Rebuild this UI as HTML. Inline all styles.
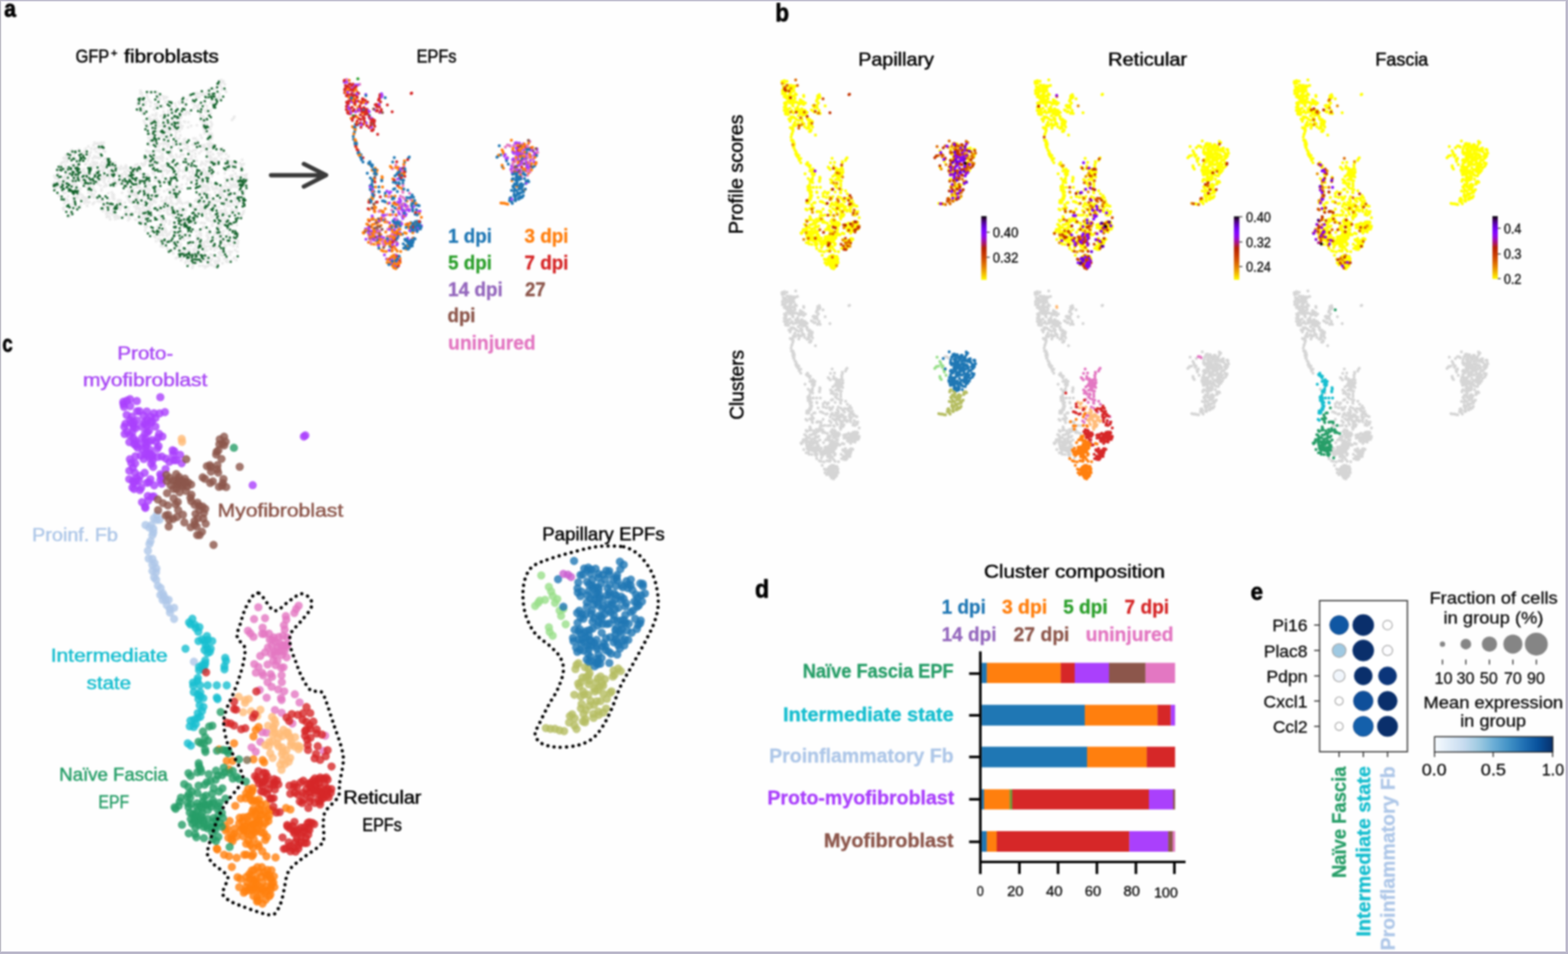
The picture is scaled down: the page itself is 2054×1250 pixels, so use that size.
<!DOCTYPE html>
<html lang="en"><head><meta charset="utf-8"><title>EPF single-cell figure</title>
<style>
html,body{margin:0;padding:0;background:#fff;}
body{width:2054px;height:1250px;overflow:hidden;}
svg{display:block;font-family:'Liberation Sans',sans-serif;}
</style></head><body>
<svg width="2054" height="1250" viewBox="0 0 2054 1250">
<defs><filter id="soft" color-interpolation-filters="sRGB" filterUnits="userSpaceOnUse" x="0" y="0" width="2054" height="1250"><feGaussianBlur stdDeviation="0.8"/></filter></defs>
<rect x="0" y="0" width="2054" height="1250" fill="#fefefe"/>
<g filter="url(#soft)">
<rect x="-10" y="-10" width="2074" height="1270" fill="#fefefe"/>
<text x="5.4" y="21.6" font-size="30.6" fill="#000" font-weight="700" textLength="15.42" lengthAdjust="spacingAndGlyphs" stroke="#000" stroke-width="0.90" stroke-linejoin="round">a</text>
<text fill="#000" stroke="#000" stroke-width="0.6" stroke-linejoin="round"><tspan x="99.0" y="82.2" font-size="24.6" textLength="44.12" lengthAdjust="spacingAndGlyphs">GFP</tspan><tspan x="145.2" y="74.0" font-size="15.5" textLength="8.59" lengthAdjust="spacingAndGlyphs">+</tspan> <tspan x="162.6" y="82.2" font-size="24.6" textLength="124.11" lengthAdjust="spacingAndGlyphs">fibroblasts</tspan></text>
<text x="545.8" y="81.9" font-size="24.2" fill="#000" textLength="52.20" lengthAdjust="spacingAndGlyphs" stroke="#000" stroke-width="0.60" stroke-linejoin="round">EPFs</text>
<path d="M128.3 238.2h0M190.8 262.3h0M105.5 261.3h0M264.7 250.1h0M296.2 281.4h0M275.8 212.9h0M311.1 323.2h0M180.3 259.2h0M144.9 228.8h0M219.3 248.4h0M244.7 336.0h0M241.9 141.4h0M291.5 345.0h0M303.0 244.6h0M216.3 172.4h0M275.8 204.3h0M267.4 321.7h0M77.6 256.1h0M322.9 228.4h0M86.2 252.3h0M172.9 255.1h0M165.0 216.9h0M202.3 263.5h0M222.1 242.1h0M198.8 209.5h0M322.2 232.4h0M174.8 247.3h0M230.4 218.4h0M244.0 189.6h0M251.2 287.5h0M243.1 344.7h0M131.8 215.9h0M221.3 181.3h0M73.1 244.6h0M276.6 160.6h0M115.1 210.5h0M248.9 125.9h0M284.4 211.4h0M154.2 265.2h0M297.8 214.6h0M204.8 148.5h0M277.4 313.0h0M277.5 263.1h0M274.0 168.9h0M261.3 312.5h0M239.7 231.8h0M220.2 172.9h0M302.7 276.2h0M308.0 327.7h0M301.7 246.5h0M239.7 233.3h0M226.4 186.7h0M191.0 298.7h0M206.1 307.5h0M307.5 304.7h0M230.7 319.1h0M136.4 233.9h0M176.8 220.1h0M88.6 227.5h0M158.0 264.3h0M219.7 191.7h0M98.4 241.1h0M253.6 196.6h0M229.2 209.6h0M163.6 226.0h0M250.2 206.8h0M247.9 217.1h0M130.2 236.1h0M296.5 337.9h0M273.2 166.6h0M187.6 131.3h0M279.1 268.2h0M298.5 301.3h0M240.9 286.4h0M213.7 126.2h0M286.5 130.8h0M287.1 271.1h0M285.1 341.9h0M217.7 302.9h0M200.0 281.7h0M151.0 243.3h0M227.4 291.4h0M264.1 271.2h0M201.5 222.9h0M234.5 327.9h0M262.0 332.8h0M201.5 212.5h0M118.2 248.7h0M247.1 342.2h0M143.5 279.2h0M219.2 167.9h0M191.6 197.2h0M191.7 252.1h0M281.3 241.5h0M192.1 283.1h0M290.4 201.7h0M258.2 343.9h0M188.5 158.3h0M242.9 343.5h0M291.0 328.5h0M257.0 121.8h0M218.0 271.6h0M180.3 223.4h0M121.0 248.6h0M208.6 130.3h0M138.0 269.0h0M268.4 292.4h0M143.4 271.7h0M237.4 304.7h0M317.9 270.9h0M206.5 128.8h0M195.4 189.4h0M254.1 272.4h0M214.4 146.2h0M235.2 260.2h0M237.7 131.3h0M152.9 283.0h0M222.5 241.0h0M235.6 216.3h0M263.7 238.0h0M259.8 191.2h0M135.7 197.4h0M294.6 110.7h0M198.2 162.8h0M267.5 189.9h0M207.9 296.0h0M270.1 284.7h0M279.7 290.2h0M221.1 137.2h0M204.2 244.4h0M276.4 326.4h0M192.8 252.7h0M267.9 268.1h0M194.9 233.0h0M186.7 149.1h0M197.1 264.1h0M182.4 243.8h0M86.4 236.9h0M294.1 276.4h0M253.6 287.9h0M310.1 318.8h0M193.1 127.7h0M196.3 277.6h0M206.8 207.2h0M236.1 177.4h0M187.7 292.3h0M301.6 282.8h0M204.7 251.5h0M103.6 216.8h0M110.7 202.6h0M172.8 278.7h0M90.7 220.5h0M109.2 258.1h0M230.8 187.6h0M90.6 273.3h0M319.9 250.4h0M237.4 328.7h0M306.4 338.8h0M288.7 129.1h0M244.2 335.8h0M258.3 312.3h0M191.9 168.4h0M224.7 280.5h0M167.3 223.7h0M264.7 272.0h0M287.0 263.2h0M296.2 321.6h0M258.0 184.8h0M93.5 244.5h0M236.1 161.1h0M234.9 248.7h0M213.4 206.6h0M270.7 253.5h0M272.6 235.9h0M283.3 256.3h0M234.2 293.4h0M224.0 213.2h0M221.7 307.0h0M120.0 237.0h0M187.6 284.9h0M210.8 286.8h0M176.8 264.7h0M224.7 154.4h0M256.3 322.2h0M310.0 236.1h0M302.6 341.2h0M192.9 296.5h0M91.1 283.5h0M143.1 231.9h0M265.8 277.9h0M187.3 233.6h0M208.0 191.4h0M277.5 175.5h0M205.1 236.1h0M271.8 348.7h0M209.1 123.8h0M276.2 206.2h0M178.5 259.4h0M242.9 331.8h0M277.8 162.8h0M272.9 229.2h0M283.7 240.2h0M301.0 330.2h0M188.5 269.0h0M309.3 306.8h0M223.9 205.3h0M201.8 143.4h0M202.8 204.6h0M289.0 310.2h0M310.0 255.6h0M74.0 245.9h0M210.0 223.8h0M139.3 280.2h0M241.2 194.3h0M317.6 263.5h0M113.5 197.4h0M86.8 233.7h0M260.7 312.9h0M231.4 307.7h0M136.1 222.6h0M136.2 238.7h0M235.5 136.1h0M281.5 322.2h0M206.1 197.1h0M94.0 199.0h0M130.4 190.0h0M315.1 223.2h0M270.9 244.5h0M187.6 236.7h0M181.9 235.7h0M245.6 233.4h0M266.7 123.5h0M207.6 212.1h0M104.3 252.5h0M150.7 228.6h0M159.9 252.7h0M311.3 319.0h0M98.3 227.2h0M257.8 186.6h0M235.1 171.7h0M319.3 215.0h0M191.2 235.0h0M204.5 212.2h0M289.9 197.5h0M122.2 239.4h0M297.6 209.5h0M293.3 280.7h0M198.4 201.3h0M163.6 265.5h0M295.3 248.4h0M206.0 287.3h0M283.0 312.8h0M305.2 212.1h0M244.8 130.7h0M281.8 252.1h0M137.8 198.7h0M200.1 209.8h0M230.7 267.6h0M87.9 212.2h0M191.7 207.2h0M300.3 309.9h0M218.7 324.6h0M118.9 199.5h0M89.2 262.9h0M203.2 245.8h0M207.2 172.3h0M204.4 151.4h0M100.8 235.0h0M228.4 190.1h0M267.4 331.1h0M290.7 287.5h0M75.9 226.7h0M284.2 114.5h0M135.0 276.3h0M123.7 212.3h0M214.0 162.4h0M225.7 144.6h0M222.6 259.5h0M272.1 318.3h0M194.4 247.1h0M154.8 286.0h0M218.9 127.3h0M204.4 316.1h0M191.2 237.0h0M218.7 309.3h0M265.4 240.4h0M297.8 237.5h0M243.8 286.7h0M157.9 221.6h0M214.6 163.5h0M94.7 240.7h0M149.8 284.1h0M111.2 200.2h0M117.4 203.7h0M217.0 127.2h0M80.4 222.5h0M118.8 228.3h0M190.9 210.2h0M114.8 245.1h0M199.8 150.7h0M273.2 286.3h0M250.3 290.6h0M125.0 216.1h0M265.7 142.0h0M261.2 228.1h0M246.1 208.6h0M276.7 165.4h0M208.6 248.8h0M110.5 262.7h0M288.1 284.8h0M211.8 289.4h0M259.7 223.1h0M259.5 138.0h0M208.5 269.8h0M224.2 140.9h0M101.8 258.7h0M271.7 199.3h0M226.1 166.9h0M139.8 277.5h0M201.8 183.3h0M276.2 198.7h0M277.0 213.1h0M240.9 183.0h0M124.8 214.9h0M275.7 187.7h0M126.2 205.6h0M216.1 238.6h0M222.5 173.7h0M215.1 167.4h0M265.6 252.7h0M239.5 286.8h0M202.7 208.3h0M274.1 227.0h0M218.5 258.4h0M180.9 132.0h0M98.0 226.9h0M191.7 162.9h0M293.7 330.0h0M145.8 220.1h0M100.8 258.9h0M261.1 234.8h0M267.5 229.1h0M242.5 230.2h0M83.9 271.8h0M187.9 252.8h0M133.3 190.8h0M236.4 288.9h0M316.7 221.1h0M112.8 227.4h0M214.0 186.4h0M258.0 290.8h0M161.3 284.3h0M224.7 263.1h0M256.7 126.4h0M266.8 221.5h0M165.2 227.8h0M169.5 264.1h0M253.4 332.4h0M275.7 281.1h0M269.5 328.4h0M98.0 251.0h0M290.1 330.2h0M180.0 136.9h0M122.5 237.7h0M212.8 201.2h0M198.9 175.7h0M285.5 337.2h0M263.3 308.2h0M305.5 241.7h0M96.5 208.5h0M240.2 127.1h0M156.4 266.2h0M221.5 163.7h0M98.5 246.2h0M149.0 238.0h0M142.2 223.6h0M270.0 211.2h0M267.2 222.6h0M208.7 221.7h0M195.9 214.7h0M189.8 281.7h0M207.7 313.1h0M287.5 322.8h0M263.9 214.7h0M260.9 302.1h0M295.3 239.3h0M75.9 229.7h0M250.7 288.9h0M228.4 294.6h0M116.3 236.2h0M219.8 132.6h0M241.4 134.7h0M256.9 303.2h0M301.6 211.3h0M168.1 232.2h0M266.7 297.3h0M309.2 285.3h0M221.7 202.8h0M317.2 209.4h0M314.1 265.1h0M186.0 267.7h0M223.7 256.9h0M195.7 232.8h0M85.1 223.2h0M182.0 280.7h0M100.8 242.6h0M316.8 215.6h0M214.2 173.6h0M238.8 306.5h0M181.1 224.2h0M229.8 248.5h0M201.9 187.2h0M82.9 240.4h0M161.2 236.3h0M218.2 160.6h0M262.8 158.1h0M280.5 247.2h0M105.0 208.9h0M307.3 313.7h0M310.1 277.4h0M275.2 124.2h0M261.0 200.7h0M265.0 274.5h0M287.4 110.8h0M135.5 193.6h0M178.5 270.3h0M296.3 288.0h0M309.3 276.8h0M159.4 229.0h0M262.1 307.0h0M227.0 158.0h0M236.0 223.3h0M117.1 244.8h0M297.8 249.0h0M294.3 324.5h0M237.0 153.5h0M264.4 245.9h0M282.4 190.5h0M239.6 196.1h0M212.9 210.6h0M234.5 231.3h0M297.9 292.7h0M257.5 308.9h0M237.0 154.2h0M254.7 232.9h0M236.0 290.9h0M238.1 247.2h0M229.3 248.4h0M147.4 257.3h0M98.8 233.5h0M276.8 220.1h0M263.8 197.7h0M203.2 141.0h0M290.8 294.1h0M265.1 121.1h0M214.1 223.9h0M298.4 258.6h0M96.2 238.2h0M291.1 249.8h0M282.3 247.2h0M230.3 181.9h0M273.7 151.0h0M271.8 205.4h0M197.0 139.0h0M128.0 263.7h0M228.9 308.8h0M111.1 259.2h0M271.0 323.0h0M290.3 312.7h0M211.4 322.3h0M131.4 217.1h0M217.0 288.1h0M298.2 343.3h0M275.6 326.0h0M275.2 203.7h0M127.4 206.4h0M261.1 122.6h0M280.5 307.8h0M316.1 219.4h0M252.0 351.1h0M231.4 316.9h0M281.4 281.5h0M106.9 238.9h0M230.5 139.4h0M133.1 274.9h0M318.0 256.0h0M313.4 233.7h0M263.2 273.4h0M117.2 231.5h0M218.2 217.8h0M238.9 330.9h0M274.3 306.3h0M230.4 338.3h0M180.9 242.8h0M324.1 235.5h0M273.0 177.1h0M296.4 120.3h0M319.4 255.0h0M134.1 217.9h0M285.5 280.6h0M94.3 196.4h0M195.9 280.5h0M144.2 287.3h0M219.1 173.3h0M272.4 118.7h0M221.2 147.7h0M77.2 221.5h0M202.2 255.6h0M271.4 139.1h0M112.3 194.8h0M243.3 189.5h0M237.2 340.9h0M273.8 259.6h0M229.9 178.6h0M233.8 264.9h0M219.8 224.6h0M262.9 151.9h0M252.9 348.5h0M280.3 247.6h0M84.2 259.9h0M264.5 124.2h0M150.6 213.3h0M210.6 204.9h0M299.7 308.8h0M211.3 258.7h0M202.3 227.6h0M281.1 327.8h0M213.8 163.9h0M110.8 259.0h0M283.8 245.4h0M264.0 119.2h0M289.2 201.6h0M270.1 212.1h0M290.9 279.6h0M217.6 222.6h0M214.4 177.5h0M321.8 229.7h0M243.1 186.2h0M182.2 132.7h0M104.9 232.7h0M161.6 236.5h0M87.2 205.7h0M289.9 245.3h0M204.2 136.8h0M223.7 316.2h0M229.3 277.8h0M164.7 228.5h0M137.7 267.2h0M266.6 161.0h0M151.8 228.3h0M133.6 188.2h0M262.4 253.3h0M182.7 219.8h0M226.7 273.9h0M217.1 164.7h0M265.6 234.2h0M312.4 265.6h0M119.3 194.7h0M194.2 208.1h0M239.3 309.9h0M170.0 253.1h0M137.3 215.4h0M200.7 227.6h0M202.6 201.3h0M122.7 228.2h0M220.7 178.1h0M295.4 330.7h0M272.1 261.7h0M322.2 241.1h0M243.1 265.8h0M291.1 317.4h0M291.5 315.6h0M245.9 236.0h0M229.9 170.4h0M115.9 252.3h0M187.5 276.9h0M259.5 254.0h0M288.2 194.9h0M204.8 249.2h0M147.2 258.8h0M284.1 297.3h0M269.2 336.2h0M199.2 220.0h0M98.7 265.7h0M300.8 290.4h0M101.0 198.0h0M252.3 293.9h0M220.6 169.9h0M159.8 231.1h0M231.6 266.8h0M230.7 202.6h0M185.5 139.5h0M221.2 314.1h0M233.7 303.5h0M312.5 234.6h0M264.4 320.3h0M255.8 229.0h0M207.5 129.4h0M119.9 255.0h0M288.9 265.1h0M258.0 335.6h0M296.0 201.8h0M261.1 306.1h0M115.8 248.6h0M210.3 188.6h0M240.5 202.7h0M263.0 238.6h0M196.0 256.8h0M267.6 169.1h0M219.1 238.0h0M271.0 308.9h0M282.7 342.2h0M115.4 265.4h0M234.1 277.7h0M105.7 233.3h0M252.1 332.8h0M151.2 279.7h0M282.7 305.3h0M275.1 278.5h0M292.4 307.7h0M226.8 320.0h0M208.7 127.5h0M154.1 219.7h0M294.8 274.1h0M273.2 219.4h0M206.7 233.7h0M84.9 261.2h0M92.6 198.0h0M200.9 262.4h0M79.5 215.8h0M135.6 275.1h0M230.6 168.4h0M205.4 259.4h0M111.5 228.8h0M222.3 223.7h0M199.2 219.7h0M117.9 215.5h0M268.6 350.5h0M198.4 210.0h0M305.0 244.3h0M288.2 307.0h0M208.3 300.0h0M145.5 230.1h0M209.9 313.6h0M111.8 259.1h0M185.0 249.0h0M265.3 291.9h0M222.1 250.2h0M214.8 287.9h0M252.3 217.4h0M114.2 269.7h0M96.4 235.5h0M184.2 276.6h0M189.7 228.1h0M205.6 191.4h0M264.2 336.9h0M244.9 286.1h0M255.9 201.4h0M237.9 189.2h0M271.3 328.2h0M247.1 298.6h0M103.0 255.0h0M288.6 249.0h0M274.8 346.5h0M300.7 264.9h0M134.2 271.3h0M232.4 165.6h0M111.2 226.8h0M252.3 269.0h0M233.9 327.8h0M264.5 212.3h0M261.4 268.9h0M164.9 282.4h0M262.7 177.2h0M222.7 214.0h0M267.2 318.7h0M304.5 292.2h0M177.6 277.8h0M148.9 242.3h0M214.7 301.8h0M189.2 206.8h0M211.5 217.1h0M257.7 127.3h0M223.1 261.6h0M311.1 308.6h0M206.8 158.2h0M168.4 283.4h0M262.1 149.2h0M302.2 255.7h0M298.9 235.2h0M194.1 165.5h0M310.3 236.4h0M238.0 272.8h0M276.8 267.0h0M105.5 247.2h0M185.2 284.7h0M181.0 145.0h0M198.0 134.1h0M255.0 342.4h0M94.5 267.9h0M195.9 283.4h0M269.3 133.7h0M280.6 210.2h0M275.9 276.6h0M163.9 272.1h0M261.3 348.4h0M293.7 324.6h0M181.3 254.1h0M238.9 202.9h0M274.3 193.6h0M149.8 273.0h0M248.3 311.4h0M313.3 244.1h0M290.8 254.9h0M189.3 280.0h0M200.0 226.0h0M164.0 280.1h0M266.2 157.9h0M194.8 231.0h0M270.6 269.9h0M220.0 266.3h0M252.5 130.4h0M252.0 134.7h0M253.5 181.5h0M181.8 261.8h0M297.9 237.9h0M196.1 211.0h0M256.0 205.6h0M287.6 320.5h0M262.5 143.8h0M95.5 199.7h0M267.5 324.4h0M307.6 301.9h0M270.5 170.7h0M270.4 271.6h0M135.9 186.9h0M272.2 288.6h0M266.0 166.8h0M202.2 188.6h0M299.6 306.2h0M113.6 264.0h0M164.6 276.8h0M206.0 120.9h0M215.1 266.2h0M291.1 280.5h0M137.5 213.3h0M255.1 137.6h0M186.5 232.1h0M214.7 275.9h0M137.0 220.4h0M186.7 126.2h0M272.1 343.7h0M212.7 204.3h0M121.8 267.4h0M212.9 308.1h0M175.6 229.9h0M301.7 230.4h0M254.0 339.2h0M308.2 253.0h0M206.2 186.3h0M303.0 242.9h0M131.9 234.0h0M134.7 191.8h0M310.3 294.9h0M129.9 256.4h0M226.6 282.9h0M82.7 243.6h0M99.9 208.3h0M268.7 159.3h0M293.7 320.6h0M212.8 138.1h0M86.5 220.1h0M225.5 248.7h0M280.1 127.5h0M256.1 181.5h0M230.0 275.3h0M150.5 219.6h0M224.3 162.8h0M97.1 203.2h0M252.7 272.3h0M121.6 267.0h0M285.1 278.7h0M218.0 260.0h0M160.0 269.7h0M151.0 287.1h0M264.1 190.4h0M261.8 229.0h0M288.1 312.0h0M281.8 324.1h0M195.7 265.6h0M122.9 258.8h0M112.7 244.6h0M286.6 310.1h0M290.1 208.1h0M208.0 238.5h0M270.3 249.2h0M109.9 235.2h0M220.7 186.8h0M300.4 301.3h0M259.4 229.7h0M232.7 185.5h0M215.1 250.4h0M188.7 280.4h0M239.3 130.9h0M168.3 282.9h0M178.5 237.4h0M116.7 202.1h0M234.2 133.8h0M180.0 244.5h0M226.7 158.4h0M216.6 186.7h0M192.0 296.4h0M253.6 279.2h0M170.7 238.9h0M190.1 302.0h0M268.0 174.6h0M201.1 179.5h0M307.1 301.9h0M245.5 218.4h0M226.4 205.2h0M239.1 337.9h0M235.3 158.9h0M139.6 231.8h0M190.4 137.4h0M288.3 276.8h0M225.8 169.6h0M239.2 312.8h0M161.7 220.8h0M284.5 276.8h0M256.6 196.4h0M297.0 264.3h0M221.0 190.0h0M274.4 183.8h0M226.7 169.5h0M268.6 170.9h0M291.0 326.9h0M313.1 258.2h0M287.8 330.6h0M211.7 178.0h0M170.2 280.8h0M225.1 311.6h0M236.3 321.6h0M223.9 201.3h0M205.0 155.9h0M132.7 231.9h0M153.0 221.9h0M157.4 241.1h0M270.4 338.3h0M162.1 220.1h0M267.2 160.5h0M187.6 215.5h0M127.0 188.3h0M198.8 157.9h0M204.7 124.7h0M71.0 230.4h0M281.6 324.2h0M270.6 122.2h0M238.2 242.1h0M189.8 207.3h0M191.1 133.8h0M123.7 204.6h0M236.0 315.1h0M178.0 222.8h0M303.4 329.8h0M180.3 135.3h0M261.4 126.9h0M123.5 265.1h0M200.9 157.3h0M263.2 272.4h0M269.0 276.2h0M303.3 265.4h0M248.7 267.4h0M278.8 323.4h0M300.2 329.4h0M71.4 239.0h0M182.0 279.2h0M192.7 238.3h0M263.8 264.7h0M291.3 304.1h0M284.4 264.1h0M290.0 108.2h0M285.8 200.6h0M272.4 248.1h0M159.2 233.5h0M295.0 264.8h0M235.5 287.0h0M293.5 302.7h0M139.5 243.3h0M302.0 257.7h0M219.0 208.5h0M236.8 274.4h0M217.2 155.9h0M125.9 258.8h0M268.3 171.3h0M230.8 172.4h0M142.7 261.7h0M177.2 216.3h0M75.2 234.1h0M264.7 325.6h0M267.9 292.7h0M200.2 255.9h0M155.5 284.1h0M217.5 318.2h0M292.8 248.8h0M276.0 289.6h0M268.1 191.6h0M292.6 256.7h0M213.6 268.8h0M206.0 297.5h0M157.6 263.6h0M200.0 298.5h0M250.9 231.9h0M196.4 274.7h0M270.8 256.8h0M292.7 315.1h0M132.8 187.4h0M256.8 318.1h0M274.7 122.7h0M189.4 204.0h0M268.2 326.2h0M204.6 150.3h0M232.8 226.2h0M231.9 156.3h0M311.8 315.7h0M270.6 280.2h0M242.3 182.2h0M202.8 236.7h0M281.3 342.2h0M298.0 270.0h0M214.0 193.4h0M214.7 129.7h0M204.8 136.5h0M146.6 241.0h0M175.7 229.4h0M212.4 290.9h0M208.9 307.2h0M290.2 276.0h0M305.7 237.5h0M146.9 276.0h0M263.1 292.2h0M111.6 228.8h0M252.5 224.1h0M157.2 221.3h0M276.9 221.2h0M271.9 188.5h0M80.5 220.0h0M301.5 235.6h0M279.4 313.8h0M274.9 175.7h0M198.3 121.2h0M212.9 232.1h0M109.3 223.2h0M276.0 148.5h0M87.1 245.6h0M269.6 280.6h0M172.3 281.4h0M207.9 254.3h0M268.3 328.5h0M217.8 261.9h0M90.9 228.9h0M255.5 236.1h0M193.1 209.8h0M84.1 266.6h0M149.7 261.0h0M189.8 230.1h0M197.5 163.6h0M254.4 329.3h0M267.3 154.3h0M90.2 207.5h0M175.7 224.4h0M181.6 252.2h0M257.3 122.1h0M290.9 256.1h0M287.3 105.6h0M263.6 235.6h0M132.9 249.9h0M318.8 251.4h0M275.0 199.4h0M219.8 190.0h0M194.5 180.4h0M149.0 258.1h0M142.0 253.2h0M136.6 235.4h0M85.8 224.1h0M176.7 265.2h0M203.9 206.2h0M273.7 166.7h0M267.0 320.4h0M90.4 267.1h0M189.9 295.9h0M105.1 268.3h0M196.4 190.9h0M295.4 208.5h0M223.0 159.9h0M271.9 267.3h0M276.0 143.9h0M279.8 125.9h0M278.4 334.3h0M278.3 189.0h0M243.9 308.0h0M312.7 231.7h0M286.7 331.4h0M268.0 193.9h0M185.4 285.4h0M190.2 284.3h0M203.1 136.5h0M148.7 261.2h0M81.9 243.3h0M294.2 285.8h0M251.2 203.9h0M214.6 295.0h0M279.4 283.5h0M94.2 216.4h0M164.5 217.7h0M224.4 198.3h0M294.7 314.5h0M122.2 215.3h0M305.5 223.6h0M119.8 253.0h0M288.2 284.4h0M100.4 271.9h0M190.7 163.1h0M275.6 305.4h0M292.3 127.7h0M213.6 150.4h0M236.5 282.2h0M118.6 248.1h0M181.2 272.4h0M190.7 275.1h0M107.3 200.5h0M279.3 267.6h0M195.1 131.4h0M276.6 207.5h0M77.0 228.5h0M145.4 270.1h0M309.7 340.8h0M255.8 335.8h0M214.8 288.3h0M181.6 268.3h0M288.1 279.5h0M274.8 255.6h0M134.8 263.6h0M122.1 236.8h0M322.7 235.1h0M109.9 234.0h0M260.0 142.4h0M189.4 149.3h0M291.3 194.5h0M273.7 248.6h0M129.9 200.9h0M149.7 271.2h0M240.7 188.3h0M87.7 225.3h0M255.5 326.2h0M250.6 288.1h0M148.5 220.3h0M266.4 277.1h0M244.4 333.2h0M230.2 181.0h0M281.6 304.9h0M222.6 304.9h0M292.8 198.9h0M81.7 213.0h0M92.7 236.7h0M196.1 202.4h0M241.4 328.3h0M158.5 218.0h0M121.9 236.4h0M277.4 128.3h0M196.8 175.4h0M232.9 256.0h0M309.6 284.7h0M245.4 328.3h0M292.6 291.7h0M292.7 106.4h0M142.8 226.5h0M157.1 262.5h0M283.3 115.1h0M137.1 228.1h0M246.3 166.8h0M271.5 162.3h0M216.7 188.6h0M184.8 247.6h0M190.8 207.0h0M310.7 244.9h0M298.8 245.9h0M237.6 149.8h0M122.6 219.8h0M301.6 270.0h0M179.2 245.4h0M72.3 233.2h0M265.0 319.2h0M251.7 236.9h0M209.1 165.1h0M83.0 248.0h0M219.3 274.6h0M169.7 286.8h0M245.9 338.4h0M317.6 238.4h0M271.6 127.9h0M258.0 164.1h0M294.5 227.0h0M287.4 341.7h0M145.2 213.0h0M211.5 318.1h0M152.0 241.1h0M138.4 213.1h0M79.4 237.6h0M227.4 250.3h0M116.9 229.2h0M88.1 241.4h0M107.9 255.3h0M95.7 263.9h0M257.6 210.5h0M282.2 303.6h0M292.8 263.6h0M274.6 174.9h0M311.0 266.2h0M284.1 113.6h0M268.6 250.6h0M243.5 332.0h0M219.2 185.4h0M217.7 168.3h0M154.0 227.1h0M216.8 264.2h0M263.4 315.4h0M85.7 216.6h0M258.7 328.4h0M157.0 272.4h0M262.6 312.6h0M311.1 329.9h0M118.3 258.3h0M233.0 213.7h0M287.8 122.9h0M304.5 302.8h0M184.1 122.5h0M289.5 298.2h0M293.7 339.3h0M240.1 224.7h0M276.0 135.0h0M279.2 202.1h0M302.7 282.0h0M125.8 225.2h0M158.9 268.1h0M252.7 227.5h0M112.9 260.8h0M281.9 216.4h0M79.1 239.5h0M217.3 290.5h0M150.5 236.6h0M125.2 206.3h0M250.5 302.6h0M293.7 258.8h0M189.3 215.9h0M235.4 323.7h0M170.7 253.9h0M271.8 236.0h0M207.4 137.8h0M244.6 284.7h0M145.4 268.0h0M152.6 238.9h0M318.6 277.8h0M253.4 334.2h0M254.5 274.1h0M319.5 276.6h0M98.3 219.7h0M169.6 246.8h0M107.3 259.3h0M156.2 271.1h0M83.9 275.2h0M195.7 187.7h0M207.4 205.9h0M189.4 247.0h0M185.2 280.3h0M97.4 215.4h0M304.4 229.9h0M138.5 220.4h0M277.8 228.9h0M103.6 223.8h0M139.9 284.4h0M188.0 256.8h0M237.7 202.5h0M197.5 278.0h0M248.0 198.1h0M279.3 247.5h0M82.4 272.9h0M211.8 209.1h0M180.0 215.3h0M220.6 144.9h0M103.6 255.2h0M226.3 245.0h0M92.8 207.1h0M292.7 250.5h0M271.5 205.2h0M248.0 270.0h0M248.1 327.0h0M213.0 156.3h0M226.9 332.0h0M210.4 151.9h0M236.9 319.6h0M283.4 263.2h0M148.6 217.8h0M302.2 280.7h0M209.6 236.5h0M255.9 263.7h0M275.9 227.2h0M104.1 215.0h0M149.9 275.7h0M260.1 311.2h0M169.6 286.1h0M246.7 160.1h0M287.6 107.1h0M197.4 242.5h0M188.9 146.6h0M86.5 228.9h0M128.6 187.8h0M225.2 244.4h0M145.2 217.1h0M309.7 312.4h0M173.7 282.6h0M215.9 299.5h0M288.0 304.2h0M274.7 322.3h0M95.2 209.3h0M308.9 284.4h0M216.5 133.9h0M220.6 225.0h0M141.4 259.5h0M254.6 287.4h0M217.8 216.7h0M177.3 287.6h0M82.4 243.1h0M246.9 299.0h0M227.4 153.3h0M244.4 240.9h0M289.2 108.2h0M275.7 342.0h0M136.3 244.3h0M133.8 217.2h0M306.2 321.6h0M192.7 247.5h0M117.8 243.5h0M263.3 147.3h0M203.9 274.8h0M83.2 233.9h0M205.1 222.6h0M227.3 188.6h0M250.3 164.8h0M202.7 171.8h0M204.9 192.1h0M319.8 229.7h0M214.0 308.6h0M231.6 205.4h0M197.8 303.5h0M87.8 243.2h0M176.0 255.9h0M168.3 250.8h0M143.3 233.7h0M271.6 171.2h0M254.1 292.7h0M308.3 288.0h0M233.0 261.9h0M115.7 191.8h0M99.0 229.5h0M302.5 263.3h0M273.7 274.3h0M318.6 264.2h0M149.2 259.6h0M203.9 265.0h0M226.5 228.7h0M124.5 228.5h0M189.6 238.7h0M182.4 142.2h0M130.8 264.3h0M276.9 240.0h0M276.5 277.0h0M179.3 225.2h0M197.1 273.8h0M131.1 222.1h0M287.0 297.9h0M271.7 335.5h0M273.1 190.4h0M266.5 223.2h0M214.1 140.6h0M259.0 184.4h0M178.7 233.5h0M265.3 348.1h0M293.4 269.3h0M142.5 237.8h0M229.7 189.5h0M121.6 207.4h0M307.0 337.4h0M182.4 277.6h0M305.7 322.4h0M209.0 308.2h0M291.0 317.6h0M198.5 120.2h0M193.1 229.0h0M270.6 212.1h0M84.3 211.9h0M145.0 226.0h0M210.2 275.2h0M225.0 302.1h0M80.2 257.6h0M244.8 195.0h0M135.1 220.1h0M250.0 317.9h0M226.4 258.4h0M271.6 304.8h0M207.2 158.4h0M229.3 135.8h0M118.7 240.2h0M208.1 213.2h0M281.4 349.5h0M211.7 263.5h0M177.2 253.9h0M199.6 161.7h0M262.4 227.9h0M156.5 284.4h0M231.2 226.8h0M103.5 195.6h0M206.5 166.5h0M301.3 333.9h0M294.2 277.1h0M101.9 258.7h0M217.2 302.7h0M277.8 210.8h0M295.1 214.3h0M211.3 301.5h0M103.7 216.8h0M305.0 212.5h0M120.8 218.5h0M274.9 191.7h0M181.4 261.8h0M110.0 221.4h0M117.0 201.7h0M277.6 339.6h0M187.4 272.3h0M310.6 269.5h0M268.9 349.0h0M226.2 222.2h0M202.0 207.8h0M233.9 323.5h0M231.1 267.1h0M192.6 198.7h0M126.0 198.8h0M281.4 192.6h0M78.9 242.9h0M200.0 259.3h0M266.1 163.5h0M311.1 305.9h0M295.2 274.9h0M290.4 252.6h0M298.5 263.6h0M297.0 279.0h0M268.5 145.2h0M231.5 275.6h0M224.1 201.3h0M308.8 287.0h0M222.1 249.0h0M214.0 182.1h0M183.6 273.4h0M246.3 311.7h0M69.2 241.9h0M247.8 125.0h0M183.4 131.1h0M193.5 258.6h0M256.9 332.7h0M196.6 158.5h0M269.3 216.1h0M111.7 215.3h0M202.5 169.1h0M149.3 255.4h0M307.3 259.6h0M125.6 230.4h0M280.7 207.9h0M201.8 214.4h0M160.1 228.4h0M219.5 180.0h0M125.9 194.1h0M114.9 260.0h0M210.3 287.0h0M233.7 258.3h0M126.0 206.0h0M306.3 268.4h0M198.5 180.2h0M208.1 295.9h0M196.5 249.1h0M210.6 322.4h0M139.8 228.6h0M142.3 273.4h0M203.6 252.5h0M227.7 275.2h0M299.1 263.6h0M182.3 235.0h0M87.4 260.9h0M264.8 299.5h0M242.1 159.8h0M211.6 314.1h0M282.5 268.6h0M199.1 267.5h0M309.9 255.2h0M235.2 288.8h0M240.3 135.4h0M285.3 300.9h0M128.3 240.8h0M163.3 225.2h0M270.9 339.5h0M264.3 180.6h0M209.6 196.8h0M213.6 206.5h0M239.2 292.7h0M175.7 225.6h0M243.0 150.1h0M146.0 212.4h0M195.6 198.6h0M277.3 284.5h0M147.0 255.7h0M279.4 291.7h0M267.4 170.1h0M265.8 162.7h0M229.4 299.1h0M98.9 238.1h0M255.2 281.4h0M275.9 218.1h0M291.4 244.7h0M202.2 205.7h0M229.3 250.6h0M227.3 191.2h0M278.7 322.4h0M87.8 204.7h0M289.0 112.6h0M83.2 206.9h0M148.3 213.9h0M271.2 231.1h0M274.1 221.3h0M224.0 195.0h0M312.4 266.1h0M287.8 251.4h0M295.5 119.0h0M276.0 159.3h0M251.8 198.5h0M235.5 205.5h0M197.0 268.3h0M258.5 128.9h0M203.4 151.2h0M204.1 251.7h0M281.9 123.7h0M285.1 324.9h0M281.8 262.9h0M173.4 219.6h0M318.5 279.7h0M82.2 250.6h0M262.8 216.3h0M270.5 144.5h0M291.7 334.6h0M144.3 242.0h0M140.4 212.1h0M168.4 276.1h0M189.9 161.9h0M138.7 241.6h0M76.9 233.8h0M230.6 174.6h0M196.2 263.5h0M233.1 337.2h0M163.4 238.6h0M267.4 318.1h0M221.4 235.4h0M122.5 190.5h0M97.1 258.8h0M180.7 236.1h0M290.4 117.5h0M303.9 215.7h0M310.2 231.4h0M220.2 280.9h0M109.1 206.6h0M316.2 217.6h0M128.7 223.1h0M260.8 316.1h0M98.4 218.0h0M186.3 146.9h0M226.1 212.5h0M172.5 233.7h0M270.3 162.8h0M192.3 254.1h0M133.0 247.9h0M241.3 159.1h0M166.6 243.8h0M303.8 263.3h0M110.9 198.0h0M308.7 215.0h0M203.9 311.3h0M213.6 219.8h0M255.1 234.2h0M89.9 247.3h0M108.4 229.6h0M113.1 233.2h0M157.4 274.3h0M224.0 203.9h0M256.8 261.8h0M199.3 160.2h0M287.1 126.4h0M133.6 212.4h0M221.7 280.6h0M76.6 237.4h0M301.4 320.7h0M252.7 294.3h0M312.7 250.6h0M237.2 265.7h0M122.0 218.9h0M249.0 289.5h0M230.6 240.7h0M195.7 153.3h0M253.3 326.7h0M289.2 307.2h0M269.4 226.1h0M275.2 199.3h0M190.4 276.6h0M185.6 289.5h0M245.0 188.2h0M171.6 227.5h0M201.8 250.9h0M121.2 212.1h0M267.6 266.0h0M243.0 289.4h0M300.4 216.8h0M275.3 116.2h0M300.6 250.5h0M202.9 158.9h0M171.8 228.7h0M185.5 214.4h0M231.3 279.9h0M201.6 189.8h0M263.0 156.6h0M319.5 277.1h0M199.7 170.5h0M202.1 209.2h0M217.4 316.9h0M267.5 266.4h0M297.0 265.4h0M283.5 271.2h0M120.6 254.4h0M260.8 275.3h0M218.8 306.6h0M297.9 253.0h0M194.1 155.9h0M258.6 284.5h0M323.3 243.4h0M183.8 250.8h0M147.0 240.9h0M145.7 226.2h0M180.3 241.0h0M233.9 264.7h0M241.1 314.0h0M132.6 235.4h0M206.0 177.0h0M106.8 236.8h0M249.5 231.2h0M283.3 302.7h0M258.2 279.2h0M201.4 284.7h0M131.7 264.0h0M234.4 194.5h0M268.6 159.8h0M265.8 214.3h0M219.0 226.9h0M246.5 192.2h0M262.0 313.0h0M209.6 129.9h0M290.6 115.8h0M134.1 224.0h0M214.3 167.0h0M265.4 341.4h0M135.7 230.7h0M253.6 141.7h0M202.6 245.0h0M284.9 247.6h0M297.4 282.1h0M195.4 241.6h0M193.0 247.4h0M213.5 162.7h0M287.3 253.9h0M298.5 256.9h0M89.9 202.6h0M228.9 317.0h0M239.1 149.4h0M323.7 235.3h0M88.2 205.2h0M150.5 283.5h0M105.3 271.8h0M201.6 243.1h0M212.9 306.4h0M120.4 255.9h0M258.7 122.7h0M238.2 187.2h0M236.1 262.9h0M249.9 336.9h0M123.4 195.5h0M175.5 234.0h0M230.1 162.1h0M123.8 186.8h0M140.7 283.4h0M248.2 215.1h0M78.2 245.6h0M314.4 213.9h0M209.9 239.9h0M84.2 207.7h0M308.6 241.6h0M155.4 237.9h0M157.1 265.1h0M174.8 262.0h0M262.9 339.0h0M201.6 264.0h0M123.2 227.7h0M188.1 238.5h0M190.0 287.9h0M117.2 204.5h0M197.1 134.2h0M234.2 244.7h0M141.0 278.8h0M273.1 311.2h0M306.2 315.9h0M241.0 332.2h0M93.5 215.5h0M104.3 255.1h0M115.7 207.7h0M271.6 235.8h0M193.6 155.5h0M85.8 264.7h0M274.3 236.8h0M246.4 265.0h0M299.3 255.7h0M154.8 262.5h0M189.0 134.6h0M253.2 339.1h0M181.4 245.1h0M176.0 270.8h0M108.6 222.5h0M234.9 292.1h0M216.8 301.4h0M238.2 277.2h0M161.7 241.0h0M278.6 211.1h0M251.6 332.2h0M240.3 208.5h0M244.3 341.8h0M295.4 243.5h0M285.9 304.9h0M183.8 223.7h0M100.8 256.7h0M271.3 287.1h0M303.4 274.3h0M262.9 147.9h0M222.7 270.3h0M167.3 230.2h0M190.3 213.5h0M281.8 282.5h0M277.1 182.1h0M146.4 251.8h0M298.9 269.5h0M222.0 271.8h0M191.5 283.2h0M287.2 255.7h0M183.8 290.1h0M196.7 156.7h0M248.3 225.5h0M209.3 315.4h0M263.3 300.3h0M264.7 192.3h0M274.5 206.6h0M123.0 254.9h0M277.7 294.8h0M275.6 346.1h0M269.3 340.9h0M165.5 220.7h0M87.7 241.9h0M220.6 187.7h0M273.6 304.3h0M143.4 283.7h0M271.3 143.5h0M222.7 289.7h0M284.2 128.5h0M268.2 245.6h0M257.3 340.5h0M216.2 216.1h0M168.9 224.0h0M299.6 319.1h0M152.4 241.8h0M138.7 270.8h0M268.6 196.0h0M95.8 279.1h0M262.5 265.9h0M277.6 244.6h0M257.5 271.4h0M178.1 287.9h0M241.6 210.6h0M78.6 257.2h0M319.0 222.6h0M277.6 230.7h0M282.1 344.7h0M238.5 303.4h0M187.6 216.6h0M289.8 329.2h0M101.3 257.3h0M239.4 331.5h0M265.0 157.2h0M127.1 213.1h0M135.3 191.1h0M286.9 304.9h0M294.5 260.1h0M109.3 240.8h0M203.9 215.5h0M264.1 277.0h0M220.9 146.3h0M229.7 241.6h0M276.9 188.7h0M268.0 297.9h0M147.4 253.0h0M278.4 317.9h0M296.3 342.5h0M287.7 339.2h0M247.3 147.1h0M230.4 249.6h0M278.5 269.9h0M107.4 204.9h0M237.9 168.4h0M202.4 155.7h0M299.0 221.9h0M238.1 304.0h0M265.8 276.8h0M277.0 192.4h0M205.5 172.3h0M286.8 204.1h0M168.4 271.8h0M222.9 201.2h0M254.1 242.4h0M241.1 210.4h0M283.3 208.0h0M292.8 108.0h0M271.5 197.6h0M100.0 252.4h0M191.4 145.9h0M105.7 200.9h0M270.2 243.6h0M243.8 147.9h0M310.4 237.6h0M268.6 254.8h0M189.1 264.1h0M281.5 335.1h0M147.1 214.6h0M246.7 201.4h0M306.8 253.4h0M233.8 220.5h0M180.9 268.2h0M168.6 237.0h0M116.2 238.0h0M270.7 227.9h0M132.6 259.8h0M260.8 269.1h0M147.2 280.6h0M124.0 187.9h0M101.7 247.2h0M251.4 208.7h0M215.5 263.2h0M249.5 208.1h0M304.6 214.4h0M172.2 238.4h0M320.9 261.6h0M278.4 296.2h0M121.9 244.9h0M257.0 190.4h0M267.9 273.3h0M315.7 281.3h0M263.6 234.4h0M210.2 178.1h0M155.8 272.2h0M186.4 126.9h0M88.8 283.9h0M126.8 223.8h0M259.0 261.3h0M83.9 253.3h0M275.9 333.4h0M217.9 234.1h0M231.7 318.7h0M283.5 324.4h0M308.0 260.8h0M310.6 273.8h0M238.6 289.2h0M190.7 280.6h0M225.2 255.0h0M237.8 303.9h0M265.1 342.9h0M164.6 243.3h0M263.1 191.9h0M209.2 172.2h0M213.1 228.9h0M207.1 300.2h0M316.7 223.1h0M271.4 203.0h0M203.3 166.3h0M301.1 240.1h0M193.9 166.9h0M110.7 266.1h0M245.9 321.8h0M253.4 344.8h0M202.2 184.9h0M223.5 232.3h0M259.0 186.3h0M110.0 225.4h0M245.0 216.2h0M195.0 186.3h0M224.8 243.6h0M84.2 231.4h0M274.4 167.3h0M154.7 265.1h0M224.6 328.4h0M136.8 208.4h0M210.0 124.2h0M99.7 270.6h0M251.2 220.0h0M294.5 286.9h0M278.3 334.3h0M98.4 222.6h0M87.8 208.4h0M105.8 225.7h0M273.0 240.8h0M258.0 314.2h0M81.3 250.1h0M250.2 338.1h0M254.5 187.2h0M187.2 258.7h0M151.9 218.5h0M89.3 257.0h0M125.3 251.1h0M248.0 149.0h0M234.5 181.5h0M206.9 307.0h0M226.3 229.0h0M131.1 194.2h0M198.9 211.8h0M194.9 271.9h0M306.6 275.9h0M276.8 133.4h0M207.9 192.0h0M208.8 139.1h0M222.5 173.3h0M95.9 243.1h0M261.8 257.8h0M202.3 255.1h0M208.0 300.4h0M205.7 276.1h0M284.7 306.8h0M278.1 178.8h0M303.4 232.1h0M204.7 188.8h0M230.1 146.2h0M131.6 243.2h0M273.3 211.9h0M178.7 259.7h0M226.5 267.1h0M204.9 186.1h0M112.0 234.4h0M253.3 300.8h0M115.9 265.3h0M268.4 158.1h0M196.1 183.7h0M287.6 315.6h0M137.0 233.4h0M271.4 127.9h0M198.4 215.7h0M127.4 187.6h0M295.1 289.7h0M208.2 270.2h0M272.8 312.0h0M266.6 242.9h0M304.7 317.4h0M97.6 204.1h0M273.9 300.2h0M237.6 266.6h0M216.8 195.9h0M229.0 326.2h0M246.4 235.7h0M245.1 307.7h0M297.5 340.3h0M242.0 221.3h0M321.1 235.6h0M245.3 306.5h0M282.2 214.2h0M178.7 273.9h0M76.3 222.9h0M308.2 244.6h0M211.7 302.8h0M106.3 208.9h0M149.7 275.7h0M171.8 265.5h0M143.6 209.2h0M174.5 252.3h0M208.3 282.2h0M239.4 297.4h0M187.6 142.9h0M280.5 117.0h0M149.5 218.6h0M228.5 285.2h0M148.4 260.1h0M165.9 231.3h0M288.3 110.9h0M183.6 227.4h0M288.7 303.9h0M182.4 273.7h0M215.9 149.6h0M272.5 151.1h0M82.4 261.7h0M94.1 251.4h0M188.5 230.4h0M254.4 189.7h0M129.2 207.0h0M277.6 347.3h0M289.9 105.0h0M251.5 316.8h0M300.2 297.5h0M306.5 252.9h0M272.0 268.8h0M175.1 228.2h0M268.8 165.2h0M277.7 260.3h0M232.0 163.7h0M268.9 316.6h0M258.2 285.1h0M264.6 224.6h0M214.0 188.9h0M261.6 136.7h0M180.7 234.6h0M222.7 179.2h0M87.8 227.2h0M268.3 243.2h0M198.4 289.6h0M239.0 165.1h0M72.2 247.5h0M247.6 197.2h0M279.0 115.9h0M266.4 133.0h0M228.0 326.4h0M283.2 346.1h0M267.1 322.5h0M288.3 293.8h0M304.6 294.8h0M207.8 160.7h0M194.5 252.5h0M137.1 219.0h0M265.2 244.1h0M157.9 262.9h0M97.8 251.0h0M279.6 335.2h0M206.1 162.1h0M266.5 242.7h0M111.2 261.3h0M299.4 204.9h0M130.2 195.4h0M223.2 274.8h0M286.7 295.4h0M211.1 164.9h0M308.2 263.2h0M320.9 241.4h0M131.2 229.9h0M196.5 279.2h0M213.7 323.1h0M219.1 278.2h0M201.9 309.4h0M223.6 265.5h0M197.0 156.2h0M131.4 206.9h0M212.0 320.3h0M141.3 266.5h0M99.5 230.0h0M92.4 280.0h0M192.5 243.5h0M234.1 230.2h0M88.5 210.2h0M296.2 266.6h0M220.4 327.1h0M235.5 163.7h0M240.8 310.4h0M231.4 169.5h0M241.4 280.3h0M285.4 345.6h0M270.0 328.2h0M176.6 263.4h0M209.7 277.1h0M272.9 245.7h0M229.8 254.7h0M249.3 338.6h0M188.0 232.5h0M222.0 293.3h0M268.3 137.4h0M117.0 264.8h0M316.5 282.4h0M236.5 165.2h0M136.7 268.3h0M95.2 259.1h0M268.3 322.6h0M170.2 263.0h0M179.5 256.5h0M275.3 169.4h0M316.2 229.1h0M172.4 233.8h0M193.8 272.7h0M101.7 215.8h0M82.8 232.4h0M244.8 146.5h0M271.8 265.8h0M213.2 217.3h0M320.8 229.8h0M183.0 290.5h0M231.2 234.1h0M132.3 186.8h0M91.1 236.3h0M282.9 242.0h0M235.1 273.0h0M234.5 154.9h0M194.7 120.3h0M248.0 345.8h0M308.3 227.3h0M149.4 236.7h0M233.9 162.2h0M310.8 265.9h0M127.2 214.3h0M168.0 288.3h0M216.6 304.2h0M315.6 258.2h0M168.1 261.0h0M112.6 214.6h0M227.7 279.3h0M248.5 235.1h0M86.3 203.0h0M240.6 141.6h0M139.4 207.4h0M285.4 227.0h0M227.0 273.6h0M204.3 197.1h0M269.8 225.5h0M205.2 248.1h0M80.6 213.8h0M283.6 215.6h0M242.6 274.3h0M269.7 147.1h0M282.0 336.0h0M116.1 227.6h0M148.2 213.8h0M273.7 117.8h0M247.8 335.4h0M271.8 315.1h0M254.7 188.9h0M275.5 210.6h0M243.5 275.7h0M288.6 334.0h0M192.2 124.2h0M196.4 270.7h0M263.0 305.3h0M308.7 219.5h0M178.3 251.7h0M242.7 274.5h0M249.9 290.1h0M217.7 127.9h0M249.9 321.7h0M257.7 126.5h0M252.2 189.3h0M179.0 260.4h0M280.1 134.9h0M246.4 292.3h0M266.1 152.0h0M234.5 223.7h0M165.7 218.6h0M207.5 274.6h0M162.8 281.3h0M240.7 289.4h0M201.1 261.9h0M219.6 166.7h0M210.0 207.4h0M209.2 198.7h0M124.9 239.7h0M224.6 140.4h0M205.2 138.1h0M251.7 337.1h0M258.0 140.0h0M219.6 192.2h0M183.4 134.6h0M166.4 257.3h0M141.1 266.8h0M295.0 233.8h0M292.8 315.3h0M209.2 302.5h0M123.7 249.1h0M191.3 147.6h0M239.1 266.8h0M241.7 136.5h0M149.0 235.1h0M80.8 260.8h0M238.0 295.6h0M246.5 284.8h0M313.2 243.0h0M305.8 155.0h0M307.0 153.0h0M304.0 157.0h0M184.0 119.0h0M186.0 122.0h0" stroke="#eaeaea" stroke-width="3.80" stroke-linecap="round" fill="none"/>
<path d="M230.3 297.1h0M228.6 291.7h0M228.0 297.6h0M94.9 198.5h0M256.4 274.5h0M294.7 294.8h0M306.5 311.1h0M308.7 312.0h0M76.8 218.5h0M256.5 336.2h0M254.9 339.8h0M272.7 233.5h0M270.3 233.0h0M263.1 155.6h0M74.8 222.6h0M237.0 282.1h0M233.5 281.1h0M238.1 282.2h0M97.7 250.5h0M235.7 335.8h0M321.3 262.3h0M261.9 191.6h0M195.3 233.3h0M193.4 234.6h0M228.1 308.2h0M322.5 243.3h0M293.1 266.8h0M290.5 266.6h0M249.1 267.9h0M249.4 269.8h0M318.5 261.7h0M280.2 140.7h0M281.1 140.3h0M271.2 259.1h0M267.2 263.8h0M270.8 257.7h0M172.1 229.1h0M217.4 321.5h0M102.1 222.6h0M100.8 221.9h0M281.2 190.9h0M275.4 178.6h0M318.7 266.3h0M174.3 234.1h0M173.1 232.9h0M283.5 195.7h0M281.0 192.3h0M200.6 174.9h0M202.9 177.0h0M270.5 298.1h0M279.4 260.2h0M70.9 242.0h0M73.4 241.7h0M181.6 129.9h0M188.6 128.7h0M179.8 223.3h0M85.9 225.6h0M224.5 192.8h0M317.8 253.6h0M317.1 250.8h0M116.8 233.3h0M118.7 235.4h0M113.3 230.6h0M296.8 336.2h0M130.0 256.5h0M130.9 257.5h0M127.6 258.9h0M276.2 316.6h0M278.3 314.8h0M257.4 228.3h0M101.6 219.6h0M209.4 239.2h0M208.2 237.6h0M310.5 309.7h0M274.3 223.9h0M277.4 227.0h0M218.0 179.1h0M224.4 143.4h0M279.8 322.0h0M280.9 321.2h0M220.2 160.7h0M214.1 160.7h0M103.2 236.3h0M198.1 297.5h0M231.2 244.8h0M124.0 231.6h0M121.5 234.3h0M124.6 229.7h0M252.3 335.1h0M251.4 337.3h0M254.6 285.4h0M202.9 212.2h0M205.8 213.3h0M160.0 285.3h0M163.3 243.6h0M127.8 219.4h0M248.2 288.5h0M248.0 291.3h0M247.3 290.9h0M272.3 343.6h0M225.6 271.9h0M258.1 245.2h0M246.8 201.9h0M269.1 126.8h0M309.5 271.3h0M88.9 201.9h0M89.2 202.1h0M242.6 295.2h0M203.4 130.4h0M241.6 143.4h0M174.7 265.0h0M175.6 264.5h0M211.9 316.0h0M270.8 205.2h0M228.6 304.1h0M229.4 304.5h0M228.3 309.0h0M228.8 151.8h0M190.4 243.9h0M211.0 272.5h0M210.2 272.4h0M214.9 270.8h0M205.6 306.8h0M207.8 303.9h0M90.2 249.9h0M90.4 247.5h0M304.9 304.2h0M301.3 300.9h0M273.8 123.6h0M273.2 127.3h0M278.6 123.1h0M80.3 223.2h0M79.0 222.6h0M225.5 155.0h0M264.4 337.2h0M220.4 184.5h0M215.1 183.0h0M265.5 139.1h0M248.0 297.9h0M184.5 292.9h0M186.9 129.9h0M187.5 130.2h0M224.5 315.2h0M221.3 316.7h0M226.0 312.6h0M127.1 226.6h0M129.2 224.8h0M128.4 227.0h0M262.9 146.5h0M263.6 143.2h0M259.4 145.6h0M184.2 144.4h0M183.9 142.0h0M179.3 143.4h0M203.1 172.0h0M201.0 172.7h0M319.2 235.0h0M322.3 236.2h0M92.9 221.7h0M96.1 225.6h0M185.3 262.7h0M116.9 258.0h0M228.6 152.8h0M269.6 167.9h0M268.7 165.9h0M270.9 172.0h0M278.7 213.4h0M276.9 212.5h0M143.3 214.7h0M284.6 279.5h0M194.0 277.0h0M259.8 245.1h0M229.8 166.9h0M233.5 167.0h0M260.3 280.0h0M258.5 283.6h0M264.7 280.9h0M244.1 223.0h0M244.2 219.5h0M244.5 221.7h0M222.0 167.6h0M222.5 168.8h0M261.6 254.8h0M257.3 251.9h0M99.0 229.2h0M301.2 311.3h0M271.6 236.4h0M271.9 237.9h0M204.6 256.9h0M205.9 256.4h0M203.8 256.9h0M174.3 229.1h0M210.7 294.7h0M208.8 298.7h0M156.3 230.6h0M111.2 240.1h0M113.1 239.7h0M249.8 124.3h0M240.8 325.2h0M242.0 325.7h0M227.5 182.4h0M230.4 185.1h0M224.3 177.0h0M267.9 166.3h0M281.2 214.7h0M194.1 256.4h0M274.2 151.3h0M213.1 171.8h0M212.4 171.1h0M210.7 139.2h0M206.2 141.5h0M238.6 310.6h0M278.6 311.0h0M259.3 187.2h0M256.0 188.2h0M242.2 293.7h0M246.2 299.7h0M201.4 190.0h0M193.6 188.7h0M222.8 218.6h0M225.2 219.7h0M226.9 222.0h0M238.1 145.4h0M80.1 218.9h0M237.2 197.2h0M104.9 225.8h0M102.9 227.0h0M109.1 204.2h0M113.8 198.7h0M106.3 202.1h0M181.3 252.9h0M183.3 250.6h0M95.1 225.1h0M95.4 226.3h0M250.7 239.1h0M210.1 243.7h0M227.7 309.5h0M211.9 283.3h0M188.6 250.4h0M189.0 255.1h0M189.3 253.4h0M177.6 236.4h0M104.3 210.8h0M105.9 207.2h0M180.1 221.2h0M183.5 221.1h0M182.2 219.0h0M229.4 162.1h0M233.0 160.9h0M230.1 161.1h0M317.9 270.4h0M320.3 269.5h0M231.2 189.0h0M246.6 286.0h0M247.2 286.4h0M200.9 198.2h0M201.3 203.3h0M187.9 228.2h0M188.7 228.0h0M188.2 232.1h0M318.0 253.3h0M190.6 293.0h0M190.6 293.5h0M308.9 212.4h0M231.8 168.4h0M269.7 269.8h0M271.2 270.3h0M268.8 272.4h0M180.3 265.0h0M178.3 261.9h0M106.5 263.5h0M321.2 237.9h0M286.5 212.3h0M286.3 214.6h0M235.8 150.7h0M233.4 154.1h0M235.5 149.1h0M250.3 144.6h0M245.2 186.3h0M247.2 183.9h0M288.6 289.6h0M229.7 232.0h0M227.2 233.4h0M230.5 228.5h0M284.9 109.7h0M286.6 107.2h0M261.2 340.2h0M232.4 276.9h0M193.8 305.8h0M313.0 237.9h0M314.0 236.8h0M314.3 241.9h0M174.2 224.5h0M176.3 221.4h0M273.6 180.4h0M275.2 179.9h0M272.2 181.9h0M194.0 175.4h0M319.4 263.5h0M200.9 245.7h0M203.4 244.7h0M202.4 248.0h0M91.8 227.5h0M307.1 253.5h0M105.3 206.1h0M103.9 203.2h0M105.3 209.3h0M147.5 214.7h0M147.3 215.9h0M150.8 216.8h0M316.4 258.5h0M313.6 262.9h0M262.4 300.6h0M197.0 211.3h0M318.2 238.6h0M142.3 209.5h0M140.7 216.6h0M141.2 208.4h0M305.4 218.3h0M300.1 218.4h0M308.2 218.9h0M102.0 250.3h0M99.8 251.1h0M108.1 231.5h0M113.7 231.2h0M109.5 230.6h0M212.7 299.6h0M178.4 241.3h0M175.8 241.6h0M192.4 120.5h0M93.7 210.1h0M108.8 210.7h0M223.7 328.1h0M221.2 329.8h0M286.1 292.3h0M93.7 277.7h0M94.8 280.6h0M135.7 193.6h0M284.5 285.6h0M285.3 283.2h0M297.8 296.8h0M296.1 295.3h0M268.4 271.6h0M273.1 268.1h0M219.6 137.1h0M285.6 348.0h0M269.5 127.5h0M268.3 132.5h0M300.8 292.7h0M299.1 295.0h0M297.0 290.7h0M141.7 274.8h0M141.2 271.8h0M311.4 335.8h0M228.5 164.9h0M225.2 162.9h0M228.3 160.6h0M202.9 251.2h0M255.9 282.2h0M255.2 281.9h0M252.7 285.5h0M191.9 165.0h0M172.8 251.0h0M93.8 244.4h0M90.7 242.0h0M240.5 212.3h0M316.4 237.9h0M318.1 237.6h0M224.4 134.1h0M221.9 133.6h0M87.4 245.7h0M87.1 240.3h0M214.2 286.1h0M213.4 283.0h0M81.6 248.8h0M81.2 245.2h0M80.1 245.2h0M125.7 238.2h0M123.0 240.6h0M122.8 237.0h0M145.0 242.7h0M318.0 243.3h0M319.1 240.7h0M197.7 261.1h0M194.5 259.7h0M244.5 295.4h0M245.3 297.8h0M241.5 294.5h0M190.4 169.3h0M194.5 175.2h0M102.8 215.5h0M101.2 220.3h0M80.6 261.1h0M261.8 243.9h0M320.1 267.3h0M203.9 160.6h0M246.1 246.8h0M249.2 246.6h0M195.8 236.8h0M98.8 199.6h0M222.6 252.2h0M255.7 344.4h0M252.8 344.0h0M243.8 136.9h0M264.4 259.1h0M199.9 167.4h0M89.2 222.1h0M92.6 221.5h0M90.1 219.0h0M203.9 164.3h0M236.0 188.8h0M298.4 315.0h0M258.1 192.7h0M231.8 152.9h0M232.1 154.1h0M254.1 288.6h0M255.8 292.1h0M272.3 166.5h0M271.2 165.6h0M144.1 212.1h0M142.6 212.1h0M143.5 216.6h0M163.4 234.5h0M164.4 237.5h0M289.1 318.0h0M273.2 337.9h0M160.8 236.9h0M159.6 240.6h0M115.7 240.4h0M118.9 239.9h0M260.0 264.4h0M261.7 262.7h0M102.4 234.9h0M316.5 241.7h0M318.4 238.1h0M83.0 237.7h0M79.6 231.5h0M171.6 281.1h0M173.1 280.9h0M165.3 280.8h0M171.7 230.6h0M169.8 230.2h0M171.7 226.1h0M142.0 213.9h0M139.9 219.0h0M243.7 212.4h0M243.0 208.6h0M245.6 287.4h0M142.8 208.4h0M141.8 209.1h0M294.9 333.4h0M283.0 136.2h0M205.4 188.0h0M200.5 221.3h0M201.5 220.2h0M122.2 236.6h0M198.2 161.8h0M284.7 350.0h0M227.7 225.4h0M228.8 224.3h0M307.3 317.9h0M313.4 258.5h0M312.1 260.5h0M311.2 259.0h0M284.5 114.3h0M115.7 220.2h0M118.6 220.0h0M200.3 160.7h0M252.2 300.5h0M280.8 126.4h0M221.9 240.9h0M222.6 241.4h0M221.3 238.7h0M194.0 233.5h0M171.2 219.9h0M173.9 222.7h0M127.9 232.7h0M222.0 199.0h0M219.1 199.3h0M294.0 116.1h0M270.7 195.2h0M106.9 207.3h0M288.4 259.1h0M285.5 256.2h0M287.3 304.3h0M284.8 304.8h0M300.0 217.9h0M293.2 197.3h0M289.9 195.6h0M309.0 286.6h0M311.9 285.6h0M285.6 109.5h0M239.0 133.9h0M102.0 232.6h0M102.4 228.9h0M97.0 233.1h0M307.8 282.1h0M304.8 278.4h0M300.5 283.3h0M151.7 220.8h0M151.4 223.3h0M200.2 302.6h0M201.9 304.3h0M200.1 298.5h0M193.5 289.8h0M196.9 289.3h0M191.6 286.9h0M133.0 273.0h0M134.2 273.1h0M191.1 268.8h0M191.0 265.1h0M191.3 268.8h0M136.7 227.2h0M135.8 267.6h0M202.4 179.9h0M103.6 221.5h0M101.0 223.7h0M192.5 266.6h0M247.7 330.9h0M281.3 334.6h0M213.0 173.7h0M211.1 172.4h0M215.1 173.7h0M167.6 238.3h0M164.9 237.0h0M284.4 256.3h0M98.6 198.6h0M235.4 332.8h0M234.7 333.0h0M236.0 334.6h0M322.9 246.5h0M112.9 240.0h0M196.7 204.0h0M187.6 137.2h0M235.3 251.3h0M117.0 227.2h0M288.6 242.8h0M263.2 134.6h0M245.4 336.7h0M148.2 241.2h0M150.5 240.0h0M255.9 333.1h0M252.2 333.8h0M151.1 270.9h0M153.3 268.6h0M194.0 286.3h0M284.3 133.7h0M284.2 132.4h0M283.0 130.3h0M316.7 223.0h0M316.6 221.2h0M239.9 274.7h0M281.7 289.8h0M281.1 288.8h0M86.9 277.6h0M193.4 255.9h0M219.7 269.4h0M216.4 267.2h0M191.8 146.3h0M189.0 148.8h0M288.9 309.6h0M248.9 298.4h0M248.1 301.1h0M246.7 302.8h0M164.3 271.5h0M165.0 271.3h0M215.1 238.8h0M311.4 259.9h0M198.6 184.1h0M200.1 184.0h0M91.3 271.4h0M96.0 272.6h0M231.2 257.2h0M230.3 255.8h0M194.7 280.5h0M194.3 278.0h0M215.7 313.9h0M215.2 314.8h0M113.5 202.3h0M279.9 191.8h0M283.6 195.6h0M219.7 157.7h0M249.2 317.4h0M199.7 216.2h0M312.2 237.3h0M317.1 237.0h0M315.7 237.3h0M226.6 221.1h0M229.8 216.2h0M262.1 317.1h0M263.1 314.8h0M90.7 207.2h0M97.1 208.1h0M282.8 280.8h0M309.0 290.7h0M309.9 288.7h0M306.3 291.6h0M216.9 234.2h0M284.9 120.1h0M148.1 224.3h0M277.0 274.4h0M278.6 275.6h0M279.3 272.7h0M288.8 319.1h0M287.6 322.3h0M289.1 316.4h0M277.3 129.3h0M276.3 126.7h0M278.1 129.8h0M280.0 139.2h0M265.4 326.4h0M75.4 241.9h0M82.0 241.9h0M74.8 240.3h0M174.4 241.6h0M259.7 231.7h0M256.5 230.0h0M96.3 216.8h0M233.2 304.3h0M235.1 308.7h0M235.9 302.8h0M96.0 252.1h0M98.9 249.7h0M101.3 253.2h0M233.7 289.0h0M235.4 290.2h0M230.0 297.9h0M257.6 335.5h0M263.0 334.3h0M259.4 332.2h0M307.3 211.7h0M172.8 249.9h0M93.0 220.3h0M206.2 275.1h0M202.5 273.2h0M203.7 272.9h0M245.7 333.1h0M247.9 332.6h0M264.9 282.6h0M214.0 195.9h0M95.4 237.0h0M94.4 229.8h0M89.0 232.8h0M234.4 292.8h0M252.8 317.6h0M82.8 221.3h0M280.6 122.7h0M146.3 223.2h0M251.5 213.9h0M254.3 217.0h0M254.0 211.0h0M302.8 293.3h0M252.0 340.6h0M251.2 341.7h0M196.7 309.3h0M90.3 242.7h0M88.5 240.5h0M80.8 257.5h0M83.6 261.4h0M298.7 315.6h0M300.4 315.2h0M281.7 137.3h0M279.6 137.7h0M280.9 139.0h0M259.9 330.0h0M304.0 234.6h0M72.6 242.9h0M71.8 241.9h0M74.0 241.5h0M271.0 155.9h0M271.3 156.4h0M234.4 285.8h0M245.7 348.5h0M193.7 171.4h0M203.6 191.8h0M233.2 254.0h0M230.2 253.7h0M230.8 258.4h0M147.6 267.6h0M145.8 266.9h0M143.8 267.0h0M246.6 318.4h0M228.1 253.3h0M227.8 248.8h0M171.4 237.8h0M172.8 240.1h0M281.2 319.7h0M298.2 211.6h0M295.5 214.1h0M298.2 213.8h0M140.5 259.3h0M138.2 257.2h0M151.0 278.1h0M149.9 277.9h0M98.9 220.2h0M101.9 224.5h0M98.1 263.8h0M98.5 266.1h0M220.7 199.9h0M129.6 192.4h0M203.1 120.5h0M198.1 120.8h0M245.2 288.0h0M241.1 287.6h0M250.4 290.2h0M279.4 225.1h0M277.6 222.6h0M263.4 228.6h0M261.1 223.6h0M230.3 146.1h0M232.7 143.2h0M98.8 268.1h0M248.5 308.5h0M181.9 135.6h0M183.3 129.1h0M182.6 131.9h0M228.5 317.9h0M190.0 206.5h0M189.9 204.4h0M109.6 206.3h0M307.9 306.4h0M257.2 230.0h0M257.8 236.3h0M260.5 232.6h0M186.2 237.2h0M183.2 239.8h0M189.4 240.2h0M178.8 233.4h0M177.1 234.4h0M263.5 334.4h0M219.5 317.0h0M213.1 319.1h0M310.9 307.1h0M310.1 305.7h0M292.4 126.5h0M183.3 237.2h0M220.9 215.6h0M220.1 217.0h0M219.2 214.1h0M109.4 210.5h0M111.2 207.5h0M296.5 309.9h0M260.6 323.2h0M260.2 324.5h0M239.1 129.9h0M240.1 128.7h0M203.2 285.3h0M274.2 264.8h0M241.2 335.6h0M243.5 333.8h0M242.3 292.0h0M241.1 294.1h0M319.6 260.2h0M319.3 261.2h0M75.2 229.7h0M229.7 320.2h0M231.2 322.0h0M286.7 288.4h0M191.5 235.8h0M191.8 232.7h0M189.2 237.4h0M222.0 138.7h0M224.6 135.0h0M231.0 144.5h0M246.8 215.1h0M250.6 217.2h0M266.2 338.9h0M263.0 342.4h0M265.6 335.0h0M70.5 243.9h0M77.6 232.0h0M171.4 244.9h0M99.2 237.0h0M96.5 233.1h0M242.2 297.0h0M314.0 242.2h0M96.4 225.5h0M99.3 228.3h0M232.2 214.3h0M274.7 219.9h0M281.9 141.0h0M205.2 303.4h0M206.1 302.4h0M207.5 133.5h0M281.5 269.4h0M270.9 255.3h0M267.8 253.8h0M302.8 263.7h0M283.6 275.9h0M292.2 280.9h0M291.7 281.9h0M242.4 296.7h0M241.6 295.7h0M133.8 192.0h0M133.5 192.8h0M133.0 192.5h0M152.8 273.5h0M151.3 273.8h0M149.8 273.3h0M264.4 119.5h0M146.8 228.8h0M149.4 228.0h0M140.8 229.5h0M215.8 165.1h0M215.4 165.4h0M95.1 228.4h0M226.2 212.1h0M227.7 209.8h0M75.2 252.7h0M267.4 164.6h0M188.0 279.4h0M190.8 278.8h0M297.4 219.1h0M293.6 220.4h0M295.3 221.9h0M103.5 215.2h0M200.6 208.2h0M200.6 207.9h0M253.0 131.7h0M256.8 130.7h0M255.0 132.9h0M258.9 340.0h0M257.1 340.0h0M202.4 158.8h0M198.9 256.1h0M194.0 255.3h0M91.8 250.0h0M92.5 248.7h0M156.5 235.2h0M216.1 152.4h0M215.8 151.1h0M214.9 154.0h0M192.2 155.7h0M279.8 215.7h0M315.4 246.7h0M314.3 248.1h0M195.2 278.9h0M197.5 278.9h0M197.7 282.0h0M285.9 300.9h0M245.3 337.9h0M166.9 240.7h0M169.8 235.5h0M168.8 237.8h0M275.0 303.7h0M119.5 248.9h0M117.6 247.4h0M89.1 282.7h0M315.4 232.6h0M314.9 235.9h0M148.3 230.8h0M149.4 229.7h0M172.4 228.7h0M96.0 207.9h0M100.6 211.3h0M259.3 312.7h0M268.7 334.7h0M133.4 203.8h0M182.1 284.2h0M89.4 270.4h0M87.9 270.1h0M89.5 268.8h0M272.7 145.6h0M248.5 283.8h0M298.6 288.9h0M203.4 287.6h0M205.3 287.5h0M180.8 266.0h0M132.4 202.3h0M132.9 203.6h0M103.9 197.8h0M111.6 236.8h0M109.9 235.6h0M315.8 244.1h0M292.5 313.3h0M284.4 299.1h0M235.8 312.5h0M232.8 317.2h0M250.4 303.5h0M267.3 157.7h0M129.8 234.7h0M128.8 230.7h0M134.3 260.7h0M203.4 168.1h0M117.0 246.6h0M116.1 248.0h0M162.0 246.6h0M164.8 243.9h0M315.8 285.8h0M312.8 279.8h0M258.4 222.6h0M258.1 225.4h0M257.0 218.0h0M228.8 325.2h0M235.0 328.4h0M278.9 126.3h0M265.5 235.1h0M265.7 237.1h0M109.7 243.5h0M131.0 229.4h0M130.9 229.4h0M231.0 285.1h0M153.1 271.8h0M157.2 267.4h0M282.5 239.7h0M282.3 240.6h0M284.4 241.0h0M196.4 216.9h0M294.2 250.3h0M97.2 260.2h0M235.3 298.9h0M264.0 226.5h0M289.5 325.0h0M204.5 182.4h0M204.5 184.8h0M208.1 181.7h0M116.7 224.4h0M116.5 221.4h0M117.9 224.4h0M289.6 131.3h0M96.1 250.6h0M98.1 251.8h0M83.6 247.4h0M82.3 243.0h0M87.9 244.6h0M92.0 203.2h0M103.8 271.6h0M101.2 274.3h0M242.7 307.9h0M148.7 243.1h0M239.3 142.5h0M302.2 343.0h0M237.9 332.7h0M240.3 332.9h0M297.7 236.2h0M182.6 292.1h0M201.9 181.9h0M293.0 330.0h0M292.8 327.5h0M292.8 325.2h0M207.3 224.3h0M210.6 224.5h0M277.5 115.9h0M226.5 278.3h0M298.2 298.4h0M302.3 253.6h0M301.5 254.2h0M299.8 255.1h0M304.9 302.6h0M308.2 303.2h0M257.1 241.5h0M257.9 240.2h0M256.6 246.4h0M230.6 233.9h0M232.0 236.5h0M228.0 232.4h0M262.1 321.0h0M261.2 321.5h0M262.8 323.1h0M276.2 153.6h0M209.7 123.3h0M205.6 126.5h0M141.6 210.7h0M299.3 249.3h0M296.5 261.5h0M169.7 257.4h0M253.9 122.8h0M252.1 123.3h0M246.8 299.4h0M94.0 250.5h0M100.2 245.7h0M253.6 278.7h0M255.6 274.5h0M252.0 279.3h0M140.5 266.1h0M198.3 205.5h0M198.2 209.8h0M273.9 118.8h0M225.3 147.9h0M220.2 151.1h0M191.0 205.8h0M224.1 235.9h0M224.1 233.4h0M223.0 238.6h0M71.1 249.3h0M249.1 334.3h0M247.2 337.4h0M203.3 223.2h0M205.9 222.0h0M237.2 294.5h0M237.1 288.7h0M279.4 194.0h0M203.8 232.6h0M228.7 279.0h0M226.2 275.0h0M227.7 276.9h0M96.5 254.1h0M95.3 252.8h0M94.1 250.4h0M118.9 222.2h0" stroke="#17662f" stroke-width="3.20" stroke-linecap="round" fill="none"/>
<path d="M355 229.6H424M398 214.8L427.2 229.6L398 244.4" stroke="#3a3a3a" stroke-width="5.6" fill="none" stroke-linecap="round" stroke-linejoin="round"/>
<path d="M491.5 137.2h0M518.9 345.1h0M498.2 258.0h0M496.5 138.7h0M483.6 289.4h0M463.3 125.1h0M493.0 136.7h0M493.1 145.4h0M465.1 134.4h0M453.7 143.5h0M478.2 150.0h0M480.1 145.9h0M521.0 243.3h0M458.6 110.1h0M456.0 145.6h0M475.3 153.0h0M690.9 193.2h0M695.4 193.7h0M476.7 148.4h0M454.1 114.6h0M451.5 121.4h0M513.7 146.5h0M468.3 121.3h0M461.2 140.4h0M464.1 116.1h0M472.1 150.4h0M481.1 144.8h0M461.9 126.5h0M496.2 130.0h0M466.7 125.0h0M497.5 126.4h0M693.5 223.2h0M457.5 114.7h0M480.8 143.3h0" stroke="#d62728" stroke-width="4.00" stroke-linecap="round" fill="none"/>
<path d="M546.5 290.1h0M681.4 241.5h0M523.3 222.5h0M510.8 328.1h0M486.1 216.7h0M532.7 259.0h0M687.1 233.9h0M677.8 230.7h0M520.9 289.6h0M520.0 350.2h0M670.1 264.6h0M674.6 259.0h0M675.6 257.0h0M490.7 232.6h0M674.3 247.8h0M682.0 259.4h0M545.6 296.6h0M528.9 325.3h0M522.8 300.6h0M504.6 128.1h0M512.9 301.1h0M528.0 230.0h0M658.1 218.6h0M488.1 244.9h0M515.3 238.7h0M501.1 263.2h0M700.4 217.2h0M543.1 291.6h0M548.8 293.2h0M465.7 162.8h0M535.7 259.3h0M549.0 269.6h0M524.5 229.9h0M473.5 209.2h0M517.4 230.5h0M673.8 222.2h0M540.7 318.2h0M516.3 350.6h0M527.8 239.9h0M688.8 240.5h0M485.1 265.3h0M541.7 300.0h0M685.5 256.2h0M517.0 311.8h0M500.0 235.5h0M544.0 290.5h0M465.0 185.7h0M686.8 228.3h0M544.1 296.5h0M461.5 123.8h0M530.2 268.1h0M524.8 234.9h0M543.0 296.1h0M468.5 163.5h0M546.9 297.0h0M681.8 257.7h0M526.4 221.1h0M489.7 251.1h0" stroke="#1f77b4" stroke-width="4.00" stroke-linecap="round" fill="none"/>
<path d="M658.8 198.8h0M522.0 222.5h0M511.8 298.9h0M518.4 267.9h0M507.2 344.0h0M476.3 305.5h0M454.1 122.0h0M515.5 345.3h0M461.5 131.3h0M499.7 285.4h0M513.5 345.4h0M690.3 200.6h0M482.4 294.7h0M494.4 320.5h0M483.7 274.5h0M465.4 137.6h0M682.4 200.5h0M504.1 286.9h0M482.7 317.6h0M494.8 295.4h0M489.8 299.8h0M672.9 227.4h0M511.5 295.8h0M497.0 319.3h0M487.5 294.2h0M461.7 166.1h0M490.6 270.4h0M513.6 296.7h0M490.0 319.9h0M504.7 273.4h0M463.5 167.3h0M526.2 246.9h0M540.8 305.1h0M532.1 326.4h0M659.5 220.5h0M514.6 344.1h0M682.0 214.0h0M475.2 148.4h0M658.4 266.2h0M514.0 305.7h0M494.1 223.1h0M514.0 328.0h0M498.8 307.6h0M673.1 211.6h0M512.7 308.8h0M518.3 219.5h0M459.9 154.9h0M677.9 190.1h0M681.7 232.9h0M511.5 318.0h0M513.8 324.6h0M496.5 305.5h0" stroke="#ff7f0e" stroke-width="4.00" stroke-linecap="round" fill="none"/>
<path d="M485.4 311.9h0M486.7 306.8h0M506.9 250.5h0M703.4 196.1h0M540.2 271.5h0M519.3 282.8h0M483.9 154.4h0M520.5 343.6h0M490.1 303.5h0M540.5 312.6h0M687.8 209.0h0M527.1 283.8h0M502.6 311.5h0M520.1 288.0h0M689.9 202.8h0M509.7 316.1h0M490.5 143.4h0M534.0 311.9h0M455.5 137.9h0M679.7 211.8h0M475.0 144.3h0M673.1 190.7h0M660.7 204.4h0M692.7 212.9h0M456.5 140.4h0M482.4 145.2h0M523.5 269.1h0" stroke="#aa40fc" stroke-width="4.00" stroke-linecap="round" fill="none"/>
<path d="M701.4 205.6h0M667.0 190.5h0M536.8 275.1h0M516.1 302.2h0M521.6 274.7h0M511.0 341.6h0M511.7 312.1h0M522.4 347.7h0M704.4 199.7h0M687.2 195.5h0M521.4 311.5h0M676.1 204.1h0M514.1 221.0h0M520.4 338.1h0M688.7 204.4h0M528.0 278.6h0M690.9 229.7h0M537.2 314.8h0M674.5 212.2h0M694.1 185.6h0M702.6 200.6h0M662.1 192.8h0" stroke="#e377c2" stroke-width="4.00" stroke-linecap="round" fill="none"/>
<path d="M483.6 303.2h0M488.7 287.3h0M499.3 276.6h0M500.5 300.5h0" stroke="#8c564b" stroke-width="4.00" stroke-linecap="round" fill="none"/>
<path d="M664.7 206.2h0M514.1 281.2h0M676.6 225.4h0M488.7 273.3h0M684.8 209.8h0M491.5 292.4h0M516.7 324.0h0M527.5 251.1h0M687.2 200.8h0M690.8 190.7h0M519.0 287.8h0M676.4 188.3h0M519.9 274.3h0M469.5 145.8h0M534.3 270.3h0M702.0 214.4h0" stroke="#e377c2" stroke-width="4.00" stroke-linecap="round" fill="none"/>
<path d="M491.0 299.0h0M497.0 304.3h0M488.2 304.2h0M692.2 184.1h0M486.0 308.3h0" stroke="#8c564b" stroke-width="4.00" stroke-linecap="round" fill="none"/>
<path d="M677.5 217.6h0M485.9 160.6h0M461.4 121.2h0M456.9 118.5h0M497.0 140.3h0M455.1 112.8h0M457.6 110.2h0M463.3 145.1h0M476.3 155.9h0M457.8 126.2h0M456.8 132.3h0M464.9 132.8h0M485.5 156.2h0M479.3 144.3h0M678.8 193.0h0M490.7 158.1h0M459.0 141.9h0M460.6 112.3h0M459.3 132.0h0M468.9 144.1h0M454.1 133.7h0M488.0 171.0h0M464.0 143.6h0M533.9 293.4h0M462.5 114.4h0M464.7 124.4h0M455.5 144.4h0M497.3 147.3h0M499.5 143.5h0M457.9 128.1h0M489.7 162.9h0M530.3 231.1h0M456.0 115.7h0M475.5 134.2h0M481.3 149.4h0M486.8 171.0h0M493.5 139.9h0M519.2 317.6h0M464.8 152.2h0" stroke="#d62728" stroke-width="4.00" stroke-linecap="round" fill="none"/>
<path d="M489.0 305.2h0M468.9 141.1h0M483.6 214.9h0M681.7 196.9h0M457.4 105.2h0M524.3 344.0h0M681.8 229.7h0M486.4 319.5h0M515.5 340.1h0M483.2 307.4h0M514.5 234.4h0M504.9 315.3h0M505.9 329.6h0M501.9 276.9h0M521.5 295.9h0M495.7 291.2h0M515.9 349.1h0M533.0 263.6h0M657.7 216.4h0M497.4 276.3h0M534.1 297.6h0M500.4 231.4h0M519.5 306.8h0M467.2 160.9h0M513.4 328.9h0M532.1 305.8h0M511.0 281.5h0M684.0 190.5h0M672.0 194.3h0M548.4 300.1h0M692.4 187.8h0M681.8 190.1h0M493.5 304.5h0M517.7 303.3h0M524.9 329.4h0M539.2 267.4h0M677.8 225.6h0M681.1 227.0h0M493.3 226.9h0M482.5 288.0h0M508.2 266.4h0M548.2 290.6h0M516.5 305.3h0M687.4 248.6h0M659.5 201.0h0M507.4 309.9h0M489.2 307.5h0M671.6 197.2h0" stroke="#ff7f0e" stroke-width="4.00" stroke-linecap="round" fill="none"/>
<path d="M515.1 307.3h0M692.0 218.3h0M460.8 133.6h0M484.7 308.2h0M698.5 208.2h0M520.8 309.7h0M680.8 225.8h0M487.4 251.6h0M522.9 341.8h0M552.0 295.8h0M517.8 347.7h0M525.7 273.6h0M500.6 125.1h0M458.4 144.4h0M472.0 144.5h0M524.4 262.0h0M676.2 193.9h0M672.0 218.3h0M536.0 276.3h0M497.8 312.5h0M522.6 339.8h0M664.7 207.4h0M523.8 265.4h0M479.8 161.0h0M694.8 210.2h0M478.9 300.0h0M464.2 112.9h0M489.8 311.3h0M456.9 124.9h0M467.6 132.6h0M486.9 155.1h0M498.8 147.0h0M465.9 146.6h0" stroke="#aa40fc" stroke-width="4.00" stroke-linecap="round" fill="none"/>
<path d="M534.2 249.3h0M534.0 317.6h0M531.5 262.4h0M546.5 302.1h0M518.4 238.7h0M532.0 298.1h0M487.3 218.5h0M524.4 228.4h0M540.6 293.1h0M546.5 295.4h0M528.3 319.6h0M515.5 247.9h0M514.4 212.3h0M513.9 260.7h0M521.7 309.1h0M672.1 234.0h0M487.0 260.9h0M689.8 207.5h0M466.8 189.3h0M539.9 255.6h0M524.7 223.4h0M538.8 322.4h0M540.8 314.8h0M462.8 178.7h0M500.0 237.0h0M487.1 249.4h0M530.1 212.6h0M472.0 205.5h0M667.9 260.0h0M531.2 269.4h0M685.1 225.5h0M463.2 182.6h0M676.8 236.5h0M682.7 234.2h0M669.0 259.1h0M674.4 227.8h0M517.4 272.6h0M531.3 322.0h0M518.4 294.3h0M464.4 166.2h0M687.9 229.3h0M534.9 207.4h0M680.5 243.5h0M462.7 130.7h0M464.1 174.0h0M676.8 249.5h0M465.0 188.7h0M550.2 296.9h0M484.8 243.5h0M487.9 216.2h0M532.1 323.8h0M685.0 241.9h0M674.8 249.4h0M541.3 315.9h0M496.7 251.6h0" stroke="#1f77b4" stroke-width="4.00" stroke-linecap="round" fill="none"/>
<path d="M461.7 127.9h0" stroke="#2ca02c" stroke-width="4.00" stroke-linecap="round" fill="none"/>
<path d="M522.7 229.3h0M452.5 105.0h0M469.0 197.0h0M516.6 265.4h0M473.3 142.8h0M477.4 145.1h0M490.7 234.1h0M487.7 158.9h0M458.9 148.9h0M500.1 287.7h0M456.1 148.4h0M469.8 122.6h0M497.7 124.0h0M700.9 201.7h0M490.0 160.2h0M477.9 143.8h0M475.5 206.8h0M451.0 106.7h0M683.4 219.0h0M456.1 126.3h0M481.9 147.1h0M482.2 273.4h0M469.6 132.5h0M490.6 276.4h0M462.3 110.3h0M521.6 306.0h0M512.6 323.3h0M519.3 336.6h0M454.6 115.9h0M689.1 223.7h0M683.1 211.0h0M489.9 237.1h0M535.9 323.5h0M523.8 341.7h0M476.6 141.1h0M462.3 145.4h0" stroke="#d62728" stroke-width="4.00" stroke-linecap="round" fill="none"/>
<path d="M482.1 302.7h0M494.5 301.4h0M681.7 191.8h0M487.0 162.8h0M502.5 324.3h0M495.4 314.1h0M484.3 312.7h0M489.6 267.5h0M492.6 265.0h0M682.0 210.7h0" stroke="#8c564b" stroke-width="4.00" stroke-linecap="round" fill="none"/>
<path d="M531.9 270.4h0M521.0 234.6h0M523.2 260.4h0M510.4 292.1h0M686.5 208.1h0M516.1 290.1h0M520.7 319.4h0M670.2 217.6h0M510.1 252.1h0M678.9 217.0h0M670.9 226.3h0M494.5 311.9h0M548.2 277.1h0M679.5 205.0h0M661.8 202.5h0M527.8 225.2h0M681.9 198.0h0M467.7 123.2h0M689.6 239.7h0M677.2 195.2h0M677.8 202.3h0M518.2 334.2h0M487.6 284.4h0M479.2 135.8h0M509.7 328.1h0M673.2 219.6h0M519.4 291.8h0M506.4 339.2h0M535.6 315.7h0M516.6 287.0h0M678.7 195.8h0M516.8 293.1h0M462.6 120.5h0M479.4 313.4h0M684.4 206.1h0M472.6 161.0h0M677.2 198.5h0M695.3 204.6h0M693.1 215.0h0" stroke="#aa40fc" stroke-width="4.00" stroke-linecap="round" fill="none"/>
<path d="M691.0 213.1h0M471.6 133.4h0M656.2 265.9h0M694.8 206.1h0M512.6 219.4h0M488.4 285.9h0M516.8 336.8h0M513.0 257.6h0M678.2 209.8h0M524.1 338.7h0M539.8 262.7h0M508.6 315.1h0M483.5 262.2h0M521.7 219.5h0M660.7 266.2h0M486.9 297.8h0M518.8 308.6h0M673.6 198.8h0M509.1 319.0h0M511.4 218.0h0M476.9 162.1h0M494.1 317.2h0M520.4 328.9h0M492.4 288.5h0M491.8 229.0h0M508.8 311.7h0M491.5 220.6h0M507.2 290.9h0M486.5 304.4h0M523.9 300.3h0M522.2 300.5h0M541.3 312.1h0M498.7 314.4h0M534.6 321.8h0M517.5 256.9h0M455.9 118.1h0M677.1 244.3h0" stroke="#ff7f0e" stroke-width="4.00" stroke-linecap="round" fill="none"/>
<path d="M680.1 247.9h0M522.1 293.4h0M689.5 199.7h0M540.7 276.6h0M537.8 302.7h0M513.7 315.9h0M481.1 226.9h0M692.6 237.9h0M485.5 215.0h0M538.3 291.7h0M673.6 254.0h0M526.7 268.6h0M681.5 247.1h0M502.5 287.9h0M677.5 238.9h0M527.5 236.2h0M671.1 266.4h0M691.4 236.6h0M516.0 259.9h0M538.9 314.6h0M519.9 312.5h0M504.7 264.6h0M547.4 298.2h0M524.2 291.0h0M528.1 228.1h0M684.4 224.2h0M490.3 227.5h0M526.9 307.1h0M536.0 325.1h0M504.7 256.5h0M482.8 213.9h0M486.9 242.6h0M539.6 319.8h0M538.3 301.2h0M675.8 240.7h0M679.9 235.5h0M537.2 319.1h0M523.8 232.6h0M670.0 249.5h0M539.7 298.2h0M543.8 280.7h0M468.9 200.4h0M689.1 237.6h0M531.9 315.2h0M551.7 297.6h0M526.3 228.0h0M550.1 291.2h0M530.6 314.3h0M685.8 251.5h0" stroke="#1f77b4" stroke-width="4.00" stroke-linecap="round" fill="none"/>
<path d="M690.2 222.2h0M532.6 272.9h0M509.1 258.1h0M485.8 318.1h0M521.9 272.6h0M518.0 317.2h0M525.5 291.6h0M461.3 115.5h0M683.3 231.4h0M528.3 269.8h0M494.5 302.8h0M691.5 206.8h0M527.8 258.4h0M502.2 286.1h0M513.2 275.3h0M694.3 225.2h0M694.7 222.3h0M693.3 217.1h0M503.5 318.5h0M693.6 196.7h0M505.8 289.9h0M692.6 202.9h0M501.4 315.3h0M683.7 225.8h0M509.2 309.7h0" stroke="#e377c2" stroke-width="4.00" stroke-linecap="round" fill="none"/>
<path d="M468.8 103.3h0" stroke="#2ca02c" stroke-width="4.00" stroke-linecap="round" fill="none"/>
<path d="M541.6 293.9h0M514.1 348.4h0M678.3 188.0h0M487.1 258.5h0M495.5 315.9h0M683.8 202.7h0M681.1 199.5h0M511.2 309.4h0M499.8 313.8h0M657.7 196.5h0M517.8 338.9h0M467.4 128.5h0M478.3 302.0h0M457.0 127.0h0M677.1 220.4h0M490.4 293.7h0M670.6 236.8h0M541.5 264.4h0M692.2 226.8h0M683.1 194.8h0M487.4 223.1h0M486.8 287.6h0M696.3 222.6h0M496.0 311.0h0M463.4 119.7h0M466.1 184.8h0M455.7 117.1h0M470.0 202.9h0M513.7 295.4h0M491.7 315.1h0M678.9 213.5h0M490.8 224.9h0M452.7 120.2h0M469.2 142.1h0M513.7 301.9h0M463.5 175.4h0M522.6 343.8h0M687.0 190.2h0M523.0 245.6h0M675.0 223.7h0M507.8 339.9h0M516.0 334.2h0M463.7 129.1h0M498.9 289.0h0M466.8 192.9h0M515.1 308.7h0M520.1 303.2h0M505.6 256.8h0" stroke="#ff7f0e" stroke-width="4.00" stroke-linecap="round" fill="none"/>
<path d="M544.5 278.6h0M461.6 125.4h0M499.1 126.3h0M468.0 127.3h0M455.9 123.6h0M451.4 117.8h0M471.8 141.5h0M463.3 132.8h0M467.0 163.6h0M515.7 315.4h0M481.5 133.8h0M453.8 125.4h0M494.7 175.9h0M480.5 164.8h0M464.8 115.3h0M465.0 131.7h0M491.1 238.5h0M454.7 135.5h0M497.1 129.4h0M517.9 296.9h0M474.8 129.4h0M465.8 191.8h0M520.9 335.6h0M510.7 338.9h0M489.4 157.0h0M689.1 192.8h0M539.3 122.1h0M467.8 158.8h0M477.5 158.7h0M489.1 169.4h0M673.8 209.7h0M483.6 167.2h0M477.9 142.5h0M473.3 135.1h0" stroke="#d62728" stroke-width="4.00" stroke-linecap="round" fill="none"/>
<path d="M691.4 225.0h0M675.5 210.0h0M683.8 214.7h0M529.3 217.5h0M699.2 203.7h0M672.7 217.2h0M487.5 313.4h0M513.6 306.9h0M669.6 223.2h0M524.6 257.0h0M454.1 104.2h0M517.3 343.9h0M675.8 221.4h0M520.7 298.1h0M518.6 216.5h0M532.3 274.2h0M690.9 223.5h0M471.1 110.6h0M668.4 191.6h0M689.3 210.5h0M497.6 302.5h0" stroke="#e377c2" stroke-width="4.00" stroke-linecap="round" fill="none"/>
<path d="M688.2 247.8h0M512.7 314.4h0M476.4 144.4h0M535.1 316.6h0M530.7 224.7h0M682.7 252.6h0M677.4 254.9h0M544.4 293.8h0M503.0 263.6h0M491.6 226.4h0M683.6 243.8h0M512.0 345.6h0M519.0 297.3h0M493.4 314.5h0M535.2 320.1h0M682.5 245.5h0M534.6 326.6h0M485.2 261.7h0M679.4 260.9h0M543.7 313.1h0M496.3 250.9h0M681.4 234.6h0M679.8 246.7h0M538.8 316.4h0M489.1 222.3h0M522.5 239.3h0M675.5 261.5h0M516.5 206.5h0M514.8 289.5h0M550.7 299.9h0M523.1 240.7h0M683.6 207.2h0M550.2 295.6h0M518.7 314.1h0M470.6 200.9h0M470.0 199.7h0M677.0 240.1h0M655.8 202.9h0M679.7 254.5h0M697.9 219.0h0M545.4 274.8h0M465.0 171.1h0M544.8 268.6h0M483.9 151.2h0M671.1 234.8h0" stroke="#1f77b4" stroke-width="4.00" stroke-linecap="round" fill="none"/>
<path d="M468.5 111.3h0M672.5 208.1h0M530.2 276.7h0M703.3 195.0h0M459.5 147.8h0M496.6 136.7h0M486.8 302.8h0M534.0 274.9h0M671.7 199.3h0M679.7 202.8h0M536.6 302.0h0M669.4 221.6h0M528.2 281.7h0M515.5 316.8h0M496.7 289.2h0M699.7 212.2h0M486.5 166.8h0M686.2 197.1h0M680.9 222.5h0M688.0 205.5h0M685.6 188.5h0M499.8 122.7h0M673.0 201.0h0M465.8 111.2h0M674.9 187.5h0M461.2 116.5h0M700.4 204.1h0M451.2 108.0h0M511.8 251.5h0M681.3 215.4h0M690.0 219.9h0M685.8 214.8h0M523.8 304.5h0M680.4 187.6h0M682.2 201.9h0M697.4 195.8h0M485.5 165.9h0M523.4 280.5h0" stroke="#aa40fc" stroke-width="4.00" stroke-linecap="round" fill="none"/>
<path d="M494.0 298.1h0M695.7 218.0h0M490.3 313.0h0M491.8 310.4h0M500.9 147.5h0M487.2 311.8h0M484.3 297.0h0M698.3 198.1h0M673.3 224.1h0M681.4 204.2h0M477.8 304.1h0" stroke="#8c564b" stroke-width="4.00" stroke-linecap="round" fill="none"/>
<path d="M674.1 190.5h0M692.8 201.2h0M496.4 277.0h0M521.8 338.1h0M509.9 314.1h0M528.7 266.7h0M511.3 313.3h0M543.9 302.6h0M671.6 214.1h0M485.9 314.8h0M507.9 300.5h0M491.9 306.1h0M486.5 309.6h0M690.6 191.9h0M538.0 261.8h0M530.2 260.7h0M514.4 312.9h0" stroke="#e377c2" stroke-width="4.00" stroke-linecap="round" fill="none"/>
<path d="M461.6 157.7h0M452.5 112.0h0M462.3 117.4h0M472.9 166.8h0M451.9 116.3h0M516.5 235.8h0M528.4 220.5h0M534.0 209.3h0M498.6 133.6h0M475.7 129.8h0M471.5 161.4h0M450.9 105.6h0M528.9 225.0h0M485.5 164.2h0M475.1 163.1h0M519.7 211.9h0M467.7 195.9h0M489.8 255.4h0M475.0 131.5h0M471.4 138.6h0M455.3 147.6h0M477.1 146.2h0M679.0 197.1h0M456.6 135.8h0M461.4 157.1h0M538.6 122.6h0M472.6 156.5h0M499.2 145.5h0M525.7 232.8h0M490.9 165.4h0M465.7 152.0h0" stroke="#d62728" stroke-width="4.00" stroke-linecap="round" fill="none"/>
<path d="M489.1 257.6h0M517.2 247.2h0M524.5 296.1h0M684.2 258.2h0M538.2 258.6h0M684.1 245.0h0M681.3 231.8h0M524.1 292.6h0M676.1 232.2h0M473.4 207.4h0M547.3 300.5h0M652.5 204.4h0M490.3 223.1h0M507.2 312.7h0M541.7 258.5h0M541.7 266.2h0M533.9 294.7h0M530.4 221.3h0M509.3 315.5h0M674.2 262.6h0M520.6 339.2h0M702.9 203.7h0M460.2 128.6h0M536.1 205.7h0M513.0 297.8h0M673.3 243.2h0M514.1 270.0h0M466.9 187.4h0M542.6 312.4h0M677.1 227.1h0M685.2 227.5h0M550.0 298.8h0M675.2 236.0h0M518.6 292.8h0M465.4 167.9h0M541.9 295.0h0M545.8 291.0h0M484.4 212.1h0M524.1 293.8h0M520.5 250.9h0M684.2 249.1h0M510.6 322.7h0M667.5 263.1h0M472.9 202.8h0M675.8 218.2h0M677.9 252.4h0M654.0 190.9h0M540.5 274.1h0M672.5 245.4h0M519.7 228.6h0M671.9 244.0h0M539.8 295.7h0M671.5 228.4h0M475.5 212.2h0M522.9 335.7h0M529.0 247.8h0M528.0 275.3h0M496.3 244.9h0M533.6 316.6h0" stroke="#1f77b4" stroke-width="4.00" stroke-linecap="round" fill="none"/>
<path d="M489.6 302.1h0M525.2 307.3h0M515.9 351.1h0M687.0 188.7h0M505.3 304.1h0M510.5 297.9h0M513.1 318.5h0M544.0 292.8h0M516.8 345.2h0M465.4 169.7h0M529.5 283.5h0M694.0 202.2h0M488.4 250.3h0M681.6 205.5h0M490.8 277.6h0M518.6 281.6h0M517.5 306.0h0M488.3 260.3h0M700.5 206.3h0M516.3 322.9h0M685.5 221.8h0M525.6 226.3h0M514.7 301.4h0M504.7 317.8h0M696.3 195.3h0M490.1 273.5h0M482.0 299.5h0M522.4 345.2h0M515.3 266.7h0M537.1 292.5h0M523.2 306.2h0M535.7 298.5h0M697.5 192.9h0M702.3 213.0h0M471.5 202.9h0M457.1 144.6h0M520.4 268.1h0M515.0 341.4h0M500.8 276.9h0M523.3 272.5h0M701.1 215.2h0M680.4 196.6h0M530.0 305.1h0M511.6 321.3h0M519.4 219.6h0M552.0 284.7h0M544.8 266.5h0M669.9 183.8h0M504.0 321.4h0M518.4 326.4h0M496.5 325.5h0M515.6 342.5h0M515.6 311.1h0" stroke="#ff7f0e" stroke-width="4.00" stroke-linecap="round" fill="none"/>
<path d="M526.3 293.5h0M510.0 253.5h0M516.8 301.0h0M487.5 283.1h0M546.9 299.4h0M503.3 320.4h0M531.2 282.4h0M662.9 208.1h0M514.3 320.4h0M507.8 316.1h0M455.2 120.8h0M523.9 266.1h0M521.2 264.7h0M530.9 267.9h0M671.4 209.3h0M683.3 212.0h0M513.2 338.4h0M700.0 200.3h0M526.0 271.0h0M473.2 163.5h0M499.9 127.0h0M692.7 219.6h0M680.1 200.5h0M670.3 261.0h0M510.1 266.0h0M690.5 216.6h0M484.9 245.0h0M695.0 214.2h0M488.2 248.3h0M519.8 320.9h0M482.7 298.3h0" stroke="#aa40fc" stroke-width="4.00" stroke-linecap="round" fill="none"/>
<path d="M679.7 223.9h0M687.0 214.5h0M678.3 223.2h0M487.4 272.6h0M493.3 291.8h0" stroke="#8c564b" stroke-width="4.00" stroke-linecap="round" fill="none"/>
<path d="M462.8 151.8h0" stroke="#2ca02c" stroke-width="4.00" stroke-linecap="round" fill="none"/>
<path d="M524.5 268.2h0M536.5 253.3h0M507.1 281.2h0M697.4 209.0h0M514.2 340.5h0M664.7 190.1h0M672.1 222.5h0M527.9 243.3h0M500.6 316.2h0M501.9 319.8h0M526.7 224.2h0M527.8 252.1h0M483.7 310.6h0M694.2 212.8h0M491.7 313.9h0" stroke="#e377c2" stroke-width="4.00" stroke-linecap="round" fill="none"/>
<path d="M483.5 152.7h0M487.8 156.6h0M460.0 123.4h0M459.9 117.8h0M477.3 154.8h0M470.1 155.4h0M494.1 264.7h0M483.2 265.0h0M466.5 113.6h0M496.0 131.4h0M494.4 144.6h0M479.9 147.0h0M464.4 136.0h0M514.4 317.0h0M462.9 154.1h0M453.8 139.4h0M549.5 290.2h0M541.4 297.5h0M516.9 313.4h0M478.5 131.6h0M521.7 348.6h0M530.0 225.8h0M493.4 137.6h0M464.1 131.1h0M478.8 146.6h0M473.9 146.6h0M507.4 137.5h0" stroke="#d62728" stroke-width="4.00" stroke-linecap="round" fill="none"/>
<path d="M479.2 123.8h0M689.3 212.7h0M469.9 143.1h0M512.6 344.2h0M550.2 276.7h0M676.8 187.0h0M686.0 200.6h0M483.8 146.2h0M495.9 321.4h0M494.7 310.1h0M454.2 107.7h0M457.3 143.1h0M501.1 282.0h0M528.4 277.3h0M541.8 270.6h0M492.5 303.0h0M526.4 274.9h0M696.1 197.1h0M489.9 314.5h0M503.6 334.1h0M483.4 300.1h0M482.5 304.7h0M512.5 340.1h0M522.3 278.2h0M499.3 310.0h0M517.5 308.9h0M524.1 221.3h0M690.0 217.6h0M527.7 286.3h0M532.0 280.5h0M524.8 263.6h0M488.3 310.6h0M677.4 222.4h0M503.9 282.0h0M513.9 313.3h0M510.2 345.9h0M535.7 274.5h0M510.3 300.4h0M676.4 200.6h0M678.6 208.2h0" stroke="#aa40fc" stroke-width="4.00" stroke-linecap="round" fill="none"/>
<path d="M504.1 290.7h0M505.9 319.2h0M520.6 345.9h0M696.5 214.6h0M465.0 182.7h0M662.9 267.0h0M535.3 294.8h0M499.8 328.1h0M529.0 215.3h0M499.0 295.5h0M462.7 131.8h0M475.8 304.8h0M510.8 344.0h0M489.0 309.4h0M502.2 328.9h0M491.9 244.9h0M489.1 234.9h0M501.9 278.2h0M665.1 267.4h0M516.6 310.7h0M466.5 117.7h0M514.4 335.5h0M529.2 227.9h0M510.8 316.5h0M500.8 232.9h0M687.5 221.2h0M685.0 192.8h0M653.2 203.2h0M513.3 335.9h0M467.7 153.6h0M490.3 235.3h0M531.6 294.2h0M515.2 312.5h0M686.7 204.9h0M518.5 352.1h0M676.1 206.4h0M485.2 310.2h0M480.5 293.4h0M519.5 346.8h0M476.6 134.2h0M512.1 337.6h0M529.8 210.8h0M501.1 244.9h0M687.2 199.2h0M491.2 303.6h0M549.2 279.7h0M492.1 272.0h0" stroke="#ff7f0e" stroke-width="4.00" stroke-linecap="round" fill="none"/>
<path d="M491.9 222.4h0M529.8 325.0h0M547.4 269.1h0M514.0 342.2h0M487.7 237.5h0M545.7 301.1h0M533.2 325.2h0M676.8 229.4h0M677.1 242.5h0M543.2 262.7h0M529.7 279.3h0M523.0 225.6h0M680.8 252.7h0M518.6 341.8h0M682.8 240.5h0M542.0 292.7h0M663.6 210.8h0M677.1 233.2h0M546.5 281.5h0M516.0 291.2h0M530.5 313.5h0M485.2 233.2h0M509.4 346.7h0M528.7 236.0h0M546.5 303.4h0M651.0 205.9h0M521.2 226.2h0M488.0 254.7h0M504.7 252.9h0M479.4 125.2h0M515.2 277.5h0M539.2 269.7h0M496.3 325.1h0M665.8 214.9h0M537.1 322.1h0M520.1 290.8h0M518.8 240.0h0M543.8 297.7h0M514.8 259.1h0M492.9 228.5h0M549.1 296.4h0M487.1 241.2h0M673.2 256.2h0M537.9 297.7h0M679.2 258.9h0M533.1 313.9h0M486.1 263.9h0M693.0 195.7h0M674.0 241.0h0M680.7 233.6h0M546.0 292.8h0M485.1 248.2h0M487.7 235.9h0M675.3 263.0h0M678.3 232.9h0M673.2 250.3h0M537.4 317.3h0M539.7 266.7h0M541.5 301.9h0M540.0 322.3h0M690.2 196.0h0" stroke="#1f77b4" stroke-width="4.00" stroke-linecap="round" fill="none"/>
<path d="M489.4 142.7h0M497.1 308.6h0M675.0 219.1h0M497.4 297.1h0M702.1 194.8h0M495.9 286.8h0" stroke="#8c564b" stroke-width="4.00" stroke-linecap="round" fill="none"/>
<text x="587.0" y="317.7" font-size="25.2" fill="#1f77b4" font-weight="700" textLength="57.43" lengthAdjust="spacingAndGlyphs" stroke="#1f77b4" stroke-width="0.40" stroke-linejoin="round">1 dpi</text>
<text x="687.0" y="317.7" font-size="25.2" fill="#ff7f0e" font-weight="700" textLength="57.73" lengthAdjust="spacingAndGlyphs" stroke="#ff7f0e" stroke-width="0.40" stroke-linejoin="round">3 dpi</text>
<text x="587.0" y="353.0" font-size="25.2" fill="#2ca02c" font-weight="700" textLength="57.43" lengthAdjust="spacingAndGlyphs" stroke="#2ca02c" stroke-width="0.40" stroke-linejoin="round">5 dpi</text>
<text x="687.0" y="353.0" font-size="25.2" fill="#d62728" font-weight="700" textLength="57.73" lengthAdjust="spacingAndGlyphs" stroke="#d62728" stroke-width="0.40" stroke-linejoin="round">7 dpi</text>
<text x="587.0" y="388.4" font-size="25.2" fill="#9467bd" font-weight="700" textLength="71.59" lengthAdjust="spacingAndGlyphs" stroke="#9467bd" stroke-width="0.40" stroke-linejoin="round">14 dpi</text>
<text x="687.8" y="388.4" font-size="25.2" fill="#8c564b" font-weight="700" textLength="27.00" lengthAdjust="spacingAndGlyphs" stroke="#8c564b" stroke-width="0.40" stroke-linejoin="round">27</text>
<text x="586.3" y="422.4" font-size="25.2" fill="#8c564b" font-weight="700" textLength="36.49" lengthAdjust="spacingAndGlyphs" stroke="#8c564b" stroke-width="0.40" stroke-linejoin="round">dpi</text>
<text x="587.0" y="457.5" font-size="25.2" fill="#e377c2" font-weight="700" textLength="114.71" lengthAdjust="spacingAndGlyphs" stroke="#e377c2" stroke-width="0.40" stroke-linejoin="round">uninjured</text>
<text x="1015.8" y="28.0" font-size="33.0" fill="#000" font-weight="700" textLength="17.83" lengthAdjust="spacingAndGlyphs" stroke="#000" stroke-width="0.90" stroke-linejoin="round">b</text>
<text x="1124.2" y="86.3" font-size="24.6" fill="#000" textLength="99.30" lengthAdjust="spacingAndGlyphs" stroke="#000" stroke-width="0.60" stroke-linejoin="round">Papillary</text>
<text x="1451.6" y="86.3" font-size="24.6" fill="#000" textLength="103.42" lengthAdjust="spacingAndGlyphs" stroke="#000" stroke-width="0.60" stroke-linejoin="round">Reticular</text>
<text x="1801.7" y="86.3" font-size="24.6" fill="#000" textLength="69.25" lengthAdjust="spacingAndGlyphs" stroke="#000" stroke-width="0.60" stroke-linejoin="round">Fascia</text>
<text x="0" y="0" font-size="26.0" fill="#000" textLength="156.81" lengthAdjust="spacingAndGlyphs" stroke="#000" stroke-width="0.60" stroke-linejoin="round" transform="translate(973.2 306.8) rotate(-90)">Profile scores</text>
<text x="0" y="0" font-size="26.0" fill="#000" textLength="91.50" lengthAdjust="spacingAndGlyphs" stroke="#000" stroke-width="0.60" stroke-linejoin="round" transform="translate(973.5 550.0) rotate(-90)">Clusters</text>
<path d="M1122.6 296.9h0M1040.4 188.5h0M1101.8 270.4h0M1040.0 115.0h0M1048.6 164.3h0M1097.3 304.9h0M1035.8 118.8h0M1038.5 186.7h0M1086.4 301.6h0M1083.2 316.4h0M1065.4 306.6h0M1087.6 348.6h0M1051.7 151.2h0M1114.3 315.2h0M1120.4 299.8h0M1115.5 293.2h0M1065.3 310.8h0M1027.3 126.8h0M1104.7 282.9h0M1063.2 164.1h0M1041.2 124.6h0M1034.3 135.0h0M1089.6 302.7h0M1248.5 224.6h0M1029.0 145.7h0M1058.3 244.2h0M1084.7 309.8h0M1052.8 145.6h0M1086.1 220.3h0M1096.6 241.5h0M1032.8 133.3h0M1040.3 190.3h0M1084.0 298.4h0M1070.6 309.0h0M1036.7 183.7h0M1057.4 155.6h0M1057.0 154.0h0M1081.3 316.5h0M1083.6 252.8h0M1110.6 293.0h0M1076.8 320.7h0M1105.4 315.5h0M1231.6 219.5h0M1026.2 121.6h0M1109.1 316.1h0M1050.1 142.4h0M1275.5 215.3h0M1089.1 342.7h0M1042.7 143.4h0M1089.0 248.6h0M1070.2 289.7h0M1072.1 135.0h0M1063.4 237.9h0M1249.3 222.3h0M1098.2 224.3h0M1063.8 223.9h0M1276.1 201.6h0M1110.7 319.5h0M1087.4 313.7h0M1106.6 314.3h0M1075.4 278.8h0M1027.6 105.7h0M1247.6 191.6h0M1041.1 133.9h0M1062.7 307.9h0M1089.2 315.7h0M1064.7 304.0h0M1087.6 270.6h0M1074.9 315.7h0M1099.8 228.9h0M1037.7 114.4h0M1060.4 156.3h0M1092.3 309.0h0M1050.8 156.0h0M1117.5 291.0h0M1066.4 229.3h0M1076.0 324.6h0M1049.3 305.2h0M1062.6 223.1h0M1039.2 153.2h0M1257.1 208.2h0M1087.9 317.4h0M1083.2 328.4h0M1094.1 346.1h0M1091.2 303.8h0M1027.2 144.8h0M1117.2 313.5h0M1072.8 277.2h0M1091.3 347.9h0M1098.7 307.8h0M1109.6 206.7h0M1084.5 341.8h0M1250.6 245.1h0M1036.8 126.5h0M1080.7 313.1h0M1055.4 148.4h0M1067.6 265.4h0M1086.2 314.7h0M1104.4 268.5h0M1065.0 292.9h0M1087.9 313.3h0M1116.7 263.3h0M1099.9 222.0h0M1062.9 144.0h0M1254.8 232.6h0M1069.8 245.6h0M1040.7 162.1h0M1110.3 275.7h0M1060.9 252.3h0M1073.3 328.4h0M1087.3 324.9h0M1094.7 265.3h0M1106.5 264.3h0M1089.4 349.3h0M1096.7 306.7h0M1276.8 196.0h0M1059.0 167.0h0M1082.9 346.9h0M1033.7 130.0h0M1051.3 304.5h0M1095.9 345.4h0M1079.1 257.5h0M1098.3 235.7h0M1123.0 290.7h0M1060.0 310.0h0M1108.4 208.3h0M1085.3 252.2h0M1029.5 117.1h0M1038.6 135.8h0M1110.0 254.0h0M1059.4 315.2h0M1088.7 312.9h0M1048.5 145.5h0M1070.8 148.6h0M1082.6 258.8h0M1092.1 293.3h0M1237.1 211.7h0M1087.2 302.4h0M1060.8 219.4h0M1042.4 142.4h0M1095.7 301.0h0M1090.4 313.8h0M1061.0 283.7h0M1093.0 307.2h0M1250.5 240.9h0M1061.8 311.0h0M1051.4 143.8h0M1045.0 203.8h0M1065.2 315.5h0M1039.6 185.9h0M1255.2 192.9h0M1060.6 250.1h0M1080.7 344.3h0M1027.6 123.4h0M1095.8 278.8h0M1092.4 345.3h0M1061.4 217.1h0M1113.3 296.2h0M1123.6 291.7h0M1069.5 132.8h0M1229.7 266.5h0M1054.0 166.0h0M1089.5 291.7h0M1037.0 168.5h0M1031.3 127.6h0M1030.9 106.6h0M1054.6 227.7h0M1068.0 303.2h0M1062.6 170.5h0M1097.0 269.7h0M1049.0 135.6h0M1271.0 193.9h0M1064.2 234.9h0M1082.6 319.4h0M1060.0 304.9h0M1050.9 146.3h0M1032.4 150.2h0M1115.1 294.4h0M1042.4 201.4h0M1101.4 244.1h0M1117.9 294.3h0M1074.3 233.7h0M1254.0 244.3h0M1274.0 207.2h0M1060.6 259.2h0M1028.2 136.9h0M1070.9 276.9h0M1030.4 126.2h0M1035.1 158.9h0M1030.8 144.4h0M1085.2 312.5h0M1061.5 172.2h0M1066.9 139.0h0M1063.6 303.9h0M1065.9 289.1h0M1088.8 239.4h0M1109.4 323.8h0M1060.9 224.0h0M1107.8 270.9h0M1035.8 111.7h0M1063.3 300.2h0M1038.9 170.9h0M1102.7 228.8h0M1085.3 299.4h0M1048.7 149.6h0M1027.7 109.2h0M1109.2 275.1h0M1069.7 131.4h0M1076.0 288.4h0M1052.4 300.5h0M1107.5 210.3h0M1038.9 169.1h0M1102.5 248.5h0M1068.0 301.9h0M1103.2 279.9h0M1055.0 135.1h0M1270.9 196.8h0M1093.9 329.2h0M1105.6 306.3h0M1084.9 218.9h0M1275.6 195.8h0M1101.0 237.0h0M1074.1 126.5h0M1064.6 239.3h0M1096.8 223.3h0M1026.0 113.4h0M1096.2 230.2h0M1110.1 302.4h0M1070.2 252.3h0M1104.2 225.6h0M1107.1 316.9h0M1113.2 298.7h0M1058.6 266.0h0M1104.0 313.9h0M1030.4 119.9h0M1063.9 294.2h0M1056.7 307.8h0M1054.0 293.9h0M1031.9 145.7h0M1043.5 200.7h0M1103.5 305.6h0M1070.5 319.6h0M1081.4 300.9h0M1064.2 233.4h0M1097.7 291.5h0M1079.3 290.4h0M1090.3 301.5h0M1108.6 317.0h0M1087.6 221.9h0M1043.5 203.9h0M1058.2 308.6h0M1064.3 225.7h0M1073.0 144.8h0M1036.8 146.4h0M1090.1 287.5h0M1073.3 124.1h0M1070.9 297.6h0M1079.4 319.5h0M1103.7 268.8h0M1057.8 313.1h0M1094.0 343.8h0M1258.5 242.6h0M1257.3 215.6h0M1026.0 106.5h0M1250.9 255.6h0M1042.4 145.4h0M1089.0 345.5h0M1116.1 312.8h0M1115.2 300.4h0M1061.8 261.0h0M1065.3 229.9h0M1100.4 307.6h0M1036.9 121.2h0M1062.6 258.2h0M1103.3 325.3h0M1087.0 345.7h0M1101.9 277.9h0M1082.3 312.1h0M1091.5 317.6h0M1073.9 232.2h0M1120.0 282.1h0M1055.9 146.4h0M1038.5 133.0h0M1066.9 314.9h0M1065.4 223.3h0M1068.9 314.5h0M1084.8 313.6h0M1105.5 281.1h0M1099.8 294.0h0M1072.3 308.0h0M1061.7 304.7h0M1049.0 207.7h0M1093.9 268.7h0M1104.7 270.0h0M1063.5 320.3h0M1112.7 270.3h0M1055.6 303.2h0M1052.3 147.9h0M1112.3 322.7h0M1089.0 317.1h0M1108.8 295.3h0M1064.4 166.6h0M1065.2 314.3h0M1045.6 151.7h0M1056.2 298.7h0M1063.2 251.8h0M1042.0 112.7h0M1122.3 293.7h0M1034.7 118.0h0M1077.0 318.9h0M1266.2 213.9h0M1093.2 229.5h0M1035.1 126.8h0M1060.3 172.2h0M1076.5 264.3h0M1071.0 127.8h0M1090.9 231.3h0M1088.0 235.2h0M1124.2 300.3h0M1098.0 268.9h0M1033.5 124.7h0M1103.3 211.8h0M1028.8 148.9h0M1089.1 311.5h0M1125.5 285.3h0M1069.8 251.6h0M1091.9 294.8h0M1070.5 304.7h0M1060.3 303.2h0M1090.0 236.6h0M1024.4 107.1h0M1107.7 250.0h0M1061.3 157.9h0M1054.6 146.1h0M1106.1 273.5h0M1069.2 291.7h0M1063.3 311.7h0M1254.9 235.4h0M1039.3 192.9h0M1086.1 344.4h0M1075.4 320.1h0M1087.1 297.1h0M1101.9 221.4h0M1085.6 337.8h0M1096.1 344.0h0M1114.3 305.6h0M1067.5 298.6h0M1076.1 311.9h0M1092.3 240.8h0M1067.6 317.5h0M1062.2 287.8h0M1109.5 325.4h0M1113.3 263.4h0M1029.5 146.8h0M1120.9 298.6h0M1105.8 274.8h0M1093.9 338.4h0M1119.5 293.3h0M1091.0 257.6h0M1027.6 135.1h0M1120.9 269.7h0M1088.1 344.3h0M1064.1 277.0h0M1103.7 261.4h0M1123.7 277.3h0M1043.4 144.4h0M1092.1 342.0h0M1080.6 281.8h0M1037.6 117.5h0M1073.5 236.3h0M1111.7 259.3h0M1253.6 248.6h0M1099.5 271.6h0M1093.5 350.4h0M1078.2 274.0h0M1083.7 346.1h0M1120.4 297.5h0M1087.2 316.3h0M1074.1 316.5h0M1080.9 138.8h0M1037.0 176.5h0M1072.7 146.7h0M1061.1 285.0h0M1030.0 141.7h0M1114.9 297.9h0M1246.0 209.1h0M1111.8 292.2h0M1245.6 234.8h0M1045.0 162.6h0M1058.6 248.9h0M1096.1 340.0h0M1087.5 328.3h0M1024.5 108.2h0M1090.5 312.1h0M1031.4 129.5h0M1025.0 122.8h0M1052.0 133.0h0M1057.2 275.1h0M1114.2 277.2h0M1055.5 300.0h0M1103.0 284.1h0M1037.5 144.9h0M1034.7 141.7h0M1088.7 278.1h0M1099.2 274.1h0M1030.5 128.4h0M1056.7 265.6h0M1030.1 137.1h0M1034.1 113.8h0M1061.9 286.4h0M1057.3 147.4h0M1086.7 275.9h0M1059.0 215.9h0M1045.3 142.8h0M1246.5 202.0h0M1249.9 201.6h0M1087.6 281.8h0M1097.3 266.0h0M1059.6 264.5h0M1094.5 244.1h0M1096.4 342.0h0M1038.5 183.7h0M1070.1 138.0h0M1094.2 319.7h0M1264.4 224.3h0M1105.6 324.1h0M1038.3 116.7h0M1065.6 272.6h0M1262.6 193.8h0M1050.2 149.6h0M1042.0 164.7h0M1060.9 273.2h0M1049.8 157.1h0M1069.4 321.7h0M1114.0 313.0h0M1249.0 262.2h0M1257.5 191.6h0M1046.1 162.2h0M1086.1 323.7h0M1114.8 316.3h0M1073.5 237.8h0M1099.2 233.6h0M1109.5 276.8h0M1061.2 238.3h0M1047.4 147.9h0M1110.7 315.2h0M1061.0 313.8h0M1095.3 338.4h0M1084.1 323.0h0M1056.9 300.6h0M1102.4 225.9h0M1051.0 159.9h0M1067.0 141.2h0M1101.3 252.8h0M1257.7 258.9h0M1058.7 310.6h0M1040.2 126.4h0M1087.1 307.3h0M1101.2 286.9h0M1116.6 292.1h0M1040.9 129.9h0M1069.4 287.3h0M1071.1 303.0h0M1094.4 335.9h0M1035.2 129.3h0M1086.7 338.6h0M1242.9 222.4h0M1083.4 314.5h0M1231.2 197.5h0M1102.2 236.8h0M1101.5 279.2h0M1100.2 269.3h0M1097.3 341.9h0M1253.9 188.6h0M1041.2 154.8h0M1040.0 119.1h0M1044.1 201.9h0M1046.1 157.7h0M1095.5 223.4h0M1065.1 227.2h0M1268.8 205.5h0M1071.7 258.7h0M1087.9 213.2h0M1249.1 257.7h0M1087.5 342.4h0M1035.0 132.7h0M1039.2 164.0h0M1056.0 288.5h0M1049.2 131.2h0M1123.7 296.0h0M1101.5 230.8h0M1070.0 140.1h0M1061.2 236.7h0M1094.4 290.1h0M1051.8 302.5h0M1090.1 266.0h0M1088.2 301.8h0M1079.4 329.9h0M1254.9 242.3h0M1054.3 144.6h0M1070.6 130.8h0M1029.6 149.7h0M1078.2 257.2h0M1115.4 295.5h0M1095.0 296.4h0M1082.1 315.4h0M1054.8 150.6h0M1082.8 315.9h0M1097.4 300.8h0M1038.3 153.5h0M1036.1 122.0h0M1065.0 138.5h0M1111.3 303.1h0M1107.4 293.9h0M1099.0 292.1h0M1030.3 133.7h0M1250.1 226.3h0M1102.4 325.6h0M1095.2 348.8h0M1096.3 301.0h0M1045.5 145.8h0M1037.9 167.4h0M1061.0 294.6h0M1268.9 194.7h0M1066.8 292.3h0M1077.6 287.5h0M1084.3 344.2h0M1079.9 339.4h0M1035.2 167.3h0M1049.0 213.2h0M1097.4 266.7h0M1062.2 273.9h0M1041.3 160.0h0M1072.6 127.7h0M1118.3 269.2h0M1063.8 228.3h0M1096.5 246.3h0M1113.7 272.1h0M1101.3 259.0h0M1245.4 244.7h0M1040.5 164.8h0M1098.0 230.7h0M1053.3 162.2h0M1103.5 226.7h0M1119.3 291.5h0M1109.2 299.0h0M1057.9 213.1h0M1095.2 220.3h0M1088.3 290.0h0M1101.7 282.3h0M1063.4 314.9h0M1112.3 316.8h0M1086.8 336.1h0M1065.0 221.5h0M1058.7 262.3h0M1063.1 268.2h0M1121.7 277.7h0M1059.4 161.8h0M1090.0 305.8h0M1069.0 316.3h0M1072.8 310.4h0M1101.5 275.9h0M1060.2 307.2h0M1088.5 341.6h0M1043.3 124.0h0M1097.6 294.3h0M1064.0 144.7h0M1256.0 246.2h0M1036.4 155.4h0M1064.5 299.5h0M1093.6 291.3h0M1041.2 196.9h0M1085.5 345.8h0M1027.3 140.7h0M1061.9 251.0h0M1060.5 164.0h0M1236.4 267.6h0M1072.2 314.7h0M1036.3 179.8h0M1268.3 211.1h0M1084.2 339.2h0M1083.5 254.2h0M1068.3 295.8h0M1048.5 132.8h0M1029.4 119.6h0M1061.5 255.4h0M1094.3 310.1h0M1029.6 127.7h0M1093.2 212.8h0M1092.5 297.7h0M1024.9 119.2h0M1118.3 267.2h0M1080.4 251.2h0M1031.0 116.1h0M1045.5 206.5h0M1063.1 302.6h0M1050.1 135.6h0M1069.8 325.4h0M1098.0 296.5h0M1247.3 210.7h0M1078.2 253.6h0M1045.1 134.8h0M1084.3 316.9h0M1120.0 295.9h0M1068.2 310.5h0M1028.7 122.2h0M1038.9 138.9h0M1052.9 126.6h0M1091.3 339.2h0M1109.2 260.0h0M1098.4 329.7h0M1244.6 235.6h0M1264.4 194.2h0M1089.5 334.4h0M1061.2 160.1h0M1098.1 257.7h0M1064.1 271.0h0M1071.3 312.9h0M1059.9 319.8h0M1039.4 147.9h0M1057.2 311.0h0M1037.6 175.1h0M1062.9 158.2h0M1073.2 285.9h0M1056.3 214.9h0M1088.6 307.7h0M1059.0 157.4h0M1052.7 137.1h0M1064.2 159.3h0M1058.4 245.8h0M1080.9 310.3h0M1101.3 226.0h0M1037.9 137.3h0M1066.1 265.7h0M1095.6 293.9h0M1037.2 130.4h0M1091.9 268.5h0M1107.6 298.1h0M1080.7 291.4h0M1060.4 243.4h0M1077.6 291.2h0M1074.6 245.6h0M1048.3 130.7h0M1092.8 283.3h0M1102.8 218.4h0M1101.6 228.9h0M1059.5 308.7h0M1090.9 273.2h0M1062.6 235.7h0M1115.0 302.3h0M1075.7 329.2h0M1094.0 251.6h0M1089.8 323.3h0M1058.7 234.1h0M1092.9 292.3h0M1103.6 213.5h0M1030.6 145.9h0M1063.8 313.4h0M1029.4 125.0h0M1042.5 198.0h0M1092.9 220.5h0M1075.4 277.5h0M1097.9 229.2h0M1097.6 339.0h0M1067.9 320.8h0M1245.5 195.3h0M1063.3 256.1h0M1276.4 204.6h0M1061.7 249.0h0M1092.2 314.5h0M1052.7 125.1h0M1091.9 326.7h0M1066.0 303.5h0M1038.4 134.1h0M1066.6 146.7h0M1040.3 193.9h0M1086.5 258.3h0M1077.5 321.8h0M1033.0 149.1h0M1034.8 116.9h0M1041.5 128.7h0M1117.3 298.2h0M1046.8 136.4h0M1057.1 215.8h0M1097.6 293.1h0M1060.7 312.1h0M1094.1 339.4h0M1095.4 273.2h0M1091.0 309.3h0M1083.8 300.8h0M1050.6 147.5h0M1068.2 177.0h0M1074.3 277.5h0M1085.0 296.2h0M1047.0 210.1h0M1117.6 297.0h0M1053.4 148.3h0M1249.3 241.4h0M1114.8 312.5h0M1102.2 267.3h0M1055.7 274.0h0M1049.8 306.0h0M1078.2 318.2h0M1086.0 340.3h0M1060.0 168.0h0M1074.4 148.7h0M1056.2 318.0h0M1069.5 311.4h0M1060.6 242.0h0M1095.1 275.3h0M1093.6 288.5h0M1059.0 165.4h0M1091.7 334.5h0M1122.5 270.2h0M1117.4 303.0h0M1044.9 139.9h0M1077.1 334.4h0M1269.8 196.3h0M1269.8 223.4h0M1262.3 241.3h0M1095.1 306.4h0M1121.9 300.6h0M1034.9 158.3h0M1087.9 335.8h0M1074.6 263.9h0M1105.0 263.0h0M1100.6 284.4h0M1059.6 217.5h0M1057.8 297.5h0M1087.2 295.8h0M1034.9 122.6h0M1107.5 275.5h0M1108.1 322.1h0M1069.9 277.6h0M1038.2 125.8h0M1072.4 289.5h0M1084.3 328.4h0M1090.8 344.1h0M1046.9 208.4h0M1082.7 310.1h0M1035.0 125.2h0M1046.4 203.8h0M1090.3 293.6h0M1065.4 245.6h0M1246.8 225.0h0M1062.5 305.6h0M1043.6 156.6h0M1114.0 274.7h0M1073.3 314.2h0M1049.9 145.7h0M1090.2 324.3h0M1057.1 168.3h0M1101.0 251.8h0M1089.8 350.8h0M1051.4 145.1h0M1097.3 233.4h0M1046.8 144.1h0M1060.4 298.2h0M1092.1 217.4h0M1057.1 303.7h0M1060.3 288.1h0M1087.7 340.8h0M1060.5 261.6h0M1063.8 236.1h0M1115.0 265.1h0M1092.8 336.9h0M1033.4 156.1h0M1090.3 345.4h0M1093.3 321.2h0M1092.7 317.9h0M1093.4 274.8h0M1101.3 240.7h0M1089.6 290.6h0M1086.2 309.2h0M1092.0 352.3h0M1095.2 309.5h0M1029.0 139.2h0M1070.0 306.0h0M1032.5 143.2h0M1086.5 298.3h0M1096.4 336.0h0M1081.3 340.2h0M1070.5 141.6h0M1093.4 312.9h0M1097.6 222.2h0M1105.4 271.0h0M1073.6 288.2h0M1090.1 311.0h0M1097.8 344.2h0M1036.2 132.0h0M1099.9 275.5h0M1071.2 125.4h0M1062.5 309.8h0M1072.5 295.9h0M1088.6 309.1h0M1043.1 133.8h0M1037.6 132.5h0M1036.2 133.2h0M1119.1 297.0h0M1073.4 128.3h0M1087.8 320.8h0M1094.7 227.1h0M1094.9 311.9h0M1083.9 292.6h0M1041.8 122.7h0M1111.4 298.1h0M1061.6 245.6h0M1246.7 256.9h0M1025.4 117.8h0M1090.0 207.4h0M1077.4 282.5h0M1103.9 222.1h0M1089.5 260.5h0M1094.5 235.4h0M1066.8 227.7h0M1115.3 271.2h0M1113.1 320.2h0M1081.7 267.1h0M1067.0 304.9h0M1036.8 134.2h0M1074.6 282.5h0M1100.2 225.0h0M1088.8 267.4h0M1036.3 153.1h0M1070.0 325.8h0M1093.0 347.0h0M1059.3 318.4h0M1039.3 112.6h0M1032.1 111.6h0M1078.2 265.2h0M1089.4 351.3h0M1078.4 315.7h0M1089.0 340.3h0M1038.5 172.2h0" stroke="#ffff00" stroke-width="4.00" stroke-linecap="round" fill="none"/>
<path d="M1092.1 282.2h0M1248.3 250.2h0M1093.6 303.7h0M1242.5 259.8h0M1267.7 213.7h0M1274.4 202.7h0M1268.2 223.2h0M1264.9 237.4h0M1254.2 234.5h0M1238.2 208.3h0M1263.0 200.7h0M1246.6 191.7h0M1087.5 306.2h0M1273.5 201.3h0M1247.3 223.0h0M1239.3 215.8h0M1096.9 281.1h0M1255.2 197.9h0M1233.0 221.4h0M1266.6 215.9h0M1263.8 201.5h0M1091.9 239.5h0M1273.9 205.1h0M1092.5 288.3h0M1275.8 213.9h0M1103.8 231.9h0M1052.9 313.8h0M1245.1 198.2h0M1248.8 263.7h0M1273.2 213.1h0M1244.4 227.2h0M1056.0 305.1h0M1117.3 281.3h0M1095.9 347.9h0M1103.7 277.2h0M1246.8 244.0h0M1259.0 256.9h0M1096.0 240.1h0M1270.9 209.9h0M1248.4 188.5h0M1096.7 261.1h0M1251.4 253.2h0M1250.7 196.3h0M1105.5 298.6h0M1036.0 115.8h0M1253.2 255.2h0M1261.5 206.4h0M1249.7 195.0h0M1226.0 205.3h0M1122.7 280.3h0M1251.0 239.6h0M1035.8 146.7h0M1251.3 231.6h0M1253.2 224.8h0M1038.5 189.7h0M1249.3 219.1h0M1106.7 325.5h0M1117.5 293.3h0M1108.7 320.5h0M1125.5 296.3h0M1268.3 207.0h0M1248.5 219.9h0M1250.6 243.2h0M1086.9 329.2h0M1055.9 295.2h0M1075.7 286.7h0M1243.6 265.2h0M1104.1 314.6h0M1115.2 266.9h0M1250.3 237.3h0M1066.5 138.0h0M1113.5 322.7h0M1099.1 227.2h0M1252.3 194.0h0M1247.1 254.7h0M1064.3 278.2h0M1260.5 191.2h0M1024.7 109.5h0M1098.3 264.3h0M1087.4 261.4h0M1050.4 163.3h0" stroke="#e99400" stroke-width="4.00" stroke-linecap="round" fill="none"/>
<path d="M1074.0 300.9h0M1262.6 238.4h0M1106.2 259.7h0M1048.8 154.2h0M1090.3 337.0h0M1053.6 147.1h0M1247.7 263.2h0M1252.7 259.6h0M1267.6 186.7h0M1267.0 224.1h0M1255.0 247.9h0M1261.4 230.1h0M1277.9 200.7h0M1244.6 267.0h0M1259.5 201.6h0M1250.3 250.2h0M1028.6 114.2h0M1238.2 191.2h0M1255.9 201.5h0M1234.2 205.3h0M1063.6 274.1h0M1260.9 249.4h0M1254.6 227.8h0M1260.5 215.4h0M1096.5 226.5h0M1116.5 296.5h0M1265.7 185.2h0M1072.3 148.2h0M1112.4 315.0h0M1269.2 218.9h0M1241.9 192.7h0M1274.9 206.5h0M1267.5 203.2h0M1259.3 252.2h0M1272.7 204.7h0M1058.9 312.3h0M1031.1 111.7h0M1249.6 207.4h0M1112.7 268.0h0M1238.6 268.0h0M1099.7 247.6h0M1256.6 195.8h0M1088.3 259.8h0M1118.9 275.3h0M1260.6 234.7h0M1267.1 197.7h0M1247.1 199.8h0M1235.3 203.5h0M1243.4 184.8h0M1097.9 262.6h0M1258.7 228.4h0M1229.3 203.8h0M1115.2 259.2h0M1046.4 168.0h0M1259.1 189.5h0M1057.1 289.9h0M1110.9 317.6h0M1256.3 241.3h0M1227.5 191.9h0M1063.5 161.4h0M1085.0 318.3h0M1042.3 104.8h0M1091.0 306.4h0M1096.8 273.1h0M1251.0 218.5h0M1044.6 112.1h0M1259.7 198.1h0M1263.4 203.8h0M1266.8 218.0h0M1107.5 318.0h0M1266.3 202.2h0" stroke="#dd6c00" stroke-width="4.00" stroke-linecap="round" fill="none"/>
<path d="M1120.0 302.5h0M1265.0 207.8h0M1273.9 218.1h0M1068.0 312.3h0M1244.1 237.6h0M1084.5 282.1h0M1027.6 116.0h0M1256.2 235.0h0M1253.6 201.5h0M1120.0 303.9h0M1251.8 224.1h0M1251.8 189.0h0M1234.2 266.9h0M1118.0 279.1h0M1114.2 318.5h0M1271.8 199.1h0M1257.3 203.6h0M1263.7 223.1h0M1245.2 200.3h0M1264.9 225.9h0M1255.3 191.2h0M1111.8 301.7h0M1104.8 322.3h0M1121.7 291.1h0M1246.0 246.1h0M1252.4 214.4h0M1102.5 216.2h0M1250.3 188.1h0M1254.3 226.7h0M1246.7 220.5h0M1107.5 312.3h0M1265.5 219.2h0M1255.2 233.7h0M1110.6 322.4h0M1246.6 212.5h0M1276.9 197.2h0M1257.6 245.8h0M1254.4 223.4h0M1250.6 234.1h0M1067.9 145.9h0M1241.4 260.6h0M1123.7 297.3h0M1043.0 147.1h0M1105.1 294.7h0M1246.2 218.1h0M1111.5 262.5h0M1255.1 206.5h0M1266.2 220.5h0M1271.4 219.9h0M1078.1 129.5h0M1268.5 215.1h0M1033.4 119.2h0M1046.7 164.7h0M1249.6 205.1h0M1241.0 263.7h0M1243.8 261.7h0M1119.2 301.6h0M1123.5 299.2h0M1101.8 320.0h0M1263.5 220.7h0M1255.4 199.0h0M1086.6 318.9h0M1251.8 233.8h0" stroke="#d04c00" stroke-width="4.00" stroke-linecap="round" fill="none"/>
<path d="M1235.6 193.8h0M1226.7 204.2h0M1091.8 220.4h0M1262.8 211.4h0M1113.4 256.2h0M1261.7 248.6h0M1252.2 196.8h0M1260.7 196.5h0M1057.4 152.4h0M1272.0 209.1h0M1091.4 297.4h0M1257.1 244.6h0M1029.2 118.5h0M1264.3 191.7h0M1244.9 210.2h0M1253.9 197.7h0M1245.1 215.1h0M1243.7 218.5h0M1108.1 326.9h0M1256.6 211.9h0M1247.8 248.6h0M1238.2 207.2h0M1250.9 223.3h0M1253.2 203.7h0M1255.7 202.9h0M1243.1 224.0h0M1231.2 217.3h0M1259.0 222.6h0M1274.6 216.1h0M1247.9 228.7h0M1248.7 236.8h0M1260.3 229.2h0M1113.2 267.3h0M1259.3 215.7h0M1035.4 127.9h0M1256.8 213.0h0M1224.5 206.8h0M1243.5 250.2h0M1057.0 262.8h0M1094.2 298.6h0M1125.2 298.1h0M1260.7 201.8h0M1253.3 247.4h0M1105.6 326.7h0M1120.8 301.0h0M1078.8 304.5h0M1266.5 196.7h0M1255.5 260.1h0M1261.0 222.0h0M1260.5 189.7h0M1028.1 117.4h0M1112.1 124.0h0M1112.8 123.5h0M1087.2 147.8h0M1254.6 200.5h0M1255.5 214.9h0M1233.0 202.0h0M1256.8 232.2h0M1256.2 253.3h0M1252.5 198.1h0M1252.9 261.5h0" stroke="#c33300" stroke-width="4.00" stroke-linecap="round" fill="none"/>
<path d="M1120.0 290.6h0M1114.1 293.6h0M1083.6 266.6h0M1090.7 247.9h0M1085.1 321.6h0M1249.0 211.0h0M1251.4 191.1h0M1107.4 295.2h0" stroke="#b42000" stroke-width="4.00" stroke-linecap="round" fill="none"/>
<path d="M1267.8 226.1h0M1247.5 241.8h0M1251.7 210.7h0M1255.3 230.5h0M1256.9 219.9h0M1258.5 193.8h0M1270.0 215.5h0M1254.8 216.3h0M1263.5 218.5h0M1260.2 205.9h0M1255.3 258.4h0M1266.1 203.9h0M1265.9 188.8h0M1260.0 209.0h0M1245.0 229.3h0M1246.4 228.3h0M1245.6 223.3h0M1262.8 213.6h0M1067.6 224.0h0M1231.9 266.9h0M1265.7 227.7h0M1260.7 200.2h0M1254.9 205.2h0M1263.7 197.0h0M1253.0 205.9h0" stroke="#9309dd" stroke-width="4.00" stroke-linecap="round" fill="none"/>
<path d="M1262.2 205.3h0M1250.6 221.3h0M1245.5 219.2h0M1264.0 217.5h0M1255.5 211.6h0M1250.3 230.2h0M1257.9 207.1h0M1264.4 230.5h0M1248.1 259.6h0M1246.7 251.0h0M1249.6 233.0h0M1236.4 209.1h0M1232.3 199.7h0M1254.3 253.4h0M1250.6 227.9h0M1249.9 189.3h0M1261.3 209.9h0M1257.2 226.6h0M1258.3 210.7h0M1257.7 249.8h0M1258.6 226.4h0M1252.4 217.9h0M1251.3 203.3h0M1240.5 191.5h0M1263.1 240.4h0" stroke="#8004ff" stroke-width="4.00" stroke-linecap="round" fill="none"/>
<path d="M1248.0 213.1h0M1257.9 225.1h0M1250.7 199.5h0M1252.1 209.1h0M1262.6 224.5h0M1251.3 226.4h0M1269.6 198.1h0M1266.1 238.7h0M1263.3 208.5h0M1253.2 212.8h0M1264.1 192.9h0M1253.4 236.3h0" stroke="#6801dd" stroke-width="4.00" stroke-linecap="round" fill="none"/>
<path d="M1264.5 214.1h0" stroke="#000000" stroke-width="4.00" stroke-linecap="round" fill="none"/>
<path d="M1585.4 188.6h0M1580.8 222.3h0M1443.2 259.3h0M1360.3 148.9h0M1575.6 237.6h0M1428.3 223.3h0M1586.7 233.7h0M1395.3 236.1h0M1582.1 245.1h0M1402.0 304.7h0M1364.9 119.2h0M1423.6 293.3h0M1390.5 215.9h0M1388.8 147.4h0M1455.7 300.3h0M1372.7 154.8h0M1440.2 320.5h0M1604.2 204.7h0M1596.0 214.1h0M1433.0 230.8h0M1440.3 295.3h0M1443.9 315.0h0M1595.8 191.7h0M1380.8 305.2h0M1423.2 334.5h0M1597.7 220.5h0M1388.5 262.8h0M1578.6 254.7h0M1578.0 202.0h0M1428.8 266.0h0M1404.8 124.1h0M1401.5 140.1h0M1599.7 223.2h0M1445.7 277.2h0M1405.9 148.7h0M1400.9 321.7h0M1595.3 201.5h0M1418.3 336.1h0M1560.8 203.8h0M1437.0 298.6h0M1375.0 200.7h0M1440.9 323.8h0M1375.1 156.6h0M1364.5 149.1h0M1399.7 177.0h0M1434.8 211.8h0M1588.6 244.6h0M1600.0 215.1h0M1393.3 311.0h0M1370.8 192.9h0M1396.2 304.0h0M1447.6 312.8h0M1399.1 317.5h0M1370.4 170.9h0M1429.8 235.7h0M1402.0 141.6h0M1429.8 264.3h0M1369.1 175.1h0M1597.0 219.2h0M1590.0 193.8h0M1367.7 133.2h0M1582.8 226.4h0M1366.6 126.8h0M1433.7 267.3h0M1605.5 207.2h0M1592.4 249.4h0M1423.6 217.4h0M1583.9 214.4h0M1396.7 315.5h0M1369.8 116.7h0M1401.0 311.4h0M1587.7 253.3h0M1609.4 200.7h0M1362.5 116.1h0M1584.7 255.2h0M1418.7 147.8h0M1424.7 212.8h0M1418.9 261.4h0M1388.7 275.1h0M1430.6 227.2h0M1394.6 268.2h0M1595.2 197.0h0M1435.9 268.5h0M1586.1 227.8h0M1378.3 136.4h0M1382.4 146.3h0M1425.9 290.1h0M1412.8 316.5h0M1403.8 148.2h0M1418.7 302.4h0M1370.4 138.9h0M1576.7 200.3h0M1402.0 319.6h0M1586.6 206.5h0M1363.6 111.6h0M1589.2 258.9h0M1453.2 277.7h0M1385.5 293.9h0M1389.8 244.2h0M1394.4 158.2h0M1428.3 273.1h0M1361.1 149.7h0M1581.8 237.3h0M1589.4 225.1h0M1592.2 196.5h0M1605.4 218.1h0M1589.0 191.6h0M1591.8 229.2h0M1581.4 189.3h0M1409.9 315.7h0M1567.1 193.8h0M1376.5 203.8h0M1392.0 261.6h0M1378.9 147.9h0M1599.8 211.1h0M1582.5 218.5h0M1360.9 119.6h0M1375.6 201.9h0M1438.9 293.9h0M1421.9 313.8h0M1409.1 291.2h0M1422.7 303.8h0M1405.4 232.2h0M1390.2 234.1h0M1594.5 200.7h0M1409.7 257.2h0M1378.5 210.1h0M1365.8 135.0h0M1431.7 225.0h0M1380.5 213.2h0M1594.3 211.4h0M1393.7 273.9h0M1582.4 255.6h0M1428.2 306.7h0M1598.3 218.0h0M1419.1 281.8h0M1381.6 135.6h0M1389.3 313.1h0M1588.1 211.9h0M1599.3 226.1h0M1455.2 297.3h0M1579.2 263.2h0M1387.5 288.5h0M1405.6 126.5h0M1595.9 194.2h0M1394.0 305.6h0M1437.1 324.1h0M1556.0 206.8h0M1394.8 256.1h0M1392.6 285.0h0M1419.1 221.9h0M1369.4 167.4h0M1370.0 186.7h0M1577.9 228.3h0M1387.4 146.4h0M1369.0 144.9h0M1421.6 266.0h0M1607.6 201.6h0M1575.3 261.7h0M1419.7 301.8h0M1407.2 286.7h0M1581.4 201.6h0M1356.2 109.5h0M1581.2 195.0h0M1590.5 256.9h0M1395.1 303.9h0M1394.1 258.2h0M1397.1 272.6h0M1563.8 199.7h0M1599.1 186.7h0M1405.6 316.5h0M1419.1 270.6h0M1600.3 205.5h0M1567.9 209.1h0M1426.9 273.2h0M1420.3 267.4h0M1385.1 147.1h0M1366.2 118.0h0M1582.4 223.3h0M1419.6 344.3h0M1426.7 309.5h0M1451.5 303.9h0M1408.0 264.3h0M1594.8 208.5h0M1583.3 189.0h0M1395.8 278.2h0M1579.5 213.1h0M1423.4 268.5h0M1451.5 282.1h0M1414.1 319.4h0M1393.0 172.2h0M1392.5 313.8h0M1419.5 235.2h0M1601.3 223.4h0M1360.9 125.0h0M1588.1 195.8h0M1369.1 117.5h0M1363.9 150.2h0M1370.4 169.1h0M1451.0 293.3h0M1407.5 324.6h0M1587.8 241.3h0M1405.8 277.5h0M1598.6 197.7h0M1444.3 123.5h0M1584.5 205.9h0M1586.7 192.9h0M1370.0 172.2h0M1444.8 296.2h0M1446.6 294.4h0M1402.1 130.8h0M1412.9 300.9h0M1576.9 244.7h0M1391.5 168.0h0M1390.8 318.4h0M1388.9 155.6h0M1362.9 129.5h0M1356.5 122.8h0M1416.8 299.4h0M1581.8 230.2h0M1356.4 119.2h0M1455.1 291.7h0M1369.8 153.5h0M1454.5 290.7h0M1399.8 295.8h0M1391.1 264.5h0M1407.5 288.4h0M1606.4 206.5h0M1590.8 252.2h0M1584.7 224.8h0M1451.9 297.5h0M1430.7 233.6h0M1366.4 158.3h0M1439.6 326.9h0M1389.7 308.6h0M1362.6 111.7h0M1359.1 123.4h0M1585.1 201.5h0M1393.1 245.6h0M1402.1 309.0h0M1425.1 288.5h0M1401.3 325.4h0M1451.9 299.8h0M1357.5 106.5h0M1438.9 295.2h0M1582.1 227.9h0M1394.9 314.9h0M1439.1 298.1h0M1578.2 251.0h0M1392.8 157.9h0M1387.5 305.1h0M1392.1 242.0h0M1576.6 198.2h0M1388.6 215.8h0M1402.7 125.4h0M1377.0 206.5h0M1435.2 268.8h0M1384.4 313.8h0M1393.2 304.7h0M1586.8 191.2h0M1404.5 144.8h0M1585.8 226.7h0M1581.1 233.0h0M1432.5 237.0h0M1421.0 291.7h0M1405.8 233.7h0M1601.5 215.5h0M1428.9 266.7h0M1420.0 341.6h0M1401.5 325.8h0M1398.4 314.9h0M1385.8 144.6h0M1564.5 202.0h0M1427.9 336.0h0M1380.2 149.6h0M1578.2 220.5h0M1388.4 300.6h0M1388.9 152.4h0M1421.8 293.6h0M1355.9 107.1h0M1448.2 263.3h0M1375.0 203.9h0M1401.7 252.3h0M1432.1 284.4h0M1392.7 236.7h0M1384.2 137.1h0M1581.1 207.4h0M1380.5 135.6h0M1421.8 301.5h0M1577.1 223.3h0M1584.7 212.8h0M1361.1 127.7h0M1366.4 122.6h0M1371.8 193.9h0M1391.4 319.8h0M1401.6 138.0h0M1395.9 166.6h0M1580.5 211.0h0M1574.4 222.4h0M1602.4 196.8h0M1416.5 296.2h0M1391.8 303.2h0M1420.5 345.5h0M1587.2 202.9h0M1368.5 176.5h0M1448.9 303.0h0M1415.0 254.2h0M1414.1 258.8h0M1422.4 273.2h0M1395.3 313.4h0M1360.7 118.5h0M1384.3 145.6h0M1368.4 121.2h0M1367.7 132.0h0M1369.4 137.3h0M1383.9 300.5h0M1569.7 191.2h0M1435.7 225.6h0M1419.0 328.3h0M1439.3 270.9h0M1578.6 199.8h0M1422.5 257.6h0M1594.1 238.4h0M1376.1 112.1h0M1388.2 265.6h0M1410.3 304.5h0M1589.2 249.8h0M1580.2 236.8h0M1394.1 235.7h0M1401.0 132.8h0M1357.7 121.6h0M1412.2 313.1h0M1585.8 253.4h0M1370.7 164.0h0M1368.2 183.7h0M1581.1 205.1h0M1578.3 244.0h0M1434.8 325.3h0M1390.4 312.3h0M1361.8 133.7h0M1356.0 108.2h0M1367.8 153.1h0M1446.3 316.3h0M1429.1 339.0h0M1572.0 191.5h0M1607.9 204.6h0M1395.0 161.4h0M1581.6 226.3h0M1369.2 114.4h0M1371.1 185.9h0M1425.4 268.7h0M1442.2 319.5h0M1396.5 138.5h0M1398.3 292.3h0M1360.2 122.2h0M1377.9 168.0h0M1429.7 224.3h0M1588.4 219.9h0M1374.5 147.1h0M1401.7 289.7h0M1416.4 218.9h0M1373.9 201.4h0M1366.2 141.7h0M1386.1 146.1h0M1454.1 296.9h0M1585.7 234.5h0M1365.0 124.7h0M1565.7 266.9h0M1428.0 226.5h0M1377.9 203.8h0M1373.5 164.7h0M1590.6 189.5h0M1445.2 272.1h0M1365.2 130.0h0M1359.2 109.2h0M1435.2 277.2h0M1586.3 232.6h0M1602.9 219.9h0M1450.6 297.0h0M1367.6 122.0h0M1366.6 158.9h0M1388.6 303.7h0M1583.8 194.0h0M1439.2 250.0h0M1395.3 223.9h0M1387.8 214.9h0M1597.7 213.9h0M1361.6 137.1h0M1359.1 135.1h0M1392.7 160.1h0M1402.3 148.6h0M1380.3 154.2h0M1566.8 203.5h0M1396.8 229.9h0M1562.7 197.5h0M1392.5 283.7h0M1369.1 132.5h0M1436.6 294.7h0M1592.0 189.7h0M1446.7 266.9h0M1423.4 294.8h0M1597.2 185.2h0M1396.5 292.9h0M1394.1 170.5h0M1416.0 282.1h0M1390.5 165.4h0M1445.5 313.0h0M1362.8 127.6h0M1373.8 104.8h0M1392.0 164.0h0M1593.0 206.4h0M1429.5 268.9h0M1588.3 213.0h0M1579.4 228.7h0M1378.3 144.1h0M1421.1 290.6h0M1582.2 196.3h0M1387.1 303.2h0M1392.3 219.4h0M1589.8 210.7h0M1376.4 139.9h0M1395.7 159.3h0M1584.2 259.6h0M1431.3 228.9h0M1422.9 297.4h0M1433.1 228.9h0M1588.8 215.6h0M1404.3 310.4h0M1380.1 164.3h0M1370.7 153.2h0M1587.7 235.0h0M1436.3 322.3h0M1364.0 143.2h0M1372.6 133.9h0M1425.1 303.7h0M1369.9 134.1h0M1380.0 132.8h0M1370.0 133.0h0M1382.3 156.0h0M1607.1 195.8h0M1604.7 213.1h0M1381.4 145.7h0M1585.9 223.4h0M1391.5 304.9h0M1444.8 263.4h0M1414.2 310.1h0M1435.1 213.5h0M1593.8 241.3h0M1579.6 259.6h0M1412.1 281.8h0M1414.4 346.9h0M1580.0 224.6h0M1362.4 106.6h0M1382.8 304.5h0M1394.7 164.1h0M1577.1 234.8h0M1399.1 224.0h0M1388.7 311.0h0M1595.0 218.5h0M1579.9 188.5h0M1358.8 140.7h0M1359.6 117.4h0M1394.1 223.1h0M1370.1 135.8h0M1400.4 314.5h0M1372.8 160.0h0M1435.3 231.9h0M1418.2 275.9h0M1383.3 302.5h0M1382.5 159.9h0M1453.4 300.6h0M1592.2 200.2h0M1423.3 220.4h0M1454.0 270.2h0M1371.7 126.4h0M1595.0 220.7h0M1608.4 197.2h0M1409.1 287.5h0M1592.2 201.8h0M1578.8 210.7h0M1583.7 196.8h0M1395.7 234.9h0M1402.6 303.0h0M1599.0 203.2h0M1449.8 269.2h0M1382.9 145.1h0M1572.5 263.7h0M1455.2 277.3h0M1426.0 244.1h0M1364.3 133.3h0M1586.4 205.2h0M1588.3 232.2h0M1390.9 161.8h0M1380.5 207.7h0M1372.7 196.9h0M1582.1 221.3h0M1434.3 218.4h0M1578.2 256.9h0M1579.1 191.6h0M1602.5 193.9h0M1369.7 125.8h0M1577.5 209.1h0M1396.9 245.6h0M1390.1 248.9h0M1415.6 323.0h0M1372.0 164.8h0M1435.6 314.6h0M1397.9 229.3h0M1449.4 294.3h0M1402.5 127.8h0M1443.6 124.0h0M1398.0 138.0h0M1360.1 114.2h0M1406.9 277.5h0M1600.7 218.9h0M1433.9 325.6h0M1585.5 244.3h0M1432.8 226.0h0M1589.4 207.1h0M1578.8 223.0h0M1426.6 275.3h0M1592.5 222.0h0M1391.8 172.2h0M1398.5 304.9h0M1583.3 233.8h0M1400.9 287.3h0M1582.8 203.3h0M1403.9 289.5h0M1359.1 105.7h0M1569.7 208.3h0M1597.6 203.9h0M1392.1 259.2h0M1370.9 147.9h0M1421.6 287.5h0M1563.1 219.5h0M1584.0 198.1h0M1378.4 208.4h0M1410.6 257.5h0M1570.8 215.8h0M1404.8 328.4h0M1592.9 230.1h0M1597.6 238.7h0M1586.9 199.0h0M1439.6 322.1h0M1427.2 301.0h0M1384.9 148.3h0M1596.4 237.4h0M1580.8 219.1h0M1392.2 312.1h0M1381.9 163.3h0M1575.2 218.5h0M1390.5 167.0h0M1421.5 305.8h0M1365.6 113.8h0M1417.9 301.6h0M1398.5 141.2h0M1404.3 277.2h0M1362.0 128.4h0M1562.7 217.3h0M1592.0 191.2h0M1587.0 260.1h0M1589.1 245.8h0M1357.5 113.4h0M1444.9 256.2h0M1398.3 227.7h0M1361.9 126.2h0M1580.8 241.4h0M1419.4 335.8h0M1435.0 226.7h0M1596.5 207.8h0M1568.6 211.7h0M1366.3 116.9h0M1390.1 266.0h0M1595.6 192.9h0M1389.4 213.1h0M1364.9 156.1h0M1377.1 151.7h0M1594.6 240.4h0M1599.8 207.0h0M1454.2 280.3h0M1591.5 209.0h0M1394.4 144.0h0M1428.8 304.9h0M1394.9 237.9h0M1429.1 294.3h0M1587.5 246.2h0M1431.9 307.6h0M1404.9 128.3h0M1393.2 249.0h0M1401.2 131.4h0M1408.6 334.4h0M1395.8 225.7h0M1437.0 281.1h0M1362.3 144.4h0M1400.5 316.3h0M1413.2 267.1h0M1405.1 288.2h0M1372.2 162.1h0M1428.9 300.8h0M1605.0 201.3h0M1395.3 228.3h0M1582.9 191.1h0M1425.6 346.1h0M1372.7 124.6h0M1409.7 265.2h0M1398.4 139.0h0M1393.4 251.0h0M1590.0 242.6h0M1385.5 166.0h0M1374.6 133.8h0M1592.0 215.4h0M1423.8 240.8h0M1585.4 197.7h0M1424.3 283.3h0M1390.5 157.4h0M1587.4 201.5h0M1586.8 258.4h0M1598.1 215.9h0M1578.1 212.5h0M1405.0 237.8h0M1376.8 142.8h0M1446.8 271.2h0M1383.8 147.9h0M1397.6 265.7h0M1595.2 223.1h0M1373.3 122.7h0M1576.6 215.1h0M1598.0 196.7h0M1443.3 301.7h0M1414.3 315.9h0M1590.5 222.6h0M1370.0 183.7h0M1386.3 150.6h0M1377.6 162.2h0M1404.2 146.7h0M1402.8 312.9h0M1373.9 142.4h0M1601.1 198.1h0M1373.5 112.7h0M1367.9 155.4h0M1421.0 260.5h0M1396.7 314.3h0M1449.0 291.0h0M1599.2 213.7h0M1356.9 117.8h0M1366.7 129.3h0M1374.2 143.4h0M1577.5 246.1h0M1411.9 251.2h0M1393.3 261.0h0M1396.9 223.3h0M1405.5 300.9h0M1429.1 222.2h0M1368.3 134.2h0M1373.9 145.4h0M1456.7 298.1h0M1606.1 216.1h0M1427.0 223.4h0M1371.8 190.3h0M1558.2 204.2h0M1595.9 224.3h0M1366.7 167.3h0M1432.8 240.7h0M1412.2 291.4h0M1590.2 228.4h0M1439.0 210.3h0M1439.0 318.0h0M1452.4 298.6h0M1367.5 115.8h0M1443.8 316.8h0M1426.0 235.4h0M1418.8 324.9h0M1603.5 209.1h0M1593.7 205.3h0M1381.7 149.6h0M1586.7 197.9h0M1405.0 236.3h0M1588.6 208.2h0M1446.7 259.2h0M1386.1 227.7h0M1559.0 191.9h0M1436.9 315.5h0M1367.3 146.7h0M1368.7 130.4h0M1425.1 291.3h0M1387.2 274.0h0M1392.4 252.3h0M1574.9 184.8h0M1372.4 129.9h0M1434.0 216.2h0M1374.8 124.0h0M1602.4 209.9h0M1396.6 227.2h0M1575.9 227.2h0M1584.9 236.3h0M1404.7 285.9h0M1403.2 258.7h0M1564.5 221.4h0M1588.8 203.6h0M1387.4 295.2h0M1581.8 250.2h0M1581.8 188.1h0M1391.9 156.3h0M1384.8 162.2h0M1418.0 298.3h0M1444.2 268.0h0M1577.0 219.2h0M1445.7 318.5h0M1368.3 126.5h0M1423.6 282.2h0M1382.1 147.5h0M1594.3 213.6h0M1398.1 146.7h0M1396.1 239.3h0M1582.1 234.1h0M1399.7 310.5h0M1580.6 257.7h0M1403.7 314.7h0M1578.3 225.0h0M1373.0 128.7h0M1584.8 247.4h0M1402.4 297.6h0M1376.6 134.8h0M1577.7 218.1h0M1418.7 295.8h0M1394.7 251.8h0M1403.6 135.0h0M1361.5 141.7h0M1441.1 206.7h0M1397.5 303.5h0M1399.5 301.9h0M1392.4 224.0h0M1430.2 307.8h0M1419.4 313.3h0M1380.0 145.5h0M1440.7 299.0h0M1594.1 193.8h0M1378.2 164.7h0M1432.8 259.0h0M1450.4 275.3h0M1420.5 248.6h0M1371.5 115.0h0M1586.8 230.5h0M1392.7 238.3h0M1583.9 217.9h0M1576.1 235.6h0M1382.9 143.8h0M1432.8 252.8h0M1393.4 286.4h0M1590.1 226.4h0M1401.4 277.6h0M1451.5 302.5h0M1579.8 250.2h0M1406.1 245.6h0M1367.3 111.7h0M1448.8 281.3h0M1591.7 205.9h0M1586.1 200.5h0M1584.4 261.5h0M1575.0 250.2h0M1452.4 269.7h0M1388.6 168.3h0M1440.1 317.0h0M1575.1 265.2h0M1377.6 157.7h0M1404.1 127.7h0M1442.9 298.1h0M1394.2 307.9h0M1409.7 274.0h0M1366.5 132.7h0M1416.6 321.6h0M1446.9 295.5h0M1383.2 151.2h0M1587.0 214.9h0M1600.4 194.7h0M1395.0 320.3h0M1419.3 320.8h0M1399.0 298.6h0M1565.7 205.3h0M1442.2 315.2h0M1416.0 341.8h0M1451.5 295.9h0M1394.8 300.2h0M1582.8 231.6h0M1591.2 198.1h0M1433.4 277.9h0M1380.7 131.2h0M1580.0 219.9h0M1583.3 224.1h0M1360.5 145.7h0M1574.6 224.0h0M1592.8 209.9h0M1362.1 145.9h0M1595.9 230.5h0M1420.1 307.7h0M1427.6 344.0h0M1395.6 271.0h0M1573.4 192.7h0M1432.9 244.1h0M1391.5 310.0h0M1584.7 203.7h0M1359.7 136.9h0M1590.8 215.7h0M1580.5 262.2h0M1445.8 315.2h0M1374.0 198.0h0M1361.0 117.1h0M1577.0 195.3h0M1406.1 263.9h0M1391.9 298.2h0M1383.5 133.0h0M1438.2 325.5h0M1409.6 129.5h0M1433.0 279.2h0M1567.9 267.6h0M1392.1 250.1h0M1439.0 275.5h0M1449.8 267.2h0M1605.4 205.1h0M1429.6 257.7h0M1391.9 243.4h0M1580.3 263.7h0M1406.9 320.1h0M1371.5 119.1h0M1597.2 227.7h0M1446.5 302.3h0M1366.5 125.2h0M1586.5 247.9h0M1395.4 294.2h0M1583.2 210.7h0M1596.4 225.9h0M1448.7 313.5h0M1595.5 217.5h0M1386.5 135.1h0M1452.3 301.0h0M1368.3 146.4h0M1386.9 148.4h0M1586.4 235.4h0M1387.7 298.7h0M1393.0 255.4h0M1366.9 127.9h0M1423.4 239.5h0M1583.6 209.1h0M1415.5 298.4h0M1440.7 275.1h0M1445.5 274.7h0M1439.0 312.3h0M1557.5 205.3h0M1601.3 196.3h0M1431.3 294.0h0M1359.1 116.0h0M1429.4 229.2h0M1399.4 145.9h0M1387.0 300.0h0M1578.1 191.7h0M1395.7 233.4h0M1368.5 168.5h0M1576.1 267.0h0M1428.8 233.4h0M1424.7 229.5h0M1455.0 299.2h0M1420.6 342.7h0M1381.3 157.1h0M1376.5 162.6h0M1591.0 201.6h0M1592.1 234.7h0M1361.0 146.8h0M1363.4 145.7h0M1603.3 199.1h0M1586.4 242.3h0M1367.3 118.8h0M1608.3 196.0h0M1388.6 289.9h0M1389.9 245.8h0M1579.3 248.6h0M1457.0 296.3h0M1396.5 221.5h0M1433.9 225.9h0M1421.5 236.6h0M1417.6 323.7h0M1594.9 203.8h0M1389.3 297.5h0M1418.0 258.3h0M1569.7 207.2h0M1576.5 229.3h0M1597.8 202.2h0M1427.1 293.9h0M1438.6 316.9h0M1399.5 312.3h0M1390.2 310.6h0M1587.0 211.6h0M1399.1 265.4h0M1374.9 144.4h0M1586.3 216.3h0M1437.1 326.7h0M1427.3 278.8h0M1598.5 224.1h0M1448.1 292.1h0M1358.8 126.8h0M1388.5 154.0h0M1400.7 291.7h0M1395.5 144.7h0M1433.3 270.4h0M1582.2 199.5h0M1371.9 188.5h0M1441.5 254.0h0M1422.0 312.1h0M1444.6 320.2h0M1449.0 293.3h0M1396.0 299.5h0M1416.3 313.6h0M1381.6 142.4h0M1431.7 269.3h0M1377.0 145.8h0M1370.8 112.6h0M1605.9 202.7h0M1432.5 251.8h0M1390.2 262.3h0M1421.5 207.4h0M1423.4 326.7h0M1414.7 328.4h0M1415.4 292.6h0M1396.9 306.6h0M1392.4 273.2h0M1421.3 323.3h0M1392.5 294.6h0M1358.7 144.8h0M1379.8 130.7h0M1421.6 311.0h0M1370.0 189.7h0M1361.9 119.9h0M1391.8 288.1h0" stroke="#ffff00" stroke-width="4.00" stroke-linecap="round" fill="none"/>
<path d="M1419.8 290.0h0M1412.8 340.2h0M1429.5 296.5h0M1410.9 319.5h0M1391.1 217.5h0M1392.9 217.1h0M1415.8 328.4h0M1395.1 274.1h0M1410.9 329.9h0M1421.8 345.4h0M1442.1 322.4h0M1561.2 266.5h0M1412.4 138.8h0M1416.7 312.5h0M1422.5 306.4h0M1401.3 251.6h0M1416.2 309.8h0M1426.2 227.1h0M1420.2 278.1h0M1422.4 231.3h0M1438.0 264.3h0M1444.7 267.3h0M1441.6 302.4h0M1582.0 240.9h0M1420.1 309.1h0M1437.6 273.5h0M1453.8 293.7h0M1421.1 302.7h0M1387.7 318.0h0M1435.0 305.6h0M1391.0 308.7h0M1425.5 251.6h0M1422.5 309.3h0" stroke="#e99400" stroke-width="4.00" stroke-linecap="round" fill="none"/>
<path d="M1435.4 222.1h0M1446.5 265.1h0M1574.0 259.8h0M1427.6 340.0h0M1427.8 301.0h0M1426.2 265.3h0M1394.6 302.6h0M1576.4 210.2h0M1425.6 339.4h0M1417.0 345.8h0M1582.1 243.2h0M1419.8 259.8h0M1435.2 261.4h0M1418.7 316.3h0M1420.3 239.4h0M1431.0 271.6h0M1384.4 126.6h0M1418.4 329.2h0M1422.3 344.1h0M1429.5 230.7h0M1428.5 269.7h0M1401.5 306.0h0M1425.7 319.7h0M1594.1 224.5h0M1424.4 220.5h0M1397.4 289.1h0M1433.7 236.8h0M1444.2 270.3h0M1415.1 266.6h0M1570.1 268.0h0M1429.2 291.5h0M1425.7 298.6h0M1427.4 347.9h0M1431.4 222.0h0M1420.7 315.7h0M1421.7 324.3h0M1393.7 287.8h0M1434.7 279.9h0M1388.2 307.8h0M1446.7 300.4h0M1419.1 348.6h0M1421.0 334.4h0M1424.9 274.8h0M1445.8 305.6h0" stroke="#dd6c00" stroke-width="4.00" stroke-linecap="round" fill="none"/>
<path d="M1421.3 350.8h0M1433.3 320.0h0M1381.3 306.0h0M1433.0 275.9h0M1429.3 344.2h0M1434.2 228.8h0M1428.1 241.5h0M1420.5 340.3h0M1451.5 290.6h0M1563.4 266.9h0M1404.8 314.2h0M1409.7 318.2h0M1427.7 230.2h0M1441.0 325.4h0M1439.9 208.3h0M1438.1 314.3h0M1440.7 260.0h0M1427.5 240.1h0M1417.6 344.4h0M1428.4 281.1h0M1420.9 351.3h0M1423.5 352.3h0M1395.6 277.0h0M1367.8 179.8h0M1442.4 317.6h0M1457.0 285.3h0M1417.7 314.7h0M1437.7 259.7h0M1585.1 248.6h0M1417.1 337.8h0M1402.4 276.9h0M1423.7 314.5h0M1391.7 307.2h0M1436.5 263.0h0M1572.9 260.6h0M1406.9 278.8h0M1426.4 311.9h0M1430.5 292.1h0M1450.8 291.5h0M1593.2 248.6h0M1426.6 306.4h0M1597.4 188.8h0M1415.3 300.8h0M1401.3 245.6h0M1414.9 314.5h0M1412.4 310.3h0M1407.2 329.2h0M1448.8 298.2h0M1410.8 290.4h0M1422.8 339.2h0M1430.7 274.1h0" stroke="#d04c00" stroke-width="4.00" stroke-linecap="round" fill="none"/>
<path d="M1427.9 342.0h0M1443.0 262.5h0M1425.4 329.2h0M1418.5 345.7h0M1413.6 315.4h0M1582.5 239.6h0M1423.0 317.6h0M1413.8 312.1h0M1394.8 311.7h0M1579.0 241.8h0M1420.5 317.1h0M1419.4 317.4h0M1431.2 247.6h0M1423.6 342.0h0M1420.2 312.9h0M1396.8 310.8h0M1424.3 336.9h0M1607.0 215.3h0M1588.7 226.6h0M1450.7 301.6h0M1407.6 311.9h0M1445.6 293.6h0M1426.5 296.4h0M1446.3 312.5h0M1399.5 303.2h0M1409.0 321.8h0M1447.0 293.2h0M1420.6 311.5h0M1399.4 320.8h0M1607.3 213.9h0M1425.4 338.4h0M1582.9 253.2h0M1411.4 339.4h0M1444.7 298.7h0M1418.1 318.9h0M1394.0 309.8h0M1417.6 220.3h0M1424.0 297.7h0M1441.8 275.7h0M1420.9 349.3h0M1360.5 139.2h0M1425.9 335.9h0" stroke="#c33300" stroke-width="4.00" stroke-linecap="round" fill="none"/>
<path d="M1428.2 261.1h0M1449.1 297.0h0M1404.0 295.9h0M1433.4 221.4h0M1409.7 253.6h0M1434.0 248.5h0" stroke="#b42000" stroke-width="4.00" stroke-linecap="round" fill="none"/>
<path d="M1414.7 316.4h0" stroke="#a51280" stroke-width="4.00" stroke-linecap="round" fill="none"/>
<path d="M1427.4 345.4h0M1441.0 276.8h0M1417.7 309.2h0M1437.1 306.3h0M1429.4 262.6h0M1426.7 348.8h0M1424.8 321.2h0M1384.2 125.1h0M1408.5 318.9h0M1416.8 252.2h0M1416.5 318.3h0M1425.8 310.1h0M1446.4 297.9h0M1429.1 293.1h0M1390.9 315.2h0M1418.6 307.3h0M1428.8 341.9h0M1424.2 317.9h0M1418.9 313.7h0M1418.6 297.1h0M1428.0 246.3h0M1433.2 282.3h0M1426.7 220.3h0M1445.0 322.7h0M1424.5 347.0h0" stroke="#9309dd" stroke-width="4.00" stroke-linecap="round" fill="none"/>
<path d="M1408.3 320.7h0M1419.0 342.4h0M1436.2 270.0h0M1423.8 309.0h0M1442.8 303.1h0M1422.2 247.9h0M1424.9 312.9h0M1437.3 274.8h0M1426.8 338.4h0M1449.5 279.1h0M1442.1 293.0h0M1424.0 288.3h0M1436.9 271.0h0M1406.1 282.5h0M1412.2 344.3h0M1419.4 213.2h0M1423.9 345.3h0M1403.8 308.0h0M1455.2 296.0h0M1434.5 284.1h0M1425.0 350.4h0M1419.0 306.2h0M1415.8 316.9h0M1421.8 337.0h0M1417.5 340.3h0M1415.7 339.2h0M1440.6 316.1h0M1435.5 313.9h0M1436.2 282.9h0M1422.8 347.9h0M1431.4 275.5h0M1425.5 343.8h0M1432.7 286.9h0M1406.4 315.7h0M1408.9 282.5h0M1424.5 307.2h0" stroke="#8004ff" stroke-width="4.00" stroke-linecap="round" fill="none"/>
<path d="M1424.4 292.3h0M1415.1 252.8h0M1429.9 329.7h0M1415.2 346.1h0M1418.2 338.6h0M1419.2 340.8h0" stroke="#6801dd" stroke-width="4.00" stroke-linecap="round" fill="none"/>
<path d="M1443.8 322.7h0M1453.2 291.1h0M1443.3 292.2h0M1415.8 344.2h0" stroke="#4a0080" stroke-width="4.00" stroke-linecap="round" fill="none"/>
<path d="M1448.0 296.5h0" stroke="#000000" stroke-width="4.00" stroke-linecap="round" fill="none"/>
<path d="M1761.1 311.0h0M1759.6 307.7h0M1755.8 313.6h0M1765.2 298.6h0M1759.3 259.8h0M1787.5 296.5h0M1923.4 217.9h0M1737.8 292.3h0M1705.1 113.8h0M1735.7 304.0h0M1897.0 205.3h0M1929.7 228.4h0M1759.0 235.2h0M1921.9 223.3h0M1776.6 306.3h0M1767.1 344.0h0M1945.6 216.1h0M1769.0 230.7h0M1918.5 241.8h0M1695.9 119.2h0M1719.8 154.2h0M1710.3 192.9h0M1920.3 241.4h0M1701.4 126.2h0M1923.5 198.1h0M1728.9 213.1h0M1714.0 147.1h0M1919.5 219.9h0M1702.3 127.6h0M1717.9 208.4h0M1939.9 194.7h0M1918.3 210.7h0M1938.7 213.7h0M1709.5 183.7h0M1761.9 231.3h0M1769.1 257.7h0M1778.6 298.1h0M1709.3 153.5h0M1702.9 145.7h0M1931.7 201.8h0M1772.5 279.2h0M1772.2 286.9h0M1761.0 305.8h0M1720.0 135.6h0M1722.0 159.9h0M1919.1 259.6h0M1754.6 266.6h0M1782.3 303.1h0M1768.9 229.2h0M1791.0 282.1h0M1748.6 287.5h0M1716.1 134.8h0M1765.7 227.1h0M1928.5 191.6h0M1927.8 213.0h0M1773.7 228.8h0M1751.7 313.1h0M1705.7 118.0h0M1708.0 176.5h0M1758.1 297.1h0M1769.0 268.9h0M1757.7 338.6h0M1735.2 234.9h0M1701.0 141.7h0M1937.5 196.7h0M1920.6 205.1h0M1761.1 287.5h0M1779.7 320.5h0M1785.9 297.9h0M1729.2 308.6h0M1762.9 294.8h0M1767.2 230.2h0M1749.8 304.5h0M1699.2 136.9h0M1926.3 258.4h0M1757.9 329.2h0M1742.7 258.7h0M1763.4 345.3h0M1735.2 159.3h0M1769.4 329.7h0M1772.3 252.8h0M1937.3 202.2h0M1753.6 319.4h0M1767.0 240.1h0M1757.0 340.3h0M1908.1 211.7h0M1775.8 322.3h0M1768.7 291.5h0M1720.9 145.7h0M1769.2 224.3h0M1931.6 234.7h0M1738.0 141.2h0M1748.1 334.4h0M1930.0 256.9h0M1932.7 248.6h0M1758.3 324.9h0M1716.5 145.8h0M1771.2 269.3h0M1934.3 208.5h0M1774.7 261.4h0M1712.5 128.7h0M1923.9 261.5h0M1931.7 196.5h0M1935.4 224.3h0M1698.7 109.2h0M1700.5 146.8h0M1760.8 350.8h0M1781.9 317.6h0M1768.6 294.3h0M1917.7 256.9h0M1711.0 119.1h0M1738.0 304.9h0M1935.4 230.5h0M1765.1 339.4h0M1919.7 236.8h0M1778.5 312.3h0M1769.3 235.7h0M1781.6 322.4h0M1942.8 199.1h0M1768.4 300.8h0M1715.9 139.9h0M1778.5 318.0h0M1734.2 251.8h0M1768.3 266.0h0M1747.5 264.3h0M1932.4 230.1h0M1769.7 307.8h0M1740.4 287.3h0M1759.6 309.1h0M1928.9 225.1h0M1940.8 196.3h0M1706.8 111.7h0M1761.4 313.8h0M1721.1 135.6h0M1764.6 288.5h0M1753.3 312.1h0M1760.8 323.3h0M1709.9 138.9h0M1776.5 281.1h0M1765.7 265.3h0M1926.2 192.9h0M1763.2 314.5h0M1922.4 191.1h0M1701.9 106.6h0M1767.7 261.1h0M1721.6 147.5h0M1781.3 275.7h0M1758.6 281.8h0M1725.8 150.6h0M1933.8 211.4h0M1750.4 329.9h0M1698.6 105.7h0M1745.6 263.9h0M1916.2 200.3h0M1768.6 293.1h0M1730.0 167.0h0M1764.2 212.8h0M1705.3 135.0h0M1765.9 311.9h0M1764.9 329.2h0M1925.8 232.6h0M1744.9 232.2h0M1796.2 298.1h0M1782.8 292.2h0M1777.1 273.5h0M1774.5 226.7h0M1771.6 284.4h0M1711.7 162.1h0M1767.5 226.5h0M1705.9 122.6h0M1764.9 338.4h0M1744.3 124.1h0M1911.5 191.5h0M1923.1 209.1h0M1786.2 300.4h0M1784.3 263.4h0M1785.1 293.6h0M1928.1 244.6h0M1784.3 296.2h0M1788.4 303.0h0M1939.2 223.2h0M1914.7 218.5h0M1737.6 146.7h0M1709.2 125.8h0M1918.8 248.6h0M1700.4 119.6h0M1785.3 305.6h0M1714.6 156.6h0M1701.4 119.9h0M1767.8 223.3h0M1928.1 208.2h0M1745.4 148.7h0M1789.9 275.3h0M1778.4 293.9h0M1728.4 152.4h0M1919.8 263.7h0M1922.0 218.5h0M1783.3 316.8h0M1929.3 210.7h0M1737.9 314.9h0M1726.0 135.1h0M1719.5 145.5h0M1778.5 275.5h0M1704.7 130.0h0M1921.3 188.1h0M1772.3 226.0h0M1755.3 316.9h0M1717.4 168.0h0M1727.7 265.6h0M1755.5 282.1h0M1776.6 326.7h0M1766.2 309.5h0M1934.4 203.8h0M1760.0 340.3h0M1747.1 311.9h0M1768.4 266.7h0M1791.0 303.9h0M1716.0 203.8h0M1772.4 244.1h0M1701.6 145.9h0M1758.2 295.8h0M1760.5 260.5h0M1704.5 124.7h0M1922.8 224.1h0M1786.2 266.9h0M1931.7 200.2h0M1741.9 297.6h0M1764.4 312.9h0M1734.3 300.2h0M1757.2 309.2h0M1791.9 269.7h0M1930.5 201.6h0M1760.6 302.7h0M1752.7 267.1h0M1708.2 130.4h0M1765.2 319.7h0M1745.6 282.5h0M1711.5 164.8h0M1774.7 277.2h0M1743.3 308.0h0M1725.3 144.6h0M1698.6 135.1h0M1930.3 252.2h0M1917.6 191.7h0M1780.5 325.4h0M1770.8 228.9h0M1760.0 345.5h0M1720.0 213.2h0M1739.0 301.9h0M1707.0 115.8h0M1937.8 218.0h0M1728.8 313.1h0M1783.1 124.0h0M1930.1 189.5h0M1791.4 297.5h0M1719.3 130.7h0M1751.4 251.2h0M1758.9 213.2h0M1929.5 242.6h0M1732.4 217.1h0M1736.0 292.9h0M1770.9 275.5h0M1792.7 291.1h0M1733.9 158.2h0M1763.1 342.0h0M1756.1 321.6h0M1922.3 203.3h0M1728.1 303.7h0M1713.0 164.7h0M1695.5 108.2h0M1790.5 293.3h0M1754.2 316.4h0M1724.3 162.2h0M1698.3 126.8h0M1741.0 306.0h0M1931.9 249.4h0M1703.1 111.6h0M1712.1 133.9h0M1745.3 277.5h0M1754.4 314.5h0M1787.7 263.3h0M1769.0 296.5h0M1922.0 239.6h0M1759.3 290.0h0M1925.6 200.5h0M1935.4 194.2h0M1929.6 226.4h0M1920.6 233.0h0M1698.6 116.0h0M1765.4 335.9h0M1743.1 135.0h0M1731.5 164.0h0M1755.9 218.9h0M1739.0 312.3h0M1743.8 310.4h0M1728.1 168.3h0M1920.0 262.2h0M1711.0 115.0h0M1778.8 270.9h0M1770.1 227.2h0M1926.2 233.7h0M1903.3 199.7h0M1749.1 129.5h0M1924.2 224.8h0M1713.0 112.7h0M1740.8 325.4h0M1786.2 259.2h0M1917.8 244.0h0M1939.8 205.5h0M1753.6 258.8h0M1699.8 148.9h0M1947.4 204.6h0M1755.3 328.4h0M1778.4 295.2h0M1924.9 188.6h0M1734.1 268.2h0M1758.5 306.2h0M1723.7 137.1h0M1759.8 239.4h0M1773.2 267.3h0M1719.5 132.8h0M1712.2 154.8h0M1732.9 286.4h0M1705.8 116.9h0M1767.1 340.0h0M1915.9 210.2h0M1763.9 292.3h0M1735.0 144.7h0M1939.3 207.0h0M1927.2 235.0h0M1773.4 225.9h0M1781.6 293.0h0M1935.5 214.1h0M1757.1 220.3h0M1756.3 299.4h0M1758.1 307.3h0M1921.6 234.1h0M1759.8 267.4h0M1775.4 268.5h0M1941.9 209.9h0M1755.5 341.8h0M1924.6 248.6h0M1766.1 275.3h0M1720.2 131.2h0M1916.6 234.8h0M1728.0 154.0h0M1924.2 255.2h0M1717.4 203.8h0M1919.0 213.1h0M1923.2 196.8h0M1772.0 251.8h0M1928.7 249.8h0M1709.5 189.7h0M1723.3 147.9h0M1759.1 344.3h0M1780.2 260.0h0M1926.5 260.1h0M1758.9 313.3h0M1767.7 306.7h0M1940.8 223.4h0M1709.5 186.7h0M1934.8 201.5h0M1739.2 177.0h0M1767.4 336.0h0M1895.5 206.8h0M1772.5 275.9h0M1771.4 307.6h0M1764.2 229.5h0M1709.9 169.1h0M1784.1 320.2h0M1710.4 147.9h0M1761.1 266.0h0M1729.7 262.3h0M1921.7 196.3h0M1768.6 222.2h0M1750.1 257.5h0M1780.5 276.8h0M1790.1 297.0h0M1764.4 274.8h0M1922.8 189.0h0M1710.2 164.0h0M1944.5 201.3h0M1768.0 269.7h0M1763.3 240.8h0M1713.3 104.8h0M1782.7 259.3h0M1780.2 275.1h0M1717.7 164.7h0M1756.0 318.3h0M1706.2 167.3h0M1759.7 278.1h0M1788.3 281.3h0M1785.0 313.0h0M1793.5 270.2h0M1932.3 209.9h0M1793.6 296.9h0M1730.0 157.4h0M1700.6 127.7h0M1918.7 263.2h0M1920.9 201.6h0M1734.6 274.1h0M1787.1 312.8h0M1731.0 304.9h0M1912.4 260.6h0M1782.8 301.7h0M1753.7 310.1h0M1922.4 253.2h0M1707.3 179.8h0M1732.2 160.1h0M1917.4 228.3h0M1735.5 299.5h0M1772.6 228.9h0M1711.4 188.5h0M1723.7 125.1h0M1761.7 247.9h0M1927.6 195.8h0M1784.5 322.7h0M1904.0 202.0h0M1723.9 126.6h0M1944.9 205.1h0M1938.5 203.2h0M1907.4 267.6h0M1796.5 285.3h0M1763.3 309.0h0M1701.8 144.4h0M1907.4 209.1h0M1746.7 329.2h0M1735.1 277.0h0M1723.0 133.0h0M1942.4 219.9h0M1699.1 117.4h0M1743.5 295.9h0M1764.3 321.2h0M1761.3 345.4h0M1932.0 222.0h0M1906.6 193.8h0M1936.7 185.2h0M1791.0 290.6h0M1938.0 224.1h0M1764.5 350.4h0M1706.8 146.7h0M1784.7 272.1h0M1926.9 201.5h0M1794.7 296.0h0M1740.0 316.3h0M1924.0 205.9h0M1776.5 298.6h0M1925.3 226.7h0M1706.1 158.9h0M1927.6 211.9h0M1706.2 129.3h0M1902.6 219.5h0M1794.0 290.7h0M1921.6 245.1h0M1713.4 145.4h0M1789.3 269.2h0M1713.4 201.4h0M1914.1 224.0h0M1698.2 144.8h0M1933.8 213.6h0M1923.4 214.4h0M1924.2 212.8h0M1774.0 284.1h0M1734.5 320.3h0M1707.7 183.7h0M1933.6 238.4h0M1758.4 261.4h0M1715.6 112.1h0M1767.6 241.5h0M1765.5 244.1h0M1733.2 287.8h0M1926.0 247.9h0M1696.0 122.8h0M1928.3 215.6h0M1705.7 141.7h0M1754.2 328.4h0M1921.1 226.3h0M1913.9 222.4h0M1708.5 144.9h0M1938.8 226.1h0M1732.0 313.8h0M1777.6 314.3h0M1731.3 172.2h0M1760.1 311.5h0M1785.0 274.7h0M1926.1 206.5h0M1706.0 125.2h0M1730.0 165.4h0M1709.5 133.0h0M1712.3 160.0h0M1727.9 300.6h0M1714.3 124.0h0M1775.1 314.6h0M1711.9 129.9h0M1759.7 312.9h0M1704.0 149.1h0M1736.2 314.3h0M1757.8 336.1h0M1741.8 148.6h0M1793.7 280.3h0M1788.6 297.0h0M1757.2 314.7h0M1781.7 315.2h0M1722.7 151.2h0M1699.6 114.2h0M1726.9 146.4h0M1780.4 323.8h0M1785.2 277.2h0M1790.3 291.5h0M1785.2 318.5h0M1933.3 241.3h0M1762.0 306.4h0M1723.8 145.6h0M1926.2 197.9h0M1789.0 279.1h0M1731.4 156.3h0M1930.3 215.7h0M1922.7 210.7h0M1909.2 207.2h0M1934.1 240.4h0M1707.4 155.4h0M1930.7 198.1h0M1762.3 339.2h0M1747.0 288.4h0M1700.0 145.7h0M1707.8 126.5h0M1764.6 303.7h0M1916.1 198.2h0M1766.2 348.8h0M1704.4 119.2h0M1757.1 344.4h0M1703.5 143.2h0M1902.2 197.5h0M1936.5 219.2h0M1716.5 206.5h0M1698.3 140.7h0M1701.1 137.1h0M1736.0 138.5h0M1763.1 217.4h0M1761.5 312.1h0M1914.4 184.8h0M1921.3 250.2h0M1744.2 285.9h0M1902.2 217.3h0M1925.8 216.3h0M1768.3 233.4h0M1935.0 217.5h0M1765.3 310.1h0M1784.2 298.7h0M1741.1 138.0h0M1913.5 259.8h0M1718.4 147.9h0M1915.6 267.0h0M1766.8 278.8h0M1925.2 234.5h0M1931.5 215.4h0M1737.5 138.0h0M1791.0 302.5h0M1898.5 191.9h0M1718.0 210.1h0M1751.9 310.3h0M1939.5 215.1h0M1712.2 124.6h0M1943.7 204.7h0M1774.9 222.1h0M1749.2 253.6h0M1918.6 191.6h0M1760.0 248.6h0M1758.5 328.3h0M1931.3 229.2h0M1706.4 127.9h0M1738.5 298.6h0M1734.8 223.9h0M1897.7 204.2h0M1948.9 200.7h0M1752.3 316.5h0M1736.4 245.6h0M1946.6 195.8h0M1791.9 298.6h0M1756.2 312.5h0M1776.8 274.8h0M1915.1 237.6h0M1788.9 294.3h0M1924.3 247.4h0M1779.1 326.9h0M1717.1 157.7h0M1760.5 291.7h0M1741.0 325.8h0M1761.9 273.2h0M1758.2 302.4h0M1758.2 147.8h0M1936.0 207.8h0M1739.2 310.5h0M1774.7 268.8h0M1716.0 162.6h0M1731.6 242.0h0M1917.0 209.1h0M1944.9 218.1h0M1764.9 268.7h0M1924.2 203.7h0M1757.7 275.9h0M1922.3 226.4h0M1945.9 206.5h0M1712.2 196.9h0M1755.0 298.4h0M1938.6 186.7h0M1709.6 135.8h0M1928.2 226.6h0M1770.2 233.6h0M1774.3 325.3h0M1774.8 231.9h0M1914.8 261.7h0M1713.4 142.4h0M1753.1 315.4h0M1772.9 221.4h0M1766.5 223.4h0M1768.3 341.9h0M1909.2 208.3h0M1695.4 107.1h0M1767.3 301.0h0M1781.7 319.5h0M1742.0 127.8h0M1920.0 211.0h0M1734.2 164.1h0M1945.0 207.2h0M1755.7 309.8h0M1931.5 191.2h0M1708.6 175.1h0M1754.8 300.8h0M1917.0 246.1h0M1739.0 303.2h0M1738.9 320.8h0M1707.8 134.2h0M1927.9 219.9h0M1935.1 192.9h0M1945.4 202.7h0M1734.4 314.9h0M1734.8 228.3h0M1779.1 322.1h0M1711.3 190.3h0M1937.2 213.9h0M1744.6 288.2h0M1925.3 253.4h0M1783.8 123.5h0M1766.6 293.9h0M1920.6 207.4h0M1715.1 201.9h0M1767.4 342.0h0M1918.9 228.7h0M1701.5 128.4h0M1791.4 299.8h0M1757.5 258.3h0M1904.0 221.4h0M1699.7 122.2h0M1749.2 274.0h0M1738.6 317.5h0M1784.4 256.2h0M1758.9 317.4h0M1749.4 315.7h0M1772.8 270.4h0M1764.0 307.2h0M1750.3 290.4h0M1714.5 200.7h0M1929.5 193.8h0M1786.0 302.3h0M1747.0 324.6h0M1721.9 146.3h0M1700.6 149.7h0M1910.3 215.8h0M1919.5 224.6h0M1697.2 121.6h0M1920.9 189.3h0M1758.0 345.7h0M1921.5 240.9h0M1785.8 312.5h0M1748.5 321.8h0M1741.2 252.3h0M1734.3 311.7h0M1920.1 257.7h0M1930.0 222.6h0M1728.3 147.4h0M1738.9 145.9h0M1763.1 282.2h0M1741.2 289.7h0M1928.7 258.9h0M1722.4 143.8h0M1946.5 215.3h0M1931.2 205.9h0M1788.2 313.5h0M1922.3 231.6h0M1736.3 229.9h0M1918.3 223.0h0M1762.0 257.6h0M1708.6 132.5h0M1760.0 317.1h0M1917.8 225.0h0M1776.0 263.0h0M1917.7 220.5h0M1740.2 291.7h0M1762.0 309.3h0M1744.4 128.3h0M1947.8 196.0h0M1786.1 294.4h0M1757.4 301.6h0M1762.5 317.6h0M1780.2 299.0h0M1917.7 251.0h0M1700.5 117.1h0M1909.6 268.0h0M1927.2 253.3h0M1770.7 247.6h0M1928.3 203.6h0M1704.4 156.1h0M1763.5 297.7h0M1762.8 220.4h0M1739.3 295.8h0M1926.5 214.9h0M1743.6 127.7h0M1793.3 293.7h0M1762.9 239.5h0M1695.7 109.5h0M1916.5 195.3h0M1731.0 310.0h0M1915.6 235.6h0M1758.9 335.8h0M1707.9 121.2h0M1766.4 273.2h0M1722.4 145.1h0M1936.9 188.8h0M1761.0 236.6h0M1921.9 255.6h0M1914.5 250.2h0M1909.2 191.2h0M1782.5 262.5h0M1786.4 295.5h0M1937.6 215.9h0M1935.3 191.7h0M1795.2 300.3h0M1708.9 137.3h0M1926.7 202.9h0M1775.7 282.9h0M1772.3 240.7h0M1921.3 237.3h0M1728.4 155.6h0M1713.7 143.4h0M1744.0 144.8h0M1783.7 268.0h0M1711.2 126.4h0M1919.4 188.5h0M1783.4 315.0h0M1714.5 203.9h0M1934.7 223.1h0M1719.6 164.3h0M1757.5 298.3h0M1721.8 156.0h0M1925.9 242.3h0M1935.9 225.9h0M1768.6 339.0h0M1788.5 293.3h0M1938.1 197.7h0M1729.7 234.1h0M1777.5 264.3h0M1734.8 236.1h0M1754.6 252.8h0M1741.6 309.0h0M1761.3 293.6h0M1925.9 235.4h0M1927.0 246.2h0M1777.2 259.7h0M1785.3 315.2h0M1759.5 341.6h0M1760.2 315.7h0M1743.3 148.2h0M1724.4 148.3h0M1737.4 229.3h0M1765.4 290.1h0M1921.6 221.3h0M1774.6 213.5h0M1760.4 349.3h0M1768.3 304.9h0M1778.7 250.0h0M1775.0 313.9h0M1732.5 172.2h0M1758.2 316.3h0M1921.3 230.2h0M1716.3 142.8h0M1927.3 241.3h0M1926.4 199.0h0M1779.8 295.3h0M1748.0 318.9h0M1702.1 111.7h0M1707.2 132.0h0M1750.4 319.5h0M1760.6 290.6h0M1921.6 227.9h0M1933.6 193.8h0M1763.8 283.3h0M1721.2 149.6h0M1749.2 318.2h0M1759.2 301.8h0M1918.1 254.7h0M1700.2 118.5h0M1933.6 224.5h0M1786.5 293.2h0M1751.7 291.4h0M1778.5 210.3h0M1701.3 133.7h0M1766.2 220.3h0M1937.1 203.9h0M1905.2 266.9h0M1709.3 116.7h0M1767.9 281.1h0M1706.1 126.8h0M1696.4 117.8h0M1917.6 212.5h0M1709.5 172.2h0M1770.9 222.0h0M1758.8 320.8h0M1921.7 199.5h0M1779.4 208.3h0M1761.2 324.3h0M1764.6 291.3h0M1706.8 118.8h0M1765.1 346.1h0M1714.4 144.4h0M1928.9 207.1h0M1758.6 270.6h0M1766.7 301.0h0M1916.1 215.1h0M1725.0 166.0h0M1784.2 267.3h0M1714.1 133.8h0M1763.0 352.3h0M1923.7 259.6h0M1745.1 316.5h0M1780.1 316.1h0M1771.2 225.0h0M1916.6 223.3h0M1916.0 229.3h0M1944.2 213.1h0M1706.0 132.7h0M1923.3 194.0h0M1710.2 153.2h0M1700.0 139.2h0M1912.9 192.7h0M1761.3 301.5h0M1794.5 299.2h0M1758.5 342.4h0M1934.5 220.7h0M1925.6 227.8h0M1746.4 277.5h0M1796.5 296.3h0M1776.4 271.0h0M1933.2 205.3h0M1776.6 324.1h0M1710.3 112.6h0M1772.7 282.3h0M1697.0 106.5h0M1779.6 317.0h0M1712.8 122.7h0M1792.9 300.6h0M1765.0 251.6h0M1774.5 305.6h0M1792.7 277.7h0M1927.8 232.2h0M1940.2 218.9h0M1762.9 268.5h0M1743.4 289.5h0M1942.0 193.9h0M1730.4 161.8h0M1925.9 205.2h0M1934.5 218.5h0M1937.2 220.5h0M1769.3 264.3h0M1708.6 117.5h0M1916.5 219.2h0M1772.8 320.0h0M1924.6 201.5h0M1737.1 265.7h0M1735.6 239.3h0M1770.0 292.1h0M1919.3 250.2h0M1918.1 199.8h0M1775.2 225.6h0M1751.7 344.3h0M1734.8 313.4h0M1920.7 195.0h0M1717.1 162.2h0M1943.0 209.1h0M1707.1 122.0h0M1940.6 198.1h0M1707.2 133.2h0M1766.3 338.4h0M1794.6 291.7h0M1742.2 125.4h0M1740.5 311.4h0M1924.4 236.3h0M1906.3 203.5h0M1922.8 233.8h0M1925.4 223.4h0M1794.7 297.3h0M1912.0 263.7h0M1737.9 139.0h0M1756.3 252.2h0M1762.3 347.9h0M1777.7 325.5h0M1763.9 220.5h0M1755.1 323.0h0M1700.4 125.0h0M1931.0 209.0h0M1926.3 230.5h0M1764.0 347.0h0M1783.7 270.3h0M1934.0 200.7h0M1916.4 244.7h0M1757.1 323.7h0M1731.0 168.0h0M1710.6 185.9h0M1765.5 235.4h0M1703.4 150.2h0M1905.2 205.3h0M1731.8 219.4h0M1711.3 193.9h0M1774.2 279.9h0M1946.8 213.9h0M1727.7 307.8h0M1936.7 227.7h0M1732.3 157.9h0M1707.3 153.1h0M1766.9 347.9h0M1772.0 237.0h0M1719.7 149.6h0M1742.3 312.9h0M1932.5 206.4h0M1705.9 158.3h0M1726.5 300.0h0M1702.4 129.5h0M1731.7 312.1h0M1757.6 318.9h0M1773.5 248.5h0M1749.2 257.2h0M1745.1 126.5h0M1708.7 114.4h0M1947.1 201.6h0M1734.5 161.4h0M1735.4 166.6h0M1716.6 151.7h0M1750.9 339.4h0M1758.4 313.7h0M1921.6 243.2h0M1763.7 317.9h0M1787.6 292.1h0M1754.7 346.1h0M1766.1 306.4h0M1791.8 301.0h0M1776.4 315.5h0M1778.1 316.9h0M1703.8 133.3h0M1733.2 273.9h0M1772.5 230.8h0M1740.5 132.8h0M1790.2 301.6h0M1924.9 197.7h0M1733.6 170.5h0M1941.0 215.5h0M1947.9 197.2h0M1756.0 296.2h0M1773.2 236.8h0M1708.0 168.5h0M1902.9 266.9h0M1767.5 246.3h0M1931.5 189.7h0M1786.0 265.1h0M1773.4 325.6h0M1926.5 211.6h0M1720.0 207.7h0M1900.7 266.5h0M1741.0 140.1h0M1746.4 320.1h0M1738.6 265.4h0M1763.1 293.3h0M1941.9 196.8h0M1737.0 303.5h0M1773.5 216.2h0M1900.3 203.8h0M1753.9 346.9h0M1917.2 218.1h0M1742.1 303.0h0M1707.8 146.4h0M1731.3 303.2h0M1925.0 244.3h0M1698.6 123.4h0M1914.6 265.2h0M1744.3 328.4h0M1794.7 277.3h0M1748.4 282.5h0M1709.9 170.9h0M1736.2 315.5h0M1920.3 219.1h0M1751.6 281.8h0M1697.0 113.4h0M1915.4 227.2h0M1753.8 315.9h0M1702.0 116.1h0M1770.2 274.1h0M1709.4 134.1h0M1928.6 245.8h0M1760.1 342.7h0M1935.9 237.4h0M1760.5 334.4h0M1713.5 198.0h0M1766.0 296.4h0M1735.1 271.0h0M1736.4 306.6h0M1917.5 202.0h0M1747.8 320.7h0M1773.8 218.4h0M1776.1 294.7h0M1780.6 206.7h0M1934.7 197.0h0M1770.5 271.6h0M1937.1 238.7h0M1939.3 211.1h0M1744.3 314.2h0M1758.6 221.9h0M1708.9 167.4h0M1762.9 326.7h0M1763.8 336.9h0M1926.3 191.2h0M1920.3 222.3h0M1717.8 136.4h0M1733.7 307.9h0M1788.5 291.0h0M1768.9 262.6h0" stroke="#ffff00" stroke-width="4.00" stroke-linecap="round" fill="none"/>
<path d="M1731.4 243.4h0M1723.4 300.5h0M1766.9 345.4h0M1729.9 312.3h0M1728.2 311.0h0M1730.6 217.5h0M1725.6 227.7h0M1758.7 340.8h0M1756.6 337.8h0M1751.9 138.8h0M1732.0 294.6h0M1730.6 264.5h0M1775.7 270.0h0M1734.4 237.9h0M1732.8 311.0h0M1720.3 305.2h0M1740.7 131.4h0M1726.4 148.4h0M1732.7 249.0h0M1728.0 262.8h0M1721.4 163.3h0M1741.5 141.6h0M1727.0 305.1h0M1774.3 211.8h0M1749.2 265.2h0M1733.6 258.2h0M1722.3 304.5h0M1762.7 334.5h0M1791.0 295.9h0M1738.6 224.0h0" stroke="#e99400" stroke-width="4.00" stroke-linecap="round" fill="none"/>
<path d="M1755.2 339.2h0M1767.8 273.1h0M1772.3 259.0h0M1754.9 292.6h0M1728.2 275.1h0M1724.6 147.1h0M1732.2 238.3h0M1731.6 250.1h0M1720.8 157.1h0M1736.1 227.2h0M1732.6 245.6h0M1748.6 291.2h0M1788.3 298.2h0M1785.8 316.3h0M1781.1 302.4h0M1761.0 207.4h0M1789.3 267.2h0M1736.4 223.3h0M1732.5 255.4h0M1729.4 245.8h0M1741.6 130.8h0M1772.9 277.9h0M1739.9 314.5h0M1732.2 236.7h0M1740.8 245.6h0M1740.4 321.7h0M1745.0 300.9h0" stroke="#dd6c00" stroke-width="4.00" stroke-linecap="round" fill="none"/>
<path d="M1746.7 286.7h0M1770.8 294.0h0M1743.8 277.2h0M1745.9 315.7h0M1752.4 300.9h0M1726.7 274.0h0M1731.6 259.2h0M1782.4 298.1h0M1728.1 215.8h0M1733.5 309.8h0M1726.6 303.2h0M1726.9 295.2h0M1732.0 283.7h0M1728.1 289.9h0M1762.2 303.8h0M1760.4 351.3h0M1736.9 289.1h0M1717.8 144.1h0M1736.0 221.5h0M1727.3 214.9h0M1743.7 146.7h0M1744.5 237.8h0M1725.6 146.1h0M1761.8 344.1h0M1786.3 271.2h0M1741.5 304.7h0M1740.9 277.6h0M1732.9 251.0h0M1745.3 233.7h0M1756.5 345.8h0M1730.4 315.2h0M1731.3 288.1h0M1755.3 344.2h0" stroke="#d04c00" stroke-width="4.00" stroke-linecap="round" fill="none"/>
<path d="M1781.0 254.0h0M1732.1 285.0h0M1763.5 288.3h0M1736.6 272.6h0M1735.2 233.4h0M1768.8 344.2h0M1730.3 318.4h0M1731.2 307.2h0M1740.8 251.6h0M1727.2 298.7h0M1735.3 278.2h0M1761.3 337.0h0M1737.8 227.7h0M1741.9 276.9h0M1783.3 322.7h0M1721.1 142.4h0M1752.3 340.2h0M1734.1 302.6h0M1729.7 310.6h0M1754.5 254.2h0M1734.3 256.1h0M1733.5 305.6h0M1733.9 144.0h0M1746.4 278.8h0M1728.8 297.5h0" stroke="#c33300" stroke-width="4.00" stroke-linecap="round" fill="none"/>
<path d="M1762.4 297.4h0" stroke="#b42000" stroke-width="4.00" stroke-linecap="round" fill="none"/>
<path d="M1727.2 318.0h0" stroke="#a51280" stroke-width="4.00" stroke-linecap="round" fill="none"/>
<path d="M1722.8 302.5h0M1729.6 248.9h0M1765.0 343.8h0M1725.0 293.9h0M1731.9 273.2h0M1736.3 310.8h0M1734.9 294.2h0M1730.0 215.9h0M1735.3 225.7h0M1729.6 266.0h0M1741.5 319.6h0M1732.7 304.7h0M1743.2 314.7h0M1732.8 261.0h0M1731.4 298.2h0M1730.5 308.7h0M1723.9 313.8h0" stroke="#9309dd" stroke-width="4.00" stroke-linecap="round" fill="none"/>
<path d="M1733.6 223.1h0M1720.8 306.0h0M1731.5 261.6h0M1734.6 303.9h0M1745.6 245.6h0M1731.9 252.3h0M1758.6 348.6h0M1733.6 235.7h0M1731.9 224.0h0" stroke="#8004ff" stroke-width="4.00" stroke-linecap="round" fill="none"/>
<path d="M1744.5 236.3h0M1729.3 244.2h0" stroke="#6801dd" stroke-width="4.00" stroke-linecap="round" fill="none"/>
<path d="M1727.0 288.5h0" stroke="#4a0080" stroke-width="4.00" stroke-linecap="round" fill="none"/>
<path d="M1730.9 319.8h0" stroke="#000000" stroke-width="4.00" stroke-linecap="round" fill="none"/>
<path d="M1027.3 417.0h0M1025.0 399.2h0M1029.4 401.4h0M1024.7 386.0h0M1035.1 435.1h0M1034.7 394.4h0M1026.2 398.1h0M1028.2 413.2h0M1034.3 411.3h0M1035.4 404.3h0M1036.1 398.4h0M1036.9 397.6h0M1039.2 429.5h0M1035.8 422.9h0M1046.8 412.7h0M1032.5 419.5h0M1040.9 406.2h0M1034.7 418.0h0M1027.3 403.1h0M1030.4 402.6h0M1031.3 404.0h0M1028.1 393.8h0M1037.9 413.6h0M1038.9 415.2h0M1024.5 384.7h0M1027.6 399.8h0M1035.0 401.5h0M1042.0 389.2h0M1033.5 401.1h0M1033.4 395.6h0M1027.6 382.2h0M1039.3 389.1h0M1034.1 390.2h0M1039.4 424.2h0M1029.6 426.0h0M1030.3 410.0h0M1029.5 393.5h0M1029.0 415.6h0M1049.2 407.5h0M1037.7 390.8h0M1033.0 425.4h0M1035.1 403.2h0M1043.3 400.4h0M1043.1 410.2h0M1036.3 429.3h0M1029.2 394.9h0M1030.1 413.5h0M1035.8 388.2h0M1033.7 406.4h0M1038.4 410.4h0M1037.5 421.2h0M1032.8 409.7h0M1030.4 396.3h0M1038.6 412.1h0M1038.5 409.4h0M1036.8 410.5h0M1031.4 405.9h0M1036.2 409.5h0M1028.7 398.6h0M1030.9 383.1h0M1031.1 388.1h0M1028.6 390.7h0M1040.0 395.6h0M1036.0 392.2h0M1026.0 389.9h0M1040.0 391.5h0M1036.2 408.4h0M1035.0 409.0h0M1044.9 416.2h0M1027.7 385.6h0M1037.6 408.8h0M1036.8 402.9h0M1041.1 410.3h0M1043.4 420.7h0M1034.9 399.0h0M1027.2 421.1h0M1042.4 421.6h0M1049.0 411.9h0M1042.4 418.7h0M1024.9 395.7h0M1029.0 422.0h0M1038.2 402.2h0M1030.6 422.2h0M1030.0 418.0h0M1037.2 406.8h0M1031.0 392.6h0M1048.5 409.2h0M1041.2 401.0h0M1036.8 422.7h0M1031.9 421.9h0M1040.2 402.8h0M1027.6 392.5h0M1038.3 393.1h0M1025.4 394.2h0M1029.4 396.0h0M1035.2 405.7h0M1041.5 405.1h0M1043.0 423.4h0M1032.1 388.0h0M1042.7 419.7h0M1034.8 393.3h0M1037.6 394.0h0M1035.8 395.2h0M1027.6 411.4h0M1028.8 425.2h0M1032.4 426.4h0M1029.5 423.1h0M1029.6 404.1h0M1045.1 411.1h0M1030.8 420.7h0M1030.5 404.8h0M1041.8 399.1h0M1052.0 409.3h0M1050.1 411.9h0M1048.3 407.1h0M1052.7 413.4h0M1034.9 434.6h0M1036.4 431.6h0M1033.4 432.3h0M1038.3 429.7h0M1042.3 381.3h0M1112.1 400.4h0M1112.8 399.9h0M1087.2 424.1h0M1044.6 388.5h0M1073.3 400.5h0M1062.9 420.3h0M1072.1 411.3h0M1070.5 418.0h0M1072.7 423.0h0M1071.2 401.7h0M1069.5 409.1h0M1072.6 404.0h0M1069.7 407.8h0M1067.9 422.2h0M1074.4 425.0h0M1064.0 421.0h0M1070.0 416.4h0M1071.0 404.2h0M1066.5 414.3h0M1065.0 414.8h0M1070.8 424.9h0M1074.1 402.9h0M1073.4 404.7h0M1066.6 423.0h0M1072.3 424.5h0M1070.1 414.3h0M1070.6 407.2h0M1066.9 415.3h0M1067.0 417.5h0M1073.0 421.1h0M1043.6 432.8h0M1055.4 424.7h0M1050.6 423.8h0M1052.8 421.9h0M1061.3 434.1h0M1050.9 422.6h0M1060.0 444.1h0M1046.4 444.2h0M1046.1 433.9h0M1049.9 422.0h0M1064.2 435.5h0M1057.0 430.2h0M1054.3 420.9h0M1045.0 438.8h0M1055.9 422.7h0M1052.3 424.1h0M1045.5 422.1h0M1050.1 418.7h0M1050.2 425.9h0M1051.4 420.0h0M1057.4 431.8h0M1045.3 419.1h0M1053.3 438.4h0M1060.4 432.5h0M1053.6 423.4h0M1060.5 440.2h0M1046.1 438.4h0M1053.4 424.6h0M1063.2 440.3h0M1047.4 424.1h0M1048.5 421.8h0M1057.3 423.7h0M1059.0 441.6h0M1051.4 421.4h0M1062.6 446.7h0M1057.1 444.5h0M1046.8 420.4h0M1046.7 440.9h0M1063.5 437.6h0M1048.6 440.5h0M1054.8 426.9h0M1059.0 433.6h0M1059.0 443.2h0M1048.8 430.4h0M1054.0 442.1h0M1057.4 428.7h0M1061.2 436.3h0M1045.6 427.9h0M1054.6 422.4h0M1051.0 436.2h0M1064.4 442.8h0M1051.7 427.5h0M1041.2 431.0h0M1059.4 438.0h0M1050.8 432.2h0M1050.4 439.5h0M1049.8 433.4h0M1061.5 448.3h0M1041.3 436.2h0M1062.9 434.4h0M1048.7 425.9h0M1060.3 448.3h0M1055.0 411.4h0M1080.9 415.1h0M1068.2 453.1h0M1052.7 401.5h0M1052.9 403.0h0M1078.1 405.9h0M1040.4 464.5h0M1044.1 477.9h0M1038.5 448.4h0M1042.4 477.4h0M1040.3 470.0h0M1040.3 466.4h0M1047.0 486.0h0M1037.0 452.7h0M1037.9 443.5h0M1036.3 455.9h0M1037.6 451.3h0M1038.9 447.0h0M1042.5 474.0h0M1039.6 461.9h0M1046.4 479.8h0M1043.5 479.9h0M1040.7 438.3h0M1038.9 445.3h0M1043.5 476.7h0M1037.0 444.7h0M1045.5 482.4h0M1041.2 472.9h0M1040.5 441.0h0M1045.0 479.8h0M1036.7 459.8h0M1039.3 468.9h0M1046.9 484.3h0M1038.5 462.8h0M1039.2 440.2h0M1038.5 459.8h0M1038.5 465.8h0M1035.2 443.5h0M1049.0 483.7h0M1049.0 489.1h0M1042.0 440.9h0M1058.7 509.9h0M1063.8 504.1h0M1064.2 510.7h0M1065.1 503.1h0M1056.7 541.3h0M1063.3 531.8h0M1065.3 505.7h0M1058.3 520.0h0M1060.9 528.1h0M1060.6 517.8h0M1066.4 505.1h0M1062.6 499.0h0M1058.4 521.5h0M1061.5 531.1h0M1063.8 499.8h0M1061.2 512.5h0M1061.4 493.0h0M1057.1 491.7h0M1058.7 538.0h0M1064.2 509.2h0M1063.8 511.9h0M1062.6 511.5h0M1059.6 540.2h0M1060.4 519.1h0M1060.8 495.3h0M1063.4 513.7h0M1057.0 538.5h0M1061.2 514.1h0M1065.4 499.1h0M1057.9 489.0h0M1061.7 524.7h0M1058.6 541.6h0M1061.8 536.7h0M1056.3 490.8h0M1064.3 501.6h0M1065.0 497.4h0M1060.6 534.9h0M1059.6 493.4h0M1061.9 526.8h0M1058.6 524.7h0M1063.2 527.6h0M1059.0 491.8h0M1062.6 533.9h0M1060.5 537.2h0M1060.6 525.8h0M1054.6 503.6h0M1073.9 508.0h0M1074.3 509.5h0M1073.5 512.1h0M1073.5 513.6h0M1070.2 528.0h0M1055.7 549.6h0M1057.2 550.7h0M1065.4 521.4h0M1069.8 521.4h0M1074.6 521.4h0M1061.6 521.4h0M1060.9 499.8h0M1067.6 499.8h0M1066.8 503.6h0M1069.8 527.3h0M1064.6 515.1h0M1075.4 553.0h0M1064.1 546.6h0M1069.9 553.2h0M1074.3 553.1h0M1064.3 553.8h0M1060.9 548.8h0M1063.6 549.7h0M1063.1 543.8h0M1072.8 552.8h0M1067.6 541.0h0M1075.4 554.3h0M1066.1 541.3h0M1062.2 549.5h0M1065.6 548.2h0M1064.1 552.6h0M1063.3 587.0h0M1068.2 585.9h0M1063.5 595.6h0M1049.8 581.4h0M1056.0 580.6h0M1070.9 573.0h0M1056.2 593.3h0M1072.3 583.4h0M1055.6 578.6h0M1060.7 587.5h0M1059.5 584.1h0M1066.9 590.3h0M1061.7 580.1h0M1065.4 582.0h0M1059.4 590.6h0M1069.4 562.8h0M1069.5 586.8h0M1060.0 585.4h0M1064.7 579.4h0M1058.2 584.0h0M1068.0 578.6h0M1063.8 588.7h0M1059.9 595.2h0M1065.9 564.6h0M1079.3 565.9h0M1072.4 565.0h0M1068.0 587.7h0M1057.1 565.4h0M1072.2 590.1h0M1061.8 586.4h0M1067.0 580.3h0M1060.3 563.7h0M1063.1 578.0h0M1060.4 573.7h0M1058.7 586.0h0M1066.0 578.9h0M1065.3 586.2h0M1065.0 568.4h0M1077.6 563.0h0M1073.6 563.7h0M1055.9 570.7h0M1056.2 574.2h0M1060.3 578.6h0M1057.2 586.4h0M1070.5 595.0h0M1060.0 580.3h0M1057.1 579.1h0M1069.2 567.2h0M1052.4 575.9h0M1056.9 576.0h0M1061.0 589.2h0M1070.2 565.2h0M1063.6 579.3h0M1063.9 569.7h0M1063.4 590.3h0M1077.6 566.7h0M1057.8 588.5h0M1071.3 588.3h0M1073.2 561.4h0M1070.0 581.4h0M1069.0 591.7h0M1074.0 576.4h0M1062.7 583.3h0M1068.0 577.3h0M1067.5 574.0h0M1063.3 575.7h0M1057.8 572.9h0M1061.0 570.1h0M1054.0 569.4h0M1052.9 589.1h0M1068.3 571.3h0M1071.1 578.4h0M1058.9 587.7h0M1067.6 592.9h0M1064.5 574.9h0M1076.0 564.0h0M1062.2 563.4h0M1056.7 583.2h0M1065.2 590.8h0M1059.3 593.8h0M1066.8 567.8h0M1061.9 561.9h0M1062.5 581.1h0M1065.2 589.6h0M1068.9 589.9h0M1070.6 584.4h0M1072.5 571.4h0M1061.0 559.2h0M1067.9 596.1h0M1080.7 566.9h0M1056.0 564.1h0M1060.2 582.7h0M1062.5 585.2h0M1055.5 575.5h0M1051.8 577.9h0M1070.5 580.2h0M1061.1 560.5h0M1051.3 579.9h0M1071.7 534.4h0M1080.6 557.4h0M1083.9 568.1h0M1072.8 585.8h0M1069.4 597.1h0M1076.0 599.9h0M1049.3 580.6h0M1098.0 506.6h0M1097.9 505.0h0M1098.2 500.2h0M1107.7 525.7h0M1094.5 511.2h0M1102.7 504.6h0M1094.5 519.9h0M1099.8 504.7h0M1095.2 496.2h0M1101.3 501.9h0M1099.7 523.4h0M1096.5 522.1h0M1092.9 496.4h0M1102.5 524.2h0M1101.0 512.8h0M1092.3 516.5h0M1101.3 516.4h0M1090.9 507.1h0M1097.6 498.0h0M1091.9 515.3h0M1094.0 527.3h0M1104.2 501.4h0M1094.7 502.9h0M1096.8 499.2h0M1097.3 509.2h0M1099.1 503.0h0M1103.9 498.0h0M1101.4 519.8h0M1101.6 504.7h0M1101.3 528.5h0M1103.8 507.7h0M1099.2 509.5h0M1091.8 496.3h0M1101.0 527.5h0M1099.9 497.9h0M1090.0 512.4h0M1090.7 523.6h0M1101.9 497.3h0M1096.2 506.0h0M1098.3 511.5h0M1096.6 517.2h0M1101.5 506.6h0M1102.2 512.6h0M1096.0 515.9h0M1095.5 499.2h0M1100.2 500.9h0M1096.5 502.3h0M1088.8 515.2h0M1088.0 511.0h0M1093.2 505.3h0M1103.5 502.5h0M1102.4 501.7h0M1090.0 483.4h0M1087.9 489.2h0M1093.2 488.7h0M1092.1 493.3h0M1084.9 494.8h0M1086.1 496.1h0M1087.6 497.8h0M1109.6 482.6h0M1108.4 484.3h0M1107.5 486.2h0M1103.3 487.7h0M1103.6 489.5h0M1102.5 492.1h0M1102.8 494.3h0M1093.9 544.4h0M1090.9 548.8h0M1088.7 553.6h0M1122.5 545.9h0M1121.7 553.3h0M1106.5 539.9h0M1101.3 534.7h0M1105.4 546.6h0M1109.5 552.4h0M1109.2 550.7h0M1096.9 556.6h0M1104.7 558.5h0M1101.7 557.8h0M1093.4 550.4h0M1095.8 554.4h0M1097.9 538.3h0M1100.6 559.9h0M1104.7 545.6h0M1099.9 551.1h0M1098.0 544.5h0M1095.4 548.8h0M1095.1 550.9h0M1101.2 562.4h0M1103.7 552.8h0M1097.4 542.3h0M1106.1 549.1h0M1103.7 544.4h0M1101.8 546.0h0M1100.2 544.9h0M1094.7 541.0h0M1099.5 547.2h0M1102.2 543.0h0M1105.8 550.3h0M1110.3 551.3h0M1098.3 539.9h0M1103.0 559.6h0M1096.8 548.7h0M1103.2 555.5h0M1096.7 536.8h0M1107.8 546.5h0M1101.5 551.4h0M1101.9 553.5h0M1105.5 556.6h0M1080.4 526.9h0M1083.5 529.9h0M1086.5 534.0h0M1089.5 536.2h0M1078.2 529.3h0M1078.2 532.9h0M1089.0 524.3h0M1088.3 535.5h0M1074.6 539.5h0M1078.2 540.9h0M1081.7 542.7h0M1076.5 539.9h0M1097.6 568.5h0M1092.9 567.8h0M1097.6 569.8h0M1094.4 565.6h0M1088.3 565.5h0M1097.7 567.0h0M1095.6 569.4h0M1098.0 572.0h0M1089.5 567.2h0M1089.6 566.1h0M1097.4 576.2h0M1099.0 567.6h0M1097.3 580.4h0M1090.3 569.1h0M1095.0 571.9h0M1093.6 566.8h0M1092.5 563.8h0M1093.6 564.0h0M1091.4 572.9h0M1099.8 569.5h0M1090.1 563.0h0M1096.3 576.5h0M1094.2 574.1h0M1092.1 568.8h0M1091.9 570.3h0M1117.3 556.9h0M1111.7 535.0h0M1118.3 544.8h0M1115.3 546.9h0M1114.0 550.3h0M1115.2 542.5h0M1113.7 547.7h0M1122.7 555.8h0M1106.2 535.3h0M1105.0 538.7h0M1114.2 552.8h0M1115.2 534.9h0M1111.5 538.2h0M1118.0 554.7h0M1113.3 539.0h0M1113.2 543.0h0M1118.9 550.9h0M1120.9 545.3h0M1112.7 545.9h0M1109.2 535.7h0M1115.0 540.7h0M1103.7 537.0h0M1123.7 552.9h0M1116.7 539.0h0M1105.1 570.2h0M1113.2 574.2h0M1110.1 577.8h0M1120.0 577.9h0M1123.7 571.5h0M1115.2 575.9h0M1110.6 568.5h0M1120.9 574.1h0M1125.5 571.8h0M1109.2 574.4h0M1116.6 567.6h0M1111.3 578.6h0M1119.3 567.0h0M1125.2 573.5h0M1111.8 577.1h0M1123.5 574.7h0M1120.4 573.0h0M1114.1 569.1h0M1105.5 574.1h0M1113.3 571.6h0M1116.5 572.0h0M1122.6 572.4h0M1123.7 572.8h0M1114.9 573.4h0M1117.3 573.7h0M1115.4 571.0h0M1120.0 579.3h0M1115.0 577.8h0M1119.5 568.8h0M1107.4 569.4h0M1120.0 566.1h0M1107.4 570.6h0M1120.4 575.3h0M1121.7 566.6h0M1111.8 567.7h0M1119.2 577.0h0M1123.6 567.2h0M1120.8 576.4h0M1111.4 573.6h0M1120.0 571.4h0M1121.9 576.0h0M1115.5 568.7h0M1117.4 578.5h0M1117.6 572.4h0M1108.8 570.8h0M1117.9 569.8h0M1119.1 572.5h0M1107.6 573.6h0M1122.3 569.1h0M1124.2 575.8h0M1108.1 597.4h0M1112.3 592.2h0M1110.6 597.7h0M1103.3 600.7h0M1113.1 595.5h0M1109.4 599.1h0M1107.5 587.7h0M1112.4 590.4h0M1114.3 590.6h0M1110.9 593.0h0M1113.5 598.0h0M1114.8 591.6h0M1116.1 588.2h0M1114.0 588.3h0M1107.1 592.3h0M1105.4 590.9h0M1117.2 588.8h0M1107.5 593.3h0M1104.1 590.0h0M1108.6 592.3h0M1105.6 602.0h0M1109.5 600.7h0M1114.2 593.9h0M1108.1 602.2h0M1110.7 590.5h0M1106.6 589.7h0M1112.3 598.0h0M1110.7 594.8h0M1108.7 595.8h0M1106.7 600.8h0M1104.8 597.6h0M1114.3 581.0h0M1098.7 583.2h0M1078.2 549.6h0M1070.9 552.5h0M1074.6 558.1h0M1077.4 558.1h0M1075.7 562.2h0M1087.6 557.4h0M1092.1 557.7h0M1092.8 558.8h0M1090.1 541.6h0M1087.6 546.2h0M1103.5 581.0h0M1086.1 599.0h0M1093.3 596.5h0M1092.2 589.9h0M1073.3 589.6h0M1074.1 591.9h0M1095.1 581.8h0M1087.8 596.1h0M1086.2 584.7h0M1090.0 581.2h0M1088.2 577.3h0M1077.5 597.1h0M1087.2 571.3h0M1088.6 583.1h0M1082.3 587.4h0M1091.5 592.9h0M1081.4 576.4h0M1087.9 592.7h0M1092.7 593.3h0M1085.2 587.9h0M1087.2 591.7h0M1095.2 584.9h0M1087.4 589.0h0M1086.4 577.0h0M1093.0 582.6h0M1086.6 594.2h0M1085.0 571.7h0M1087.1 572.6h0M1089.8 598.6h0M1090.3 576.9h0M1082.7 585.5h0M1084.8 589.0h0M1092.3 584.4h0M1084.7 585.2h0M1083.2 591.8h0M1078.4 591.1h0M1085.3 574.9h0M1094.3 585.5h0M1088.7 588.3h0M1090.2 599.7h0M1076.8 596.1h0M1086.5 573.7h0M1086.2 590.1h0M1080.9 585.7h0M1089.6 578.1h0M1074.9 591.1h0M1084.0 573.9h0M1087.5 581.6h0M1083.8 576.3h0M1089.1 586.9h0M1083.4 589.8h0M1084.1 598.4h0M1078.8 579.9h0M1093.6 579.1h0M1094.2 595.1h0M1094.9 587.3h0M1087.1 582.7h0M1076.1 587.3h0M1087.3 600.3h0M1084.3 592.3h0M1090.4 589.2h0M1089.0 592.5h0M1079.4 594.9h0M1091.2 579.2h0M1090.1 586.4h0M1075.4 595.5h0M1085.1 597.0h0M1082.6 594.7h0M1082.1 590.8h0M1081.3 591.8h0M1093.4 588.3h0M1091.0 584.7h0M1085.0 593.7h0M1080.7 588.5h0M1091.0 581.9h0M1087.2 577.8h0M1089.2 591.1h0M1096.7 582.1h0M1077.0 594.2h0M1073.3 603.7h0M1075.7 604.5h0M1079.4 605.2h0M1083.2 603.7h0M1086.9 604.5h0M1077.1 609.7h0M1093.9 604.5h0M1098.4 605.0h0M1069.8 600.8h0M1089.0 615.5h0M1086.1 619.6h0M1088.1 619.6h0M1088.5 616.8h0M1092.1 617.3h0M1084.5 617.1h0M1086.0 615.5h0M1097.8 619.4h0M1087.5 603.6h0M1087.7 616.0h0M1096.1 619.2h0M1091.3 623.0h0M1094.1 614.6h0M1094.0 619.1h0M1083.7 621.3h0M1093.0 622.2h0M1090.3 620.6h0M1093.9 613.6h0M1089.1 617.9h0M1095.2 623.9h0M1092.4 620.6h0M1082.9 622.1h0M1085.6 613.1h0M1084.3 603.7h0M1090.8 619.4h0M1094.4 611.1h0M1087.0 620.9h0M1095.9 623.1h0M1080.7 619.5h0M1085.5 621.0h0M1087.5 617.6h0M1097.6 614.2h0M1081.3 615.4h0M1089.0 620.7h0M1086.7 613.8h0M1084.3 619.4h0M1095.3 613.6h0M1087.9 611.0h0M1089.4 624.5h0M1091.7 609.7h0M1094.1 621.3h0M1091.3 614.4h0M1084.2 614.4h0M1097.3 617.2h0M1090.3 612.3h0M1086.8 611.4h0M1092.8 612.1h0M1096.4 611.2h0M1096.1 615.3h0M1095.9 620.6h0M1092.0 627.5h0M1089.8 626.0h0M1093.5 625.6h0M1087.6 623.8h0M1024.4 383.5h0M1026.0 383.0h0M1091.9 602.0h0M1096.4 617.2h0M1123.0 566.2h0M1120.0 557.6h0M1097.3 541.6h0M1079.1 533.2h0M1089.4 626.5h0M1104.4 544.1h0M1112.7 543.6h0M1079.9 614.6h0M1090.5 587.5h0M1085.3 528.0h0M1101.5 554.7h0M1102.4 600.9h0M1101.8 595.3h0M1118.3 542.8h0M1083.6 542.2h0M1099.2 549.7h0M1087.9 588.6h0M1104.0 589.2h0M1114.8 587.9h0M1070.0 601.1h0M1095.7 576.4h0M1092.5 573.2h0M1097.0 545.3h0M1088.8 543.0h0M1088.6 584.5h0M1113.4 531.9h0M1091.9 544.2h0M1109.1 591.5h0M1089.5 609.7h0M1117.5 568.8h0M1110.0 529.7h0M1086.7 551.5h0M1098.1 533.3h0M1107.5 551.1h0M1087.4 537.0h0M1105.6 599.4h0M1082.6 534.4h0M1091.0 533.2h0M1125.5 560.8h0M1083.6 528.5h0M1082.8 591.2h0M1078.2 593.5h0M1115.1 569.9h0M1105.6 581.7h0M1100.4 583.0h0M1117.5 566.5h0M1084.5 557.7h0M1238.2 467.2h0M1240.5 467.6h0M1241.9 468.7h0" stroke="#d5d5d5" stroke-width="4.00" stroke-linecap="round" fill="none"/>
<path d="M1259.3 527.9h0M1262.6 514.1h0M1254.9 518.0h0M1251.0 515.4h0M1249.1 533.4h0M1261.7 524.3h0M1252.7 535.2h0M1248.7 512.6h0M1246.7 532.6h0M1264.9 513.2h0M1243.5 525.9h0M1244.6 542.6h0M1244.6 511.4h0M1253.3 523.1h0M1256.3 517.0h0M1248.3 525.9h0M1250.9 531.3h0M1254.0 520.0h0M1245.4 520.5h0M1256.2 529.0h0M1247.1 530.4h0M1250.3 525.9h0M1241.0 539.4h0M1258.5 518.4h0M1256.0 522.0h0M1248.1 535.3h0M1257.1 520.3h0M1255.3 534.1h0M1253.2 530.9h0M1248.8 539.3h0M1241.4 536.3h0M1262.3 517.1h0M1250.5 516.6h0M1246.7 526.7h0M1250.6 520.8h0M1255.5 535.7h0M1266.1 514.4h0M1244.1 513.4h0M1243.8 537.4h0M1242.5 535.5h0M1249.0 537.8h0M1259.0 532.6h0M1247.5 517.5h0M1252.9 537.2h0M1249.3 517.2h0M1250.6 519.0h0M1247.7 538.9h0M1257.7 525.5h0M1250.3 513.1h0M1257.7 534.6h0M1247.8 524.3h0M1243.6 540.9h0M1263.1 516.2h0M1260.9 525.1h0M1246.0 521.8h0M1251.4 528.9h0M1257.6 521.5h0M1254.3 529.1h0M1255.0 523.6h0M1246.8 519.8h0M1253.6 524.3h0M1245.6 510.6h0M1229.7 542.1h0M1231.9 542.5h0M1234.2 542.5h0M1236.4 543.3h0M1238.6 543.6h0" stroke="#b5bd61" stroke-width="4.00" stroke-linecap="round" fill="none"/>
<path d="M1227.5 467.9h0M1231.2 473.5h0M1233.0 478.0h0M1226.7 480.2h0M1224.5 482.8h0M1234.2 481.3h0M1238.2 484.3h0M1237.1 487.6h0M1239.3 491.7h0M1231.2 493.2h0M1233.0 497.3h0M1229.3 479.8h0M1232.3 475.7h0M1235.3 479.4h0M1226.0 481.3h0M1236.4 485.0h0M1231.6 495.4h0" stroke="#98df8a" stroke-width="4.00" stroke-linecap="round" fill="none"/>
<path d="M1276.8 472.0h0M1276.1 477.6h0M1243.4 460.9h0M1265.7 461.3h0M1274.6 492.0h0M1256.2 510.8h0M1275.8 489.8h0M1263.5 496.6h0M1256.9 495.8h0M1268.8 481.5h0M1253.2 479.7h0M1253.2 500.6h0M1264.3 467.7h0M1259.7 474.1h0M1246.8 500.8h0M1275.5 491.2h0M1245.1 474.2h0M1266.3 478.2h0M1250.9 499.1h0M1244.9 486.2h0M1249.3 495.0h0M1255.2 509.6h0M1273.9 481.1h0M1259.1 465.6h0M1246.7 496.4h0M1270.9 485.8h0M1246.2 494.0h0M1250.6 503.8h0M1255.5 487.5h0M1259.0 498.5h0M1254.2 510.3h0M1263.7 498.9h0M1270.9 472.8h0M1249.6 508.8h0M1261.4 506.0h0M1267.0 499.9h0M1258.7 504.2h0M1262.2 481.3h0M1266.2 496.4h0M1251.3 479.2h0M1270.0 491.4h0M1266.1 479.9h0M1254.9 511.2h0M1254.8 492.2h0M1249.0 486.9h0M1266.5 472.7h0M1261.5 482.4h0M1251.3 507.4h0M1253.4 512.1h0M1267.6 462.7h0M1251.4 467.2h0M1247.3 498.9h0M1254.8 508.5h0M1246.6 467.7h0M1245.2 476.3h0M1247.3 486.6h0M1256.8 488.9h0M1268.5 491.0h0M1269.8 472.3h0M1250.3 464.1h0M1255.9 477.5h0M1258.3 486.7h0M1264.1 469.0h0M1266.6 491.8h0M1253.6 477.5h0M1260.6 510.5h0M1247.1 475.8h0M1267.1 473.7h0M1257.1 484.1h0M1253.9 464.7h0M1268.3 487.1h0M1254.6 476.5h0M1261.0 497.9h0M1271.4 495.8h0M1253.9 473.7h0M1249.6 481.0h0M1257.5 467.6h0M1248.5 495.8h0M1271.8 475.1h0M1272.0 485.0h0M1242.9 498.3h0M1246.5 478.0h0M1267.5 479.2h0M1273.9 494.0h0M1269.6 474.1h0M1249.3 498.2h0M1267.7 489.6h0M1262.6 469.8h0M1259.5 477.6h0M1260.5 491.3h0M1251.7 486.7h0M1252.1 485.1h0M1267.8 501.9h0M1250.6 509.9h0M1255.4 475.0h0M1268.9 470.7h0M1269.8 499.3h0M1250.1 502.1h0M1266.8 493.9h0M1249.9 477.5h0M1255.2 473.9h0M1274.0 483.2h0M1263.5 494.4h0M1273.5 477.2h0M1274.9 482.5h0M1260.7 476.2h0M1263.7 473.1h0M1252.4 493.8h0M1248.5 500.5h0M1273.2 489.0h0M1252.3 470.0h0M1275.6 471.9h0M1263.0 476.7h0M1260.5 465.8h0M1253.0 481.9h0M1250.3 506.1h0M1263.4 479.8h0M1264.9 501.8h0M1253.2 488.7h0M1262.8 489.6h0M1255.3 506.3h0M1274.4 478.7h0M1264.5 490.0h0M1245.5 495.1h0M1254.9 481.1h0M1252.2 472.8h0M1256.6 471.8h0M1260.0 485.0h0M1251.0 494.4h0M1255.1 482.4h0M1246.6 488.5h0M1254.3 502.5h0M1249.6 483.3h0M1262.6 500.4h0M1265.9 464.9h0M1247.9 504.5h0M1251.8 509.6h0M1264.4 506.4h0M1258.5 469.8h0M1251.8 499.9h0M1250.6 497.2h0M1249.7 471.0h0M1254.4 499.2h0M1256.6 487.8h0M1271.0 469.9h0M1254.6 503.6h0M1257.2 502.5h0M1255.5 490.8h0M1264.0 493.4h0M1260.7 477.7h0M1248.4 464.6h0M1260.5 467.2h0M1264.4 500.2h0M1248.0 489.0h0M1260.3 505.0h0M1265.0 483.7h0M1260.7 472.5h0M1243.7 494.4h0M1245.0 505.1h0M1259.3 491.6h0M1250.7 475.5h0M1245.5 471.3h0M1257.3 491.5h0M1276.4 480.6h0M1257.9 483.0h0M1243.1 499.9h0M1266.2 489.8h0M1268.2 499.0h0M1265.5 495.1h0M1263.8 477.5h0M1255.7 478.8h0M1245.6 499.2h0M1261.3 485.9h0M1255.2 468.9h0M1260.2 481.8h0M1277.9 476.7h0M1272.7 480.6h0M1251.8 465.1h0M1257.9 500.9h0M1263.3 484.4h0M1246.0 485.0h0M1246.4 504.1h0M1250.7 472.3h0M1268.3 483.0h0M1252.4 490.3h0M1252.5 474.1h0M1244.4 503.0h0M1249.9 465.3h0M1256.8 508.0h0M1276.9 473.2h0M1264.4 470.2h0M1265.7 503.5h0M1258.6 502.2h0M1245.1 491.0h0M1257.3 479.6h0M1269.2 494.7h0M1262.8 487.3h0M1251.3 502.3h0M1247.6 467.6h0M1255.3 467.2h0M1235.6 469.8h0M1238.2 483.2h0" stroke="#1f77b4" stroke-width="4.00" stroke-linecap="round" fill="none"/>
<path d="M1358.8 417.0h0M1356.5 399.2h0M1360.9 401.4h0M1356.2 386.0h0M1366.6 435.1h0M1366.2 394.4h0M1357.7 398.1h0M1359.7 413.2h0M1365.8 411.3h0M1366.9 404.3h0M1367.6 398.4h0M1368.4 397.6h0M1370.7 429.5h0M1367.3 422.9h0M1378.3 412.7h0M1364.0 419.5h0M1372.4 406.2h0M1366.2 418.0h0M1358.8 403.1h0M1361.9 402.6h0M1362.8 404.0h0M1359.6 393.8h0M1369.4 413.6h0M1370.4 415.2h0M1356.0 384.7h0M1359.1 399.8h0M1366.5 401.5h0M1373.5 389.2h0M1365.0 401.1h0M1364.9 395.6h0M1359.1 382.2h0M1370.8 389.1h0M1365.6 390.2h0M1370.9 424.2h0M1361.1 426.0h0M1361.8 410.0h0M1361.0 393.5h0M1360.5 415.6h0M1380.7 407.5h0M1369.2 390.8h0M1364.5 425.4h0M1366.6 403.2h0M1374.8 400.4h0M1374.6 410.2h0M1367.8 429.3h0M1360.7 394.9h0M1361.6 413.5h0M1367.3 388.2h0M1365.2 406.4h0M1369.9 410.4h0M1369.0 421.2h0M1364.3 409.7h0M1361.9 396.3h0M1370.1 412.1h0M1370.0 409.4h0M1368.3 410.5h0M1362.9 405.9h0M1367.7 409.5h0M1360.2 398.6h0M1362.4 383.1h0M1362.6 388.1h0M1360.1 390.7h0M1371.5 395.6h0M1367.5 392.2h0M1357.5 389.9h0M1371.5 391.5h0M1367.7 408.4h0M1366.5 409.0h0M1376.4 416.2h0M1359.2 385.6h0M1369.1 408.8h0M1368.3 402.9h0M1372.6 410.3h0M1374.9 420.7h0M1366.4 399.0h0M1358.7 421.1h0M1373.9 421.6h0M1380.5 411.9h0M1373.9 418.7h0M1356.4 395.7h0M1360.5 422.0h0M1369.7 402.2h0M1362.1 422.2h0M1361.5 418.0h0M1368.7 406.8h0M1362.5 392.6h0M1380.0 409.2h0M1372.7 401.0h0M1368.3 422.7h0M1363.4 421.9h0M1371.7 402.8h0M1359.1 392.5h0M1369.8 393.1h0M1356.9 394.2h0M1360.9 396.0h0M1366.7 405.7h0M1373.0 405.1h0M1374.5 423.4h0M1363.6 388.0h0M1374.2 419.7h0M1366.3 393.3h0M1369.1 394.0h0M1367.3 395.2h0M1359.1 411.4h0M1360.3 425.2h0M1363.9 426.4h0M1361.0 423.1h0M1361.1 404.1h0M1376.6 411.1h0M1362.3 420.7h0M1362.0 404.8h0M1373.3 399.1h0M1383.5 409.3h0M1381.6 411.9h0M1379.8 407.1h0M1384.2 413.4h0M1366.4 434.6h0M1367.9 431.6h0M1364.9 432.3h0M1369.8 429.7h0M1373.8 381.3h0M1443.6 400.4h0M1444.3 399.9h0M1418.7 424.1h0M1376.1 388.5h0M1404.8 400.5h0M1394.4 420.3h0M1403.6 411.3h0M1402.0 418.0h0M1404.2 423.0h0M1402.7 401.7h0M1401.0 409.1h0M1404.1 404.0h0M1401.2 407.8h0M1399.4 422.2h0M1405.9 425.0h0M1395.5 421.0h0M1401.5 416.4h0M1402.5 404.2h0M1398.0 414.3h0M1396.5 414.8h0M1402.3 424.9h0M1405.6 402.9h0M1404.9 404.7h0M1398.1 423.0h0M1403.8 424.5h0M1401.6 414.3h0M1402.1 407.2h0M1398.4 415.3h0M1398.5 417.5h0M1404.5 421.1h0M1375.1 432.8h0M1386.9 424.7h0M1382.1 423.8h0M1384.3 421.9h0M1392.8 434.1h0M1382.4 422.6h0M1391.5 444.1h0M1377.9 444.2h0M1377.6 433.9h0M1381.4 422.0h0M1395.7 435.5h0M1388.5 430.2h0M1385.8 420.9h0M1376.5 438.8h0M1387.4 422.7h0M1383.8 424.1h0M1377.0 422.1h0M1381.6 418.7h0M1381.7 425.9h0M1382.9 420.0h0M1388.9 431.8h0M1376.8 419.1h0M1384.8 438.4h0M1391.9 432.5h0M1385.1 423.4h0M1392.0 440.2h0M1377.6 438.4h0M1384.9 424.6h0M1394.7 440.3h0M1378.9 424.1h0M1380.0 421.8h0M1388.8 423.7h0M1390.5 441.6h0M1382.9 421.4h0M1394.1 446.7h0M1388.6 444.5h0M1378.3 420.4h0M1378.2 440.9h0M1395.0 437.6h0M1380.1 440.5h0M1386.3 426.9h0M1390.5 433.6h0M1390.5 443.2h0M1380.3 430.4h0M1385.5 442.1h0M1388.9 428.7h0M1392.7 436.3h0M1377.1 427.9h0M1386.1 422.4h0M1382.5 436.2h0M1395.9 442.8h0M1383.2 427.5h0M1372.7 431.0h0M1390.9 438.0h0M1382.3 432.2h0M1381.9 439.5h0M1381.3 433.4h0M1393.0 448.3h0M1372.8 436.2h0M1394.4 434.4h0M1380.2 425.9h0M1391.8 448.3h0M1386.5 411.4h0M1412.4 415.1h0M1399.7 453.1h0M1409.6 405.9h0M1371.9 464.5h0M1375.6 477.9h0M1370.0 448.4h0M1373.9 477.4h0M1371.8 470.0h0M1371.8 466.4h0M1378.5 486.0h0M1368.5 452.7h0M1369.4 443.5h0M1367.8 455.9h0M1369.1 451.3h0M1370.4 447.0h0M1374.0 474.0h0M1371.1 461.9h0M1377.9 479.8h0M1375.0 479.9h0M1372.2 438.3h0M1370.4 445.3h0M1375.0 476.7h0M1368.5 444.7h0M1377.0 482.4h0M1372.7 472.9h0M1372.0 441.0h0M1376.5 479.8h0M1368.2 459.8h0M1370.8 468.9h0M1378.4 484.3h0M1370.0 462.8h0M1370.7 440.2h0M1370.0 459.8h0M1370.0 465.8h0M1366.7 443.5h0M1380.5 483.7h0M1380.5 489.1h0M1373.5 440.9h0M1390.2 509.9h0M1395.3 504.1h0M1395.7 510.7h0M1396.6 503.1h0M1388.2 541.3h0M1394.8 531.8h0M1396.8 505.7h0M1389.8 520.0h0M1392.4 528.1h0M1392.1 517.8h0M1397.9 505.1h0M1394.1 499.0h0M1389.9 521.5h0M1393.0 531.1h0M1395.3 499.8h0M1392.7 512.5h0M1392.9 493.0h0M1388.6 491.7h0M1390.2 538.0h0M1395.7 509.2h0M1395.3 511.9h0M1394.1 511.5h0M1391.1 540.2h0M1391.9 519.1h0M1392.3 495.3h0M1394.9 513.7h0M1388.5 538.5h0M1392.7 514.1h0M1396.9 499.1h0M1389.4 489.0h0M1393.2 524.7h0M1390.1 541.6h0M1393.3 536.7h0M1387.8 490.8h0M1395.8 501.6h0M1396.5 497.4h0M1392.1 534.9h0M1391.1 493.4h0M1393.4 526.8h0M1390.1 524.7h0M1394.7 527.6h0M1390.5 491.8h0M1394.1 533.9h0M1392.0 537.2h0M1392.1 525.8h0M1386.1 503.6h0M1405.4 508.0h0M1405.8 509.5h0M1405.0 512.1h0M1405.0 513.6h0M1401.7 528.0h0M1387.2 549.6h0M1388.7 550.7h0M1396.9 521.4h0M1401.3 521.4h0M1406.1 521.4h0M1393.1 521.4h0M1392.4 499.8h0M1399.1 499.8h0M1398.3 503.6h0M1401.3 527.3h0M1406.9 553.0h0M1395.6 546.6h0M1401.4 553.2h0M1405.8 553.1h0M1395.8 553.8h0M1392.4 548.8h0M1395.1 549.7h0M1394.6 543.8h0M1404.3 552.8h0M1399.1 541.0h0M1406.9 554.3h0M1397.6 541.3h0M1393.7 549.5h0M1397.1 548.2h0M1395.6 552.6h0M1394.8 587.0h0M1399.7 585.9h0M1395.0 595.6h0M1381.3 581.4h0M1387.5 580.6h0M1402.4 573.0h0M1387.7 593.3h0M1403.8 583.4h0M1387.1 578.6h0M1392.2 587.5h0M1391.0 584.1h0M1398.4 590.3h0M1393.2 580.1h0M1396.9 582.0h0M1390.9 590.6h0M1400.9 562.8h0M1401.0 586.8h0M1391.5 585.4h0M1396.2 579.4h0M1389.7 584.0h0M1399.5 578.6h0M1395.3 588.7h0M1391.4 595.2h0M1397.4 564.6h0M1410.8 565.9h0M1403.9 565.0h0M1399.5 587.7h0M1388.6 565.4h0M1403.7 590.1h0M1393.3 586.4h0M1398.5 580.3h0M1391.8 563.7h0M1394.6 578.0h0M1391.9 573.7h0M1390.2 586.0h0M1397.5 578.9h0M1396.8 586.2h0M1396.5 568.4h0M1409.1 563.0h0M1405.1 563.7h0M1387.4 570.7h0M1387.7 574.2h0M1391.8 578.6h0M1388.7 586.4h0M1402.0 595.0h0M1391.5 580.3h0M1388.6 579.1h0M1400.7 567.2h0M1383.9 575.9h0M1388.4 576.0h0M1392.5 589.2h0M1401.7 565.2h0M1395.1 579.3h0M1395.4 569.7h0M1394.9 590.3h0M1409.1 566.7h0M1389.3 588.5h0M1402.8 588.3h0M1404.7 561.4h0M1401.5 581.4h0M1400.5 591.7h0M1405.5 576.4h0M1394.2 583.3h0M1399.5 577.3h0M1399.0 574.0h0M1394.8 575.7h0M1389.3 572.9h0M1392.5 570.1h0M1385.5 569.4h0M1384.4 589.1h0M1399.8 571.3h0M1402.6 578.4h0M1390.4 587.7h0M1399.1 592.9h0M1396.0 574.9h0M1407.5 564.0h0M1393.7 563.4h0M1388.2 583.2h0M1396.7 590.8h0M1390.8 593.8h0M1398.3 567.8h0M1393.4 561.9h0M1394.0 581.1h0M1396.7 589.6h0M1400.4 589.9h0M1402.1 584.4h0M1404.0 571.4h0M1392.5 559.2h0M1399.4 596.1h0M1412.2 566.9h0M1387.5 564.1h0M1391.7 582.7h0M1394.0 585.2h0M1387.0 575.5h0M1383.3 577.9h0M1402.0 580.2h0M1392.6 560.5h0M1382.8 579.9h0M1403.2 534.4h0M1412.1 557.4h0M1415.4 568.1h0M1404.3 585.8h0M1400.9 597.1h0M1407.5 599.9h0M1380.8 580.6h0M1355.9 383.5h0M1357.5 383.0h0M1608.3 472.0h0M1607.6 477.6h0M1574.9 460.9h0M1597.2 461.3h0M1416.0 557.7h0M1606.1 492.0h0M1587.7 510.8h0M1607.3 489.8h0M1595.0 496.6h0M1588.4 495.8h0M1600.3 481.5h0M1584.7 479.7h0M1584.7 500.6h0M1595.8 467.7h0M1591.2 474.1h0M1578.3 500.8h0M1607.0 491.2h0M1576.6 474.2h0M1597.8 478.2h0M1582.4 499.1h0M1576.4 486.2h0M1580.8 495.0h0M1586.7 509.6h0M1605.4 481.1h0M1590.6 465.6h0M1578.2 496.4h0M1602.4 485.8h0M1577.7 494.0h0M1582.1 503.8h0M1587.0 487.5h0M1590.5 498.5h0M1585.7 510.3h0M1595.2 498.9h0M1602.4 472.8h0M1581.1 508.8h0M1592.9 506.0h0M1598.5 499.9h0M1590.2 504.2h0M1593.7 481.3h0M1597.7 496.4h0M1582.8 479.2h0M1601.5 491.4h0M1597.6 479.9h0M1586.4 511.2h0M1586.3 492.2h0M1580.5 486.9h0M1598.0 472.7h0M1593.0 482.4h0M1582.8 507.4h0M1584.9 512.1h0M1599.1 462.7h0M1582.9 467.2h0M1578.8 498.9h0M1586.3 508.5h0M1578.1 467.7h0M1576.7 476.3h0M1578.8 486.6h0M1588.3 488.9h0M1600.0 491.0h0M1601.3 472.3h0M1581.8 464.1h0M1587.4 477.5h0M1589.8 486.7h0M1595.6 469.0h0M1598.1 491.8h0M1585.1 477.5h0M1592.1 510.5h0M1578.6 475.8h0M1598.6 473.7h0M1588.6 484.1h0M1585.4 464.7h0M1599.8 487.1h0M1586.1 476.5h0M1592.5 497.9h0M1602.9 495.8h0M1585.4 473.7h0M1581.1 481.0h0M1589.0 467.6h0M1580.0 495.8h0M1603.3 475.1h0M1603.5 485.0h0M1574.4 498.3h0M1578.0 478.0h0M1599.0 479.2h0M1605.4 494.0h0M1601.1 474.1h0M1580.8 498.2h0M1599.2 489.6h0M1594.1 469.8h0M1591.0 477.6h0M1592.0 491.3h0M1583.2 486.7h0M1583.6 485.1h0M1599.3 501.9h0M1582.1 509.9h0M1586.9 475.0h0M1600.4 470.7h0M1601.3 499.3h0M1581.6 502.1h0M1598.3 493.9h0M1581.4 477.5h0M1586.7 473.9h0M1605.5 483.2h0M1595.0 494.4h0M1605.0 477.2h0M1606.4 482.5h0M1592.2 476.2h0M1595.2 473.1h0M1583.9 493.8h0M1580.0 500.5h0M1604.7 489.0h0M1583.8 470.0h0M1607.1 471.9h0M1594.5 476.7h0M1592.0 465.8h0M1584.5 481.9h0M1581.8 506.1h0M1594.9 479.8h0M1596.4 501.8h0M1584.7 488.7h0M1594.3 489.6h0M1586.8 506.3h0M1605.9 478.7h0M1596.0 490.0h0M1577.0 495.1h0M1586.4 481.1h0M1583.7 472.8h0M1588.1 471.8h0M1591.5 485.0h0M1582.5 494.4h0M1586.6 482.4h0M1578.1 488.5h0M1585.8 502.5h0M1581.1 483.3h0M1594.1 500.4h0M1597.4 464.9h0M1579.4 504.5h0M1583.3 509.6h0M1595.9 506.4h0M1590.0 469.8h0M1583.3 499.9h0M1582.1 497.2h0M1581.2 471.0h0M1585.9 499.2h0M1588.1 487.8h0M1602.5 469.9h0M1586.1 503.6h0M1588.7 502.5h0M1587.0 490.8h0M1595.5 493.4h0M1592.2 477.7h0M1579.9 464.6h0M1592.0 467.2h0M1595.9 500.2h0M1579.5 489.0h0M1591.8 505.0h0M1596.5 483.7h0M1592.2 472.5h0M1575.2 494.4h0M1576.5 505.1h0M1590.8 491.6h0M1582.2 475.5h0M1577.0 471.3h0M1588.8 491.5h0M1607.9 480.6h0M1589.4 483.0h0M1574.6 499.9h0M1597.7 489.8h0M1599.7 499.0h0M1597.0 495.1h0M1595.3 477.5h0M1587.2 478.8h0M1577.1 499.2h0M1592.8 485.9h0M1586.7 468.9h0M1591.7 481.8h0M1609.4 476.7h0M1604.2 480.6h0M1583.3 465.1h0M1589.4 500.9h0M1594.8 484.4h0M1577.5 485.0h0M1577.9 504.1h0M1582.2 472.3h0M1599.8 483.0h0M1583.9 490.3h0M1584.0 474.1h0M1575.9 503.0h0M1581.4 465.3h0M1588.3 508.0h0M1608.4 473.2h0M1595.9 470.2h0M1597.2 503.5h0M1590.1 502.2h0M1576.6 491.0h0M1588.8 479.6h0M1600.7 494.7h0M1594.3 487.3h0M1582.8 502.3h0M1579.1 467.6h0M1586.8 467.2h0M1567.1 469.8h0M1569.7 483.2h0M1559.0 467.9h0M1562.7 473.5h0M1564.5 478.0h0M1558.2 480.2h0M1556.0 482.8h0M1565.7 481.3h0M1569.7 484.3h0M1568.6 487.6h0M1570.8 491.7h0M1562.7 493.2h0M1564.5 497.3h0M1560.8 479.8h0M1563.8 475.7h0M1566.8 479.4h0M1557.5 481.3h0M1567.9 485.0h0M1563.1 495.4h0M1590.8 527.9h0M1594.1 514.1h0M1586.4 518.0h0M1582.5 515.4h0M1580.6 533.4h0M1593.2 524.3h0M1584.2 535.2h0M1580.2 512.6h0M1578.2 532.6h0M1596.4 513.2h0M1575.0 525.9h0M1576.1 542.6h0M1576.1 511.4h0M1584.8 523.1h0M1587.8 517.0h0M1579.8 525.9h0M1582.4 531.3h0M1585.5 520.0h0M1576.9 520.5h0M1587.7 529.0h0M1578.6 530.4h0M1581.8 525.9h0M1572.5 539.4h0M1590.0 518.4h0M1587.5 522.0h0M1579.6 535.3h0M1588.6 520.3h0M1586.8 534.1h0M1584.7 530.9h0M1580.3 539.3h0M1572.9 536.3h0M1593.8 517.1h0M1582.0 516.6h0M1578.2 526.7h0M1582.1 520.8h0M1587.0 535.7h0M1597.6 514.4h0M1575.6 513.4h0M1575.3 537.4h0M1574.0 535.5h0M1580.5 537.8h0M1590.5 532.6h0M1579.0 517.5h0M1584.4 537.2h0M1580.8 517.2h0M1582.1 519.0h0M1579.2 538.9h0M1589.2 525.5h0M1581.8 513.1h0M1589.2 534.6h0M1579.3 524.3h0M1575.1 540.9h0M1594.6 516.2h0M1592.4 525.1h0M1577.5 521.8h0M1582.9 528.9h0M1589.1 521.5h0M1585.8 529.1h0M1586.5 523.6h0M1578.3 519.8h0M1585.1 524.3h0M1577.1 510.6h0M1561.2 542.1h0M1563.4 542.5h0M1565.7 542.5h0M1567.9 543.3h0M1570.1 543.6h0" stroke="#d5d5d5" stroke-width="4.00" stroke-linecap="round" fill="none"/>
<path d="M1429.5 506.6h0M1429.4 505.0h0M1429.7 500.2h0M1439.2 525.7h0M1426.0 511.2h0M1434.2 504.6h0M1426.0 519.9h0M1431.3 504.7h0M1426.7 496.2h0M1432.8 501.9h0M1431.2 523.4h0M1428.0 522.1h0M1424.4 496.4h0M1434.0 524.2h0M1432.5 512.8h0M1423.8 516.5h0M1432.8 516.4h0M1422.4 507.1h0M1429.1 498.0h0M1423.4 515.3h0M1425.5 527.3h0M1435.7 501.4h0M1426.2 502.9h0M1428.3 499.2h0M1428.8 509.2h0M1430.6 503.0h0M1435.4 498.0h0M1432.9 519.8h0M1433.1 504.7h0M1432.8 528.5h0M1435.3 507.7h0M1430.7 509.5h0M1423.3 496.3h0M1432.5 527.5h0M1431.4 497.9h0M1421.5 512.4h0M1422.2 523.6h0M1433.4 497.3h0M1427.7 506.0h0M1429.8 511.5h0M1428.1 517.2h0M1433.0 506.6h0M1433.7 512.6h0M1427.5 515.9h0M1427.0 499.2h0M1431.7 500.9h0M1428.0 502.3h0M1420.3 515.2h0M1419.5 511.0h0M1424.7 505.3h0M1435.0 502.5h0M1433.9 501.7h0M1421.5 483.4h0M1419.4 489.2h0M1424.7 488.7h0M1423.6 493.3h0M1416.4 494.8h0M1417.6 496.1h0M1419.1 497.8h0M1441.1 482.6h0M1439.9 484.3h0M1439.0 486.2h0M1434.8 487.7h0M1435.1 489.5h0M1434.0 492.1h0M1434.3 494.3h0M1425.4 544.4h0M1422.4 548.8h0M1420.2 553.6h0M1454.0 545.9h0M1453.2 553.3h0M1438.0 539.9h0M1432.8 534.7h0M1423.4 544.2h0M1441.5 529.7h0M1418.2 551.5h0M1429.6 533.3h0" stroke="#e377c2" stroke-width="4.00" stroke-linecap="round" fill="none"/>
<path d="M1384.2 401.5h0M1384.4 403.0h0M1436.9 546.6h0M1441.0 552.4h0M1440.7 550.7h0M1428.4 556.6h0M1436.2 558.5h0M1433.2 557.8h0M1424.9 550.4h0M1427.3 554.4h0M1429.4 538.3h0M1432.1 559.9h0M1436.2 545.6h0M1431.4 551.1h0M1429.5 544.5h0M1426.9 548.8h0M1426.6 550.9h0M1432.7 562.4h0M1435.2 552.8h0M1428.9 542.3h0M1437.6 549.1h0M1435.2 544.4h0M1433.3 546.0h0M1431.7 544.9h0M1426.2 541.0h0M1431.0 547.2h0M1433.7 543.0h0M1437.3 550.3h0M1441.8 551.3h0M1429.8 539.9h0M1434.5 559.6h0M1428.3 548.7h0M1434.7 555.5h0M1428.2 536.8h0M1439.3 546.5h0M1433.0 551.4h0M1433.4 553.5h0M1437.0 556.6h0M1411.9 526.9h0M1415.0 529.9h0M1418.0 534.0h0M1421.0 536.2h0M1428.8 541.6h0M1435.9 544.1h0M1416.8 528.0h0M1433.0 554.7h0M1430.7 549.7h0M1428.5 545.3h0M1439.0 551.1h0M1414.1 534.4h0M1422.5 533.2h0M1415.1 528.5h0" stroke="#ffbb78" stroke-width="4.00" stroke-linecap="round" fill="none"/>
<path d="M1396.1 515.1h0M1409.7 529.3h0M1409.7 532.9h0M1420.5 524.3h0M1419.8 535.5h0M1406.1 539.5h0M1409.7 540.9h0M1413.2 542.7h0M1408.0 539.9h0M1429.1 568.5h0M1424.4 567.8h0M1429.1 569.8h0M1425.9 565.6h0M1419.8 565.5h0M1429.2 567.0h0M1427.1 569.4h0M1429.5 572.0h0M1421.0 567.2h0M1421.1 566.1h0M1428.9 576.2h0M1430.5 567.6h0M1428.8 580.4h0M1421.8 569.1h0M1426.5 571.9h0M1425.1 566.8h0M1424.0 563.8h0M1425.1 564.0h0M1422.9 572.9h0M1431.3 569.5h0M1421.6 563.0h0M1427.8 576.5h0M1425.7 574.1h0M1423.6 568.8h0M1423.4 570.3h0M1448.8 556.9h0M1443.2 535.0h0M1449.8 544.8h0M1446.8 546.9h0M1445.5 550.3h0M1446.7 542.5h0M1445.2 547.7h0M1454.2 555.8h0M1437.7 535.3h0M1436.5 538.7h0M1445.7 552.8h0M1446.7 534.9h0M1443.0 538.2h0M1449.5 554.7h0M1444.8 539.0h0M1444.7 543.0h0M1450.4 550.9h0M1452.4 545.3h0M1444.2 545.9h0M1440.7 535.7h0M1446.5 540.7h0M1435.2 537.0h0M1455.2 552.9h0M1448.2 539.0h0M1436.6 570.2h0M1444.7 574.2h0M1441.6 577.8h0M1451.5 577.9h0M1455.2 571.5h0M1446.7 575.9h0M1442.1 568.5h0M1452.4 574.1h0M1457.0 571.8h0M1440.7 574.4h0M1448.1 567.6h0M1442.8 578.6h0M1450.8 567.0h0M1456.7 573.5h0M1443.3 577.1h0M1455.0 574.7h0M1451.9 573.0h0M1445.6 569.1h0M1437.0 574.1h0M1444.8 571.6h0M1448.0 572.0h0M1454.1 572.4h0M1455.2 572.8h0M1446.4 573.4h0M1448.8 573.7h0M1446.9 571.0h0M1451.5 579.3h0M1446.5 577.8h0M1451.0 568.8h0M1438.9 569.4h0M1451.5 566.1h0M1438.9 570.6h0M1451.9 575.3h0M1453.2 566.6h0M1443.3 567.7h0M1450.7 577.0h0M1455.1 567.2h0M1452.3 576.4h0M1442.9 573.6h0M1451.5 571.4h0M1453.4 576.0h0M1447.0 568.7h0M1448.9 578.5h0M1449.1 572.4h0M1440.3 570.8h0M1449.4 569.8h0M1450.6 572.5h0M1439.1 573.6h0M1453.8 569.1h0M1455.7 575.8h0M1439.6 597.4h0M1443.8 592.2h0M1442.1 597.7h0M1434.8 600.7h0M1444.6 595.5h0M1440.9 599.1h0M1439.0 587.7h0M1443.9 590.4h0M1445.8 590.6h0M1442.4 593.0h0M1445.0 598.0h0M1446.3 591.6h0M1447.6 588.2h0M1445.5 588.3h0M1438.6 592.3h0M1436.9 590.9h0M1448.7 588.8h0M1439.0 593.3h0M1435.6 590.0h0M1440.1 592.3h0M1437.1 602.0h0M1441.0 600.7h0M1445.7 593.9h0M1439.6 602.2h0M1442.2 590.5h0M1438.1 589.7h0M1443.8 598.0h0M1442.2 594.8h0M1440.2 595.8h0M1438.2 600.8h0M1436.3 597.6h0M1445.8 581.0h0M1430.2 583.2h0M1454.5 566.2h0M1451.5 557.6h0M1410.6 533.2h0M1444.2 543.6h0M1433.9 600.9h0M1433.3 595.3h0M1449.8 542.8h0M1415.1 542.2h0M1435.5 589.2h0M1446.3 587.9h0M1427.2 576.4h0M1424.0 573.2h0M1444.9 531.9h0M1440.6 591.5h0M1449.0 568.8h0M1418.9 537.0h0M1437.1 599.4h0M1457.0 560.8h0M1446.6 569.9h0M1431.9 583.0h0M1449.0 566.5h0" stroke="#d62728" stroke-width="4.00" stroke-linecap="round" fill="none"/>
<path d="M1409.7 549.6h0M1402.4 552.5h0M1406.1 558.1h0M1408.9 558.1h0M1407.2 562.2h0M1419.1 557.4h0M1423.6 557.7h0M1424.3 558.8h0M1421.6 541.6h0M1419.1 546.2h0M1435.0 581.0h0M1417.6 599.0h0M1424.8 596.5h0M1423.7 589.9h0M1404.8 589.6h0M1405.6 591.9h0M1426.6 581.8h0M1419.3 596.1h0M1417.7 584.7h0M1421.5 581.2h0M1419.7 577.3h0M1409.0 597.1h0M1418.7 571.3h0M1420.1 583.1h0M1413.8 587.4h0M1423.0 592.9h0M1412.9 576.4h0M1419.4 592.7h0M1424.2 593.3h0M1416.7 587.9h0M1418.7 591.7h0M1426.7 584.9h0M1418.9 589.0h0M1417.9 577.0h0M1424.5 582.6h0M1418.1 594.2h0M1416.5 571.7h0M1418.6 572.6h0M1421.3 598.6h0M1421.8 576.9h0M1414.2 585.5h0M1416.3 589.0h0M1423.8 584.4h0M1416.2 585.2h0M1414.7 591.8h0M1409.9 591.1h0M1416.8 574.9h0M1425.8 585.5h0M1420.2 588.3h0M1421.7 599.7h0M1408.3 596.1h0M1418.0 573.7h0M1417.7 590.1h0M1412.4 585.7h0M1421.1 578.1h0M1406.4 591.1h0M1415.5 573.9h0M1419.0 581.6h0M1415.3 576.3h0M1420.6 586.9h0M1414.9 589.8h0M1415.6 598.4h0M1410.3 579.9h0M1425.1 579.1h0M1425.7 595.1h0M1426.4 587.3h0M1418.6 582.7h0M1407.6 587.3h0M1418.8 600.3h0M1415.8 592.3h0M1421.9 589.2h0M1420.5 592.5h0M1410.9 594.9h0M1422.7 579.2h0M1421.6 586.4h0M1406.9 595.5h0M1416.6 597.0h0M1414.1 594.7h0M1413.6 590.8h0M1412.8 591.8h0M1424.9 588.3h0M1422.5 584.7h0M1416.5 593.7h0M1412.2 588.5h0M1422.5 581.9h0M1418.7 577.8h0M1420.7 591.1h0M1428.2 582.1h0M1408.5 594.2h0M1404.8 603.7h0M1407.2 604.5h0M1410.9 605.2h0M1414.7 603.7h0M1418.4 604.5h0M1408.6 609.7h0M1425.4 604.5h0M1429.9 605.0h0M1401.3 600.8h0M1420.5 615.5h0M1417.6 619.6h0M1419.6 619.6h0M1420.0 616.8h0M1423.6 617.3h0M1416.0 617.1h0M1417.5 615.5h0M1429.3 619.4h0M1419.0 603.6h0M1419.2 616.0h0M1427.6 619.2h0M1422.8 623.0h0M1425.6 614.6h0M1425.5 619.1h0M1415.2 621.3h0M1424.5 622.2h0M1421.8 620.6h0M1425.4 613.6h0M1420.6 617.9h0M1426.7 623.9h0M1423.9 620.6h0M1414.4 622.1h0M1417.1 613.1h0M1415.8 603.7h0M1422.3 619.4h0M1425.9 611.1h0M1418.5 620.9h0M1427.4 623.1h0M1412.2 619.5h0M1417.0 621.0h0M1419.0 617.6h0M1429.1 614.2h0M1412.8 615.4h0M1420.5 620.7h0M1418.2 613.8h0M1415.8 619.4h0M1426.8 613.6h0M1419.4 611.0h0M1420.9 624.5h0M1423.2 609.7h0M1425.6 621.3h0M1422.8 614.4h0M1415.7 614.4h0M1428.8 617.2h0M1421.8 612.3h0M1418.3 611.4h0M1424.3 612.1h0M1427.9 611.2h0M1427.6 615.3h0M1427.4 620.6h0M1423.5 627.5h0M1421.3 626.0h0M1425.0 625.6h0M1419.1 623.8h0M1423.4 602.0h0M1427.9 617.2h0M1420.9 626.5h0M1411.4 614.6h0M1422.0 587.5h0M1419.4 588.6h0M1401.5 601.1h0M1420.3 543.0h0M1420.1 584.5h0M1421.0 609.7h0M1414.3 591.2h0M1409.7 593.5h0M1437.1 581.7h0" stroke="#ff7f0e" stroke-width="4.00" stroke-linecap="round" fill="none"/>
<path d="M1569.7 467.2h0M1572.0 467.6h0M1573.4 468.7h0" stroke="#e377c2" stroke-width="4.00" stroke-linecap="round" fill="none"/>
<path d="M1698.3 417.0h0M1696.0 399.2h0M1700.4 401.4h0M1695.7 386.0h0M1706.1 435.1h0M1705.7 394.4h0M1697.2 398.1h0M1699.2 413.2h0M1705.3 411.3h0M1706.4 404.3h0M1707.1 398.4h0M1707.9 397.6h0M1710.2 429.5h0M1706.8 422.9h0M1717.8 412.7h0M1703.5 419.5h0M1711.9 406.2h0M1705.7 418.0h0M1698.3 403.1h0M1701.4 402.6h0M1702.3 404.0h0M1699.1 393.8h0M1708.9 413.6h0M1709.9 415.2h0M1695.5 384.7h0M1698.6 399.8h0M1706.0 401.5h0M1713.0 389.2h0M1704.5 401.1h0M1704.4 395.6h0M1698.6 382.2h0M1710.3 389.1h0M1705.1 390.2h0M1710.4 424.2h0M1700.6 426.0h0M1701.3 410.0h0M1700.5 393.5h0M1700.0 415.6h0M1720.2 407.5h0M1708.7 390.8h0M1704.0 425.4h0M1706.1 403.2h0M1714.3 400.4h0M1714.1 410.2h0M1707.3 429.3h0M1700.2 394.9h0M1701.1 413.5h0M1706.8 388.2h0M1704.7 406.4h0M1709.4 410.4h0M1708.5 421.2h0M1703.8 409.7h0M1701.4 396.3h0M1709.6 412.1h0M1709.5 409.4h0M1707.8 410.5h0M1702.4 405.9h0M1707.2 409.5h0M1699.7 398.6h0M1701.9 383.1h0M1702.1 388.1h0M1699.6 390.7h0M1711.0 395.6h0M1707.0 392.2h0M1697.0 389.9h0M1711.0 391.5h0M1707.2 408.4h0M1706.0 409.0h0M1715.9 416.2h0M1698.7 385.6h0M1708.6 408.8h0M1707.8 402.9h0M1712.1 410.3h0M1714.4 420.7h0M1705.9 399.0h0M1698.2 421.1h0M1713.4 421.6h0M1720.0 411.9h0M1713.4 418.7h0M1695.9 395.7h0M1700.0 422.0h0M1709.2 402.2h0M1701.6 422.2h0M1701.0 418.0h0M1708.2 406.8h0M1702.0 392.6h0M1719.5 409.2h0M1712.2 401.0h0M1707.8 422.7h0M1702.9 421.9h0M1711.2 402.8h0M1698.6 392.5h0M1709.3 393.1h0M1696.4 394.2h0M1700.4 396.0h0M1706.2 405.7h0M1712.5 405.1h0M1714.0 423.4h0M1703.1 388.0h0M1713.7 419.7h0M1705.8 393.3h0M1708.6 394.0h0M1706.8 395.2h0M1698.6 411.4h0M1699.8 425.2h0M1703.4 426.4h0M1700.5 423.1h0M1700.6 404.1h0M1716.1 411.1h0M1701.8 420.7h0M1701.5 404.8h0M1712.8 399.1h0M1723.0 409.3h0M1721.1 411.9h0M1719.3 407.1h0M1723.7 413.4h0M1705.9 434.6h0M1707.4 431.6h0M1704.4 432.3h0M1709.3 429.7h0M1713.3 381.3h0M1783.1 400.4h0M1783.8 399.9h0M1758.2 424.1h0M1715.6 388.5h0M1744.3 400.5h0M1733.9 420.3h0M1743.1 411.3h0M1741.5 418.0h0M1743.7 423.0h0M1742.2 401.7h0M1740.5 409.1h0M1743.6 404.0h0M1740.7 407.8h0M1738.9 422.2h0M1745.4 425.0h0M1735.0 421.0h0M1741.0 416.4h0M1742.0 404.2h0M1737.5 414.3h0M1736.0 414.8h0M1741.8 424.9h0M1745.1 402.9h0M1744.4 404.7h0M1737.6 423.0h0M1743.3 424.5h0M1741.1 414.3h0M1741.6 407.2h0M1737.9 415.3h0M1738.0 417.5h0M1744.0 421.1h0M1714.6 432.8h0M1726.4 424.7h0M1721.6 423.8h0M1723.8 421.9h0M1732.3 434.1h0M1721.9 422.6h0M1731.0 444.1h0M1717.4 444.2h0M1717.1 433.9h0M1720.9 422.0h0M1735.2 435.5h0M1728.0 430.2h0M1725.3 420.9h0M1716.0 438.8h0M1726.9 422.7h0M1723.3 424.1h0M1716.5 422.1h0M1721.1 418.7h0M1721.2 425.9h0M1722.4 420.0h0M1728.4 431.8h0M1716.3 419.1h0M1724.3 438.4h0M1731.4 432.5h0M1724.6 423.4h0M1731.5 440.2h0M1717.1 438.4h0M1724.4 424.6h0M1734.2 440.3h0M1718.4 424.1h0M1719.5 421.8h0M1728.3 423.7h0M1730.0 441.6h0M1722.4 421.4h0M1733.6 446.7h0M1728.1 444.5h0M1717.8 420.4h0M1717.7 440.9h0M1734.5 437.6h0M1719.6 440.5h0M1725.8 426.9h0M1730.0 433.6h0M1730.0 443.2h0M1719.8 430.4h0M1725.0 442.1h0M1728.4 428.7h0M1732.2 436.3h0M1716.6 427.9h0M1725.6 422.4h0M1722.0 436.2h0M1735.4 442.8h0M1722.7 427.5h0M1712.2 431.0h0M1730.4 438.0h0M1721.8 432.2h0M1721.4 439.5h0M1720.8 433.4h0M1732.5 448.3h0M1712.3 436.2h0M1733.9 434.4h0M1719.7 425.9h0M1731.3 448.3h0M1726.0 411.4h0M1751.9 415.1h0M1739.2 453.1h0M1723.7 401.5h0M1723.9 403.0h0M1711.4 464.5h0M1715.1 477.9h0M1709.5 448.4h0M1713.4 477.4h0M1711.3 470.0h0M1711.3 466.4h0M1718.0 486.0h0M1708.0 452.7h0M1708.9 443.5h0M1707.3 455.9h0M1708.6 451.3h0M1709.9 447.0h0M1713.5 474.0h0M1710.6 461.9h0M1717.4 479.8h0M1714.5 479.9h0M1711.7 438.3h0M1709.9 445.3h0M1714.5 476.7h0M1708.0 444.7h0M1716.5 482.4h0M1712.2 472.9h0M1711.5 441.0h0M1716.0 479.8h0M1707.7 459.8h0M1710.3 468.9h0M1717.9 484.3h0M1709.5 462.8h0M1710.2 440.2h0M1709.5 459.8h0M1709.5 465.8h0M1706.2 443.5h0M1720.0 483.7h0M1720.0 489.1h0M1713.0 440.9h0M1729.7 509.9h0M1735.6 515.1h0M1769.0 506.6h0M1768.9 505.0h0M1769.2 500.2h0M1778.7 525.7h0M1765.5 511.2h0M1773.7 504.6h0M1765.5 519.9h0M1770.8 504.7h0M1766.2 496.2h0M1772.3 501.9h0M1770.7 523.4h0M1767.5 522.1h0M1763.9 496.4h0M1773.5 524.2h0M1772.0 512.8h0M1763.3 516.5h0M1772.3 516.4h0M1761.9 507.1h0M1768.6 498.0h0M1762.9 515.3h0M1765.0 527.3h0M1775.2 501.4h0M1765.7 502.9h0M1767.8 499.2h0M1768.3 509.2h0M1770.1 503.0h0M1774.9 498.0h0M1772.4 519.8h0M1772.6 504.7h0M1772.3 528.5h0M1774.8 507.7h0M1770.2 509.5h0M1762.8 496.3h0M1772.0 527.5h0M1770.9 497.9h0M1761.0 512.4h0M1761.7 523.6h0M1772.9 497.3h0M1767.2 506.0h0M1769.3 511.5h0M1767.6 517.2h0M1772.5 506.6h0M1773.2 512.6h0M1767.0 515.9h0M1766.5 499.2h0M1771.2 500.9h0M1767.5 502.3h0M1759.8 515.2h0M1759.0 511.0h0M1764.2 505.3h0M1774.5 502.5h0M1773.4 501.7h0M1761.0 483.4h0M1758.9 489.2h0M1764.2 488.7h0M1763.1 493.3h0M1755.9 494.8h0M1757.1 496.1h0M1758.6 497.8h0M1780.6 482.6h0M1779.4 484.3h0M1778.5 486.2h0M1774.3 487.7h0M1774.6 489.5h0M1773.5 492.1h0M1773.8 494.3h0M1764.9 544.4h0M1761.9 548.8h0M1759.7 553.6h0M1793.5 545.9h0M1792.7 553.3h0M1777.5 539.9h0M1772.3 534.7h0M1776.4 546.6h0M1780.5 552.4h0M1780.2 550.7h0M1767.9 556.6h0M1775.7 558.5h0M1772.7 557.8h0M1764.4 550.4h0M1766.8 554.4h0M1768.9 538.3h0M1771.6 559.9h0M1775.7 545.6h0M1770.9 551.1h0M1769.0 544.5h0M1766.4 548.8h0M1766.1 550.9h0M1772.2 562.4h0M1774.7 552.8h0M1768.4 542.3h0M1777.1 549.1h0M1774.7 544.4h0M1772.8 546.0h0M1771.2 544.9h0M1765.7 541.0h0M1770.5 547.2h0M1773.2 543.0h0M1776.8 550.3h0M1781.3 551.3h0M1769.3 539.9h0M1774.0 559.6h0M1767.8 548.7h0M1774.2 555.5h0M1767.7 536.8h0M1778.8 546.5h0M1772.5 551.4h0M1772.9 553.5h0M1776.5 556.6h0M1751.4 526.9h0M1754.5 529.9h0M1757.5 534.0h0M1760.5 536.2h0M1749.2 529.3h0M1749.2 532.9h0M1760.0 524.3h0M1759.3 535.5h0M1745.6 539.5h0M1749.2 540.9h0M1752.7 542.7h0M1747.5 539.9h0M1768.6 568.5h0M1763.9 567.8h0M1768.6 569.8h0M1765.4 565.6h0M1759.3 565.5h0M1768.7 567.0h0M1766.6 569.4h0M1769.0 572.0h0M1760.5 567.2h0M1760.6 566.1h0M1768.4 576.2h0M1770.0 567.6h0M1768.3 580.4h0M1761.3 569.1h0M1766.0 571.9h0M1764.6 566.8h0M1763.5 563.8h0M1764.6 564.0h0M1762.4 572.9h0M1770.8 569.5h0M1761.1 563.0h0M1767.3 576.5h0M1765.2 574.1h0M1763.1 568.8h0M1762.9 570.3h0M1788.3 556.9h0M1782.7 535.0h0M1789.3 544.8h0M1786.3 546.9h0M1785.0 550.3h0M1786.2 542.5h0M1784.7 547.7h0M1793.7 555.8h0M1777.2 535.3h0M1776.0 538.7h0M1785.2 552.8h0M1786.2 534.9h0M1782.5 538.2h0M1789.0 554.7h0M1784.3 539.0h0M1784.2 543.0h0M1789.9 550.9h0M1791.9 545.3h0M1783.7 545.9h0M1780.2 535.7h0M1786.0 540.7h0M1774.7 537.0h0M1794.7 552.9h0M1787.7 539.0h0M1776.1 570.2h0M1784.2 574.2h0M1781.1 577.8h0M1791.0 577.9h0M1794.7 571.5h0M1786.2 575.9h0M1781.6 568.5h0M1791.9 574.1h0M1796.5 571.8h0M1780.2 574.4h0M1787.6 567.6h0M1782.3 578.6h0M1790.3 567.0h0M1796.2 573.5h0M1782.8 577.1h0M1794.5 574.7h0M1791.4 573.0h0M1785.1 569.1h0M1776.5 574.1h0M1784.3 571.6h0M1787.5 572.0h0M1793.6 572.4h0M1794.7 572.8h0M1785.9 573.4h0M1788.3 573.7h0M1786.4 571.0h0M1791.0 579.3h0M1786.0 577.8h0M1790.5 568.8h0M1778.4 569.4h0M1791.0 566.1h0M1778.4 570.6h0M1791.4 575.3h0M1792.7 566.6h0M1782.8 567.7h0M1790.2 577.0h0M1794.6 567.2h0M1791.8 576.4h0M1782.4 573.6h0M1791.0 571.4h0M1792.9 576.0h0M1786.5 568.7h0M1788.4 578.5h0M1788.6 572.4h0M1779.8 570.8h0M1788.9 569.8h0M1790.1 572.5h0M1778.6 573.6h0M1793.3 569.1h0M1795.2 575.8h0M1779.1 597.4h0M1783.3 592.2h0M1781.6 597.7h0M1774.3 600.7h0M1784.1 595.5h0M1780.4 599.1h0M1778.5 587.7h0M1783.4 590.4h0M1785.3 590.6h0M1781.9 593.0h0M1784.5 598.0h0M1785.8 591.6h0M1787.1 588.2h0M1785.0 588.3h0M1778.1 592.3h0M1776.4 590.9h0M1788.2 588.8h0M1778.5 593.3h0M1775.1 590.0h0M1779.6 592.3h0M1776.6 602.0h0M1780.5 600.7h0M1785.2 593.9h0M1779.1 602.2h0M1781.7 590.5h0M1777.6 589.7h0M1783.3 598.0h0M1781.7 594.8h0M1779.7 595.8h0M1777.7 600.8h0M1775.8 597.6h0M1785.3 581.0h0M1769.7 583.2h0M1749.2 549.6h0M1741.9 552.5h0M1745.6 558.1h0M1748.4 558.1h0M1746.7 562.2h0M1758.6 557.4h0M1763.1 557.7h0M1763.8 558.8h0M1761.1 541.6h0M1758.6 546.2h0M1774.5 581.0h0M1757.1 599.0h0M1764.3 596.5h0M1763.2 589.9h0M1744.3 589.6h0M1745.1 591.9h0M1766.1 581.8h0M1758.8 596.1h0M1757.2 584.7h0M1761.0 581.2h0M1759.2 577.3h0M1748.5 597.1h0M1758.2 571.3h0M1759.6 583.1h0M1753.3 587.4h0M1762.5 592.9h0M1752.4 576.4h0M1758.9 592.7h0M1763.7 593.3h0M1756.2 587.9h0M1758.2 591.7h0M1766.2 584.9h0M1758.4 589.0h0M1757.4 577.0h0M1764.0 582.6h0M1757.6 594.2h0M1756.0 571.7h0M1758.1 572.6h0M1760.8 598.6h0M1761.3 576.9h0M1753.7 585.5h0M1755.8 589.0h0M1763.3 584.4h0M1755.7 585.2h0M1754.2 591.8h0M1749.4 591.1h0M1756.3 574.9h0M1765.3 585.5h0M1759.7 588.3h0M1761.2 599.7h0M1747.8 596.1h0M1757.5 573.7h0M1757.2 590.1h0M1751.9 585.7h0M1760.6 578.1h0M1745.9 591.1h0M1755.0 573.9h0M1758.5 581.6h0M1754.8 576.3h0M1760.1 586.9h0M1754.4 589.8h0M1755.1 598.4h0M1749.8 579.9h0M1764.6 579.1h0M1765.2 595.1h0M1765.9 587.3h0M1758.1 582.7h0M1747.1 587.3h0M1758.3 600.3h0M1755.3 592.3h0M1761.4 589.2h0M1760.0 592.5h0M1750.4 594.9h0M1762.2 579.2h0M1761.1 586.4h0M1746.4 595.5h0M1756.1 597.0h0M1753.6 594.7h0M1753.1 590.8h0M1752.3 591.8h0M1764.4 588.3h0M1762.0 584.7h0M1756.0 593.7h0M1751.7 588.5h0M1762.0 581.9h0M1758.2 577.8h0M1760.2 591.1h0M1767.7 582.1h0M1748.0 594.2h0M1744.3 603.7h0M1746.7 604.5h0M1750.4 605.2h0M1754.2 603.7h0M1757.9 604.5h0M1748.1 609.7h0M1764.9 604.5h0M1769.4 605.0h0M1740.8 600.8h0M1760.0 615.5h0M1757.1 619.6h0M1759.1 619.6h0M1759.5 616.8h0M1763.1 617.3h0M1755.5 617.1h0M1757.0 615.5h0M1768.8 619.4h0M1758.5 603.6h0M1758.7 616.0h0M1767.1 619.2h0M1762.3 623.0h0M1765.1 614.6h0M1765.0 619.1h0M1754.7 621.3h0M1764.0 622.2h0M1761.3 620.6h0M1764.9 613.6h0M1760.1 617.9h0M1766.2 623.9h0M1763.4 620.6h0M1753.9 622.1h0M1756.6 613.1h0M1755.3 603.7h0M1761.8 619.4h0M1765.4 611.1h0M1758.0 620.9h0M1766.9 623.1h0M1751.7 619.5h0M1756.5 621.0h0M1758.5 617.6h0M1768.6 614.2h0M1752.3 615.4h0M1760.0 620.7h0M1757.7 613.8h0M1755.3 619.4h0M1766.3 613.6h0M1758.9 611.0h0M1760.4 624.5h0M1762.7 609.7h0M1765.1 621.3h0M1762.3 614.4h0M1755.2 614.4h0M1768.3 617.2h0M1761.3 612.3h0M1757.8 611.4h0M1763.8 612.1h0M1767.4 611.2h0M1767.1 615.3h0M1766.9 620.6h0M1763.0 627.5h0M1760.8 626.0h0M1764.5 625.6h0M1758.6 623.8h0M1695.4 383.5h0M1697.0 383.0h0M1947.8 472.0h0M1947.1 477.6h0M1914.4 460.9h0M1936.7 461.3h0M1762.9 602.0h0M1767.4 617.2h0M1794.0 566.2h0M1791.0 557.6h0M1768.3 541.6h0M1750.1 533.2h0M1760.4 626.5h0M1775.4 544.1h0M1783.7 543.6h0M1750.9 614.6h0M1761.5 587.5h0M1756.3 528.0h0M1772.5 554.7h0M1773.4 600.9h0M1772.8 595.3h0M1789.3 542.8h0M1754.6 542.2h0M1770.2 549.7h0M1758.9 588.6h0M1775.0 589.2h0M1785.8 587.9h0M1741.0 601.1h0M1766.7 576.4h0M1763.5 573.2h0M1768.0 545.3h0M1759.8 543.0h0M1759.6 584.5h0M1784.4 531.9h0M1762.9 544.2h0M1780.1 591.5h0M1760.5 609.7h0M1788.5 568.8h0M1781.0 529.7h0M1757.7 551.5h0M1769.1 533.3h0M1778.5 551.1h0M1758.4 537.0h0M1776.6 599.4h0M1753.6 534.4h0M1762.0 533.2h0M1796.5 560.8h0M1754.6 528.5h0M1753.8 591.2h0M1749.2 593.5h0M1786.1 569.9h0M1776.6 581.7h0M1771.4 583.0h0M1788.5 566.5h0M1755.5 557.7h0M1945.6 492.0h0M1927.2 510.8h0M1946.8 489.8h0M1934.5 496.6h0M1927.9 495.8h0M1939.8 481.5h0M1924.2 479.7h0M1924.2 500.6h0M1935.3 467.7h0M1930.7 474.1h0M1917.8 500.8h0M1946.5 491.2h0M1916.1 474.2h0M1937.3 478.2h0M1921.9 499.1h0M1915.9 486.2h0M1920.3 495.0h0M1926.2 509.6h0M1944.9 481.1h0M1930.1 465.6h0M1917.7 496.4h0M1941.9 485.8h0M1917.2 494.0h0M1921.6 503.8h0M1926.5 487.5h0M1930.0 498.5h0M1925.2 510.3h0M1934.7 498.9h0M1941.9 472.8h0M1920.6 508.8h0M1932.4 506.0h0M1938.0 499.9h0M1929.7 504.2h0M1933.2 481.3h0M1937.2 496.4h0M1922.3 479.2h0M1941.0 491.4h0M1937.1 479.9h0M1925.9 511.2h0M1925.8 492.2h0M1920.0 486.9h0M1937.5 472.7h0M1932.5 482.4h0M1922.3 507.4h0M1924.4 512.1h0M1938.6 462.7h0M1922.4 467.2h0M1918.3 498.9h0M1925.8 508.5h0M1917.6 467.7h0M1916.2 476.3h0M1918.3 486.6h0M1927.8 488.9h0M1939.5 491.0h0M1940.8 472.3h0M1921.3 464.1h0M1926.9 477.5h0M1929.3 486.7h0M1935.1 469.0h0M1937.6 491.8h0M1924.6 477.5h0M1931.6 510.5h0M1918.1 475.8h0M1938.1 473.7h0M1928.1 484.1h0M1924.9 464.7h0M1939.3 487.1h0M1925.6 476.5h0M1932.0 497.9h0M1942.4 495.8h0M1924.9 473.7h0M1920.6 481.0h0M1928.5 467.6h0M1919.5 495.8h0M1942.8 475.1h0M1943.0 485.0h0M1913.9 498.3h0M1917.5 478.0h0M1938.5 479.2h0M1944.9 494.0h0M1940.6 474.1h0M1920.3 498.2h0M1938.7 489.6h0M1933.6 469.8h0M1930.5 477.6h0M1931.5 491.3h0M1922.7 486.7h0M1923.1 485.1h0M1938.8 501.9h0M1921.6 509.9h0M1926.4 475.0h0M1939.9 470.7h0M1940.8 499.3h0M1921.1 502.1h0M1937.8 493.9h0M1920.9 477.5h0M1926.2 473.9h0M1945.0 483.2h0M1934.5 494.4h0M1944.5 477.2h0M1945.9 482.5h0M1931.7 476.2h0M1934.7 473.1h0M1923.4 493.8h0M1919.5 500.5h0M1944.2 489.0h0M1923.3 470.0h0M1946.6 471.9h0M1934.0 476.7h0M1931.5 465.8h0M1924.0 481.9h0M1921.3 506.1h0M1934.4 479.8h0M1935.9 501.8h0M1924.2 488.7h0M1933.8 489.6h0M1926.3 506.3h0M1945.4 478.7h0M1935.5 490.0h0M1916.5 495.1h0M1925.9 481.1h0M1923.2 472.8h0M1927.6 471.8h0M1931.0 485.0h0M1922.0 494.4h0M1926.1 482.4h0M1917.6 488.5h0M1925.3 502.5h0M1920.6 483.3h0M1933.6 500.4h0M1936.9 464.9h0M1918.9 504.5h0M1922.8 509.6h0M1935.4 506.4h0M1929.5 469.8h0M1922.8 499.9h0M1921.6 497.2h0M1920.7 471.0h0M1925.4 499.2h0M1927.6 487.8h0M1942.0 469.9h0M1925.6 503.6h0M1928.2 502.5h0M1926.5 490.8h0M1935.0 493.4h0M1931.7 477.7h0M1919.4 464.6h0M1931.5 467.2h0M1935.4 500.2h0M1919.0 489.0h0M1931.3 505.0h0M1936.0 483.7h0M1931.7 472.5h0M1914.7 494.4h0M1916.0 505.1h0M1930.3 491.6h0M1921.7 475.5h0M1916.5 471.3h0M1928.3 491.5h0M1947.4 480.6h0M1928.9 483.0h0M1914.1 499.9h0M1937.2 489.8h0M1939.2 499.0h0M1936.5 495.1h0M1934.8 477.5h0M1926.7 478.8h0M1916.6 499.2h0M1932.3 485.9h0M1926.2 468.9h0M1931.2 481.8h0M1948.9 476.7h0M1943.7 480.6h0M1922.8 465.1h0M1928.9 500.9h0M1934.3 484.4h0M1917.0 485.0h0M1917.4 504.1h0M1921.7 472.3h0M1939.3 483.0h0M1923.4 490.3h0M1923.5 474.1h0M1915.4 503.0h0M1920.9 465.3h0M1927.8 508.0h0M1947.9 473.2h0M1935.4 470.2h0M1936.7 503.5h0M1929.6 502.2h0M1916.1 491.0h0M1928.3 479.6h0M1940.2 494.7h0M1933.8 487.3h0M1922.3 502.3h0M1918.6 467.6h0M1926.3 467.2h0M1906.6 469.8h0M1909.2 483.2h0M1909.2 467.2h0M1911.5 467.6h0M1912.9 468.7h0M1898.5 467.9h0M1902.2 473.5h0M1904.0 478.0h0M1897.7 480.2h0M1895.5 482.8h0M1905.2 481.3h0M1909.2 484.3h0M1908.1 487.6h0M1910.3 491.7h0M1902.2 493.2h0M1904.0 497.3h0M1900.3 479.8h0M1903.3 475.7h0M1906.3 479.4h0M1897.0 481.3h0M1907.4 485.0h0M1902.6 495.4h0M1930.3 527.9h0M1933.6 514.1h0M1925.9 518.0h0M1922.0 515.4h0M1920.1 533.4h0M1932.7 524.3h0M1923.7 535.2h0M1919.7 512.6h0M1917.7 532.6h0M1935.9 513.2h0M1914.5 525.9h0M1915.6 542.6h0M1915.6 511.4h0M1924.3 523.1h0M1927.3 517.0h0M1919.3 525.9h0M1921.9 531.3h0M1925.0 520.0h0M1916.4 520.5h0M1927.2 529.0h0M1918.1 530.4h0M1921.3 525.9h0M1912.0 539.4h0M1929.5 518.4h0M1927.0 522.0h0M1919.1 535.3h0M1928.1 520.3h0M1926.3 534.1h0M1924.2 530.9h0M1919.8 539.3h0M1912.4 536.3h0M1933.3 517.1h0M1921.5 516.6h0M1917.7 526.7h0M1921.6 520.8h0M1926.5 535.7h0M1937.1 514.4h0M1915.1 513.4h0M1914.8 537.4h0M1913.5 535.5h0M1920.0 537.8h0M1930.0 532.6h0M1918.5 517.5h0M1923.9 537.2h0M1920.3 517.2h0M1921.6 519.0h0M1918.7 538.9h0M1928.7 525.5h0M1921.3 513.1h0M1928.7 534.6h0M1918.8 524.3h0M1914.6 540.9h0M1934.1 516.2h0M1931.9 525.1h0M1917.0 521.8h0M1922.4 528.9h0M1928.6 521.5h0M1925.3 529.1h0M1926.0 523.6h0M1917.8 519.8h0M1924.6 524.3h0M1916.6 510.6h0M1900.7 542.1h0M1902.9 542.5h0M1905.2 542.5h0M1907.4 543.3h0M1909.6 543.6h0" stroke="#d5d5d5" stroke-width="4.00" stroke-linecap="round" fill="none"/>
<path d="M1734.8 504.1h0M1735.2 510.7h0M1736.1 503.1h0M1727.7 541.3h0M1734.3 531.8h0M1736.3 505.7h0M1729.3 520.0h0M1731.9 528.1h0M1731.6 517.8h0M1737.4 505.1h0M1733.6 499.0h0M1729.4 521.5h0M1732.5 531.1h0M1734.8 499.8h0M1732.2 512.5h0M1732.4 493.0h0M1728.1 491.7h0M1729.7 538.0h0M1735.2 509.2h0M1734.8 511.9h0M1733.6 511.5h0M1730.6 540.2h0M1731.4 519.1h0M1731.8 495.3h0M1734.4 513.7h0M1728.0 538.5h0M1732.2 514.1h0M1736.4 499.1h0M1728.9 489.0h0M1732.7 524.7h0M1729.6 541.6h0M1732.8 536.7h0M1727.3 490.8h0M1735.3 501.6h0M1736.0 497.4h0M1731.6 534.9h0M1730.6 493.4h0M1732.9 526.8h0M1729.6 524.7h0M1734.2 527.6h0M1730.0 491.8h0M1733.6 533.9h0M1731.5 537.2h0M1731.6 525.8h0M1725.6 503.6h0M1744.9 508.0h0M1745.3 509.5h0M1744.5 512.1h0M1744.5 513.6h0M1741.2 528.0h0M1726.7 549.6h0M1728.2 550.7h0M1736.4 521.4h0M1740.8 521.4h0M1745.6 521.4h0M1732.6 521.4h0M1731.9 499.8h0M1738.6 499.8h0M1737.8 503.6h0M1740.8 527.3h0" stroke="#17becf" stroke-width="4.00" stroke-linecap="round" fill="none"/>
<path d="M1749.1 405.9h0M1746.4 553.0h0M1735.1 546.6h0M1740.9 553.2h0M1745.3 553.1h0M1735.3 553.8h0M1731.9 548.8h0M1734.6 549.7h0M1734.1 543.8h0M1743.8 552.8h0M1738.6 541.0h0M1746.4 554.3h0M1737.1 541.3h0M1733.2 549.5h0M1736.6 548.2h0M1735.1 552.6h0M1734.3 587.0h0M1739.2 585.9h0M1734.5 595.6h0M1720.8 581.4h0M1727.0 580.6h0M1741.9 573.0h0M1727.2 593.3h0M1743.3 583.4h0M1726.6 578.6h0M1731.7 587.5h0M1730.5 584.1h0M1737.9 590.3h0M1732.7 580.1h0M1736.4 582.0h0M1730.4 590.6h0M1740.4 562.8h0M1740.5 586.8h0M1731.0 585.4h0M1735.7 579.4h0M1729.2 584.0h0M1739.0 578.6h0M1734.8 588.7h0M1730.9 595.2h0M1736.9 564.6h0M1750.3 565.9h0M1743.4 565.0h0M1739.0 587.7h0M1728.1 565.4h0M1743.2 590.1h0M1732.8 586.4h0M1738.0 580.3h0M1731.3 563.7h0M1734.1 578.0h0M1731.4 573.7h0M1729.7 586.0h0M1737.0 578.9h0M1736.3 586.2h0M1736.0 568.4h0M1748.6 563.0h0M1744.6 563.7h0M1726.9 570.7h0M1727.2 574.2h0M1731.3 578.6h0M1728.2 586.4h0M1741.5 595.0h0M1731.0 580.3h0M1728.1 579.1h0M1740.2 567.2h0M1723.4 575.9h0M1727.9 576.0h0M1732.0 589.2h0M1741.2 565.2h0M1734.6 579.3h0M1734.9 569.7h0M1734.4 590.3h0M1748.6 566.7h0M1728.8 588.5h0M1742.3 588.3h0M1744.2 561.4h0M1741.0 581.4h0M1740.0 591.7h0M1745.0 576.4h0M1733.7 583.3h0M1739.0 577.3h0M1738.5 574.0h0M1734.3 575.7h0M1728.8 572.9h0M1732.0 570.1h0M1725.0 569.4h0M1723.9 589.1h0M1739.3 571.3h0M1742.1 578.4h0M1729.9 587.7h0M1738.6 592.9h0M1735.5 574.9h0M1747.0 564.0h0M1733.2 563.4h0M1727.7 583.2h0M1736.2 590.8h0M1730.3 593.8h0M1737.8 567.8h0M1732.9 561.9h0M1733.5 581.1h0M1736.2 589.6h0M1739.9 589.9h0M1741.6 584.4h0M1743.5 571.4h0M1732.0 559.2h0M1738.9 596.1h0M1751.7 566.9h0M1727.0 564.1h0M1731.2 582.7h0M1733.5 585.2h0M1726.5 575.5h0M1722.8 577.9h0M1741.5 580.2h0M1732.1 560.5h0M1722.3 579.9h0M1742.7 534.4h0M1751.6 557.4h0M1754.9 568.1h0M1743.8 585.8h0M1740.4 597.1h0M1747.0 599.9h0M1720.3 580.6h0" stroke="#279e68" stroke-width="4.00" stroke-linecap="round" fill="none"/>
<defs><linearGradient id="gp" x1="0" y1="0" x2="0" y2="1"><stop offset="0.000" stop-color="#000000"/><stop offset="0.062" stop-color="#400062"/><stop offset="0.125" stop-color="#5a00b4"/><stop offset="0.188" stop-color="#6e02ec"/><stop offset="0.250" stop-color="#8004ff"/><stop offset="0.312" stop-color="#8f08ec"/><stop offset="0.375" stop-color="#9c0db4"/><stop offset="0.438" stop-color="#a91562"/><stop offset="0.500" stop-color="#b42000"/><stop offset="0.562" stop-color="#bf2d00"/><stop offset="0.625" stop-color="#ca3e00"/><stop offset="0.688" stop-color="#d35300"/><stop offset="0.750" stop-color="#dd6c00"/><stop offset="0.812" stop-color="#e68900"/><stop offset="0.875" stop-color="#efab00"/><stop offset="0.938" stop-color="#f7d200"/><stop offset="1.000" stop-color="#ffff00"/></linearGradient></defs>
<rect x="1285.4" y="283.2" width="7" height="83.6" fill="url(#gp)"/>
<rect x="1292.4" y="303.7" width="4" height="1.3" fill="#333"/>
<text x="1300.5" y="310.9" font-size="18.2" fill="#0a0a0a" textLength="33.48" lengthAdjust="spacingAndGlyphs" stroke="#0a0a0a" stroke-width="0.40" stroke-linejoin="round">0.40</text>
<rect x="1292.4" y="336.4" width="4" height="1.3" fill="#333"/>
<text x="1300.5" y="343.6" font-size="18.2" fill="#0a0a0a" textLength="33.48" lengthAdjust="spacingAndGlyphs" stroke="#0a0a0a" stroke-width="0.40" stroke-linejoin="round">0.32</text>
<rect x="1616.4" y="283.5" width="7" height="83.2" fill="url(#gp)"/>
<rect x="1623.4" y="283.4" width="4" height="1.3" fill="#333"/>
<text x="1632.3" y="290.6" font-size="18.2" fill="#0a0a0a" textLength="32.48" lengthAdjust="spacingAndGlyphs" stroke="#0a0a0a" stroke-width="0.40" stroke-linejoin="round">0.40</text>
<rect x="1623.4" y="316.4" width="4" height="1.3" fill="#333"/>
<text x="1632.3" y="323.6" font-size="18.2" fill="#0a0a0a" textLength="32.48" lengthAdjust="spacingAndGlyphs" stroke="#0a0a0a" stroke-width="0.40" stroke-linejoin="round">0.32</text>
<rect x="1623.4" y="348.7" width="4" height="1.3" fill="#333"/>
<text x="1632.3" y="355.9" font-size="18.2" fill="#0a0a0a" textLength="32.48" lengthAdjust="spacingAndGlyphs" stroke="#0a0a0a" stroke-width="0.40" stroke-linejoin="round">0.24</text>
<rect x="1955.0" y="283.2" width="7" height="82.3" fill="url(#gp)"/>
<rect x="1962.0" y="298.4" width="4" height="1.3" fill="#333"/>
<text x="1970.0" y="305.6" font-size="18.2" fill="#0a0a0a" textLength="23.00" lengthAdjust="spacingAndGlyphs" stroke="#0a0a0a" stroke-width="0.40" stroke-linejoin="round">0.4</text>
<rect x="1962.0" y="332.1" width="4" height="1.3" fill="#333"/>
<text x="1970.0" y="339.3" font-size="18.2" fill="#0a0a0a" textLength="23.00" lengthAdjust="spacingAndGlyphs" stroke="#0a0a0a" stroke-width="0.40" stroke-linejoin="round">0.3</text>
<rect x="1962.0" y="364.4" width="4" height="1.3" fill="#333"/>
<text x="1970.0" y="371.6" font-size="18.2" fill="#0a0a0a" textLength="23.00" lengthAdjust="spacingAndGlyphs" stroke="#0a0a0a" stroke-width="0.40" stroke-linejoin="round">0.2</text>
<text x="3.0" y="461.0" font-size="30.6" fill="#000" font-weight="700" textLength="13.63" lengthAdjust="spacingAndGlyphs" stroke="#000" stroke-width="0.90" stroke-linejoin="round">c</text>
<g fill="#aec7e8" fill-opacity="0.8"><circle cx="204.9" cy="744.8" r="5.4"/><circle cx="214.7" cy="780.8" r="5.4"/><circle cx="199.6" cy="701.2" r="5.4"/><circle cx="210.0" cy="779.5" r="5.4"/><circle cx="204.5" cy="759.4" r="5.4"/><circle cx="204.4" cy="749.7" r="5.4"/><circle cx="222.7" cy="802.7" r="5.4"/><circle cx="195.7" cy="712.8" r="5.4"/><circle cx="198.0" cy="688.2" r="5.4"/><circle cx="193.8" cy="721.6" r="5.4"/><circle cx="197.2" cy="709.0" r="5.4"/><circle cx="200.8" cy="697.6" r="5.4"/><circle cx="210.4" cy="770.4" r="5.4"/><circle cx="202.5" cy="737.8" r="5.4"/><circle cx="220.9" cy="785.9" r="5.4"/><circle cx="213.1" cy="786.2" r="5.4"/><circle cx="205.5" cy="674.2" r="5.4"/><circle cx="200.8" cy="692.9" r="5.4"/><circle cx="213.2" cy="777.5" r="5.4"/><circle cx="195.5" cy="691.3" r="5.4"/><circle cx="218.6" cy="793.0" r="5.4"/><circle cx="206.9" cy="767.5" r="5.4"/><circle cx="205.0" cy="681.3" r="5.4"/><circle cx="217.1" cy="785.9" r="5.4"/><circle cx="194.8" cy="731.9" r="5.4"/><circle cx="201.9" cy="756.6" r="5.4"/><circle cx="222.4" cy="798.1" r="5.4"/><circle cx="199.5" cy="740.1" r="5.4"/><circle cx="201.6" cy="679.1" r="5.4"/><circle cx="199.7" cy="732.1" r="5.4"/><circle cx="199.7" cy="748.2" r="5.4"/><circle cx="190.6" cy="688.0" r="5.4"/><circle cx="228.0" cy="796.4" r="5.4"/><circle cx="228.0" cy="811.0" r="5.4"/><circle cx="209.0" cy="681.0" r="5.4"/><circle cx="254.0" cy="867.0" r="5.4"/></g>
<g fill="#aa40fc" fill-opacity="0.8"><circle cx="169.4" cy="616.8" r="5.4"/><circle cx="163.3" cy="568.6" r="5.4"/><circle cx="175.0" cy="574.6" r="5.4"/><circle cx="162.5" cy="533.1" r="5.4"/><circle cx="190.4" cy="665.5" r="5.4"/><circle cx="189.4" cy="555.7" r="5.4"/><circle cx="166.6" cy="565.6" r="5.4"/><circle cx="172.0" cy="606.4" r="5.4"/><circle cx="188.3" cy="601.4" r="5.4"/><circle cx="191.4" cy="582.5" r="5.4"/><circle cx="193.1" cy="566.5" r="5.4"/><circle cx="195.2" cy="564.3" r="5.4"/><circle cx="201.4" cy="650.3" r="5.4"/><circle cx="192.2" cy="632.7" r="5.4"/><circle cx="221.9" cy="605.2" r="5.4"/><circle cx="183.3" cy="623.4" r="5.4"/><circle cx="206.1" cy="587.7" r="5.4"/><circle cx="189.5" cy="619.5" r="5.4"/><circle cx="169.4" cy="579.3" r="5.4"/><circle cx="177.7" cy="577.9" r="5.4"/><circle cx="180.3" cy="581.6" r="5.4"/><circle cx="171.6" cy="554.2" r="5.4"/><circle cx="198.0" cy="607.6" r="5.4"/><circle cx="200.6" cy="611.8" r="5.4"/><circle cx="161.8" cy="529.6" r="5.4"/><circle cx="170.4" cy="570.3" r="5.4"/><circle cx="190.3" cy="575.0" r="5.4"/><circle cx="209.0" cy="541.7" r="5.4"/><circle cx="186.2" cy="573.9" r="5.4"/><circle cx="185.8" cy="559.1" r="5.4"/><circle cx="170.3" cy="523.0" r="5.4"/><circle cx="201.7" cy="541.4" r="5.4"/><circle cx="187.9" cy="544.5" r="5.4"/><circle cx="202.0" cy="636.0" r="5.4"/><circle cx="175.6" cy="640.8" r="5.4"/><circle cx="177.4" cy="597.8" r="5.4"/><circle cx="175.3" cy="553.4" r="5.4"/><circle cx="174.0" cy="612.8" r="5.4"/><circle cx="228.4" cy="591.2" r="5.4"/><circle cx="197.4" cy="546.2" r="5.4"/><circle cx="184.9" cy="639.2" r="5.4"/><circle cx="190.3" cy="579.5" r="5.4"/><circle cx="212.7" cy="571.9" r="5.4"/><circle cx="212.0" cy="598.2" r="5.4"/><circle cx="193.6" cy="649.8" r="5.4"/><circle cx="174.5" cy="557.1" r="5.4"/><circle cx="177.1" cy="607.2" r="5.4"/><circle cx="192.3" cy="539.1" r="5.4"/><circle cx="186.7" cy="588.0" r="5.4"/><circle cx="199.4" cy="599.0" r="5.4"/><circle cx="197.0" cy="627.9" r="5.4"/><circle cx="184.4" cy="597.0" r="5.4"/><circle cx="177.7" cy="560.9" r="5.4"/><circle cx="199.9" cy="603.5" r="5.4"/><circle cx="199.7" cy="596.1" r="5.4"/><circle cx="195.2" cy="599.2" r="5.4"/><circle cx="180.4" cy="586.7" r="5.4"/><circle cx="193.4" cy="596.6" r="5.4"/><circle cx="173.2" cy="567.1" r="5.4"/><circle cx="179.2" cy="525.4" r="5.4"/><circle cx="179.6" cy="538.9" r="5.4"/><circle cx="172.8" cy="545.8" r="5.4"/><circle cx="203.6" cy="558.9" r="5.4"/><circle cx="192.9" cy="549.9" r="5.4"/><circle cx="165.9" cy="543.6" r="5.4"/><circle cx="203.6" cy="547.8" r="5.4"/><circle cx="193.5" cy="593.5" r="5.4"/><circle cx="190.1" cy="595.2" r="5.4"/><circle cx="216.9" cy="614.6" r="5.4"/><circle cx="170.5" cy="532.1" r="5.4"/><circle cx="197.1" cy="594.7" r="5.4"/><circle cx="195.2" cy="578.6" r="5.4"/><circle cx="206.6" cy="598.6" r="5.4"/><circle cx="212.7" cy="626.5" r="5.4"/><circle cx="189.8" cy="568.3" r="5.4"/><circle cx="169.3" cy="627.8" r="5.4"/><circle cx="210.1" cy="629.2" r="5.4"/><circle cx="228.0" cy="603.0" r="5.4"/><circle cx="210.0" cy="621.3" r="5.4"/><circle cx="162.9" cy="559.2" r="5.4"/><circle cx="174.0" cy="630.1" r="5.4"/><circle cx="198.7" cy="576.7" r="5.4"/><circle cx="178.2" cy="630.6" r="5.4"/><circle cx="176.8" cy="619.5" r="5.4"/><circle cx="196.2" cy="589.2" r="5.4"/><circle cx="179.5" cy="550.9" r="5.4"/><circle cx="226.6" cy="595.6" r="5.4"/><circle cx="206.9" cy="573.4" r="5.4"/><circle cx="195.0" cy="632.0" r="5.4"/><circle cx="182.0" cy="630.0" r="5.4"/><circle cx="204.2" cy="578.5" r="5.4"/><circle cx="170.3" cy="550.6" r="5.4"/><circle cx="199.0" cy="552.4" r="5.4"/><circle cx="164.3" cy="555.2" r="5.4"/><circle cx="175.0" cy="560.0" r="5.4"/><circle cx="190.7" cy="586.2" r="5.4"/><circle cx="207.7" cy="584.5" r="5.4"/><circle cx="211.8" cy="633.8" r="5.4"/><circle cx="182.5" cy="538.6" r="5.4"/><circle cx="210.9" cy="623.9" r="5.4"/><circle cx="189.7" cy="552.9" r="5.4"/><circle cx="197.1" cy="554.6" r="5.4"/><circle cx="192.4" cy="558.0" r="5.4"/><circle cx="170.1" cy="601.7" r="5.4"/><circle cx="173.4" cy="638.7" r="5.4"/><circle cx="183.2" cy="642.1" r="5.4"/><circle cx="175.4" cy="633.2" r="5.4"/><circle cx="175.6" cy="581.8" r="5.4"/><circle cx="217.4" cy="600.8" r="5.4"/><circle cx="178.9" cy="626.6" r="5.4"/><circle cx="178.0" cy="583.8" r="5.4"/><circle cx="208.4" cy="568.5" r="5.4"/><circle cx="236.0" cy="596.0" r="5.4"/><circle cx="231.0" cy="603.0" r="5.4"/><circle cx="226.0" cy="590.0" r="5.4"/><circle cx="238.0" cy="607.0" r="5.4"/><circle cx="190.0" cy="664.0" r="5.4"/><circle cx="194.0" cy="656.0" r="5.4"/><circle cx="186.0" cy="658.0" r="5.4"/><circle cx="199.0" cy="651.0" r="5.4"/><circle cx="210.0" cy="520.4" r="5.4"/><circle cx="398.0" cy="572.0" r="5.4"/><circle cx="400.0" cy="570.5" r="5.4"/><circle cx="331.0" cy="635.7" r="5.4"/><circle cx="216.0" cy="540.0" r="5.4"/><circle cx="161.5" cy="526.5" r="5.4"/><circle cx="166.0" cy="525.0" r="5.4"/></g>
<g fill="#8c564b" fill-opacity="0.8"><circle cx="293.5" cy="572.2" r="5.4"/><circle cx="265.5" cy="625.5" r="5.4"/><circle cx="290.1" cy="601.3" r="5.4"/><circle cx="285.8" cy="619.3" r="5.4"/><circle cx="291.9" cy="632.9" r="5.4"/><circle cx="287.9" cy="575.6" r="5.4"/><circle cx="283.2" cy="595.5" r="5.4"/><circle cx="291.4" cy="581.7" r="5.4"/><circle cx="283.8" cy="591.8" r="5.4"/><circle cx="278.8" cy="630.7" r="5.4"/><circle cx="296.3" cy="638.2" r="5.4"/><circle cx="268.5" cy="627.4" r="5.4"/><circle cx="284.6" cy="615.0" r="5.4"/><circle cx="287.3" cy="582.1" r="5.4"/><circle cx="275.0" cy="609.5" r="5.4"/><circle cx="271.0" cy="610.8" r="5.4"/><circle cx="286.8" cy="637.9" r="5.4"/><circle cx="295.6" cy="578.7" r="5.4"/><circle cx="293.7" cy="583.5" r="5.4"/><circle cx="275.4" cy="632.9" r="5.4"/><circle cx="290.8" cy="636.9" r="5.4"/><circle cx="284.8" cy="609.5" r="5.4"/><circle cx="286.1" cy="590.2" r="5.4"/><circle cx="276.2" cy="612.0" r="5.4"/><circle cx="276.4" cy="618.0" r="5.4"/><circle cx="292.7" cy="627.6" r="5.4"/><circle cx="213.4" cy="659.3" r="5.4"/><circle cx="245.1" cy="637.4" r="5.4"/><circle cx="232.2" cy="635.0" r="5.4"/><circle cx="238.1" cy="629.8" r="5.4"/><circle cx="261.2" cy="662.7" r="5.4"/><circle cx="233.2" cy="631.8" r="5.4"/><circle cx="257.6" cy="689.9" r="5.4"/><circle cx="221.0" cy="689.9" r="5.4"/><circle cx="220.0" cy="662.2" r="5.4"/><circle cx="230.2" cy="630.1" r="5.4"/><circle cx="268.8" cy="666.6" r="5.4"/><circle cx="249.4" cy="652.2" r="5.4"/><circle cx="242.3" cy="627.2" r="5.4"/><circle cx="217.2" cy="675.4" r="5.4"/><circle cx="246.6" cy="632.1" r="5.4"/><circle cx="236.9" cy="635.9" r="5.4"/><circle cx="218.5" cy="630.3" r="5.4"/><circle cx="230.8" cy="621.2" r="5.4"/><circle cx="231.2" cy="640.6" r="5.4"/><circle cx="234.5" cy="624.9" r="5.4"/><circle cx="250.6" cy="656.7" r="5.4"/><circle cx="218.0" cy="622.2" r="5.4"/><circle cx="239.6" cy="674.4" r="5.4"/><circle cx="258.6" cy="658.6" r="5.4"/><circle cx="240.2" cy="634.0" r="5.4"/><circle cx="259.0" cy="679.1" r="5.4"/><circle cx="220.2" cy="674.4" r="5.4"/><circle cx="239.7" cy="637.1" r="5.4"/><circle cx="266.2" cy="679.4" r="5.4"/><circle cx="223.6" cy="635.9" r="5.4"/><circle cx="226.6" cy="629.7" r="5.4"/><circle cx="250.4" cy="634.8" r="5.4"/><circle cx="254.8" cy="682.9" r="5.4"/><circle cx="234.4" cy="628.4" r="5.4"/><circle cx="264.6" cy="696.7" r="5.4"/><circle cx="249.7" cy="690.8" r="5.4"/><circle cx="222.0" cy="625.9" r="5.4"/><circle cx="221.6" cy="681.0" r="5.4"/><circle cx="267.1" cy="672.3" r="5.4"/><circle cx="226.7" cy="680.0" r="5.4"/><circle cx="243.5" cy="643.3" r="5.4"/><circle cx="255.0" cy="661.5" r="5.4"/><circle cx="254.8" cy="687.4" r="5.4"/><circle cx="227.4" cy="652.9" r="5.4"/><circle cx="241.5" cy="684.5" r="5.4"/><circle cx="250.7" cy="648.2" r="5.4"/><circle cx="260.9" cy="668.8" r="5.4"/><circle cx="218.8" cy="646.2" r="5.4"/><circle cx="243.2" cy="631.2" r="5.4"/><circle cx="233.4" cy="668.3" r="5.4"/><circle cx="269.4" cy="686.2" r="5.4"/><circle cx="235.3" cy="645.0" r="5.4"/><circle cx="206.8" cy="654.5" r="5.4"/><circle cx="256.1" cy="673.3" r="5.4"/><circle cx="232.9" cy="657.7" r="5.4"/><circle cx="231.7" cy="677.4" r="5.4"/><circle cx="230.1" cy="660.8" r="5.4"/><circle cx="261.5" cy="701.1" r="5.4"/><circle cx="207.1" cy="668.4" r="5.4"/><circle cx="265.3" cy="663.6" r="5.4"/><circle cx="227.2" cy="640.7" r="5.4"/><circle cx="258.3" cy="701.0" r="5.4"/><circle cx="244.0" cy="601.7" r="5.4"/><circle cx="314.0" cy="611.6" r="5.4"/><circle cx="279.7" cy="714.0" r="5.4"/></g>
<g fill="#17becf" fill-opacity="0.8"><circle cx="267.9" cy="851.6" r="5.4"/><circle cx="268.8" cy="869.2" r="5.4"/><circle cx="271.4" cy="848.7" r="5.4"/><circle cx="248.6" cy="951.6" r="5.4"/><circle cx="266.4" cy="926.1" r="5.4"/><circle cx="271.8" cy="855.8" r="5.4"/><circle cx="252.9" cy="894.3" r="5.4"/><circle cx="259.9" cy="916.0" r="5.4"/><circle cx="259.1" cy="888.3" r="5.4"/><circle cx="274.9" cy="854.3" r="5.4"/><circle cx="264.6" cy="837.7" r="5.4"/><circle cx="253.2" cy="898.4" r="5.4"/><circle cx="261.5" cy="924.1" r="5.4"/><circle cx="267.9" cy="839.8" r="5.4"/><circle cx="260.7" cy="874.0" r="5.4"/><circle cx="261.2" cy="821.6" r="5.4"/><circle cx="249.6" cy="818.1" r="5.4"/><circle cx="254.2" cy="942.8" r="5.4"/><circle cx="268.9" cy="865.3" r="5.4"/><circle cx="267.8" cy="872.5" r="5.4"/><circle cx="264.7" cy="871.5" r="5.4"/><circle cx="256.5" cy="948.7" r="5.4"/><circle cx="258.7" cy="892.0" r="5.4"/><circle cx="259.8" cy="827.8" r="5.4"/><circle cx="266.8" cy="877.4" r="5.4"/><circle cx="249.5" cy="944.2" r="5.4"/><circle cx="260.8" cy="878.3" r="5.4"/><circle cx="272.2" cy="838.1" r="5.4"/><circle cx="252.0" cy="810.7" r="5.4"/><circle cx="262.3" cy="907.1" r="5.4"/><circle cx="253.8" cy="952.6" r="5.4"/><circle cx="262.4" cy="939.2" r="5.4"/><circle cx="247.7" cy="815.5" r="5.4"/><circle cx="269.2" cy="844.7" r="5.4"/><circle cx="271.1" cy="833.3" r="5.4"/><circle cx="259.1" cy="934.4" r="5.4"/><circle cx="256.4" cy="822.7" r="5.4"/><circle cx="262.6" cy="912.5" r="5.4"/><circle cx="253.9" cy="906.9" r="5.4"/><circle cx="266.3" cy="914.7" r="5.4"/><circle cx="255.0" cy="818.3" r="5.4"/><circle cx="264.6" cy="931.8" r="5.4"/><circle cx="258.8" cy="940.8" r="5.4"/><circle cx="259.1" cy="910.0" r="5.4"/><circle cx="243.0" cy="850.0" r="5.4"/><circle cx="295.0" cy="862.0" r="5.4"/><circle cx="296.0" cy="866.0" r="5.4"/><circle cx="294.0" cy="873.0" r="5.4"/><circle cx="294.0" cy="877.0" r="5.4"/><circle cx="285.0" cy="916.0" r="5.4"/><circle cx="246.0" cy="974.0" r="5.4"/><circle cx="250.0" cy="977.0" r="5.4"/><circle cx="272.0" cy="898.0" r="5.4"/><circle cx="284.0" cy="898.0" r="5.4"/><circle cx="297.0" cy="898.0" r="5.4"/><circle cx="262.0" cy="898.0" r="5.4"/><circle cx="260.0" cy="840.0" r="5.4"/><circle cx="278.0" cy="840.0" r="5.4"/><circle cx="276.0" cy="850.0" r="5.4"/><circle cx="284.0" cy="914.0" r="5.4"/></g>
<g fill="#e377c2" fill-opacity="0.8"><circle cx="360.0" cy="858.1" r="5.4"/><circle cx="359.8" cy="854.0" r="5.4"/><circle cx="360.6" cy="840.8" r="5.4"/><circle cx="386.2" cy="909.7" r="5.4"/><circle cx="350.5" cy="870.6" r="5.4"/><circle cx="372.8" cy="852.8" r="5.4"/><circle cx="350.5" cy="893.9" r="5.4"/><circle cx="364.8" cy="853.1" r="5.4"/><circle cx="352.4" cy="830.2" r="5.4"/><circle cx="368.9" cy="845.4" r="5.4"/><circle cx="364.5" cy="903.4" r="5.4"/><circle cx="355.8" cy="899.9" r="5.4"/><circle cx="346.3" cy="830.6" r="5.4"/><circle cx="372.3" cy="905.8" r="5.4"/><circle cx="368.2" cy="874.9" r="5.4"/><circle cx="344.7" cy="885.0" r="5.4"/><circle cx="368.8" cy="884.7" r="5.4"/><circle cx="340.9" cy="859.5" r="5.4"/><circle cx="358.8" cy="835.1" r="5.4"/><circle cx="343.5" cy="881.7" r="5.4"/><circle cx="349.3" cy="914.1" r="5.4"/><circle cx="376.7" cy="844.3" r="5.4"/><circle cx="351.1" cy="848.3" r="5.4"/><circle cx="356.7" cy="838.2" r="5.4"/><circle cx="358.0" cy="865.2" r="5.4"/><circle cx="363.1" cy="848.6" r="5.4"/><circle cx="376.0" cy="835.1" r="5.4"/><circle cx="369.2" cy="893.8" r="5.4"/><circle cx="369.8" cy="853.2" r="5.4"/><circle cx="368.8" cy="917.3" r="5.4"/><circle cx="375.5" cy="861.3" r="5.4"/><circle cx="363.3" cy="865.9" r="5.4"/><circle cx="343.3" cy="830.5" r="5.4"/><circle cx="368.2" cy="914.5" r="5.4"/><circle cx="365.2" cy="834.7" r="5.4"/><circle cx="338.5" cy="873.9" r="5.4"/><circle cx="340.2" cy="904.1" r="5.4"/><circle cx="370.5" cy="833.1" r="5.4"/><circle cx="355.2" cy="856.6" r="5.4"/><circle cx="360.9" cy="871.5" r="5.4"/><circle cx="356.4" cy="886.8" r="5.4"/><circle cx="369.4" cy="858.3" r="5.4"/><circle cx="371.4" cy="874.3" r="5.4"/><circle cx="354.6" cy="883.2" r="5.4"/><circle cx="353.4" cy="838.3" r="5.4"/><circle cx="366.0" cy="842.8" r="5.4"/><circle cx="356.0" cy="846.7" r="5.4"/><circle cx="335.2" cy="881.4" r="5.4"/><circle cx="333.1" cy="870.1" r="5.4"/><circle cx="347.2" cy="854.7" r="5.4"/><circle cx="374.8" cy="847.2" r="5.4"/><circle cx="372.0" cy="845.1" r="5.4"/><circle cx="338.4" cy="795.6" r="5.4"/><circle cx="332.8" cy="811.2" r="5.4"/><circle cx="347.2" cy="810.0" r="5.4"/><circle cx="344.0" cy="822.4" r="5.4"/><circle cx="324.8" cy="826.4" r="5.4"/><circle cx="328.0" cy="830.0" r="5.4"/><circle cx="332.0" cy="834.4" r="5.4"/><circle cx="391.2" cy="793.6" r="5.4"/><circle cx="388.0" cy="798.0" r="5.4"/><circle cx="385.6" cy="803.2" r="5.4"/><circle cx="374.4" cy="807.2" r="5.4"/><circle cx="375.0" cy="812.0" r="5.4"/><circle cx="372.0" cy="819.2" r="5.4"/><circle cx="373.0" cy="825.0" r="5.4"/><circle cx="349.0" cy="960.0" r="5.4"/><circle cx="341.0" cy="972.0" r="5.4"/><circle cx="335.0" cy="985.0" r="5.4"/><circle cx="426.0" cy="964.0" r="5.4"/><circle cx="424.0" cy="984.0" r="5.4"/><circle cx="383.0" cy="948.0" r="5.4"/><circle cx="369.0" cy="934.0" r="5.4"/><circle cx="343.6" cy="959.4" r="5.4"/><circle cx="392.4" cy="920.4" r="5.4"/><circle cx="329.6" cy="979.3" r="5.4"/><circle cx="360.2" cy="930.3" r="5.4"/></g>
<g fill="#ffbb78" fill-opacity="0.8"><circle cx="238.0" cy="575.0" r="5.4"/><circle cx="238.5" cy="579.0" r="5.4"/><circle cx="379.9" cy="966.1" r="5.4"/><circle cx="391.1" cy="981.7" r="5.4"/><circle cx="390.1" cy="977.0" r="5.4"/><circle cx="357.2" cy="993.1" r="5.4"/><circle cx="378.2" cy="998.1" r="5.4"/><circle cx="370.0" cy="996.2" r="5.4"/><circle cx="347.5" cy="976.3" r="5.4"/><circle cx="354.0" cy="987.0" r="5.4"/><circle cx="359.6" cy="943.5" r="5.4"/><circle cx="367.1" cy="1001.8" r="5.4"/><circle cx="378.1" cy="963.4" r="5.4"/><circle cx="365.0" cy="978.2" r="5.4"/><circle cx="360.0" cy="960.3" r="5.4"/><circle cx="352.9" cy="972.0" r="5.4"/><circle cx="352.2" cy="977.5" r="5.4"/><circle cx="368.7" cy="1008.6" r="5.4"/><circle cx="375.3" cy="982.8" r="5.4"/><circle cx="358.5" cy="954.5" r="5.4"/><circle cx="381.9" cy="972.7" r="5.4"/><circle cx="375.4" cy="960.0" r="5.4"/><circle cx="370.1" cy="964.5" r="5.4"/><circle cx="365.9" cy="961.4" r="5.4"/><circle cx="351.1" cy="950.8" r="5.4"/><circle cx="364.1" cy="967.6" r="5.4"/><circle cx="371.3" cy="956.2" r="5.4"/><circle cx="381.1" cy="976.1" r="5.4"/><circle cx="393.1" cy="978.7" r="5.4"/><circle cx="360.8" cy="948.0" r="5.4"/><circle cx="373.4" cy="1001.1" r="5.4"/><circle cx="356.7" cy="971.5" r="5.4"/><circle cx="374.1" cy="989.9" r="5.4"/><circle cx="356.4" cy="939.5" r="5.4"/><circle cx="386.5" cy="965.9" r="5.4"/><circle cx="369.4" cy="979.1" r="5.4"/><circle cx="370.4" cy="984.6" r="5.4"/><circle cx="380.1" cy="993.1" r="5.4"/><circle cx="312.6" cy="913.0" r="5.4"/><circle cx="321.0" cy="921.0" r="5.4"/><circle cx="329.0" cy="932.0" r="5.4"/><circle cx="337.0" cy="938.0" r="5.4"/><circle cx="358.2" cy="952.6" r="5.4"/><circle cx="377.1" cy="959.3" r="5.4"/><circle cx="325.8" cy="915.8" r="5.4"/><circle cx="369.3" cy="988.0" r="5.4"/><circle cx="363.3" cy="974.5" r="5.4"/><circle cx="357.4" cy="962.5" r="5.4"/><circle cx="385.7" cy="978.1" r="5.4"/><circle cx="318.5" cy="933.2" r="5.4"/><circle cx="341.1" cy="930.0" r="5.4"/><circle cx="321.2" cy="917.2" r="5.4"/></g>
<g fill="#ff7f0e" fill-opacity="0.8"><circle cx="306.6" cy="974.0" r="5.4"/><circle cx="287.0" cy="981.8" r="5.4"/><circle cx="297.0" cy="997.0" r="5.4"/><circle cx="304.6" cy="997.0" r="5.4"/><circle cx="300.0" cy="1008.0" r="5.4"/><circle cx="332.0" cy="995.0" r="5.4"/><circle cx="344.0" cy="996.0" r="5.4"/><circle cx="346.0" cy="999.0" r="5.4"/><circle cx="338.7" cy="952.6" r="5.4"/><circle cx="332.0" cy="965.0" r="5.4"/><circle cx="374.7" cy="1058.7" r="5.4"/><circle cx="328.0" cy="1107.3" r="5.4"/><circle cx="347.4" cy="1100.6" r="5.4"/><circle cx="344.3" cy="1082.7" r="5.4"/><circle cx="293.4" cy="1081.9" r="5.4"/><circle cx="295.5" cy="1088.1" r="5.4"/><circle cx="352.2" cy="1060.9" r="5.4"/><circle cx="332.4" cy="1099.4" r="5.4"/><circle cx="328.2" cy="1068.6" r="5.4"/><circle cx="338.4" cy="1059.2" r="5.4"/><circle cx="333.5" cy="1048.7" r="5.4"/><circle cx="304.7" cy="1102.2" r="5.4"/><circle cx="331.0" cy="1032.6" r="5.4"/><circle cx="334.8" cy="1064.4" r="5.4"/><circle cx="317.6" cy="1076.1" r="5.4"/><circle cx="342.6" cy="1090.9" r="5.4"/><circle cx="315.3" cy="1046.3" r="5.4"/><circle cx="332.8" cy="1090.3" r="5.4"/><circle cx="345.8" cy="1091.9" r="5.4"/><circle cx="325.6" cy="1077.3" r="5.4"/><circle cx="330.9" cy="1087.5" r="5.4"/><circle cx="352.4" cy="1069.1" r="5.4"/><circle cx="331.3" cy="1080.4" r="5.4"/><circle cx="328.6" cy="1048.0" r="5.4"/><circle cx="346.6" cy="1063.0" r="5.4"/><circle cx="329.2" cy="1094.4" r="5.4"/><circle cx="325.1" cy="1033.7" r="5.4"/><circle cx="330.7" cy="1036.1" r="5.4"/><circle cx="338.0" cy="1106.1" r="5.4"/><circle cx="339.2" cy="1047.7" r="5.4"/><circle cx="318.9" cy="1070.8" r="5.4"/><circle cx="324.5" cy="1080.4" r="5.4"/><circle cx="344.6" cy="1067.8" r="5.4"/><circle cx="324.3" cy="1070.1" r="5.4"/><circle cx="320.0" cy="1087.9" r="5.4"/><circle cx="307.2" cy="1085.9" r="5.4"/><circle cx="325.7" cy="1042.2" r="5.4"/><circle cx="349.9" cy="1071.0" r="5.4"/><circle cx="334.9" cy="1078.3" r="5.4"/><circle cx="339.1" cy="1109.1" r="5.4"/><circle cx="303.0" cy="1099.4" r="5.4"/><circle cx="329.0" cy="1039.1" r="5.4"/><circle cx="328.2" cy="1083.3" r="5.4"/><circle cx="313.9" cy="1071.5" r="5.4"/><circle cx="337.3" cy="1051.0" r="5.4"/><circle cx="297.8" cy="1085.9" r="5.4"/><circle cx="322.3" cy="1039.5" r="5.4"/><circle cx="331.7" cy="1060.3" r="5.4"/><circle cx="321.6" cy="1046.0" r="5.4"/><circle cx="335.9" cy="1074.7" r="5.4"/><circle cx="320.6" cy="1082.5" r="5.4"/><circle cx="322.5" cy="1105.5" r="5.4"/><circle cx="308.2" cy="1055.8" r="5.4"/><circle cx="348.2" cy="1053.6" r="5.4"/><circle cx="349.6" cy="1096.6" r="5.4"/><circle cx="351.6" cy="1075.8" r="5.4"/><circle cx="330.5" cy="1063.4" r="5.4"/><circle cx="300.9" cy="1075.7" r="5.4"/><circle cx="331.1" cy="1110.7" r="5.4"/><circle cx="323.0" cy="1089.1" r="5.4"/><circle cx="339.5" cy="1080.8" r="5.4"/><circle cx="335.8" cy="1089.8" r="5.4"/><circle cx="309.9" cy="1096.2" r="5.4"/><circle cx="341.7" cy="1053.9" r="5.4"/><circle cx="338.7" cy="1073.4" r="5.4"/><circle cx="299.1" cy="1097.8" r="5.4"/><circle cx="325.3" cy="1101.7" r="5.4"/><circle cx="318.5" cy="1095.8" r="5.4"/><circle cx="317.2" cy="1085.2" r="5.4"/><circle cx="314.9" cy="1087.9" r="5.4"/><circle cx="347.5" cy="1078.4" r="5.4"/><circle cx="341.0" cy="1068.7" r="5.4"/><circle cx="324.9" cy="1092.9" r="5.4"/><circle cx="313.3" cy="1078.8" r="5.4"/><circle cx="341.0" cy="1061.1" r="5.4"/><circle cx="331.0" cy="1050.1" r="5.4"/><circle cx="336.4" cy="1086.0" r="5.4"/><circle cx="356.6" cy="1061.6" r="5.4"/><circle cx="303.3" cy="1094.4" r="5.4"/><circle cx="293.5" cy="1120.0" r="5.4"/><circle cx="300.0" cy="1122.0" r="5.4"/><circle cx="310.0" cy="1124.0" r="5.4"/><circle cx="320.0" cy="1120.0" r="5.4"/><circle cx="330.0" cy="1122.0" r="5.4"/><circle cx="303.7" cy="1136.0" r="5.4"/><circle cx="349.0" cy="1122.0" r="5.4"/><circle cx="361.0" cy="1123.5" r="5.4"/><circle cx="284.0" cy="1112.0" r="5.4"/><circle cx="335.7" cy="1151.8" r="5.4"/><circle cx="327.9" cy="1162.8" r="5.4"/><circle cx="333.4" cy="1162.7" r="5.4"/><circle cx="334.3" cy="1155.3" r="5.4"/><circle cx="344.1" cy="1156.5" r="5.4"/><circle cx="323.6" cy="1156.0" r="5.4"/><circle cx="327.6" cy="1151.8" r="5.4"/><circle cx="359.5" cy="1162.3" r="5.4"/><circle cx="331.6" cy="1119.6" r="5.4"/><circle cx="332.4" cy="1153.1" r="5.4"/><circle cx="354.8" cy="1161.7" r="5.4"/><circle cx="342.0" cy="1172.1" r="5.4"/><circle cx="349.4" cy="1149.4" r="5.4"/><circle cx="349.1" cy="1161.3" r="5.4"/><circle cx="321.5" cy="1167.5" r="5.4"/><circle cx="346.5" cy="1169.7" r="5.4"/><circle cx="339.3" cy="1165.5" r="5.4"/><circle cx="348.9" cy="1146.6" r="5.4"/><circle cx="335.9" cy="1158.2" r="5.4"/><circle cx="352.5" cy="1174.5" r="5.4"/><circle cx="344.8" cy="1165.3" r="5.4"/><circle cx="319.4" cy="1169.6" r="5.4"/><circle cx="326.6" cy="1145.2" r="5.4"/><circle cx="323.0" cy="1119.8" r="5.4"/><circle cx="340.5" cy="1162.1" r="5.4"/><circle cx="350.3" cy="1139.9" r="5.4"/><circle cx="330.3" cy="1166.2" r="5.4"/><circle cx="354.2" cy="1172.1" r="5.4"/><circle cx="313.4" cy="1162.4" r="5.4"/><circle cx="326.3" cy="1166.5" r="5.4"/><circle cx="331.7" cy="1157.5" r="5.4"/><circle cx="358.9" cy="1148.3" r="5.4"/><circle cx="314.9" cy="1151.5" r="5.4"/><circle cx="335.7" cy="1165.9" r="5.4"/><circle cx="329.6" cy="1147.3" r="5.4"/><circle cx="322.9" cy="1162.3" r="5.4"/><circle cx="352.7" cy="1146.6" r="5.4"/><circle cx="332.7" cy="1139.7" r="5.4"/><circle cx="336.9" cy="1176.0" r="5.4"/><circle cx="343.0" cy="1136.2" r="5.4"/><circle cx="349.5" cy="1167.4" r="5.4"/><circle cx="341.9" cy="1148.8" r="5.4"/><circle cx="322.8" cy="1148.8" r="5.4"/><circle cx="358.1" cy="1156.2" r="5.4"/><circle cx="339.3" cy="1143.0" r="5.4"/><circle cx="329.7" cy="1140.7" r="5.4"/><circle cx="346.0" cy="1142.6" r="5.4"/><circle cx="355.6" cy="1140.2" r="5.4"/><circle cx="354.8" cy="1151.1" r="5.4"/><circle cx="354.5" cy="1165.5" r="5.4"/><circle cx="343.9" cy="1184.0" r="5.4"/><circle cx="338.0" cy="1180.0" r="5.4"/><circle cx="348.0" cy="1179.0" r="5.4"/><circle cx="332.0" cy="1174.0" r="5.4"/><circle cx="343.6" cy="1115.4" r="5.4"/><circle cx="355.8" cy="1156.4" r="5.4"/><circle cx="336.7" cy="1181.3" r="5.4"/><circle cx="311.2" cy="1149.4" r="5.4"/><circle cx="339.8" cy="1076.3" r="5.4"/><circle cx="332.7" cy="1079.3" r="5.4"/><circle cx="284.7" cy="1113.0" r="5.4"/><circle cx="335.1" cy="956.3" r="5.4"/><circle cx="334.7" cy="1068.3" r="5.4"/><circle cx="337.2" cy="1136.1" r="5.4"/><circle cx="319.1" cy="1086.3" r="5.4"/><circle cx="306.5" cy="1092.5" r="5.4"/><circle cx="380.4" cy="1060.6" r="5.4"/></g>
<g fill="#d62728" fill-opacity="0.8"><circle cx="270.0" cy="881.0" r="5.4"/><circle cx="306.6" cy="919.5" r="5.4"/><circle cx="306.6" cy="929.0" r="5.4"/><circle cx="335.8" cy="906.0" r="5.4"/><circle cx="333.8" cy="936.0" r="5.4"/><circle cx="297.0" cy="947.0" r="5.4"/><circle cx="306.6" cy="950.6" r="5.4"/><circle cx="316.0" cy="955.5" r="5.4"/><circle cx="302.0" cy="948.0" r="5.4"/><circle cx="359.0" cy="1025.2" r="5.4"/><circle cx="346.1" cy="1023.3" r="5.4"/><circle cx="359.0" cy="1028.5" r="5.4"/><circle cx="350.2" cy="1017.3" r="5.4"/><circle cx="334.0" cy="1017.0" r="5.4"/><circle cx="359.1" cy="1021.0" r="5.4"/><circle cx="353.4" cy="1027.3" r="5.4"/><circle cx="360.0" cy="1034.5" r="5.4"/><circle cx="337.0" cy="1021.6" r="5.4"/><circle cx="337.3" cy="1018.6" r="5.4"/><circle cx="358.4" cy="1045.8" r="5.4"/><circle cx="362.8" cy="1022.6" r="5.4"/><circle cx="358.1" cy="1057.0" r="5.4"/><circle cx="339.3" cy="1026.6" r="5.4"/><circle cx="351.9" cy="1034.1" r="5.4"/><circle cx="348.2" cy="1020.4" r="5.4"/><circle cx="345.2" cy="1012.5" r="5.4"/><circle cx="348.0" cy="1013.0" r="5.4"/><circle cx="342.1" cy="1036.8" r="5.4"/><circle cx="364.7" cy="1027.7" r="5.4"/><circle cx="338.6" cy="1010.3" r="5.4"/><circle cx="355.5" cy="1046.5" r="5.4"/><circle cx="349.8" cy="1040.0" r="5.4"/><circle cx="344.0" cy="1025.7" r="5.4"/><circle cx="343.5" cy="1029.9" r="5.4"/><circle cx="412.1" cy="993.7" r="5.4"/><circle cx="396.9" cy="934.7" r="5.4"/><circle cx="414.7" cy="961.2" r="5.4"/><circle cx="406.7" cy="966.7" r="5.4"/><circle cx="403.2" cy="976.1" r="5.4"/><circle cx="406.5" cy="955.0" r="5.4"/><circle cx="402.4" cy="969.1" r="5.4"/><circle cx="426.6" cy="990.9" r="5.4"/><circle cx="382.2" cy="935.6" r="5.4"/><circle cx="378.8" cy="944.7" r="5.4"/><circle cx="403.6" cy="982.7" r="5.4"/><circle cx="406.4" cy="934.4" r="5.4"/><circle cx="396.5" cy="943.2" r="5.4"/><circle cx="414.0" cy="987.9" r="5.4"/><circle cx="401.2" cy="945.6" r="5.4"/><circle cx="401.0" cy="956.2" r="5.4"/><circle cx="416.2" cy="977.7" r="5.4"/><circle cx="421.7" cy="962.5" r="5.4"/><circle cx="399.6" cy="964.2" r="5.4"/><circle cx="390.1" cy="936.6" r="5.4"/><circle cx="405.7" cy="950.1" r="5.4"/><circle cx="375.4" cy="940.2" r="5.4"/><circle cx="429.2" cy="983.0" r="5.4"/><circle cx="410.5" cy="945.5" r="5.4"/><circle cx="379.1" cy="1029.5" r="5.4"/><circle cx="400.9" cy="1040.3" r="5.4"/><circle cx="392.7" cy="1050.2" r="5.4"/><circle cx="419.3" cy="1050.5" r="5.4"/><circle cx="429.3" cy="1033.2" r="5.4"/><circle cx="406.4" cy="1045.0" r="5.4"/><circle cx="394.0" cy="1025.1" r="5.4"/><circle cx="421.6" cy="1040.1" r="5.4"/><circle cx="434.0" cy="1033.8" r="5.4"/><circle cx="390.2" cy="1041.0" r="5.4"/><circle cx="410.2" cy="1022.6" r="5.4"/><circle cx="395.8" cy="1052.2" r="5.4"/><circle cx="417.4" cy="1020.9" r="5.4"/><circle cx="433.3" cy="1038.6" r="5.4"/><circle cx="397.2" cy="1048.3" r="5.4"/><circle cx="428.7" cy="1041.7" r="5.4"/><circle cx="420.3" cy="1037.1" r="5.4"/><circle cx="403.4" cy="1026.6" r="5.4"/><circle cx="380.2" cy="1040.0" r="5.4"/><circle cx="401.3" cy="1033.5" r="5.4"/><circle cx="409.8" cy="1034.5" r="5.4"/><circle cx="426.4" cy="1035.4" r="5.4"/><circle cx="429.3" cy="1036.7" r="5.4"/><circle cx="405.6" cy="1038.2" r="5.4"/><circle cx="412.1" cy="1039.0" r="5.4"/><circle cx="406.9" cy="1031.8" r="5.4"/><circle cx="419.3" cy="1054.2" r="5.4"/><circle cx="405.8" cy="1050.0" r="5.4"/><circle cx="418.0" cy="1025.9" r="5.4"/><circle cx="385.4" cy="1027.4" r="5.4"/><circle cx="419.4" cy="1018.7" r="5.4"/><circle cx="385.2" cy="1030.8" r="5.4"/><circle cx="420.3" cy="1043.3" r="5.4"/><circle cx="424.0" cy="1020.0" r="5.4"/><circle cx="397.3" cy="1023.0" r="5.4"/><circle cx="417.0" cy="1048.1" r="5.4"/><circle cx="429.1" cy="1021.4" r="5.4"/><circle cx="421.6" cy="1046.4" r="5.4"/><circle cx="396.2" cy="1038.8" r="5.4"/><circle cx="419.3" cy="1032.9" r="5.4"/><circle cx="424.4" cy="1045.4" r="5.4"/><circle cx="407.1" cy="1025.6" r="5.4"/><circle cx="412.3" cy="1052.0" r="5.4"/><circle cx="412.9" cy="1035.7" r="5.4"/><circle cx="389.0" cy="1031.2" r="5.4"/><circle cx="413.8" cy="1028.6" r="5.4"/><circle cx="416.8" cy="1035.9" r="5.4"/><circle cx="385.9" cy="1038.7" r="5.4"/><circle cx="425.4" cy="1026.8" r="5.4"/><circle cx="430.5" cy="1044.7" r="5.4"/><circle cx="387.2" cy="1103.1" r="5.4"/><circle cx="398.5" cy="1088.8" r="5.4"/><circle cx="393.9" cy="1103.8" r="5.4"/><circle cx="374.4" cy="1111.7" r="5.4"/><circle cx="400.7" cy="1097.9" r="5.4"/><circle cx="390.8" cy="1107.6" r="5.4"/><circle cx="385.7" cy="1076.8" r="5.4"/><circle cx="398.9" cy="1084.0" r="5.4"/><circle cx="404.0" cy="1084.6" r="5.4"/><circle cx="394.9" cy="1091.0" r="5.4"/><circle cx="401.8" cy="1104.5" r="5.4"/><circle cx="405.3" cy="1087.4" r="5.4"/><circle cx="408.9" cy="1078.1" r="5.4"/><circle cx="403.0" cy="1078.5" r="5.4"/><circle cx="384.5" cy="1089.1" r="5.4"/><circle cx="379.9" cy="1085.5" r="5.4"/><circle cx="411.6" cy="1079.9" r="5.4"/><circle cx="385.5" cy="1091.9" r="5.4"/><circle cx="376.6" cy="1083.0" r="5.4"/><circle cx="388.5" cy="1089.3" r="5.4"/><circle cx="380.6" cy="1115.4" r="5.4"/><circle cx="390.9" cy="1111.9" r="5.4"/><circle cx="403.8" cy="1093.5" r="5.4"/><circle cx="387.2" cy="1115.9" r="5.4"/><circle cx="394.2" cy="1084.4" r="5.4"/><circle cx="383.2" cy="1082.2" r="5.4"/><circle cx="398.6" cy="1104.6" r="5.4"/><circle cx="394.3" cy="1096.1" r="5.4"/><circle cx="389.0" cy="1098.7" r="5.4"/><circle cx="383.5" cy="1112.2" r="5.4"/><circle cx="378.3" cy="1103.6" r="5.4"/><circle cx="404.0" cy="1058.7" r="5.4"/><circle cx="362.0" cy="1064.6" r="5.4"/><circle cx="427.3" cy="1018.7" r="5.4"/><circle cx="419.4" cy="995.7" r="5.4"/><circle cx="309.2" cy="929.8" r="5.4"/><circle cx="399.6" cy="958.0" r="5.4"/><circle cx="371.8" cy="1112.3" r="5.4"/><circle cx="370.1" cy="1097.3" r="5.4"/><circle cx="414.8" cy="955.7" r="5.4"/><circle cx="321.3" cy="954.2" r="5.4"/><circle cx="376.2" cy="1081.0" r="5.4"/><circle cx="405.2" cy="1077.3" r="5.4"/><circle cx="353.9" cy="1046.3" r="5.4"/><circle cx="345.1" cy="1037.7" r="5.4"/><circle cx="401.5" cy="926.5" r="5.4"/><circle cx="389.9" cy="1087.0" r="5.4"/><circle cx="412.6" cy="1025.8" r="5.4"/><circle cx="331.3" cy="940.2" r="5.4"/><circle cx="380.4" cy="1108.4" r="5.4"/><circle cx="434.3" cy="1004.3" r="5.4"/><circle cx="406.0" cy="1028.8" r="5.4"/><circle cx="366.4" cy="1064.1" r="5.4"/><circle cx="412.6" cy="1019.8" r="5.4"/></g>
<g fill="#279e68" fill-opacity="0.8"><circle cx="306.4" cy="586.7" r="5.4"/><circle cx="299.0" cy="983.3" r="5.4"/><circle cx="268.6" cy="966.0" r="5.4"/><circle cx="284.2" cy="983.7" r="5.4"/><circle cx="296.0" cy="983.5" r="5.4"/><circle cx="269.1" cy="985.3" r="5.4"/><circle cx="260.1" cy="971.9" r="5.4"/><circle cx="267.2" cy="974.3" r="5.4"/><circle cx="265.9" cy="958.5" r="5.4"/><circle cx="292.1" cy="982.6" r="5.4"/><circle cx="278.1" cy="950.9" r="5.4"/><circle cx="299.1" cy="986.8" r="5.4"/><circle cx="274.0" cy="951.8" r="5.4"/><circle cx="263.5" cy="973.9" r="5.4"/><circle cx="272.6" cy="970.4" r="5.4"/><circle cx="268.6" cy="982.1" r="5.4"/><circle cx="266.5" cy="1075.0" r="5.4"/><circle cx="279.8" cy="1072.0" r="5.4"/><circle cx="267.1" cy="1098.2" r="5.4"/><circle cx="230.0" cy="1059.8" r="5.4"/><circle cx="246.9" cy="1057.5" r="5.4"/><circle cx="287.0" cy="1037.2" r="5.4"/><circle cx="247.2" cy="1092.0" r="5.4"/><circle cx="290.7" cy="1065.1" r="5.4"/><circle cx="245.6" cy="1052.3" r="5.4"/><circle cx="259.5" cy="1076.3" r="5.4"/><circle cx="256.2" cy="1067.1" r="5.4"/><circle cx="276.2" cy="1083.7" r="5.4"/><circle cx="262.2" cy="1056.3" r="5.4"/><circle cx="272.2" cy="1061.4" r="5.4"/><circle cx="255.9" cy="1084.5" r="5.4"/><circle cx="283.0" cy="1009.7" r="5.4"/><circle cx="283.3" cy="1074.3" r="5.4"/><circle cx="257.6" cy="1070.6" r="5.4"/><circle cx="270.3" cy="1054.6" r="5.4"/><circle cx="252.6" cy="1066.7" r="5.4"/><circle cx="279.3" cy="1052.3" r="5.4"/><circle cx="267.7" cy="1079.6" r="5.4"/><circle cx="257.2" cy="1097.0" r="5.4"/><circle cx="273.5" cy="1014.4" r="5.4"/><circle cx="309.7" cy="1018.0" r="5.4"/><circle cx="290.9" cy="1015.6" r="5.4"/><circle cx="279.2" cy="1076.7" r="5.4"/><circle cx="249.7" cy="1016.7" r="5.4"/><circle cx="290.5" cy="1083.3" r="5.4"/><circle cx="262.4" cy="1073.4" r="5.4"/><circle cx="276.5" cy="1056.9" r="5.4"/><circle cx="258.5" cy="1012.0" r="5.4"/><circle cx="265.9" cy="1050.7" r="5.4"/><circle cx="258.7" cy="1039.1" r="5.4"/><circle cx="254.2" cy="1072.2" r="5.4"/><circle cx="273.9" cy="1053.1" r="5.4"/><circle cx="271.9" cy="1072.8" r="5.4"/><circle cx="271.1" cy="1024.8" r="5.4"/><circle cx="304.9" cy="1010.2" r="5.4"/><circle cx="294.2" cy="1012.1" r="5.4"/><circle cx="246.6" cy="1030.9" r="5.4"/><circle cx="247.4" cy="1040.4" r="5.4"/><circle cx="258.3" cy="1052.4" r="5.4"/><circle cx="249.9" cy="1073.3" r="5.4"/><circle cx="286.0" cy="1096.5" r="5.4"/><circle cx="257.6" cy="1056.8" r="5.4"/><circle cx="249.7" cy="1053.6" r="5.4"/><circle cx="282.4" cy="1021.6" r="5.4"/><circle cx="237.0" cy="1045.1" r="5.4"/><circle cx="249.2" cy="1045.3" r="5.4"/><circle cx="260.4" cy="1080.8" r="5.4"/><circle cx="285.1" cy="1016.1" r="5.4"/><circle cx="267.3" cy="1054.3" r="5.4"/><circle cx="268.1" cy="1028.2" r="5.4"/><circle cx="266.8" cy="1083.7" r="5.4"/><circle cx="305.0" cy="1020.2" r="5.4"/><circle cx="251.8" cy="1078.9" r="5.4"/><circle cx="288.0" cy="1078.4" r="5.4"/><circle cx="293.1" cy="1006.0" r="5.4"/><circle cx="284.6" cy="1059.8" r="5.4"/><circle cx="281.9" cy="1087.5" r="5.4"/><circle cx="295.4" cy="1046.3" r="5.4"/><circle cx="264.8" cy="1065.0" r="5.4"/><circle cx="279.1" cy="1048.8" r="5.4"/><circle cx="277.8" cy="1040.0" r="5.4"/><circle cx="266.5" cy="1044.4" r="5.4"/><circle cx="251.5" cy="1037.0" r="5.4"/><circle cx="260.1" cy="1029.4" r="5.4"/><circle cx="241.3" cy="1027.4" r="5.4"/><circle cx="238.4" cy="1080.7" r="5.4"/><circle cx="279.9" cy="1032.6" r="5.4"/><circle cx="287.6" cy="1051.8" r="5.4"/><circle cx="254.7" cy="1076.8" r="5.4"/><circle cx="278.0" cy="1090.8" r="5.4"/><circle cx="269.8" cy="1042.4" r="5.4"/><circle cx="300.7" cy="1012.8" r="5.4"/><circle cx="263.6" cy="1011.2" r="5.4"/><circle cx="248.6" cy="1064.7" r="5.4"/><circle cx="271.6" cy="1085.3" r="5.4"/><circle cx="255.6" cy="1093.2" r="5.4"/><circle cx="276.0" cy="1023.3" r="5.4"/><circle cx="262.6" cy="1007.4" r="5.4"/><circle cx="264.4" cy="1058.9" r="5.4"/><circle cx="271.6" cy="1082.0" r="5.4"/><circle cx="281.6" cy="1082.7" r="5.4"/><circle cx="286.2" cy="1068.0" r="5.4"/><circle cx="291.3" cy="1032.9" r="5.4"/><circle cx="260.3" cy="1000.0" r="5.4"/><circle cx="278.8" cy="1099.6" r="5.4"/><circle cx="313.3" cy="1020.7" r="5.4"/><circle cx="246.9" cy="1013.1" r="5.4"/><circle cx="258.1" cy="1063.2" r="5.4"/><circle cx="264.3" cy="1070.0" r="5.4"/><circle cx="245.4" cy="1043.8" r="5.4"/><circle cx="235.5" cy="1050.4" r="5.4"/><circle cx="285.8" cy="1056.4" r="5.4"/><circle cx="260.7" cy="1003.5" r="5.4"/><circle cx="234.2" cy="1055.8" r="5.4"/><circle cx="289.0" cy="933.0" r="5.4"/><circle cx="313.0" cy="995.0" r="5.4"/><circle cx="322.0" cy="1024.0" r="5.4"/><circle cx="292.0" cy="1071.7" r="5.4"/><circle cx="283.0" cy="1102.0" r="5.4"/><circle cx="300.8" cy="1109.7" r="5.4"/><circle cx="228.7" cy="1057.7" r="5.4"/></g>
<g fill="#7d6a4e" fill-opacity="0.8"><circle cx="323.7" cy="995.8" r="5.4"/></g>
<g fill="#98df8a" fill-opacity="0.8"><circle cx="709.0" cy="754.0" r="5.4"/><circle cx="719.0" cy="769.0" r="5.4"/><circle cx="724.0" cy="781.0" r="5.4"/><circle cx="707.0" cy="787.0" r="5.4"/><circle cx="701.0" cy="794.0" r="5.4"/><circle cx="727.0" cy="790.0" r="5.4"/><circle cx="738.0" cy="798.0" r="5.4"/><circle cx="735.0" cy="807.0" r="5.4"/><circle cx="741.0" cy="818.0" r="5.4"/><circle cx="719.0" cy="822.0" r="5.4"/><circle cx="724.0" cy="833.0" r="5.4"/><circle cx="714.0" cy="786.0" r="5.4"/><circle cx="722.0" cy="775.0" r="5.4"/><circle cx="730.0" cy="785.0" r="5.4"/><circle cx="705.0" cy="790.0" r="5.4"/><circle cx="733.0" cy="800.0" r="5.4"/><circle cx="720.0" cy="828.0" r="5.4"/></g>
<g fill="#b5bd61" fill-opacity="0.8"><circle cx="794.9" cy="915.7" r="5.4"/><circle cx="803.8" cy="878.5" r="5.4"/><circle cx="783.0" cy="889.0" r="5.4"/><circle cx="772.3" cy="882.0" r="5.4"/><circle cx="767.3" cy="930.4" r="5.4"/><circle cx="801.1" cy="905.9" r="5.4"/><circle cx="777.1" cy="935.4" r="5.4"/><circle cx="766.1" cy="874.3" r="5.4"/><circle cx="760.9" cy="928.3" r="5.4"/><circle cx="809.8" cy="876.0" r="5.4"/><circle cx="752.3" cy="910.3" r="5.4"/><circle cx="755.2" cy="955.3" r="5.4"/><circle cx="755.3" cy="871.1" r="5.4"/><circle cx="778.5" cy="902.7" r="5.4"/><circle cx="786.6" cy="886.4" r="5.4"/><circle cx="765.2" cy="910.2" r="5.4"/><circle cx="772.0" cy="924.7" r="5.4"/><circle cx="780.4" cy="894.4" r="5.4"/><circle cx="757.4" cy="895.6" r="5.4"/><circle cx="786.5" cy="918.6" r="5.4"/><circle cx="761.9" cy="922.3" r="5.4"/><circle cx="770.5" cy="910.2" r="5.4"/><circle cx="745.5" cy="946.6" r="5.4"/><circle cx="792.5" cy="890.0" r="5.4"/><circle cx="785.8" cy="899.6" r="5.4"/><circle cx="764.5" cy="935.6" r="5.4"/><circle cx="788.9" cy="895.2" r="5.4"/><circle cx="784.0" cy="932.3" r="5.4"/><circle cx="778.3" cy="923.6" r="5.4"/><circle cx="766.3" cy="946.4" r="5.4"/><circle cx="746.5" cy="938.3" r="5.4"/><circle cx="802.8" cy="886.4" r="5.4"/><circle cx="771.0" cy="885.3" r="5.4"/><circle cx="760.8" cy="912.5" r="5.4"/><circle cx="771.3" cy="896.5" r="5.4"/><circle cx="784.4" cy="936.8" r="5.4"/><circle cx="813.2" cy="879.3" r="5.4"/><circle cx="753.8" cy="876.6" r="5.4"/><circle cx="752.9" cy="941.1" r="5.4"/><circle cx="749.4" cy="936.0" r="5.4"/><circle cx="766.9" cy="942.4" r="5.4"/><circle cx="793.9" cy="928.3" r="5.4"/><circle cx="762.9" cy="887.7" r="5.4"/><circle cx="777.5" cy="940.6" r="5.4"/><circle cx="767.9" cy="886.8" r="5.4"/><circle cx="771.3" cy="891.5" r="5.4"/><circle cx="763.5" cy="945.2" r="5.4"/><circle cx="790.5" cy="909.2" r="5.4"/><circle cx="770.6" cy="875.6" r="5.4"/><circle cx="790.4" cy="933.6" r="5.4"/><circle cx="763.9" cy="905.9" r="5.4"/><circle cx="752.6" cy="950.6" r="5.4"/><circle cx="805.0" cy="884.1" r="5.4"/><circle cx="799.2" cy="908.0" r="5.4"/><circle cx="758.8" cy="899.3" r="5.4"/><circle cx="773.5" cy="918.2" r="5.4"/><circle cx="790.1" cy="898.4" r="5.4"/><circle cx="781.4" cy="918.8" r="5.4"/><circle cx="783.2" cy="904.0" r="5.4"/><circle cx="761.0" cy="893.6" r="5.4"/><circle cx="779.5" cy="906.0" r="5.4"/><circle cx="757.7" cy="869.0" r="5.4"/><circle cx="715.0" cy="954.0" r="5.4"/><circle cx="721.0" cy="955.0" r="5.4"/><circle cx="727.0" cy="955.0" r="5.4"/><circle cx="733.0" cy="957.0" r="5.4"/><circle cx="739.0" cy="958.0" r="5.4"/></g>
<g fill="#1f77b4" fill-opacity="0.8"><circle cx="842.0" cy="765.0" r="5.4"/><circle cx="840.0" cy="780.0" r="5.4"/><circle cx="752.0" cy="735.0" r="5.4"/><circle cx="812.0" cy="736.0" r="5.4"/><circle cx="835.9" cy="818.9" r="5.4"/><circle cx="786.4" cy="869.6" r="5.4"/><circle cx="839.3" cy="813.0" r="5.4"/><circle cx="806.2" cy="831.3" r="5.4"/><circle cx="788.2" cy="829.1" r="5.4"/><circle cx="820.3" cy="790.5" r="5.4"/><circle cx="778.3" cy="785.7" r="5.4"/><circle cx="778.5" cy="842.1" r="5.4"/><circle cx="808.3" cy="753.5" r="5.4"/><circle cx="795.9" cy="770.7" r="5.4"/><circle cx="761.2" cy="842.6" r="5.4"/><circle cx="838.5" cy="816.8" r="5.4"/><circle cx="756.5" cy="770.9" r="5.4"/><circle cx="813.6" cy="781.6" r="5.4"/><circle cx="772.2" cy="838.1" r="5.4"/><circle cx="756.0" cy="803.1" r="5.4"/><circle cx="767.9" cy="826.8" r="5.4"/><circle cx="783.8" cy="866.2" r="5.4"/><circle cx="834.1" cy="789.4" r="5.4"/><circle cx="794.2" cy="747.6" r="5.4"/><circle cx="760.8" cy="830.6" r="5.4"/><circle cx="826.1" cy="802.2" r="5.4"/><circle cx="759.4" cy="824.3" r="5.4"/><circle cx="771.4" cy="850.6" r="5.4"/><circle cx="784.4" cy="806.8" r="5.4"/><circle cx="793.8" cy="836.4" r="5.4"/><circle cx="781.0" cy="868.1" r="5.4"/><circle cx="806.5" cy="837.5" r="5.4"/><circle cx="826.2" cy="767.0" r="5.4"/><circle cx="768.6" cy="864.2" r="5.4"/><circle cx="800.4" cy="856.5" r="5.4"/><circle cx="815.6" cy="840.2" r="5.4"/><circle cx="793.3" cy="851.8" r="5.4"/><circle cx="802.5" cy="790.0" r="5.4"/><circle cx="813.4" cy="830.7" r="5.4"/><circle cx="773.3" cy="784.4" r="5.4"/><circle cx="823.7" cy="817.2" r="5.4"/><circle cx="813.1" cy="786.2" r="5.4"/><circle cx="783.0" cy="870.5" r="5.4"/><circle cx="782.8" cy="819.5" r="5.4"/><circle cx="767.0" cy="805.1" r="5.4"/><circle cx="814.3" cy="766.9" r="5.4"/><circle cx="800.7" cy="792.9" r="5.4"/><circle cx="773.3" cy="860.3" r="5.4"/><circle cx="779.0" cy="873.0" r="5.4"/><circle cx="817.1" cy="740.0" r="5.4"/><circle cx="773.6" cy="751.9" r="5.4"/><circle cx="762.4" cy="837.5" r="5.4"/><circle cx="782.6" cy="863.2" r="5.4"/><circle cx="760.4" cy="753.4" r="5.4"/><circle cx="756.9" cy="776.5" r="5.4"/><circle cx="762.3" cy="804.3" r="5.4"/><circle cx="788.1" cy="810.5" r="5.4"/><circle cx="819.5" cy="816.2" r="5.4"/><circle cx="823.2" cy="765.8" r="5.4"/><circle cx="770.6" cy="743.7" r="5.4"/><circle cx="785.5" cy="779.7" r="5.4"/><circle cx="792.2" cy="804.5" r="5.4"/><circle cx="807.6" cy="756.8" r="5.4"/><circle cx="814.5" cy="818.3" r="5.4"/><circle cx="779.4" cy="779.7" r="5.4"/><circle cx="798.2" cy="868.6" r="5.4"/><circle cx="761.8" cy="775.2" r="5.4"/><circle cx="815.8" cy="769.5" r="5.4"/><circle cx="788.9" cy="797.6" r="5.4"/><circle cx="780.2" cy="745.2" r="5.4"/><circle cx="819.1" cy="805.6" r="5.4"/><circle cx="782.1" cy="777.0" r="5.4"/><circle cx="799.3" cy="834.8" r="5.4"/><circle cx="827.5" cy="829.0" r="5.4"/><circle cx="780.2" cy="769.4" r="5.4"/><circle cx="768.7" cy="789.3" r="5.4"/><circle cx="789.9" cy="753.0" r="5.4"/><circle cx="765.8" cy="829.1" r="5.4"/><circle cx="828.5" cy="773.2" r="5.4"/><circle cx="829.1" cy="800.1" r="5.4"/><circle cx="750.6" cy="835.9" r="5.4"/><circle cx="760.3" cy="781.1" r="5.4"/><circle cx="816.9" cy="784.3" r="5.4"/><circle cx="834.2" cy="824.2" r="5.4"/><circle cx="822.6" cy="770.7" r="5.4"/><circle cx="767.7" cy="835.5" r="5.4"/><circle cx="817.5" cy="812.4" r="5.4"/><circle cx="803.7" cy="759.1" r="5.4"/><circle cx="795.3" cy="779.9" r="5.4"/><circle cx="798.1" cy="817.0" r="5.4"/><circle cx="774.3" cy="804.4" r="5.4"/><circle cx="775.3" cy="800.2" r="5.4"/><circle cx="817.8" cy="845.6" r="5.4"/><circle cx="771.4" cy="867.0" r="5.4"/><circle cx="784.3" cy="773.0" r="5.4"/><circle cx="820.6" cy="761.5" r="5.4"/><circle cx="823.0" cy="838.5" r="5.4"/><circle cx="769.8" cy="846.1" r="5.4"/><circle cx="815.0" cy="824.0" r="5.4"/><circle cx="769.4" cy="779.9" r="5.4"/><circle cx="783.7" cy="769.9" r="5.4"/><circle cx="834.5" cy="795.0" r="5.4"/><circle cx="806.1" cy="825.4" r="5.4"/><circle cx="833.0" cy="779.1" r="5.4"/><circle cx="836.9" cy="793.2" r="5.4"/><circle cx="798.4" cy="776.2" r="5.4"/><circle cx="806.7" cy="767.8" r="5.4"/><circle cx="776.2" cy="823.7" r="5.4"/><circle cx="765.7" cy="841.6" r="5.4"/><circle cx="832.1" cy="810.7" r="5.4"/><circle cx="776.0" cy="759.6" r="5.4"/><circle cx="838.7" cy="764.5" r="5.4"/><circle cx="804.6" cy="777.7" r="5.4"/><circle cx="798.0" cy="748.1" r="5.4"/><circle cx="777.8" cy="791.6" r="5.4"/><circle cx="770.5" cy="856.8" r="5.4"/><circle cx="805.9" cy="785.8" r="5.4"/><circle cx="809.7" cy="845.1" r="5.4"/><circle cx="778.2" cy="809.9" r="5.4"/><circle cx="804.1" cy="812.3" r="5.4"/><circle cx="783.9" cy="857.5" r="5.4"/><circle cx="835.5" cy="783.0" r="5.4"/><circle cx="808.7" cy="813.4" r="5.4"/><circle cx="757.7" cy="827.2" r="5.4"/><circle cx="782.8" cy="789.5" r="5.4"/><circle cx="775.7" cy="767.2" r="5.4"/><circle cx="787.4" cy="764.4" r="5.4"/><circle cx="796.7" cy="799.9" r="5.4"/><circle cx="772.4" cy="825.4" r="5.4"/><circle cx="783.4" cy="793.0" r="5.4"/><circle cx="760.6" cy="809.3" r="5.4"/><circle cx="781.4" cy="847.2" r="5.4"/><circle cx="768.7" cy="795.5" r="5.4"/><circle cx="803.8" cy="841.5" r="5.4"/><circle cx="812.6" cy="745.8" r="5.4"/><circle cx="764.1" cy="852.5" r="5.4"/><circle cx="774.4" cy="866.2" r="5.4"/><circle cx="808.5" cy="857.6" r="5.4"/><circle cx="792.5" cy="759.1" r="5.4"/><circle cx="774.7" cy="840.2" r="5.4"/><circle cx="771.3" cy="832.9" r="5.4"/><circle cx="768.9" cy="762.2" r="5.4"/><circle cx="781.4" cy="838.4" r="5.4"/><circle cx="787.4" cy="807.6" r="5.4"/><circle cx="826.3" cy="759.3" r="5.4"/><circle cx="782.0" cy="850.2" r="5.4"/><circle cx="789.2" cy="847.1" r="5.4"/><circle cx="784.4" cy="815.6" r="5.4"/><circle cx="807.4" cy="822.7" r="5.4"/><circle cx="798.5" cy="780.4" r="5.4"/><circle cx="765.3" cy="744.9" r="5.4"/><circle cx="798.0" cy="752.1" r="5.4"/><circle cx="808.4" cy="840.9" r="5.4"/><circle cx="764.3" cy="810.8" r="5.4"/><circle cx="797.4" cy="853.8" r="5.4"/><circle cx="810.1" cy="796.5" r="5.4"/><circle cx="798.6" cy="766.3" r="5.4"/><circle cx="752.7" cy="825.2" r="5.4"/><circle cx="756.3" cy="854.2" r="5.4"/><circle cx="794.8" cy="817.7" r="5.4"/><circle cx="771.5" cy="774.4" r="5.4"/><circle cx="757.6" cy="763.1" r="5.4"/><circle cx="789.3" cy="817.6" r="5.4"/><circle cx="841.0" cy="788.1" r="5.4"/><circle cx="791.0" cy="794.7" r="5.4"/><circle cx="751.2" cy="840.1" r="5.4"/><circle cx="813.4" cy="812.8" r="5.4"/><circle cx="818.7" cy="837.8" r="5.4"/><circle cx="811.5" cy="827.2" r="5.4"/><circle cx="806.9" cy="779.8" r="5.4"/><circle cx="785.1" cy="783.4" r="5.4"/><circle cx="757.8" cy="838.2" r="5.4"/><circle cx="800.2" cy="802.4" r="5.4"/><circle cx="783.6" cy="756.6" r="5.4"/><circle cx="797.1" cy="791.4" r="5.4"/><circle cx="844.8" cy="777.6" r="5.4"/><circle cx="830.9" cy="788.2" r="5.4"/><circle cx="774.4" cy="746.2" r="5.4"/><circle cx="790.9" cy="842.9" r="5.4"/><circle cx="805.7" cy="798.4" r="5.4"/><circle cx="758.9" cy="800.1" r="5.4"/><circle cx="760.0" cy="851.5" r="5.4"/><circle cx="771.7" cy="765.7" r="5.4"/><circle cx="819.1" cy="794.5" r="5.4"/><circle cx="776.2" cy="814.4" r="5.4"/><circle cx="776.5" cy="770.7" r="5.4"/><circle cx="754.7" cy="848.6" r="5.4"/><circle cx="769.3" cy="747.0" r="5.4"/><circle cx="788.0" cy="862.1" r="5.4"/><circle cx="842.2" cy="768.1" r="5.4"/><circle cx="808.4" cy="760.2" r="5.4"/><circle cx="812.1" cy="849.8" r="5.4"/><circle cx="793.0" cy="846.5" r="5.4"/><circle cx="756.6" cy="816.1" r="5.4"/><circle cx="789.3" cy="785.4" r="5.4"/><circle cx="821.5" cy="826.2" r="5.4"/><circle cx="804.1" cy="806.3" r="5.4"/><circle cx="773.3" cy="846.5" r="5.4"/><circle cx="763.4" cy="753.0" r="5.4"/><circle cx="784.0" cy="752.0" r="5.4"/><circle cx="731.0" cy="759.0" r="5.4"/><circle cx="738.0" cy="795.0" r="5.4"/></g>
<g fill="#c95fd0" fill-opacity="0.8"><circle cx="738.0" cy="752.0" r="5.4"/><circle cx="744.0" cy="753.0" r="5.4"/><circle cx="748.0" cy="756.0" r="5.4"/></g>
<path d="M338.0 777.0C335.7 776.7 333.8 777.6 331.0 781.0C328.2 784.4 324.0 791.7 321.4 797.4C318.8 803.1 317.3 808.8 315.5 815.0C313.7 821.2 309.9 828.9 310.7 834.4C311.5 839.9 318.9 842.8 320.4 848.0C321.8 853.2 320.5 859.0 319.4 865.5C318.3 872.0 315.9 879.9 313.6 887.0C311.3 894.1 308.6 901.4 305.8 908.4C303.0 915.4 298.9 922.6 296.8 929.0C294.7 935.4 293.0 939.9 293.0 946.7C293.0 953.5 294.9 963.2 296.8 970.0C298.7 976.8 301.7 981.4 304.6 987.6C307.5 993.8 312.1 1001.1 314.4 1007.0C316.7 1012.9 319.3 1017.8 318.3 1022.7C317.3 1027.6 312.4 1031.1 308.5 1036.3C304.6 1041.5 298.9 1047.6 295.0 1053.8C291.1 1060.0 287.9 1066.5 285.0 1073.3C282.1 1080.1 279.5 1088.1 277.4 1094.7C275.3 1101.3 273.1 1108.6 272.3 1113.0C271.5 1117.4 271.2 1118.2 272.3 1121.3C273.4 1124.4 275.5 1128.0 279.0 1131.6C282.5 1135.2 290.2 1139.8 293.5 1143.0C296.8 1146.2 298.6 1147.0 298.6 1150.5C298.6 1154.0 294.6 1160.0 293.5 1163.7C292.4 1167.4 290.6 1169.6 292.0 1172.5C293.4 1175.4 297.4 1178.3 302.0 1181.0C306.6 1183.7 313.0 1185.9 319.8 1188.5C326.6 1191.1 337.4 1194.8 343.0 1196.5C348.6 1198.2 350.4 1198.7 353.4 1198.7C356.3 1198.7 358.3 1199.2 360.7 1196.5C363.1 1193.8 366.1 1188.0 368.0 1182.7C369.9 1177.5 371.1 1170.6 372.3 1165.0C373.5 1159.4 373.9 1153.6 375.3 1149.0C376.8 1144.4 377.4 1141.6 381.0 1137.4C384.6 1133.2 390.7 1128.9 397.0 1124.0C403.3 1119.1 414.5 1112.3 419.0 1108.0C423.5 1103.7 423.4 1102.8 424.2 1098.0C424.9 1093.2 423.1 1084.8 423.5 1079.0C423.9 1073.2 423.1 1068.8 426.4 1063.0C429.6 1057.2 439.9 1050.1 443.0 1044.0C446.1 1037.9 443.7 1034.4 444.8 1026.6C445.9 1018.8 449.4 1005.5 449.7 997.4C450.0 989.3 448.9 986.0 446.8 977.9C444.7 969.8 440.2 958.4 437.0 948.7C433.8 939.0 430.0 926.5 427.3 919.5C424.6 912.5 424.1 908.9 420.7 906.4C417.3 903.9 411.2 907.7 407.0 904.5C402.8 901.3 398.6 893.2 395.4 887.0C392.2 880.8 390.0 874.0 387.6 867.5C385.2 861.0 381.9 854.2 380.8 848.0C379.7 841.8 378.7 836.0 380.8 830.5C382.9 825.0 389.0 820.5 393.4 815.0C397.8 809.5 404.7 802.3 407.0 797.4C409.3 792.5 408.9 788.9 407.0 785.7C405.1 782.5 399.9 777.8 395.4 778.0C390.9 778.2 385.7 783.0 379.8 786.7C373.9 790.4 365.9 800.9 360.0 800.3C354.1 799.6 348.4 786.7 344.7 782.8C341.0 778.9 340.3 777.3 338.0 777.0Z" fill="none" stroke="#000" stroke-width="4.4" stroke-linecap="round" stroke-dasharray="0.1 8.1"/>
<path d="M813.0 716.0C806.2 715.5 793.6 715.0 784.0 716.0C774.4 717.0 766.0 719.3 755.5 722.0C745.0 724.7 730.6 728.7 721.0 732.0C711.4 735.3 703.5 737.7 698.0 742.0C692.5 746.3 690.2 751.5 688.0 758.0C685.8 764.5 684.8 772.8 685.0 781.0C685.2 789.2 686.3 798.8 689.0 807.0C691.7 815.2 695.7 823.3 701.0 830.0C706.3 836.7 715.5 841.7 721.0 847.0C726.5 852.3 731.2 856.3 734.0 861.6C736.8 866.9 738.5 872.3 738.0 879.0C737.5 885.7 734.3 894.3 731.0 902.0C727.7 909.7 722.1 917.3 718.0 925.0C713.9 932.7 709.4 941.8 706.6 948.0C703.8 954.2 700.5 958.1 701.0 962.4C701.5 966.7 704.6 971.2 709.4 974.0C714.2 976.8 721.9 978.5 729.6 979.0C737.3 979.5 747.8 978.6 755.5 976.8C763.2 975.0 770.0 972.3 775.7 968.0C781.5 963.7 785.7 957.7 790.0 951.0C794.3 944.3 797.8 936.7 801.6 928.0C805.4 919.3 808.7 908.2 813.0 899.0C817.3 889.8 822.2 882.6 827.5 873.0C832.8 863.4 840.0 850.5 844.8 841.4C849.5 832.3 853.1 826.1 856.0 818.4C858.9 810.7 861.2 803.1 862.0 795.4C862.8 787.7 862.0 780.0 860.6 772.3C859.2 764.6 857.0 756.5 853.4 749.3C849.8 742.1 843.8 734.0 839.0 729.0C834.2 724.0 828.9 721.2 824.6 719.0C820.3 716.8 819.8 716.5 813.0 716.0Z" fill="none" stroke="#000" stroke-width="4.4" stroke-linecap="round" stroke-dasharray="0.1 8.1"/>
<text x="153.8" y="470.9" font-size="24.4" fill="#a94af5" textLength="73.12" lengthAdjust="spacingAndGlyphs" stroke="#a94af5" stroke-width="0.60" stroke-linejoin="round">Proto-</text>
<text x="108.7" y="506.3" font-size="24.4" fill="#a94af5" textLength="162.99" lengthAdjust="spacingAndGlyphs" stroke="#a94af5" stroke-width="0.60" stroke-linejoin="round">myofibroblast</text>
<text x="285.0" y="677.2" font-size="24.4" fill="#8c564b" textLength="164.58" lengthAdjust="spacingAndGlyphs" stroke="#8c564b" stroke-width="0.60" stroke-linejoin="round">Myofibroblast</text>
<text x="42.0" y="708.9" font-size="24.4" fill="#aec7e8" textLength="112.50" lengthAdjust="spacingAndGlyphs" stroke="#aec7e8" stroke-width="0.60" stroke-linejoin="round">Proinf. Fb</text>
<text x="66.4" y="867.4" font-size="24.4" fill="#17becf" textLength="153.17" lengthAdjust="spacingAndGlyphs" stroke="#17becf" stroke-width="0.60" stroke-linejoin="round">Intermediate</text>
<text x="113.6" y="903.0" font-size="24.4" fill="#17becf" textLength="58.01" lengthAdjust="spacingAndGlyphs" stroke="#17becf" stroke-width="0.60" stroke-linejoin="round">state</text>
<text x="77.6" y="1023.0" font-size="24.4" fill="#279e68" textLength="142.35" lengthAdjust="spacingAndGlyphs" stroke="#279e68" stroke-width="0.60" stroke-linejoin="round">Naïve Fascia</text>
<text x="129.0" y="1058.6" font-size="24.4" fill="#279e68" textLength="40.00" lengthAdjust="spacingAndGlyphs" stroke="#279e68" stroke-width="0.60" stroke-linejoin="round">EPF</text>
<text x="449.7" y="1053.0" font-size="24.4" fill="#000" textLength="102.32" lengthAdjust="spacingAndGlyphs" stroke="#000" stroke-width="0.60" stroke-linejoin="round">Reticular</text>
<text x="474.5" y="1089.3" font-size="24.4" fill="#000" textLength="51.90" lengthAdjust="spacingAndGlyphs" stroke="#000" stroke-width="0.60" stroke-linejoin="round">EPFs</text>
<text x="710.3" y="707.5" font-size="24.4" fill="#000" textLength="160.41" lengthAdjust="spacingAndGlyphs" stroke="#000" stroke-width="0.60" stroke-linejoin="round">Papillary EPFs</text>
<text x="988.9" y="782.6" font-size="33.0" fill="#000" font-weight="700" textLength="18.43" lengthAdjust="spacingAndGlyphs" stroke="#000" stroke-width="0.90" stroke-linejoin="round">d</text>
<text x="1289.0" y="757.0" font-size="24.6" fill="#000" textLength="236.97" lengthAdjust="spacingAndGlyphs" stroke="#000" stroke-width="0.60" stroke-linejoin="round">Cluster composition</text>
<text x="1233.5" y="804.0" font-size="25.4" fill="#1f77b4" font-weight="700" textLength="57.83" lengthAdjust="spacingAndGlyphs" stroke="#1f77b4" stroke-width="0.40" stroke-linejoin="round">1 dpi</text>
<text x="1312.4" y="804.0" font-size="25.4" fill="#ff7f0e" font-weight="700" textLength="59.33" lengthAdjust="spacingAndGlyphs" stroke="#ff7f0e" stroke-width="0.40" stroke-linejoin="round">3 dpi</text>
<text x="1392.7" y="804.0" font-size="25.4" fill="#2ca02c" font-weight="700" textLength="58.33" lengthAdjust="spacingAndGlyphs" stroke="#2ca02c" stroke-width="0.40" stroke-linejoin="round">5 dpi</text>
<text x="1473.0" y="804.0" font-size="25.4" fill="#d62728" font-weight="700" textLength="58.53" lengthAdjust="spacingAndGlyphs" stroke="#d62728" stroke-width="0.40" stroke-linejoin="round">7 dpi</text>
<text x="1233.5" y="839.8" font-size="25.4" fill="#9467bd" font-weight="700" textLength="71.79" lengthAdjust="spacingAndGlyphs" stroke="#9467bd" stroke-width="0.40" stroke-linejoin="round">14 dpi</text>
<text x="1327.8" y="839.8" font-size="25.4" fill="#8c564b" font-weight="700" textLength="73.09" lengthAdjust="spacingAndGlyphs" stroke="#8c564b" stroke-width="0.40" stroke-linejoin="round">27 dpi</text>
<text x="1422.2" y="839.8" font-size="25.4" fill="#e377c2" font-weight="700" textLength="115.11" lengthAdjust="spacingAndGlyphs" stroke="#e377c2" stroke-width="0.40" stroke-linejoin="round">uninjured</text>
<text x="1051.6" y="887.6" font-size="25.0" fill="#279e68" font-weight="700" textLength="197.60" lengthAdjust="spacingAndGlyphs" stroke="#279e68" stroke-width="0.40" stroke-linejoin="round">Naïve Fascia EPF</text>
<text x="1025.8" y="945.2" font-size="25.0" fill="#17becf" font-weight="700" textLength="223.37" lengthAdjust="spacingAndGlyphs" stroke="#17becf" stroke-width="0.40" stroke-linejoin="round">Intermediate state</text>
<text x="1007.5" y="999.0" font-size="25.0" fill="#aec7e8" font-weight="700" textLength="241.73" lengthAdjust="spacingAndGlyphs" stroke="#aec7e8" stroke-width="0.40" stroke-linejoin="round">Proinflammatory Fb</text>
<text x="1005.2" y="1054.3" font-size="25.0" fill="#aa40fc" font-weight="700" textLength="244.82" lengthAdjust="spacingAndGlyphs" stroke="#aa40fc" stroke-width="0.40" stroke-linejoin="round">Proto-myofibroblast</text>
<text x="1079.2" y="1110.0" font-size="25.0" fill="#8c564b" font-weight="700" textLength="170.02" lengthAdjust="spacingAndGlyphs" stroke="#8c564b" stroke-width="0.40" stroke-linejoin="round">Myofibroblast</text>
<rect x="1286.1" y="868.5" width="6.8" height="26.5" fill="#1f77b4"/>
<rect x="1292.6" y="868.5" width="97.2" height="26.5" fill="#ff7f0e"/>
<rect x="1389.5" y="868.5" width="18.6" height="26.5" fill="#d62728"/>
<rect x="1407.8" y="868.5" width="45.2" height="26.5" fill="#aa40fc"/>
<rect x="1452.7" y="868.5" width="48.1" height="26.5" fill="#8c564b"/>
<rect x="1500.5" y="868.5" width="38.8" height="26.5" fill="#e377c2"/>
<rect x="1286.1" y="923.5" width="135.2" height="27.2" fill="#1f77b4"/>
<rect x="1421.0" y="923.5" width="95.6" height="27.2" fill="#ff7f0e"/>
<rect x="1516.3" y="923.5" width="17.5" height="27.2" fill="#d62728"/>
<rect x="1533.5" y="923.5" width="5.8" height="27.2" fill="#aa40fc"/>
<rect x="1286.1" y="978.4" width="138.2" height="27.0" fill="#1f77b4"/>
<rect x="1424.0" y="978.4" width="78.5" height="27.0" fill="#ff7f0e"/>
<rect x="1502.2" y="978.4" width="37.1" height="27.0" fill="#d62728"/>
<rect x="1286.1" y="1034.2" width="3.2" height="26.4" fill="#1f77b4"/>
<rect x="1289.0" y="1034.2" width="33.9" height="26.4" fill="#ff7f0e"/>
<rect x="1322.6" y="1034.2" width="3.7" height="26.4" fill="#6f9a3a"/>
<rect x="1326.0" y="1034.2" width="179.3" height="26.4" fill="#d62728"/>
<rect x="1505.0" y="1034.2" width="32.0" height="26.4" fill="#aa40fc"/>
<rect x="1536.7" y="1034.2" width="2.6" height="26.4" fill="#8c564b"/>
<rect x="1286.1" y="1089.0" width="6.8" height="27.0" fill="#1f77b4"/>
<rect x="1292.6" y="1089.0" width="13.4" height="27.0" fill="#ff7f0e"/>
<rect x="1305.7" y="1089.0" width="173.9" height="27.0" fill="#d62728"/>
<rect x="1479.3" y="1089.0" width="51.2" height="27.0" fill="#aa40fc"/>
<rect x="1530.2" y="1089.0" width="6.3" height="27.0" fill="#8c564b"/>
<rect x="1536.2" y="1089.0" width="3.1" height="27.0" fill="#e377c2"/>
<g stroke="#000" stroke-width="3.4" fill="none">
<path d="M1284.2 853.5V1145.2M1282.5 1129.4H1553"/>
<path d="M1269.5 882.6H1283"/>
<path d="M1269.5 937.3H1283"/>
<path d="M1269.5 991.8H1283"/>
<path d="M1269.5 1047.3H1283"/>
<path d="M1269.5 1103.0H1283"/>
<path d="M1335.4 1129.4V1145.2"/>
<path d="M1386.0 1129.4V1145.2"/>
<path d="M1436.9 1129.4V1145.2"/>
<path d="M1488.0 1129.4V1145.2"/>
<path d="M1538.4 1129.4V1145.2"/>
</g>
<text x="1279.6" y="1173.8" font-size="18.8" fill="#0a0a0a" textLength="9.22" lengthAdjust="spacingAndGlyphs" stroke="#0a0a0a" stroke-width="0.40" stroke-linejoin="round">0</text>
<text x="1319.3" y="1173.8" font-size="18.8" fill="#0a0a0a" textLength="21.50" lengthAdjust="spacingAndGlyphs" stroke="#0a0a0a" stroke-width="0.40" stroke-linejoin="round">20</text>
<text x="1370.2" y="1173.6" font-size="18.8" fill="#0a0a0a" textLength="21.80" lengthAdjust="spacingAndGlyphs" stroke="#0a0a0a" stroke-width="0.40" stroke-linejoin="round">40</text>
<text x="1421.0" y="1173.8" font-size="18.8" fill="#0a0a0a" textLength="21.40" lengthAdjust="spacingAndGlyphs" stroke="#0a0a0a" stroke-width="0.40" stroke-linejoin="round">60</text>
<text x="1471.7" y="1173.8" font-size="18.8" fill="#0a0a0a" textLength="21.50" lengthAdjust="spacingAndGlyphs" stroke="#0a0a0a" stroke-width="0.40" stroke-linejoin="round">80</text>
<text x="1511.7" y="1175.7" font-size="18.8" fill="#0a0a0a" textLength="31.32" lengthAdjust="spacingAndGlyphs" stroke="#0a0a0a" stroke-width="0.40" stroke-linejoin="round">100</text>
<text x="1638.2" y="786.2" font-size="30.6" fill="#000" font-weight="700" textLength="16.23" lengthAdjust="spacingAndGlyphs" stroke="#000" stroke-width="0.90" stroke-linejoin="round">e</text>
<rect x="1728.6" y="787" width="115" height="198" fill="#fff" stroke="#3c3c3c" stroke-width="1.7"/>
<text x="1666.8" y="827.4" font-size="22.8" fill="#080808" textLength="45.98" lengthAdjust="spacingAndGlyphs" stroke="#080808" stroke-width="0.35" stroke-linejoin="round">Pi16</text>
<rect x="1721.5" y="818.2" width="7.1" height="1.6" fill="#333"/>
<text x="1655.4" y="860.9" font-size="22.8" fill="#080808" textLength="57.38" lengthAdjust="spacingAndGlyphs" stroke="#080808" stroke-width="0.35" stroke-linejoin="round">Plac8</text>
<rect x="1721.5" y="851.5" width="7.1" height="1.6" fill="#333"/>
<text x="1659.0" y="894.0" font-size="22.8" fill="#080808" textLength="53.81" lengthAdjust="spacingAndGlyphs" stroke="#080808" stroke-width="0.35" stroke-linejoin="round">Pdpn</text>
<rect x="1721.5" y="884.8" width="7.1" height="1.6" fill="#333"/>
<text x="1655.0" y="926.8" font-size="22.8" fill="#080808" textLength="57.81" lengthAdjust="spacingAndGlyphs" stroke="#080808" stroke-width="0.35" stroke-linejoin="round">Cxcl1</text>
<rect x="1721.5" y="917.7" width="7.1" height="1.6" fill="#333"/>
<text x="1667.4" y="960.0" font-size="22.8" fill="#080808" textLength="45.41" lengthAdjust="spacingAndGlyphs" stroke="#080808" stroke-width="0.35" stroke-linejoin="round">Ccl2</text>
<rect x="1721.5" y="950.9" width="7.1" height="1.6" fill="#333"/>
<rect x="1753.4" y="985" width="1.6" height="7" fill="#333"/>
<rect x="1785.0" y="985" width="1.6" height="7" fill="#333"/>
<rect x="1816.8" y="985" width="1.6" height="7" fill="#333"/>
<circle cx="1754.2" cy="819.0" r="12.4" fill="#0f57a3" stroke="#1a3f7a" stroke-width="0.6"/>
<circle cx="1785.8" cy="819.0" r="13.9" fill="#0a2f6b" stroke="#1a3f7a" stroke-width="0.6"/>
<circle cx="1817.6" cy="819.0" r="6.2" fill="#ffffff" stroke="#a8a8a8" stroke-width="1.3"/>
<circle cx="1754.2" cy="852.3" r="9.0" fill="#9fc9e2" stroke="#a8a8a8" stroke-width="1.3"/>
<circle cx="1785.8" cy="852.3" r="13.9" fill="#0a2f6b" stroke="#1a3f7a" stroke-width="0.6"/>
<circle cx="1817.6" cy="852.3" r="6.6" fill="#fdfdff" stroke="#a8a8a8" stroke-width="1.3"/>
<circle cx="1754.2" cy="885.6" r="7.7" fill="#f1f6fc" stroke="#a8a8a8" stroke-width="1.3"/>
<circle cx="1785.8" cy="885.6" r="11.9" fill="#0a2f6b" stroke="#1a3f7a" stroke-width="0.6"/>
<circle cx="1817.6" cy="885.6" r="11.9" fill="#0b357a" stroke="#1a3f7a" stroke-width="0.6"/>
<circle cx="1754.2" cy="918.5" r="5.3" fill="#ffffff" stroke="#a8a8a8" stroke-width="1.3"/>
<circle cx="1785.8" cy="918.5" r="12.9" fill="#0f4f9a" stroke="#1a3f7a" stroke-width="0.6"/>
<circle cx="1817.6" cy="918.5" r="12.7" fill="#0a2f6b" stroke="#1a3f7a" stroke-width="0.6"/>
<circle cx="1754.2" cy="951.7" r="5.3" fill="#ffffff" stroke="#a8a8a8" stroke-width="1.3"/>
<circle cx="1785.8" cy="951.7" r="13.2" fill="#1460ab" stroke="#1a3f7a" stroke-width="0.6"/>
<circle cx="1817.6" cy="951.7" r="13.4" fill="#0a2f6b" stroke="#1a3f7a" stroke-width="0.6"/>
<text x="0" y="0" font-size="25.0" fill="#279e68" font-weight="700" textLength="146.27" lengthAdjust="spacingAndGlyphs" stroke="#279e68" stroke-width="0.40" stroke-linejoin="round" transform="translate(1762.6 1150.6) rotate(-90)">Naïve Fascia</text>
<text x="0" y="0" font-size="25.0" fill="#17becf" font-weight="700" textLength="223.47" lengthAdjust="spacingAndGlyphs" stroke="#17becf" stroke-width="0.40" stroke-linejoin="round" transform="translate(1795.0 1227.3) rotate(-90)">Intermediate state</text>
<text x="0" y="0" font-size="25.0" fill="#aec7e8" font-weight="700" textLength="241.03" lengthAdjust="spacingAndGlyphs" stroke="#aec7e8" stroke-width="0.40" stroke-linejoin="round" transform="translate(1827.4 1245.2) rotate(-90)">Proinflammatory Fb</text>
<text x="1872.7" y="791.3" font-size="22.2" fill="#080808" textLength="167.90" lengthAdjust="spacingAndGlyphs" stroke="#080808" stroke-width="0.35" stroke-linejoin="round">Fraction of cells</text>
<text x="1891.0" y="816.6" font-size="22.2" fill="#080808" textLength="130.79" lengthAdjust="spacingAndGlyphs" stroke="#080808" stroke-width="0.35" stroke-linejoin="round">in group (%)</text>
<circle cx="1889.6" cy="843.9" r="3.5" fill="#858585"/>
<rect x="1888.8" y="864.2" width="1.5" height="6.5" fill="#333"/>
<circle cx="1920.2" cy="843.9" r="7.0" fill="#858585"/>
<rect x="1919.5" y="864.2" width="1.5" height="6.5" fill="#333"/>
<circle cx="1951.1" cy="843.9" r="10.0" fill="#858585"/>
<rect x="1950.3" y="864.2" width="1.5" height="6.5" fill="#333"/>
<circle cx="1981.8" cy="843.9" r="12.5" fill="#858585"/>
<rect x="1981.0" y="864.2" width="1.5" height="6.5" fill="#333"/>
<circle cx="2012.5" cy="843.9" r="15.0" fill="#858585"/>
<rect x="2011.8" y="864.2" width="1.5" height="6.5" fill="#333"/>
<text x="1879.2" y="895.5" font-size="22.2" fill="#080808" textLength="23.50" lengthAdjust="spacingAndGlyphs" stroke="#080808" stroke-width="0.35" stroke-linejoin="round">10</text>
<text x="1908.0" y="895.5" font-size="22.2" fill="#080808" textLength="23.50" lengthAdjust="spacingAndGlyphs" stroke="#080808" stroke-width="0.35" stroke-linejoin="round">30</text>
<text x="1938.6" y="895.5" font-size="22.2" fill="#080808" textLength="23.50" lengthAdjust="spacingAndGlyphs" stroke="#080808" stroke-width="0.35" stroke-linejoin="round">50</text>
<text x="1970.0" y="895.5" font-size="22.2" fill="#080808" textLength="23.50" lengthAdjust="spacingAndGlyphs" stroke="#080808" stroke-width="0.35" stroke-linejoin="round">70</text>
<text x="2000.2" y="895.5" font-size="22.2" fill="#080808" textLength="23.50" lengthAdjust="spacingAndGlyphs" stroke="#080808" stroke-width="0.35" stroke-linejoin="round">90</text>
<text x="1864.7" y="927.5" font-size="22.2" fill="#080808" textLength="183.01" lengthAdjust="spacingAndGlyphs" stroke="#080808" stroke-width="0.35" stroke-linejoin="round">Mean expression</text>
<text x="1912.7" y="952.3" font-size="22.2" fill="#080808" textLength="86.27" lengthAdjust="spacingAndGlyphs" stroke="#080808" stroke-width="0.35" stroke-linejoin="round">in group</text>
<defs><linearGradient id="bl" x1="0" y1="0" x2="1" y2="0"><stop offset="0" stop-color="#f7fbff"/><stop offset="0.125" stop-color="#deebf7"/><stop offset="0.25" stop-color="#c6dbef"/><stop offset="0.375" stop-color="#9ecae1"/><stop offset="0.5" stop-color="#6baed6"/><stop offset="0.625" stop-color="#4292c6"/><stop offset="0.75" stop-color="#2171b5"/><stop offset="0.875" stop-color="#08519c"/><stop offset="1" stop-color="#08306b"/></linearGradient></defs>
<rect x="1879.2" y="965.3" width="154.9" height="20.1" fill="url(#bl)" stroke="#222" stroke-width="1.4"/>
<rect x="1878.5" y="985.4" width="1.5" height="6.5" fill="#333"/>
<rect x="1955.2" y="985.4" width="1.5" height="6.5" fill="#333"/>
<rect x="2033.0" y="985.4" width="1.5" height="6.5" fill="#333"/>
<text x="1862.5" y="1016.0" font-size="22.4" fill="#080808" textLength="32.50" lengthAdjust="spacingAndGlyphs" stroke="#080808" stroke-width="0.35" stroke-linejoin="round">0.0</text>
<text x="1939.7" y="1016.0" font-size="22.4" fill="#080808" textLength="33.10" lengthAdjust="spacingAndGlyphs" stroke="#080808" stroke-width="0.35" stroke-linejoin="round">0.5</text>
<text x="2019.7" y="1016.0" font-size="22.4" fill="#080808" textLength="29.10" lengthAdjust="spacingAndGlyphs" stroke="#080808" stroke-width="0.35" stroke-linejoin="round">1.0</text>
</g>
<rect x="0" y="0" width="2054" height="2.4" fill="#e9e8f0"/>
<rect x="0" y="0" width="2.2" height="1250" fill="#e6e6ea"/>
<rect x="2050.0" y="0" width="4" height="1250" fill="#eceaf2"/>
<rect x="0" y="1246.0" width="2054" height="4" fill="#e9e8f0"/>
<rect x="0" y="0" width="2054" height="1.3" fill="#b9b6c9"/>
<rect x="0" y="0" width="1.1" height="1250" fill="#b6b5bf"/>
<rect x="2051.0" y="0" width="3" height="1250" fill="#bcb9cb"/>
<rect x="0" y="1247.0" width="2054" height="3" fill="#b9b6c9"/>
</svg>
</body></html>
